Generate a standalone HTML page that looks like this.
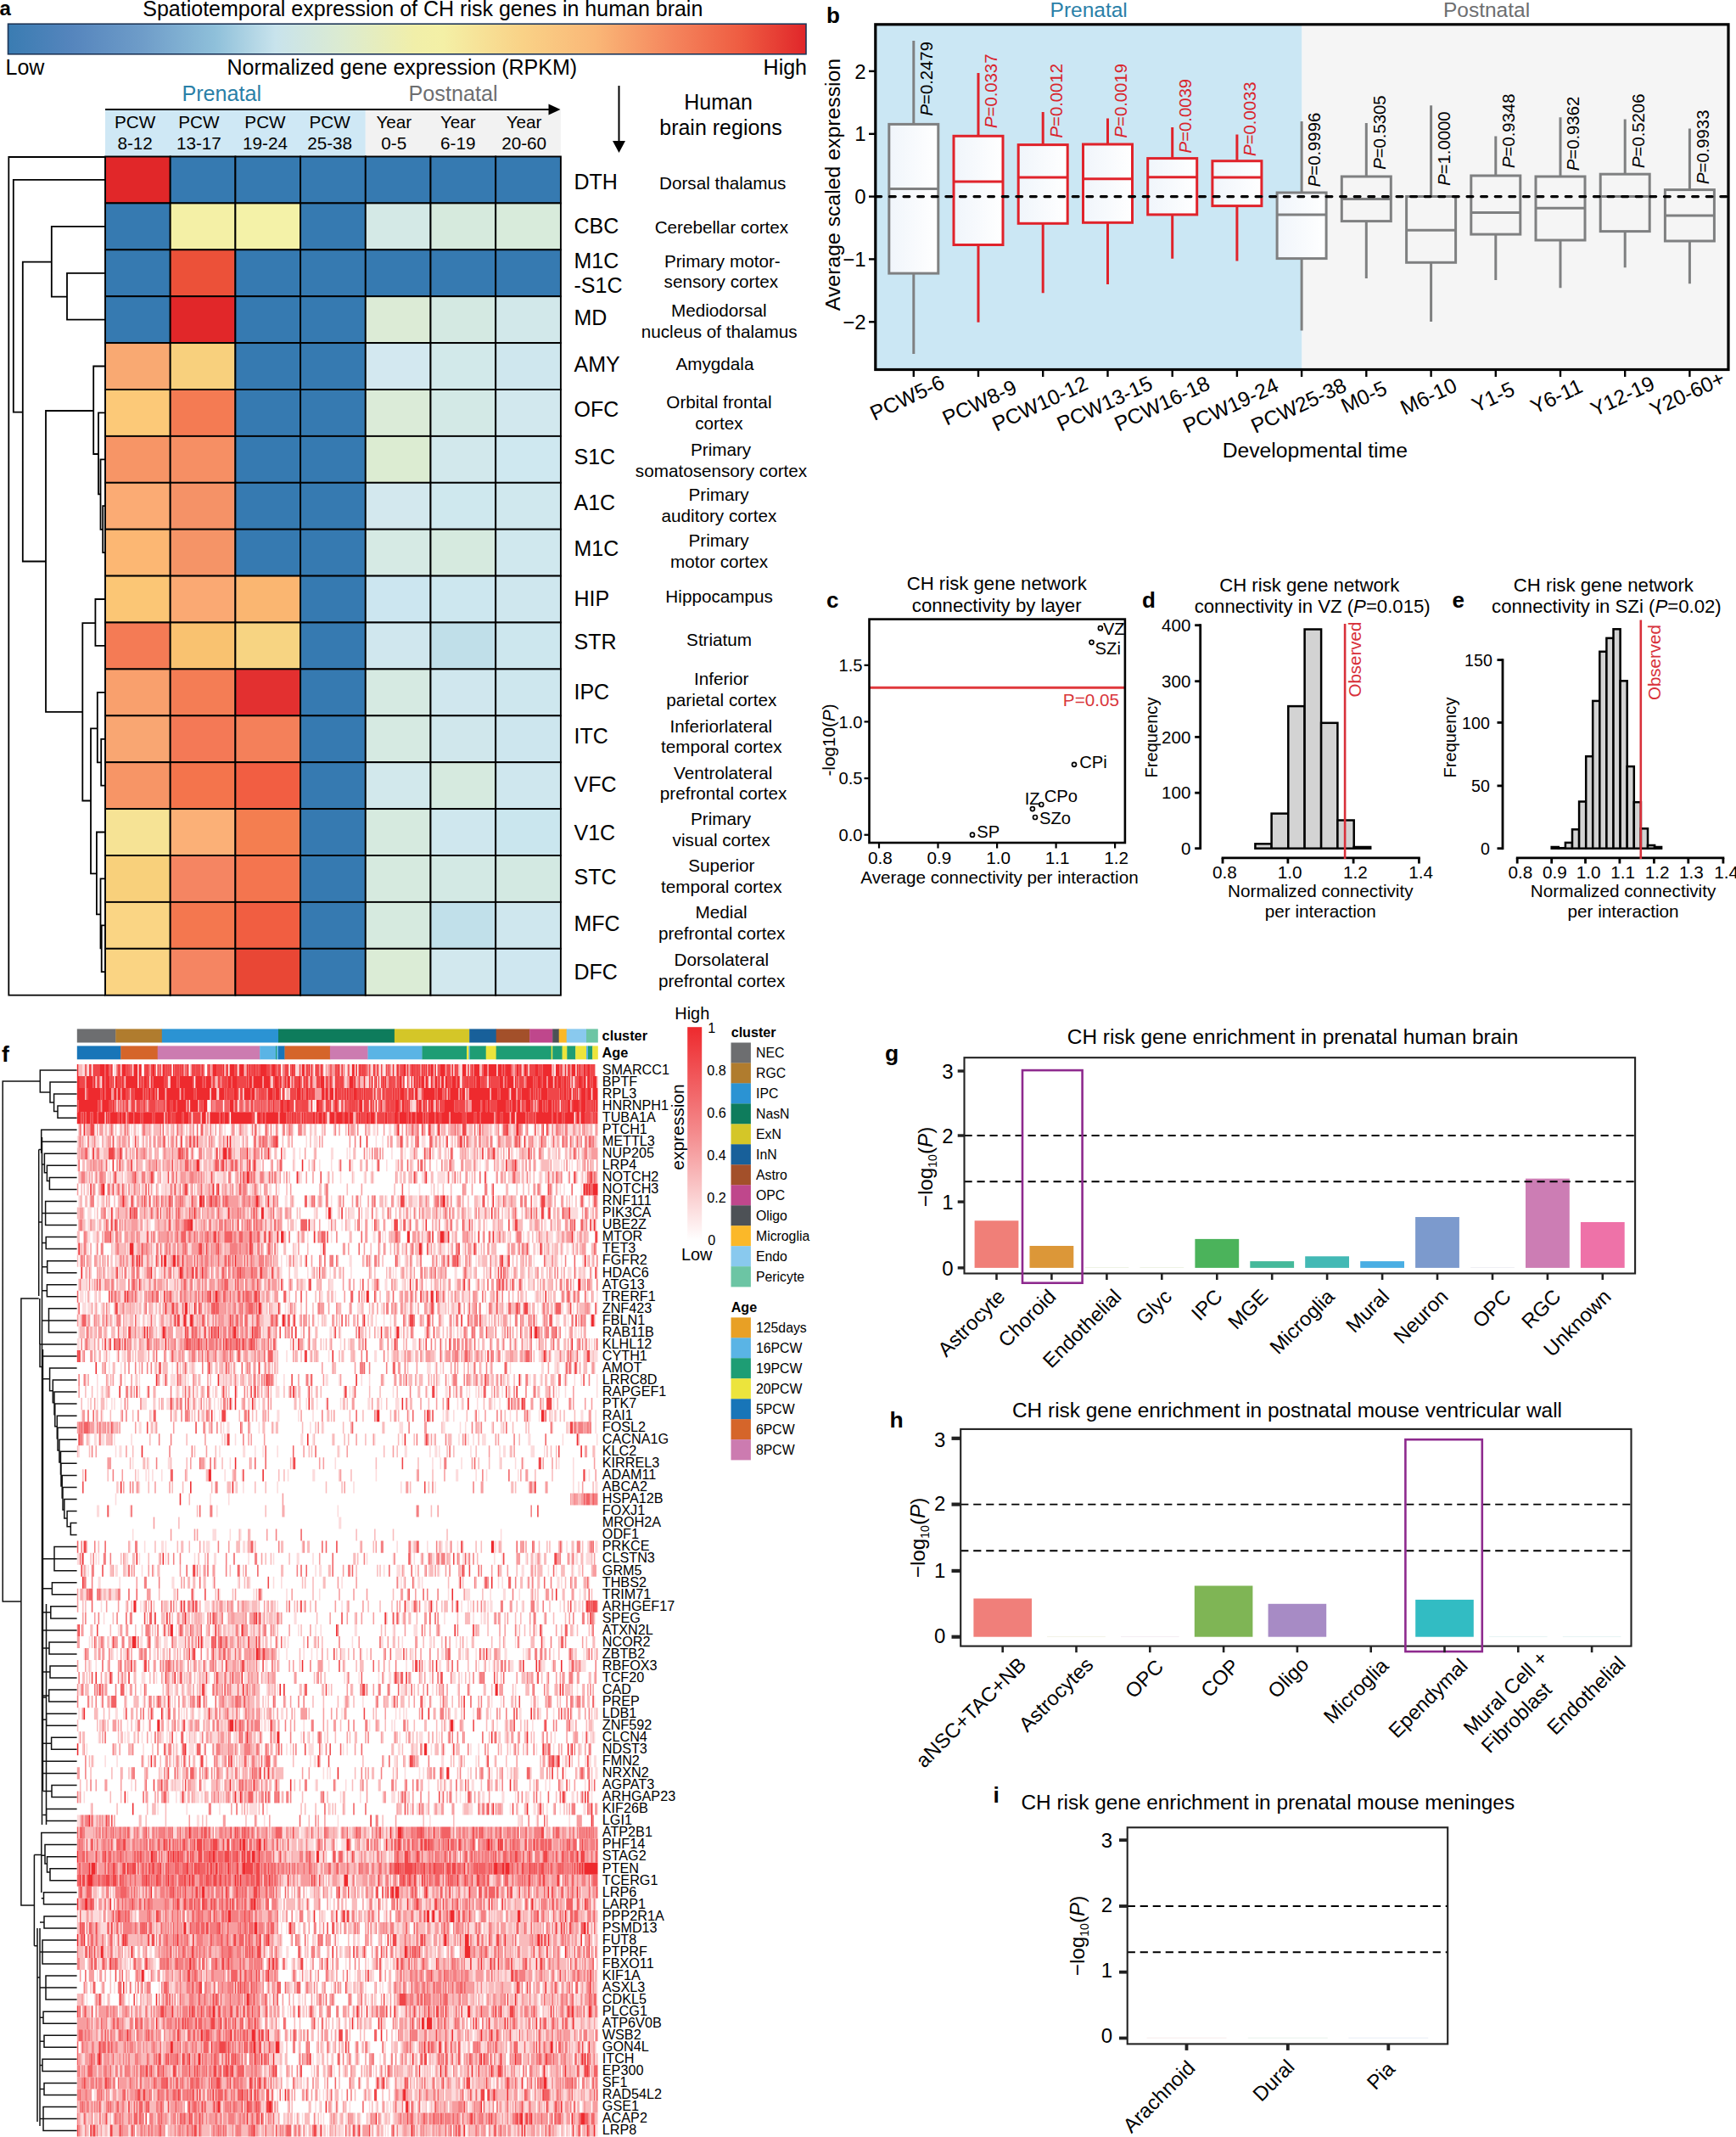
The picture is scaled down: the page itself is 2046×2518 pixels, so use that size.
<!DOCTYPE html>
<html><head><meta charset="utf-8"><title>CH risk genes figure</title>
<style>html,body{margin:0;padding:0;background:#fff}svg{display:block}text{font-family:"Liberation Sans",sans-serif}</style>
</head><body>
<svg width="2046" height="2518" viewBox="0 0 2046 2518">
<rect width="2046" height="2518" fill="#fff"/>
<text x="-0.5" y="18.3" font-size="24" font-weight="bold">a</text>
<text x="498.3" y="18.6" font-size="25" text-anchor="middle">Spatiotemporal expression of CH risk genes in human brain</text>
<defs><linearGradient id="ga" x1="0" x2="1" y1="0" y2="0"><stop offset="0" stop-color="#3a7cb2"/><stop offset="0.08" stop-color="#5585bd"/><stop offset="0.17" stop-color="#6f9dc9"/><stop offset="0.26" stop-color="#8fc0da"/><stop offset="0.335" stop-color="#c8e3ec"/><stop offset="0.42" stop-color="#dcebd0"/><stop offset="0.51" stop-color="#f1efa9"/><stop offset="0.545" stop-color="#f4f0a6"/><stop offset="0.644" stop-color="#f9d287"/><stop offset="0.736" stop-color="#fab777"/><stop offset="0.828" stop-color="#f5875e"/><stop offset="0.92" stop-color="#ee5b41"/><stop offset="1" stop-color="#e0262a"/></linearGradient></defs>
<rect x="9.5" y="28.2" width="940.5" height="35.6" fill="url(#ga)" stroke="#1d3557" stroke-width="1.6"/>
<text x="6.5" y="88.2" font-size="25">Low</text>
<text x="473.8" y="88.2" font-size="25" text-anchor="middle">Normalized gene expression (RPKM)</text>
<text x="951.0" y="88.2" font-size="25" text-anchor="end">High</text>
<text x="261.3" y="119.3" font-size="25.2" text-anchor="middle" fill="#2a80a8">Prenatal</text>
<text x="534.0" y="119.3" font-size="25.2" text-anchor="middle" fill="#6d6e70">Postnatal</text>
<rect x="124.0" y="130" width="306.8" height="54.5" fill="#cfe8f5"/>
<rect x="430.8" y="130" width="230.1" height="54.5" fill="#f2f2f2"/>
<path d="M124 129H650" stroke="#000" stroke-width="2" fill="none"/>
<path d="M660.5 129L646.5 122.5V135.5Z" fill="#000"/>
<path d="M729.5 101V168" stroke="#000" stroke-width="2" fill="none"/>
<path d="M729.5 180L722 166H737Z" fill="#000"/>
<text x="159.1" y="150.5" font-size="20.7" text-anchor="middle">PCW</text>
<text x="159.1" y="175.8" font-size="20.7" text-anchor="middle">8-12</text>
<text x="234.4" y="150.5" font-size="20.7" text-anchor="middle">PCW</text>
<text x="234.4" y="175.8" font-size="20.7" text-anchor="middle">13-17</text>
<text x="312.5" y="150.5" font-size="20.7" text-anchor="middle">PCW</text>
<text x="312.5" y="175.8" font-size="20.7" text-anchor="middle">19-24</text>
<text x="388.6" y="150.5" font-size="20.7" text-anchor="middle">PCW</text>
<text x="388.6" y="175.8" font-size="20.7" text-anchor="middle">25-38</text>
<text x="464.3" y="150.5" font-size="20.7" text-anchor="middle">Year</text>
<text x="464.3" y="175.8" font-size="20.7" text-anchor="middle">0-5</text>
<text x="539.8" y="150.5" font-size="20.7" text-anchor="middle">Year</text>
<text x="539.8" y="175.8" font-size="20.7" text-anchor="middle">6-19</text>
<text x="617.6" y="150.5" font-size="20.7" text-anchor="middle">Year</text>
<text x="617.6" y="175.8" font-size="20.7" text-anchor="middle">20-60</text>
<text x="846.5" y="128.7" font-size="25" text-anchor="middle">Human</text>
<text x="849.5" y="159.3" font-size="25" text-anchor="middle">brain regions</text>
<g stroke="#000" stroke-width="1.9">
<rect x="124.0" y="184.5" width="76.7" height="54.9" fill="#e12729"/>
<rect x="200.7" y="184.5" width="76.7" height="54.9" fill="#367ab1"/>
<rect x="277.4" y="184.5" width="76.7" height="54.9" fill="#367ab1"/>
<rect x="354.1" y="184.5" width="76.7" height="54.9" fill="#367ab1"/>
<rect x="430.8" y="184.5" width="76.7" height="54.9" fill="#367ab1"/>
<rect x="507.5" y="184.5" width="76.7" height="54.9" fill="#367ab1"/>
<rect x="584.2" y="184.5" width="76.7" height="54.9" fill="#367ab1"/>
<rect x="124.0" y="239.4" width="76.7" height="54.9" fill="#367ab1"/>
<rect x="200.7" y="239.4" width="76.7" height="54.9" fill="#f4f0a6"/>
<rect x="277.4" y="239.4" width="76.7" height="54.9" fill="#f4f2a8"/>
<rect x="354.1" y="239.4" width="76.7" height="54.9" fill="#367ab1"/>
<rect x="430.8" y="239.4" width="76.7" height="54.9" fill="#d4e9e6"/>
<rect x="507.5" y="239.4" width="76.7" height="54.9" fill="#d6eadd"/>
<rect x="584.2" y="239.4" width="76.7" height="54.9" fill="#d8ebdb"/>
<rect x="124.0" y="294.3" width="76.7" height="54.9" fill="#367ab1"/>
<rect x="200.7" y="294.3" width="76.7" height="54.9" fill="#ec5139"/>
<rect x="277.4" y="294.3" width="76.7" height="54.9" fill="#367ab1"/>
<rect x="354.1" y="294.3" width="76.7" height="54.9" fill="#367ab1"/>
<rect x="430.8" y="294.3" width="76.7" height="54.9" fill="#367ab1"/>
<rect x="507.5" y="294.3" width="76.7" height="54.9" fill="#367ab1"/>
<rect x="584.2" y="294.3" width="76.7" height="54.9" fill="#367ab1"/>
<rect x="124.0" y="349.2" width="76.7" height="54.9" fill="#367ab1"/>
<rect x="200.7" y="349.2" width="76.7" height="54.9" fill="#e12729"/>
<rect x="277.4" y="349.2" width="76.7" height="54.9" fill="#367ab1"/>
<rect x="354.1" y="349.2" width="76.7" height="54.9" fill="#367ab1"/>
<rect x="430.8" y="349.2" width="76.7" height="54.9" fill="#dcebd6"/>
<rect x="507.5" y="349.2" width="76.7" height="54.9" fill="#d4e9e2"/>
<rect x="584.2" y="349.2" width="76.7" height="54.9" fill="#d2e8ea"/>
<rect x="124.0" y="404.1" width="76.7" height="54.9" fill="#f9a972"/>
<rect x="200.7" y="404.1" width="76.7" height="54.9" fill="#f8d07d"/>
<rect x="277.4" y="404.1" width="76.7" height="54.9" fill="#367ab1"/>
<rect x="354.1" y="404.1" width="76.7" height="54.9" fill="#367ab1"/>
<rect x="430.8" y="404.1" width="76.7" height="54.9" fill="#d3e8f0"/>
<rect x="507.5" y="404.1" width="76.7" height="54.9" fill="#d2e9ea"/>
<rect x="584.2" y="404.1" width="76.7" height="54.9" fill="#cfe7ee"/>
<rect x="124.0" y="459.0" width="76.7" height="54.9" fill="#fcc978"/>
<rect x="200.7" y="459.0" width="76.7" height="54.9" fill="#f47b53"/>
<rect x="277.4" y="459.0" width="76.7" height="54.9" fill="#367ab1"/>
<rect x="354.1" y="459.0" width="76.7" height="54.9" fill="#367ab1"/>
<rect x="430.8" y="459.0" width="76.7" height="54.9" fill="#dbebd8"/>
<rect x="507.5" y="459.0" width="76.7" height="54.9" fill="#d3e9e6"/>
<rect x="584.2" y="459.0" width="76.7" height="54.9" fill="#d2e8ee"/>
<rect x="124.0" y="513.9" width="76.7" height="54.9" fill="#f79566"/>
<rect x="200.7" y="513.9" width="76.7" height="54.9" fill="#f68f64"/>
<rect x="277.4" y="513.9" width="76.7" height="54.9" fill="#367ab1"/>
<rect x="354.1" y="513.9" width="76.7" height="54.9" fill="#367ab1"/>
<rect x="430.8" y="513.9" width="76.7" height="54.9" fill="#dcecd2"/>
<rect x="507.5" y="513.9" width="76.7" height="54.9" fill="#d2e8ec"/>
<rect x="584.2" y="513.9" width="76.7" height="54.9" fill="#cfe8f0"/>
<rect x="124.0" y="568.8" width="76.7" height="54.9" fill="#fbab74"/>
<rect x="200.7" y="568.8" width="76.7" height="54.9" fill="#f59267"/>
<rect x="277.4" y="568.8" width="76.7" height="54.9" fill="#367ab1"/>
<rect x="354.1" y="568.8" width="76.7" height="54.9" fill="#367ab1"/>
<rect x="430.8" y="568.8" width="76.7" height="54.9" fill="#d3e8ee"/>
<rect x="507.5" y="568.8" width="76.7" height="54.9" fill="#cfe8ee"/>
<rect x="584.2" y="568.8" width="76.7" height="54.9" fill="#d0e8ee"/>
<rect x="124.0" y="623.7" width="76.7" height="54.9" fill="#fcb773"/>
<rect x="200.7" y="623.7" width="76.7" height="54.9" fill="#f59467"/>
<rect x="277.4" y="623.7" width="76.7" height="54.9" fill="#367ab1"/>
<rect x="354.1" y="623.7" width="76.7" height="54.9" fill="#367ab1"/>
<rect x="430.8" y="623.7" width="76.7" height="54.9" fill="#d6eae4"/>
<rect x="507.5" y="623.7" width="76.7" height="54.9" fill="#d6eadf"/>
<rect x="584.2" y="623.7" width="76.7" height="54.9" fill="#d0e8ee"/>
<rect x="124.0" y="678.6" width="76.7" height="54.9" fill="#fbc675"/>
<rect x="200.7" y="678.6" width="76.7" height="54.9" fill="#faa973"/>
<rect x="277.4" y="678.6" width="76.7" height="54.9" fill="#fab671"/>
<rect x="354.1" y="678.6" width="76.7" height="54.9" fill="#367ab1"/>
<rect x="430.8" y="678.6" width="76.7" height="54.9" fill="#cce6f0"/>
<rect x="507.5" y="678.6" width="76.7" height="54.9" fill="#cde7ef"/>
<rect x="584.2" y="678.6" width="76.7" height="54.9" fill="#cfe7ee"/>
<rect x="124.0" y="733.5" width="76.7" height="54.9" fill="#f47b55"/>
<rect x="200.7" y="733.5" width="76.7" height="54.9" fill="#f9c270"/>
<rect x="277.4" y="733.5" width="76.7" height="54.9" fill="#f7d482"/>
<rect x="354.1" y="733.5" width="76.7" height="54.9" fill="#367ab1"/>
<rect x="430.8" y="733.5" width="76.7" height="54.9" fill="#d0e7ee"/>
<rect x="507.5" y="733.5" width="76.7" height="54.9" fill="#c0dfe9"/>
<rect x="584.2" y="733.5" width="76.7" height="54.9" fill="#cde7ee"/>
<rect x="124.0" y="788.4" width="76.7" height="54.9" fill="#f9a06d"/>
<rect x="200.7" y="788.4" width="76.7" height="54.9" fill="#f47d55"/>
<rect x="277.4" y="788.4" width="76.7" height="54.9" fill="#e33030"/>
<rect x="354.1" y="788.4" width="76.7" height="54.9" fill="#367ab1"/>
<rect x="430.8" y="788.4" width="76.7" height="54.9" fill="#d6eae2"/>
<rect x="507.5" y="788.4" width="76.7" height="54.9" fill="#d0e7ee"/>
<rect x="584.2" y="788.4" width="76.7" height="54.9" fill="#cee7ee"/>
<rect x="124.0" y="843.3" width="76.7" height="54.9" fill="#f9a672"/>
<rect x="200.7" y="843.3" width="76.7" height="54.9" fill="#f47956"/>
<rect x="277.4" y="843.3" width="76.7" height="54.9" fill="#f4805a"/>
<rect x="354.1" y="843.3" width="76.7" height="54.9" fill="#367ab1"/>
<rect x="430.8" y="843.3" width="76.7" height="54.9" fill="#d6eae2"/>
<rect x="507.5" y="843.3" width="76.7" height="54.9" fill="#d0e7ec"/>
<rect x="584.2" y="843.3" width="76.7" height="54.9" fill="#cde6ee"/>
<rect x="124.0" y="898.2" width="76.7" height="54.9" fill="#f79566"/>
<rect x="200.7" y="898.2" width="76.7" height="54.9" fill="#f4744c"/>
<rect x="277.4" y="898.2" width="76.7" height="54.9" fill="#f25e42"/>
<rect x="354.1" y="898.2" width="76.7" height="54.9" fill="#367ab1"/>
<rect x="430.8" y="898.2" width="76.7" height="54.9" fill="#d2e8ec"/>
<rect x="507.5" y="898.2" width="76.7" height="54.9" fill="#d6eadf"/>
<rect x="584.2" y="898.2" width="76.7" height="54.9" fill="#cfe7ee"/>
<rect x="124.0" y="953.1" width="76.7" height="54.9" fill="#f6e395"/>
<rect x="200.7" y="953.1" width="76.7" height="54.9" fill="#fbb077"/>
<rect x="277.4" y="953.1" width="76.7" height="54.9" fill="#f47e50"/>
<rect x="354.1" y="953.1" width="76.7" height="54.9" fill="#367ab1"/>
<rect x="430.8" y="953.1" width="76.7" height="54.9" fill="#d6eadf"/>
<rect x="507.5" y="953.1" width="76.7" height="54.9" fill="#cfe7ee"/>
<rect x="584.2" y="953.1" width="76.7" height="54.9" fill="#cae6ee"/>
<rect x="124.0" y="1008.0" width="76.7" height="54.9" fill="#f8d07b"/>
<rect x="200.7" y="1008.0" width="76.7" height="54.9" fill="#f58562"/>
<rect x="277.4" y="1008.0" width="76.7" height="54.9" fill="#f4754f"/>
<rect x="354.1" y="1008.0" width="76.7" height="54.9" fill="#367ab1"/>
<rect x="430.8" y="1008.0" width="76.7" height="54.9" fill="#d6eadf"/>
<rect x="507.5" y="1008.0" width="76.7" height="54.9" fill="#d3e9e4"/>
<rect x="584.2" y="1008.0" width="76.7" height="54.9" fill="#d3e9e2"/>
<rect x="124.0" y="1062.9" width="76.7" height="54.9" fill="#fad584"/>
<rect x="200.7" y="1062.9" width="76.7" height="54.9" fill="#f4774f"/>
<rect x="277.4" y="1062.9" width="76.7" height="54.9" fill="#f15e41"/>
<rect x="354.1" y="1062.9" width="76.7" height="54.9" fill="#367ab1"/>
<rect x="430.8" y="1062.9" width="76.7" height="54.9" fill="#d6eadf"/>
<rect x="507.5" y="1062.9" width="76.7" height="54.9" fill="#c1e0ea"/>
<rect x="584.2" y="1062.9" width="76.7" height="54.9" fill="#cfe7ee"/>
<rect x="124.0" y="1117.8" width="76.7" height="54.9" fill="#fad483"/>
<rect x="200.7" y="1117.8" width="76.7" height="54.9" fill="#f58562"/>
<rect x="277.4" y="1117.8" width="76.7" height="54.9" fill="#e94735"/>
<rect x="354.1" y="1117.8" width="76.7" height="54.9" fill="#367ab1"/>
<rect x="430.8" y="1117.8" width="76.7" height="54.9" fill="#dbecd6"/>
<rect x="507.5" y="1117.8" width="76.7" height="54.9" fill="#d2e8ee"/>
<rect x="584.2" y="1117.8" width="76.7" height="54.9" fill="#cfe7f0"/>
</g>
<path d="M124 185H10.3V1172.7H124M124 211.9H15.8V485.6H26.8M60.8 308.7H26.8V661.5H54M124 266.9H60.8V349.6H79M124 321.8H79V376.6H124M110.2 484H54V838.8H97.3M124 431.5H110.2V535H116M124 486.4H116V582.4H118.5M124 541.3H118.5V623.8H121.2M124 596.2H121.2V651.1H124M112.4 734.2H97.3V943.5H107M124 706.0H112.4V760.9H124M114.8 858.3H107V1029.3H113.9M124 815.9H114.8V898.4H119.2M124 870.8H119.2V925.6H124M124 980.5H113.9V1077.3H118.5M124 1035.4H118.5V1117.4H119.7M124 1090.3H119.7V1145.2H124" fill="none" stroke="#000" stroke-width="1.8"/>
<text x="676.5" y="222.5" font-size="25">DTH</text>
<text x="676.5" y="275.4" font-size="25">CBC</text>
<text x="676.5" y="316.0" font-size="25">M1C</text>
<text x="676.5" y="345.4" font-size="25">-S1C</text>
<text x="676.5" y="383.3" font-size="25">MD</text>
<text x="676.5" y="437.7" font-size="25">AMY</text>
<text x="676.5" y="491.4" font-size="25">OFC</text>
<text x="676.5" y="547.4" font-size="25">S1C</text>
<text x="676.5" y="601.0" font-size="25">A1C</text>
<text x="676.5" y="655.3" font-size="25">M1C</text>
<text x="676.5" y="713.9" font-size="25">HIP</text>
<text x="676.5" y="764.7" font-size="25">STR</text>
<text x="676.5" y="823.6" font-size="25">IPC</text>
<text x="676.5" y="876.4" font-size="25">ITC</text>
<text x="676.5" y="933.4" font-size="25">VFC</text>
<text x="676.5" y="989.7" font-size="25">V1C</text>
<text x="676.5" y="1041.5" font-size="25">STC</text>
<text x="676.5" y="1097.0" font-size="25">MFC</text>
<text x="676.5" y="1153.6" font-size="25">DFC</text>
<text x="851.7" y="222.5" font-size="20.7" text-anchor="middle">Dorsal thalamus</text>
<text x="850.4" y="275.4" font-size="20.7" text-anchor="middle">Cerebellar cortex</text>
<text x="851.3" y="314.8" font-size="20.7" text-anchor="middle">Primary motor-</text>
<text x="849.8" y="339.4" font-size="20.7" text-anchor="middle">sensory cortex</text>
<text x="847.3" y="372.8" font-size="20.7" text-anchor="middle">Mediodorsal</text>
<text x="847.7" y="397.6" font-size="20.7" text-anchor="middle">nucleus of thalamus</text>
<text x="842.4" y="435.8" font-size="20.7" text-anchor="middle">Amygdala</text>
<text x="847.4" y="480.6" font-size="20.7" text-anchor="middle">Orbital frontal</text>
<text x="847.4" y="505.7" font-size="20.7" text-anchor="middle">cortex</text>
<text x="849.6" y="536.7" font-size="20.7" text-anchor="middle">Primary</text>
<text x="850.0" y="561.8" font-size="20.7" text-anchor="middle">somatosensory cortex</text>
<text x="847.1" y="590.0" font-size="20.7" text-anchor="middle">Primary</text>
<text x="847.4" y="614.7" font-size="20.7" text-anchor="middle">auditory cortex</text>
<text x="847.1" y="644.0" font-size="20.7" text-anchor="middle">Primary</text>
<text x="847.6" y="669.0" font-size="20.7" text-anchor="middle">motor cortex</text>
<text x="847.6" y="710.3" font-size="20.7" text-anchor="middle">Hippocampus</text>
<text x="847.6" y="761.1" font-size="20.7" text-anchor="middle">Striatum</text>
<text x="850.1" y="806.5" font-size="20.7" text-anchor="middle">Inferior</text>
<text x="850.3" y="831.5" font-size="20.7" text-anchor="middle">parietal cortex</text>
<text x="849.8" y="862.5" font-size="20.7" text-anchor="middle">Inferiorlateral</text>
<text x="850.2" y="887.1" font-size="20.7" text-anchor="middle">temporal cortex</text>
<text x="852.2" y="917.9" font-size="20.7" text-anchor="middle">Ventrolateral</text>
<text x="852.5" y="942.0" font-size="20.7" text-anchor="middle">prefrontal cortex</text>
<text x="849.6" y="971.8" font-size="20.7" text-anchor="middle">Primary</text>
<text x="850.1" y="996.9" font-size="20.7" text-anchor="middle">visual cortex</text>
<text x="850.4" y="1026.5" font-size="20.7" text-anchor="middle">Superior</text>
<text x="850.2" y="1051.5" font-size="20.7" text-anchor="middle">temporal cortex</text>
<text x="850.1" y="1082.0" font-size="20.7" text-anchor="middle">Medial</text>
<text x="850.7" y="1106.6" font-size="20.7" text-anchor="middle">prefrontal cortex</text>
<text x="850.3" y="1138.0" font-size="20.7" text-anchor="middle">Dorsolateral</text>
<text x="850.7" y="1163.0" font-size="20.7" text-anchor="middle">prefrontal cortex</text>
<text x="974.0" y="26.5" font-size="26" font-weight="bold">b</text>
<text x="1283.2" y="19.5" font-size="24.5" text-anchor="middle" fill="#2a80a8">Prenatal</text>
<text x="1752.0" y="19.5" font-size="24.5" text-anchor="middle" fill="#6d6e70">Postnatal</text>
<rect x="1031.8" y="28.8" width="502.7" height="406.7" fill="#cbe7f4"/>
<rect x="1534.5" y="28.8" width="502.5" height="406.7" fill="#f5f5f5"/>
<path d="M1024 83.9H1031" stroke="#000" stroke-width="2.4"/>
<text x="1020.5" y="92.5" font-size="24" text-anchor="end">2</text>
<path d="M1024 157.8H1031" stroke="#000" stroke-width="2.4"/>
<text x="1020.5" y="166.3" font-size="24" text-anchor="end">1</text>
<path d="M1024 231.6H1031" stroke="#000" stroke-width="2.4"/>
<text x="1020.5" y="240.2" font-size="24" text-anchor="end">0</text>
<path d="M1024 305.4H1031" stroke="#000" stroke-width="2.4"/>
<text x="1020.5" y="314.1" font-size="24" text-anchor="end">−1</text>
<path d="M1024 379.3H1031" stroke="#000" stroke-width="2.4"/>
<text x="1020.5" y="387.9" font-size="24" text-anchor="end">−2</text>
<text transform="translate(989.5,217.5) rotate(-90)" font-size="24.8" text-anchor="middle">Average scaled expression</text>
<defs><linearGradient id="gb" x1="0" x2="1" y1="0" y2="0"><stop offset="0" stop-color="#f0f5fb"/><stop offset="1" stop-color="#ffffff"/></linearGradient></defs>
<g stroke="#7f8081" stroke-width="3" fill="none"><path d="M1076.8 48.0V146.4M1076.8 322.1V417.1"/><rect x="1047.8" y="146.4" width="58.0" height="175.7" fill="url(#gb)"/><path d="M1047.8 222.5H1105.8"/></g>
<g stroke="#e0232b" stroke-width="3" fill="none"><path d="M1153.0 86.0V160.3M1153.0 288.5V379.8"/><rect x="1124.0" y="160.3" width="58.0" height="128.2" fill="url(#gb)"/><path d="M1124.0 213.9H1182.0"/></g>
<g stroke="#e0232b" stroke-width="3" fill="none"><path d="M1229.2 132.0V170.6M1229.2 263.3V345.2"/><rect x="1200.2" y="170.6" width="58.0" height="92.7" fill="url(#gb)"/><path d="M1200.2 209.0H1258.2"/></g>
<g stroke="#e0232b" stroke-width="3" fill="none"><path d="M1305.5 139.6V170.0M1305.5 262.3V334.9"/><rect x="1276.5" y="170.0" width="58.0" height="92.3" fill="url(#gb)"/><path d="M1276.5 210.8H1334.5"/></g>
<g stroke="#e0232b" stroke-width="3" fill="none"><path d="M1381.7 149.9V186.6M1381.7 252.9V304.8"/><rect x="1352.7" y="186.6" width="58.0" height="66.3" fill="url(#gb)"/><path d="M1352.7 208.7H1410.7"/></g>
<g stroke="#e0232b" stroke-width="3" fill="none"><path d="M1457.9 158.6V189.7M1457.9 242.6V307.6"/><rect x="1428.9" y="189.7" width="58.0" height="52.9" fill="url(#gb)"/><path d="M1428.9 209.0H1486.9"/></g>
<g stroke="#7f8081" stroke-width="3" fill="none"><path d="M1534.1 143.0V227.0M1534.1 304.6V389.5"/><rect x="1505.1" y="227.0" width="58.0" height="77.6" fill="url(#gb)"/><path d="M1505.1 252.9H1563.1"/></g>
<g stroke="#7f8081" stroke-width="3" fill="none"><path d="M1610.3 145.1V208.0M1610.3 260.6V327.9"/><rect x="1581.3" y="208.0" width="58.0" height="52.6" fill="none"/><path d="M1581.3 234.6H1639.3"/></g>
<g stroke="#7f8081" stroke-width="3" fill="none"><path d="M1686.6 124.3V231.5M1686.6 309.3V379.1"/><rect x="1657.6" y="231.5" width="58.0" height="77.8" fill="none"/><path d="M1657.6 271.3H1715.6"/></g>
<g stroke="#7f8081" stroke-width="3" fill="none"><path d="M1762.8 160.6V207.0M1762.8 276.1V330.0"/><rect x="1733.8" y="207.0" width="58.0" height="69.1" fill="none"/><path d="M1733.8 250.6H1791.8"/></g>
<g stroke="#7f8081" stroke-width="3" fill="none"><path d="M1839.0 138.2V208.0M1839.0 283.0V339.3"/><rect x="1810.0" y="208.0" width="58.0" height="75.0" fill="none"/><path d="M1810.0 245.3H1868.0"/></g>
<g stroke="#7f8081" stroke-width="3" fill="none"><path d="M1915.2 140.6V205.2M1915.2 272.6V315.2"/><rect x="1886.2" y="205.2" width="58.0" height="67.4" fill="none"/><path d="M1886.2 231.5H1944.2"/></g>
<g stroke="#7f8081" stroke-width="3" fill="none"><path d="M1991.4 151.6V223.6M1991.4 284.0V334.2"/><rect x="1962.4" y="223.6" width="58.0" height="60.4" fill="none"/><path d="M1962.4 254.0H2020.4"/></g>
<path d="M1031.8 231.6H2037.0" stroke="#000" stroke-width="3.1" stroke-linecap="round" stroke-dasharray="6.9 9.7"/>
<text transform="translate(1099.1,136.5) rotate(-90)" font-size="20.3"><tspan font-style="italic">P</tspan>=0.2479</text>
<text transform="translate(1175.3,151.0) rotate(-90)" font-size="20.3" fill="#d9242c"><tspan font-style="italic">P</tspan>=0.0337</text>
<text transform="translate(1251.5,162.5) rotate(-90)" font-size="20.3" fill="#d9242c"><tspan font-style="italic">P</tspan>=0.0012</text>
<text transform="translate(1327.8,162.5) rotate(-90)" font-size="20.3" fill="#d9242c"><tspan font-style="italic">P</tspan>=0.0019</text>
<text transform="translate(1404.0,180.4) rotate(-90)" font-size="20.3" fill="#d9242c"><tspan font-style="italic">P</tspan>=0.0039</text>
<text transform="translate(1480.2,183.9) rotate(-90)" font-size="20.3" fill="#d9242c"><tspan font-style="italic">P</tspan>=0.0033</text>
<text transform="translate(1556.4,220.2) rotate(-90)" font-size="20.3"><tspan font-style="italic">P</tspan>=0.9996</text>
<text transform="translate(1632.6,199.8) rotate(-90)" font-size="20.3"><tspan font-style="italic">P</tspan>=0.5305</text>
<text transform="translate(1708.9,218.8) rotate(-90)" font-size="20.3"><tspan font-style="italic">P</tspan>=1.0000</text>
<text transform="translate(1785.1,198.0) rotate(-90)" font-size="20.3"><tspan font-style="italic">P</tspan>=0.9348</text>
<text transform="translate(1861.3,201.2) rotate(-90)" font-size="20.3"><tspan font-style="italic">P</tspan>=0.9362</text>
<text transform="translate(1937.5,198.0) rotate(-90)" font-size="20.3"><tspan font-style="italic">P</tspan>=0.5206</text>
<text transform="translate(2013.7,217.0) rotate(-90)" font-size="20.3"><tspan font-style="italic">P</tspan>=0.9933</text>
<rect x="1031.8" y="28.8" width="1005.2" height="406.7" fill="none" stroke="#000" stroke-width="3.2"/>
<path d="M1076.8 437V444" stroke="#000" stroke-width="2.4"/>
<text transform="translate(1072.8,476.2) rotate(-25)" font-size="24.7" text-anchor="middle">PCW5-6</text>
<path d="M1153.0 437V444" stroke="#000" stroke-width="2.4"/>
<text transform="translate(1158.0,482.0) rotate(-25)" font-size="24.7" text-anchor="middle">PCW8-9</text>
<path d="M1229.2 437V444" stroke="#000" stroke-width="2.4"/>
<text transform="translate(1229.2,483.2) rotate(-25)" font-size="24.7" text-anchor="middle">PCW10-12</text>
<path d="M1305.5 437V444" stroke="#000" stroke-width="2.4"/>
<text transform="translate(1305.5,483.2) rotate(-25)" font-size="24.7" text-anchor="middle">PCW13-15</text>
<path d="M1381.7 437V444" stroke="#000" stroke-width="2.4"/>
<text transform="translate(1373.1,483.2) rotate(-25)" font-size="24.7" text-anchor="middle">PCW16-18</text>
<path d="M1457.9 437V444" stroke="#000" stroke-width="2.4"/>
<text transform="translate(1453.9,485.5) rotate(-25)" font-size="24.7" text-anchor="middle">PCW19-24</text>
<path d="M1534.1 437V444" stroke="#000" stroke-width="2.4"/>
<text transform="translate(1534.1,485.5) rotate(-25)" font-size="24.7" text-anchor="middle">PCW25-38</text>
<path d="M1610.3 437V444" stroke="#000" stroke-width="2.4"/>
<text transform="translate(1610.9,475.3) rotate(-25)" font-size="24.7" text-anchor="middle">M0-5</text>
<path d="M1686.6 437V444" stroke="#000" stroke-width="2.4"/>
<text transform="translate(1687.2,474.8) rotate(-25)" font-size="24.7" text-anchor="middle">M6-10</text>
<path d="M1762.8 437V444" stroke="#000" stroke-width="2.4"/>
<text transform="translate(1763.4,475.5) rotate(-25)" font-size="24.7" text-anchor="middle">Y1-5</text>
<path d="M1839.0 437V444" stroke="#000" stroke-width="2.4"/>
<text transform="translate(1838.0,474.6) rotate(-25)" font-size="24.7" text-anchor="middle">Y6-11</text>
<path d="M1915.2 437V444" stroke="#000" stroke-width="2.4"/>
<text transform="translate(1915.8,474.5) rotate(-25)" font-size="24.7" text-anchor="middle">Y12-19</text>
<path d="M1991.4 437V444" stroke="#000" stroke-width="2.4"/>
<text transform="translate(1992.0,471.6) rotate(-25)" font-size="24.7" text-anchor="middle">Y20-60+</text>
<text x="1549.8" y="539.3" font-size="24.7" text-anchor="middle">Developmental time</text>
<text x="974.0" y="716.0" font-size="26" font-weight="bold">c</text>
<text x="1174.7" y="694.6" font-size="22.2" text-anchor="middle">CH risk gene network</text>
<text x="1174.7" y="721.0" font-size="22.2" text-anchor="middle">connectivity by layer</text>
<path d="M1024.5 810.2H1325.9" stroke="#e0383c" stroke-width="3"/>
<text x="1319.0" y="831.7" font-size="20.7" text-anchor="end" fill="#d9363b">P=0.05</text>
<rect x="1024.5" y="729.6" width="301.4" height="263.4" fill="none" stroke="#000" stroke-width="2.6"/>
<path d="M1018.5 783.8H1024" stroke="#000" stroke-width="2.2"/>
<text x="1016.5" y="791.0" font-size="20.2" text-anchor="end">1.5</text>
<path d="M1018.5 850.4H1024" stroke="#000" stroke-width="2.2"/>
<text x="1016.5" y="857.6" font-size="20.2" text-anchor="end">1.0</text>
<path d="M1018.5 917.1H1024" stroke="#000" stroke-width="2.2"/>
<text x="1016.5" y="924.3" font-size="20.2" text-anchor="end">0.5</text>
<path d="M1018.5 983.7H1024" stroke="#000" stroke-width="2.2"/>
<text x="1016.5" y="990.9" font-size="20.2" text-anchor="end">0.0</text>
<path d="M1036.0 994V999.5" stroke="#000" stroke-width="2.2"/>
<text x="1037.5" y="1018.3" font-size="20.7" text-anchor="middle">0.8</text>
<path d="M1105.5 994V999.5" stroke="#000" stroke-width="2.2"/>
<text x="1107.0" y="1018.3" font-size="20.7" text-anchor="middle">0.9</text>
<path d="M1175.1 994V999.5" stroke="#000" stroke-width="2.2"/>
<text x="1176.6" y="1018.3" font-size="20.7" text-anchor="middle">1.0</text>
<path d="M1244.6 994V999.5" stroke="#000" stroke-width="2.2"/>
<text x="1246.1" y="1018.3" font-size="20.7" text-anchor="middle">1.1</text>
<path d="M1314.1 994V999.5" stroke="#000" stroke-width="2.2"/>
<text x="1315.6" y="1018.3" font-size="20.7" text-anchor="middle">1.2</text>
<text x="1178.0" y="1040.6" font-size="20.7" text-anchor="middle">Average connectivity per interaction</text>
<text transform="translate(983.5,872) rotate(-90)" font-size="20.7" text-anchor="middle">-log10(<tspan font-style="italic">P</tspan>)</text>
<circle cx="1296.9" cy="740.2" r="2.5" fill="#fff" stroke="#000" stroke-width="1.7"/>
<circle cx="1286.5" cy="756.8" r="2.5" fill="#fff" stroke="#000" stroke-width="1.7"/>
<circle cx="1266.0" cy="900.8" r="2.5" fill="#fff" stroke="#000" stroke-width="1.7"/>
<circle cx="1227.3" cy="948.0" r="2.5" fill="#fff" stroke="#000" stroke-width="1.7"/>
<circle cx="1216.9" cy="953.1" r="2.5" fill="#fff" stroke="#000" stroke-width="1.7"/>
<circle cx="1220.0" cy="963.0" r="2.5" fill="#fff" stroke="#000" stroke-width="1.7"/>
<circle cx="1146.0" cy="983.7" r="2.5" fill="#fff" stroke="#000" stroke-width="1.7"/>
<text x="1299.9" y="747.6" font-size="20.2">VZ</text>
<text x="1290.6" y="771.3" font-size="20.2">SZi</text>
<text x="1272.2" y="905.0" font-size="20.2">CPi</text>
<text x="1230.7" y="945.3" font-size="20.2">CPo</text>
<text x="1207.7" y="947.6" font-size="20.2">IZ</text>
<text x="1225.0" y="970.6" font-size="20.2">SZo</text>
<text x="1151.2" y="987.2" font-size="20.2">SP</text>
<g fill="#d3d3d3" stroke="#000" stroke-width="2.5">
<rect x="1479.4" y="994.3" width="19.2" height="5.4"/>
<rect x="1498.6" y="958.6" width="19.7" height="41.1"/>
<rect x="1518.3" y="832.1" width="19.3" height="167.6"/>
<rect x="1537.6" y="741.5" width="19.5" height="258.2"/>
<rect x="1557.1" y="851.8" width="19.3" height="147.9"/>
<rect x="1576.4" y="966.5" width="19.3" height="33.2"/>
<rect x="1595.7" y="998.0" width="19.5" height="1.7"/>
</g>
<path d="M1414.7 735.3V1001.1" stroke="#000" stroke-width="2.8"/>
<path d="M1408.2 736.7H1414.7" stroke="#000" stroke-width="2.8"/>
<text x="1403.3" y="743.9" font-size="20.5" text-anchor="end">400</text>
<path d="M1408.2 802.7H1414.7" stroke="#000" stroke-width="2.8"/>
<text x="1403.3" y="809.9" font-size="20.5" text-anchor="end">300</text>
<path d="M1408.2 868.4H1414.7" stroke="#000" stroke-width="2.8"/>
<text x="1403.3" y="875.6" font-size="20.5" text-anchor="end">200</text>
<path d="M1408.2 934.2H1414.7" stroke="#000" stroke-width="2.8"/>
<text x="1403.3" y="941.4" font-size="20.5" text-anchor="end">100</text>
<path d="M1408.2 999.7H1414.7" stroke="#000" stroke-width="2.8"/>
<text x="1403.3" y="1006.9" font-size="20.5" text-anchor="end">0</text>
<path d="M1439.6 1010.9H1673.8" stroke="#000" stroke-width="2.8"/>
<path d="M1441.0 1010.9V1017.5" stroke="#000" stroke-width="2.8"/>
<text x="1443.3" y="1035.4" font-size="20.7" text-anchor="middle">0.8</text>
<path d="M1517.9 1010.9V1017.5" stroke="#000" stroke-width="2.8"/>
<text x="1520.2" y="1035.4" font-size="20.7" text-anchor="middle">1.0</text>
<path d="M1595.1 1010.9V1017.5" stroke="#000" stroke-width="2.8"/>
<text x="1597.4" y="1035.4" font-size="20.7" text-anchor="middle">1.2</text>
<path d="M1672.4 1010.9V1017.5" stroke="#000" stroke-width="2.8"/>
<text x="1674.7" y="1035.4" font-size="20.7" text-anchor="middle">1.4</text>
<path d="M1585.1 735.0V1012" stroke="#d8303a" stroke-width="2.6"/>
<text transform="translate(1604.4,821.5) rotate(-90)" font-size="20.5" fill="#d8303a">Observed</text>
<text x="1346.0" y="716.4" font-size="26" font-weight="bold">d</text>
<text x="1543.2" y="696.9" font-size="22.2" text-anchor="middle">CH risk gene network</text>
<text x="1546.7" y="722.2" font-size="22.2" text-anchor="middle">connectivity in VZ (<tspan font-style="italic">P</tspan>=0.015)</text>
<text x="1556.3" y="1057.1" font-size="20.7" text-anchor="middle">Normalized connectivity</text>
<text x="1556.3" y="1081.0" font-size="20.7" text-anchor="middle">per interaction</text>
<text transform="translate(1363.5,869) rotate(-90)" font-size="20.1" text-anchor="middle">Frequency</text>
<g fill="#d3d3d3" stroke="#000" stroke-width="2.5">
<rect x="1828.7" y="998.0" width="8.1" height="1.7"/>
<rect x="1836.8" y="999.2" width="8.1" height="0.5"/>
<rect x="1844.9" y="992.9" width="8.1" height="6.8"/>
<rect x="1853.0" y="977.3" width="8.1" height="22.4"/>
<rect x="1861.1" y="944.5" width="8.1" height="55.2"/>
<rect x="1869.2" y="891.2" width="8.1" height="108.5"/>
<rect x="1877.2" y="825.9" width="8.1" height="173.8"/>
<rect x="1885.3" y="767.8" width="8.1" height="231.9"/>
<rect x="1893.4" y="751.9" width="8.1" height="247.8"/>
<rect x="1901.5" y="741.3" width="8.1" height="258.4"/>
<rect x="1909.6" y="802.3" width="8.1" height="197.4"/>
<rect x="1917.7" y="903.1" width="8.1" height="96.6"/>
<rect x="1925.8" y="945.2" width="8.1" height="54.5"/>
<rect x="1933.9" y="976.3" width="8.1" height="23.4"/>
<rect x="1942.0" y="996.0" width="8.1" height="3.7"/>
<rect x="1950.0" y="998.0" width="8.1" height="1.7"/>
</g>
<path d="M1771.0 776.2V1001.1" stroke="#000" stroke-width="2.8"/>
<path d="M1764.5 777.6H1771.0" stroke="#000" stroke-width="2.8"/>
<text x="1758.8" y="784.8" font-size="19.6" text-anchor="end">150</text>
<path d="M1764.5 851.4H1771.0" stroke="#000" stroke-width="2.8"/>
<text x="1755.8" y="858.6" font-size="19.6" text-anchor="end">100</text>
<path d="M1764.5 925.9H1771.0" stroke="#000" stroke-width="2.8"/>
<text x="1755.8" y="933.1" font-size="19.6" text-anchor="end">50</text>
<path d="M1764.5 999.7H1771.0" stroke="#000" stroke-width="2.8"/>
<text x="1755.8" y="1006.9" font-size="19.6" text-anchor="end">0</text>
<path d="M1786.8 1010.9H2032.3" stroke="#000" stroke-width="2.8"/>
<path d="M1788.2 1010.9V1017.5" stroke="#000" stroke-width="2.8"/>
<text x="1791.9" y="1035.4" font-size="20.7" text-anchor="middle">0.8</text>
<path d="M1828.7 1010.9V1017.5" stroke="#000" stroke-width="2.8"/>
<text x="1832.4" y="1035.4" font-size="20.7" text-anchor="middle">0.9</text>
<path d="M1868.5 1010.9V1017.5" stroke="#000" stroke-width="2.8"/>
<text x="1872.2" y="1035.4" font-size="20.7" text-anchor="middle">1.0</text>
<path d="M1908.9 1010.9V1017.5" stroke="#000" stroke-width="2.8"/>
<text x="1912.6" y="1035.4" font-size="20.7" text-anchor="middle">1.1</text>
<path d="M1949.4 1010.9V1017.5" stroke="#000" stroke-width="2.8"/>
<text x="1953.1" y="1035.4" font-size="20.7" text-anchor="middle">1.2</text>
<path d="M1989.8 1010.9V1017.5" stroke="#000" stroke-width="2.8"/>
<text x="1993.5" y="1035.4" font-size="20.7" text-anchor="middle">1.3</text>
<path d="M2030.9 1010.9V1017.5" stroke="#000" stroke-width="2.8"/>
<text x="2034.6" y="1035.4" font-size="20.7" text-anchor="middle">1.4</text>
<path d="M1933.8 730.5V1012" stroke="#d8303a" stroke-width="2.6"/>
<text transform="translate(1957.3,825.0) rotate(-90)" font-size="20.5" fill="#d8303a">Observed</text>
<text x="1711.5" y="716.4" font-size="26" font-weight="bold">e</text>
<text x="1889.9" y="696.9" font-size="22.2" text-anchor="middle">CH risk gene network</text>
<text x="1893.4" y="722.2" font-size="22.2" text-anchor="middle">connectivity in SZi (<tspan font-style="italic">P</tspan>=0.02)</text>
<text x="1913.1" y="1057.1" font-size="20.7" text-anchor="middle">Normalized connectivity</text>
<text x="1913.1" y="1081.0" font-size="20.7" text-anchor="middle">per interaction</text>
<text transform="translate(1715.5,869) rotate(-90)" font-size="20.1" text-anchor="middle">Frequency</text>
<text x="2.0" y="1251.0" font-size="26.5" font-weight="bold">f</text>
<rect x="90.8" y="1212.4" width="45.8" height="16.1" fill="#6d6e70"/>
<rect x="136.3" y="1212.4" width="54.8" height="16.1" fill="#b07c2e"/>
<rect x="190.8" y="1212.4" width="137.5" height="16.1" fill="#2b93d3"/>
<rect x="328.0" y="1212.4" width="137.2" height="16.1" fill="#0e7c5c"/>
<rect x="464.9" y="1212.4" width="88.6" height="16.1" fill="#d4c628"/>
<rect x="553.2" y="1212.4" width="31.8" height="16.1" fill="#18609a"/>
<rect x="584.7" y="1212.4" width="39.8" height="16.1" fill="#a3502a"/>
<rect x="624.2" y="1212.4" width="27.3" height="16.1" fill="#bf478c"/>
<rect x="651.2" y="1212.4" width="7.8" height="16.1" fill="#4d5156"/>
<rect x="658.7" y="1212.4" width="9.3" height="16.1" fill="#fbb829"/>
<rect x="667.7" y="1212.4" width="23.6" height="16.1" fill="#89c9ee"/>
<rect x="691.0" y="1212.4" width="13.8" height="16.1" fill="#6cc5a4"/>
<rect x="90.8" y="1232.4" width="51.8" height="15.9" fill="#1875b8"/>
<rect x="142.3" y="1232.4" width="43.7" height="15.9" fill="#d5652a"/>
<rect x="185.7" y="1232.4" width="120.8" height="15.9" fill="#cc7bb0"/>
<rect x="306.2" y="1232.4" width="19.1" height="15.9" fill="#5ab4e5"/>
<rect x="325.0" y="1232.4" width="1.6" height="15.9" fill="#1e9d74"/>
<rect x="326.3" y="1232.4" width="2.0" height="15.9" fill="#5ab4e5"/>
<rect x="328.0" y="1232.4" width="7.8" height="15.9" fill="#1875b8"/>
<rect x="335.5" y="1232.4" width="53.7" height="15.9" fill="#d5652a"/>
<rect x="388.9" y="1232.4" width="44.9" height="15.9" fill="#cc7bb0"/>
<rect x="433.5" y="1232.4" width="64.3" height="15.9" fill="#5ab4e5"/>
<rect x="497.5" y="1232.4" width="52.8" height="15.9" fill="#1e9d74"/>
<rect x="550.0" y="1232.4" width="2.8" height="15.9" fill="#ece43c"/>
<rect x="552.5" y="1232.4" width="1.6" height="15.9" fill="#5ab4e5"/>
<rect x="553.8" y="1232.4" width="19.2" height="15.9" fill="#1e9d74"/>
<rect x="572.7" y="1232.4" width="12.3" height="15.9" fill="#ece43c"/>
<rect x="584.7" y="1232.4" width="65.3" height="15.9" fill="#1e9d74"/>
<rect x="649.7" y="1232.4" width="1.8" height="15.9" fill="#ece43c"/>
<rect x="651.2" y="1232.4" width="11.7" height="15.9" fill="#1e9d74"/>
<rect x="662.6" y="1232.4" width="6.0" height="15.9" fill="#ece43c"/>
<rect x="668.3" y="1232.4" width="10.2" height="15.9" fill="#1e9d74"/>
<rect x="678.2" y="1232.4" width="13.1" height="15.9" fill="#ece43c"/>
<rect x="691.0" y="1232.4" width="2.3" height="15.9" fill="#5ab4e5"/>
<rect x="693.0" y="1232.4" width="5.5" height="15.9" fill="#1e9d74"/>
<rect x="698.2" y="1232.4" width="6.6" height="15.9" fill="#ece43c"/>
<g fill="none" stroke-width="14.04">
<path stroke="#fcdbdc" d="M97 1261.02h3.099m34.09 0h3.099m4.649 0h1.55m12.4 0h1.55m4.649 0h1.55m26.35 0h1.55m72.84 0h1.55m82.14 0h4.649m27.9 0h1.55m18.6 0h1.55m15.5 0h1.55m41.84 0h1.55m1.55 0h3.099m66.64 0h1.55m6.199 0h3.099m7.749 0h1.55m30.99 0h1.55m27.9 0h1.55m6.199 0h1.55m43.39 0h1.55m9.298 0h1.55M112.5 1275.06h1.55m4.649 0h1.55m13.95 0h1.55m26.35 0h1.55m12.4 0h1.55m20.15 0h3.099m119.3 0h1.55m20.15 0h1.55m12.4 0h1.55m6.199 0h1.55m41.84 0h1.55m23.25 0h3.099m9.298 0h1.55m40.29 0h1.55m35.64 0h1.55m17.05 0h3.099m60.44 0h1.55m68.19 0h1.55m13.95 0h1.55M185.3 1289.1h1.55m60.44 0h1.55m7.749 0h1.55m23.25 0h1.55m3.099 0h1.55m52.69 0h1.55m51.14 0h1.55m48.04 0h1.55m4.649 0h1.55m97.63 0h1.55m51.14 0h1.55m71.29 0h1.55m21.7 0h1.55M137.3 1303.14h1.55m83.69 0h1.55m23.25 0h1.55m120.9 0h1.55m10.85 0h1.55m15.5 0h3.099m24.8 0h1.55m6.199 0h1.55m4.649 0h1.55m43.39 0h4.649m12.4 0h1.55m155 0h1.55M225.6 1317.18h1.55m15.5 0h1.55m1.55 0h1.55m52.69 0h3.099m82.14 0h3.099m54.24 0h1.55m162.7 0h1.55M95.45 1331.22h1.55m43.39 0h1.55m1.55 0h3.099m7.749 0h1.55m6.199 0h1.55m13.95 0h1.55m15.5 0h1.55m10.85 0h1.55m7.749 0h1.55m7.749 0h1.55m21.7 0h3.099m9.298 0h1.55m1.55 0h1.55m12.4 0h1.55m7.749 0h1.55m1.55 0h1.55m3.099 0h1.55m9.298 0h1.55m13.95 0h1.55m21.7 0h1.55m9.298 0h1.55m9.298 0h1.55m1.55 0h1.55m9.298 0h1.55m29.45 0h1.55m18.6 0h1.55m6.199 0h3.099m15.5 0h3.099m18.6 0h1.55m32.54 0h1.55m9.298 0h1.55m17.05 0h1.55m4.649 0h3.099m13.95 0h1.55m7.749 0h1.55m1.55 0h1.55m1.55 0h1.55m18.6 0h3.099m23.25 0h1.55m4.649 0h1.55m10.85 0h1.55m3.099 0h3.099m9.298 0h1.55m3.099 0h6.199m4.649 0h1.55m12.4 0h1.55M90.8 1345.26h1.55m6.199 0h3.099m3.099 0h3.099m4.649 0h4.649m4.649 0h3.099m9.298 0h1.55m6.199 0h1.55m6.199 0h1.55m4.649 0h3.099m1.55 0h1.55m4.649 0h1.55m9.298 0h1.55m10.85 0h1.55m3.099 0h1.55m12.4 0h1.55m10.85 0h1.55m3.099 0h1.55m3.099 0h1.55m7.749 0h1.55m15.5 0h1.55m3.099 0h1.55m3.099 0h1.55m6.199 0h1.55m1.55 0h6.199m1.55 0h1.55m15.5 0h3.099m10.85 0h1.55m43.39 0h1.55m7.749 0h4.649m68.19 0h1.55m6.199 0h1.55m34.09 0h1.55m9.298 0h4.649m29.45 0h1.55m12.4 0h1.55m9.298 0h3.099m7.749 0h1.55m17.05 0h1.55m7.749 0h1.55m23.25 0h1.55m7.749 0h4.649m12.4 0h1.55m1.55 0h1.55m3.099 0h3.099m13.95 0h1.55m20.15 0h1.55m9.298 0h1.55M104.7 1359.3h1.55m4.649 0h1.55m4.649 0h4.649m13.95 0h1.55m9.298 0h1.55m1.55 0h3.099m1.55 0h1.55m17.05 0h3.099m24.8 0h1.55m21.7 0h1.55m12.4 0h1.55m12.4 0h1.55m6.199 0h1.55m12.4 0h1.55m1.55 0h6.199m9.298 0h1.55m1.55 0h3.099m20.15 0h1.55m15.5 0h1.55m7.749 0h3.099m4.649 0h1.55m35.64 0h3.099m15.5 0h1.55m1.55 0h1.55m48.04 0h1.55m13.95 0h1.55m4.649 0h4.649m10.85 0h1.55m10.85 0h1.55m3.099 0h1.55m6.199 0h1.55m24.8 0h1.55m3.099 0h3.099m3.099 0h1.55m4.649 0h1.55m3.099 0h1.55m23.25 0h1.55m6.199 0h1.55m3.099 0h1.55m10.85 0h1.55m7.749 0h1.55m18.6 0h4.649m4.649 0h1.55m23.25 0h1.55m6.199 0h1.55M90.8 1373.34h1.55m29.45 0h1.55m4.649 0h1.55m9.298 0h1.55m7.749 0h1.55m6.199 0h3.099m26.35 0h1.55m13.95 0h1.55m1.55 0h1.55m4.649 0h1.55m13.95 0h1.55m9.298 0h1.55m6.199 0h1.55m3.099 0h1.55m7.749 0h1.55m4.649 0h1.55m1.55 0h1.55m12.4 0h1.55m3.099 0h4.649m10.85 0h6.199m20.15 0h1.55m17.05 0h1.55m18.6 0h1.55m7.749 0h1.55m12.4 0h1.55m21.7 0h3.099m13.95 0h1.55m6.199 0h1.55m15.5 0h1.55m9.298 0h3.099m17.05 0h1.55m26.35 0h1.55m44.94 0h3.099m1.55 0h1.55m4.649 0h1.55m10.85 0h1.55m4.649 0h1.55m18.6 0h3.099m9.298 0h1.55m12.4 0h1.55m9.298 0h1.55m3.099 0h7.749m1.55 0h1.55m7.749 0h1.55m1.55 0h1.55m6.199 0h3.099M103.2 1387.38h1.55m1.55 0h1.55m3.099 0h1.55m3.099 0h1.55m9.298 0h3.099m7.749 0h6.199m3.099 0h3.099m13.95 0h3.099m4.649 0h1.55m18.6 0h6.199m3.099 0h1.55m6.199 0h3.099m29.45 0h1.55m1.55 0h3.099m7.749 0h7.749m3.099 0h1.55m4.649 0h1.55m7.749 0h1.55m1.55 0h1.55m15.5 0h4.649m6.199 0h3.099m3.099 0h1.55m1.55 0h1.55m3.099 0h3.099m23.25 0h3.099m29.45 0h1.55m13.95 0h1.55m13.95 0h1.55m10.85 0h1.55m6.199 0h1.55m1.55 0h1.55m29.45 0h1.55m24.8 0h3.099m3.099 0h1.55m10.85 0h9.298m1.55 0h1.55m6.199 0h1.55m17.05 0h1.55m18.6 0h1.55m9.298 0h1.55m7.749 0h1.55m6.199 0h3.099m15.5 0h1.55m13.95 0h1.55m1.55 0h1.55m4.649 0h1.55m23.25 0h1.55m4.649 0h1.55m3.099 0h1.55m3.099 0h1.55m3.099 0h3.099M101.6 1401.42h1.55m4.649 0h1.55m20.15 0h1.55m3.099 0h3.099m9.298 0h1.55m4.649 0h1.55m1.55 0h1.55m12.4 0h1.55m7.749 0h1.55m9.298 0h4.649m1.55 0h4.649m3.099 0h1.55m3.099 0h1.55m29.45 0h1.55m17.05 0h1.55m7.749 0h3.099m6.199 0h1.55m1.55 0h1.55m12.4 0h3.099m20.15 0h3.099m7.749 0h1.55m151.9 0h1.55m10.85 0h1.55m12.4 0h1.55m6.199 0h1.55m133.3 0h1.55m4.649 0h1.55m1.55 0h1.55m3.099 0h1.55m18.6 0h1.55M92.35 1415.46h1.55m10.85 0h1.55m7.749 0h3.099m1.55 0h1.55m6.199 0h1.55m23.25 0h1.55m4.649 0h1.55m13.95 0h1.55m4.649 0h1.55m7.749 0h1.55m29.45 0h3.099m1.55 0h1.55m6.199 0h1.55m49.59 0h1.55m24.8 0h1.55m7.749 0h3.099m13.95 0h3.099m24.8 0h3.099m12.4 0h1.55m9.298 0h1.55m6.199 0h1.55m55.79 0h1.55m10.85 0h1.55m1.55 0h1.55m4.649 0h3.099m6.199 0h6.199m6.199 0h3.099m15.5 0h1.55m18.6 0h1.55m24.8 0h3.099m12.4 0h1.55m3.099 0h3.099m3.099 0h3.099m4.649 0h1.55m29.45 0h4.649m9.298 0h1.55m6.199 0h1.55m21.7 0h1.55m7.749 0h1.55m3.099 0h1.55M98.55 1429.5h1.55m3.099 0h4.649m3.099 0h1.55m13.95 0h4.649m1.55 0h1.55m17.05 0h1.55m10.85 0h1.55m9.298 0h1.55m4.649 0h1.55m7.749 0h1.55m9.298 0h1.55m1.55 0h3.099m9.298 0h1.55m3.099 0h1.55m40.29 0h4.649m21.7 0h1.55m13.95 0h1.55m4.649 0h4.649m9.298 0h1.55m43.39 0h3.099m24.8 0h1.55m12.4 0h6.199m12.4 0h4.649m9.298 0h1.55m6.199 0h1.55m18.6 0h1.55m26.35 0h1.55m13.95 0h3.099m34.09 0h3.099m9.298 0h6.199m3.099 0h1.55m9.298 0h1.55m7.749 0h4.649m3.099 0h1.55m4.649 0h1.55m7.749 0h1.55m4.649 0h1.55m1.55 0h1.55m6.199 0h1.55m4.649 0h1.55m29.45 0h9.298m13.95 0h3.099M100.1 1443.54h1.55m1.55 0h3.099m7.749 0h3.099m1.55 0h1.55m12.4 0h1.55m10.85 0h1.55m17.05 0h1.55m4.649 0h3.099m1.55 0h3.099m18.6 0h1.55m4.649 0h1.55m23.25 0h3.099m1.55 0h1.55m15.5 0h1.55m6.199 0h1.55m4.649 0h1.55m7.749 0h1.55m1.55 0h1.55m34.09 0h1.55m1.55 0h4.649m1.55 0h3.099m24.8 0h1.55m15.5 0h4.649m17.05 0h1.55m3.099 0h3.099m7.749 0h1.55m4.649 0h4.649m12.4 0h1.55m10.85 0h1.55m13.95 0h1.55m6.199 0h1.55m7.749 0h1.55m7.749 0h1.55m10.85 0h1.55m3.099 0h1.55m24.8 0h1.55m3.099 0h3.099m1.55 0h1.55m13.95 0h4.649m1.55 0h1.55m3.099 0h1.55m12.4 0h1.55m9.298 0h3.099m40.29 0h3.099m10.85 0h3.099m6.199 0h3.099m15.5 0h3.099m24.8 0h1.55M103.2 1457.58h3.099m3.099 0h4.649m7.749 0h1.55m35.64 0h1.55m4.649 0h7.749m30.99 0h1.55m13.95 0h1.55m12.4 0h1.55m72.84 0h3.099m10.85 0h1.55m1.55 0h1.55m23.25 0h1.55m10.85 0h1.55m7.749 0h1.55m17.05 0h1.55m48.04 0h3.099m7.749 0h1.55m1.55 0h1.55m35.64 0h1.55m6.199 0h4.649m30.99 0h1.55m18.6 0h1.55m12.4 0h1.55m12.4 0h3.099m4.649 0h1.55m6.199 0h3.099m6.199 0h1.55m7.749 0h1.55m3.099 0h1.55m10.85 0h1.55m4.649 0h4.649m1.55 0h6.199m3.099 0h1.55m3.099 0h1.55m4.649 0h1.55m9.298 0h1.55m3.099 0h1.55m3.099 0h1.55M90.8 1471.62h1.55m4.649 0h1.55m3.099 0h3.099m7.749 0h1.55m18.6 0h3.099m12.4 0h1.55m1.55 0h1.55m4.649 0h3.099m18.6 0h3.099m18.6 0h1.55m18.6 0h4.649m15.5 0h1.55m20.15 0h1.55m34.09 0h1.55m1.55 0h1.55m3.099 0h1.55m17.05 0h1.55m20.15 0h3.099m27.9 0h1.55m68.19 0h1.55m26.35 0h3.099m27.9 0h1.55m4.649 0h1.55m1.55 0h1.55m3.099 0h4.649m20.15 0h3.099m15.5 0h1.55m41.84 0h1.55m21.7 0h1.55m1.55 0h1.55m7.749 0h1.55m3.099 0h1.55m3.099 0h1.55m6.199 0h1.55m1.55 0h1.55m3.099 0h3.099m3.099 0h1.55M115.6 1485.66h1.55m12.4 0h1.55m6.199 0h3.099m6.199 0h1.55m3.099 0h3.099m4.649 0h1.55m7.749 0h4.649m3.099 0h1.55m4.649 0h1.55m3.099 0h3.099m1.55 0h1.55m3.099 0h1.55m9.298 0h1.55m18.6 0h1.55m1.55 0h1.55m54.24 0h1.55m1.55 0h1.55m20.15 0h1.55m7.749 0h1.55m9.298 0h1.55m4.649 0h1.55m7.749 0h4.649m1.55 0h1.55m57.34 0h3.099m13.95 0h1.55m6.199 0h1.55m6.199 0h1.55m23.25 0h3.099m4.649 0h1.55m13.95 0h3.099m17.05 0h1.55m3.099 0h1.55m10.85 0h1.55m13.95 0h1.55m4.649 0h1.55m7.749 0h1.55m3.099 0h3.099m10.85 0h4.649m1.55 0h1.55m6.199 0h4.649m30.99 0h1.55m13.95 0h6.199m1.55 0h1.55m3.099 0h1.55m3.099 0h1.55m23.25 0h1.55m9.298 0h1.55m1.55 0h1.55M97 1499.7h1.55m21.7 0h1.55m1.55 0h1.55m3.099 0h3.099m3.099 0h1.55m3.099 0h1.55m1.55 0h1.55m23.25 0h3.099m9.298 0h3.099m4.649 0h3.099m1.55 0h1.55m3.099 0h1.55m7.749 0h4.649m23.25 0h1.55m23.25 0h3.099m10.85 0h1.55m30.99 0h1.55m9.298 0h1.55m1.55 0h1.55m3.099 0h3.099m3.099 0h3.099m13.95 0h4.649m10.85 0h1.55m3.099 0h1.55m15.5 0h1.55m3.099 0h1.55m23.25 0h1.55m48.04 0h1.55m1.55 0h1.55m12.4 0h1.55m54.24 0h3.099m6.199 0h1.55m4.649 0h3.099m3.099 0h1.55m15.5 0h3.099m4.649 0h1.55m7.749 0h1.55m6.199 0h1.55m1.55 0h1.55m13.95 0h1.55m4.649 0h4.649m10.85 0h1.55m9.298 0h1.55m17.05 0h4.649m4.649 0h1.55m1.55 0h1.55m1.55 0h3.099m1.55 0h1.55m6.199 0h1.55M95.45 1513.74h6.199m7.749 0h1.55m4.649 0h1.55m1.55 0h4.649m6.199 0h1.55m3.099 0h1.55m3.099 0h1.55m26.35 0h1.55m3.099 0h3.099m3.099 0h3.099m3.099 0h1.55m9.298 0h1.55m3.099 0h6.199m1.55 0h1.55m1.55 0h3.099m7.749 0h1.55m7.749 0h1.55m4.649 0h1.55m1.55 0h1.55m12.4 0h1.55m20.15 0h1.55m30.99 0h1.55m4.649 0h1.55m3.099 0h1.55m6.199 0h1.55m24.8 0h1.55m3.099 0h3.099m27.9 0h4.649m17.05 0h1.55m26.35 0h3.099m12.4 0h3.099m6.199 0h1.55m3.099 0h1.55m4.649 0h3.099m3.099 0h1.55m12.4 0h1.55m6.199 0h1.55m7.749 0h1.55m12.4 0h1.55m9.298 0h3.099m9.298 0h1.55m10.85 0h1.55m4.649 0h3.099m20.15 0h1.55m10.85 0h1.55m4.649 0h1.55m7.749 0h1.55m4.649 0h4.649m15.5 0h1.55m38.74 0h1.55M93.9 1527.78h4.649m1.55 0h1.55m3.099 0h1.55m4.649 0h1.55m3.099 0h1.55m12.4 0h1.55m10.85 0h4.649m15.5 0h3.099m1.55 0h1.55m21.7 0h3.099m12.4 0h1.55m24.8 0h1.55m15.5 0h1.55m55.79 0h1.55m4.649 0h1.55m6.199 0h3.099m13.95 0h1.55m38.74 0h3.099m13.95 0h1.55m30.99 0h1.55m61.99 0h1.55m7.749 0h1.55m4.649 0h1.55m3.099 0h1.55m7.749 0h1.55m21.7 0h1.55m1.55 0h6.199m34.09 0h3.099m26.35 0h1.55m12.4 0h1.55m3.099 0h1.55m10.85 0h1.55m23.25 0h1.55m4.649 0h1.55m10.85 0h3.099m9.298 0h1.55M90.8 1541.82h1.55m4.649 0h4.649m1.55 0h4.649m3.099 0h1.55m1.55 0h1.55m3.099 0h1.55m6.199 0h1.55m10.85 0h1.55m6.199 0h1.55m10.85 0h1.55m1.55 0h1.55m4.649 0h1.55m4.649 0h1.55m6.199 0h1.55m26.35 0h4.649m6.199 0h1.55m1.55 0h1.55m12.4 0h3.099m1.55 0h1.55m34.09 0h1.55m29.45 0h4.649m7.749 0h6.199m7.749 0h1.55m1.55 0h3.099m3.099 0h1.55m1.55 0h1.55m71.29 0h4.649m23.25 0h3.099m15.5 0h1.55m6.199 0h1.55m1.55 0h3.099m4.649 0h1.55m1.55 0h1.55m13.95 0h1.55m12.4 0h6.199m6.199 0h1.55m3.099 0h4.649m23.25 0h1.55m7.749 0h1.55m6.199 0h3.099m3.099 0h1.55m4.649 0h1.55m1.55 0h3.099m13.95 0h1.55m7.749 0h1.55m9.298 0h1.55m3.099 0h1.55m3.099 0h1.55m17.05 0h3.099m3.099 0h1.55m6.199 0h1.55m4.649 0h1.55m12.4 0h1.55m6.199 0h1.55M92.35 1555.86h3.099m6.199 0h1.55m6.199 0h1.55m6.199 0h1.55m4.649 0h1.55m3.099 0h1.55m4.649 0h3.099m4.649 0h1.55m3.099 0h1.55m1.55 0h3.099m7.749 0h4.649m4.649 0h1.55m1.55 0h4.649m1.55 0h3.099m4.649 0h1.55m4.649 0h3.099m1.55 0h1.55m3.099 0h1.55m7.749 0h3.099m13.95 0h1.55m17.05 0h3.099m1.55 0h1.55m38.74 0h4.649m3.099 0h1.55m9.298 0h7.749m51.14 0h1.55m3.099 0h1.55m4.649 0h1.55m1.55 0h1.55m51.14 0h1.55m4.649 0h1.55m7.749 0h1.55m6.199 0h1.55m17.05 0h1.55m13.95 0h1.55m24.8 0h3.099m34.09 0h1.55m10.85 0h1.55m1.55 0h1.55m17.05 0h1.55m4.649 0h1.55m20.15 0h1.55m6.199 0h1.55m1.55 0h1.55m23.25 0h4.649m9.298 0h1.55m12.4 0h1.55m10.85 0h1.55M92.35 1569.9h1.55m10.85 0h1.55m3.099 0h1.55m29.45 0h4.649m15.5 0h1.55m3.099 0h1.55m4.649 0h1.55m1.55 0h1.55m4.649 0h3.099m3.099 0h3.099m24.8 0h3.099m4.649 0h3.099m10.85 0h3.099m3.099 0h3.099m21.7 0h1.55m12.4 0h1.55m9.298 0h1.55m17.05 0h4.649m4.649 0h1.55m24.8 0h1.55m6.199 0h1.55m9.298 0h1.55m21.7 0h3.099m9.298 0h1.55m41.84 0h3.099m4.649 0h1.55m10.85 0h1.55m6.199 0h1.55m4.649 0h1.55m3.099 0h1.55m15.5 0h1.55m4.649 0h1.55m26.35 0h1.55m6.199 0h3.099m48.04 0h1.55m4.649 0h1.55m48.04 0h1.55m15.5 0h1.55m9.298 0h3.099m1.55 0h1.55M90.8 1583.94h3.099m4.649 0h1.55m6.199 0h4.649m3.099 0h1.55m9.298 0h3.099m13.95 0h1.55m1.55 0h1.55m13.95 0h1.55m7.749 0h3.099m6.199 0h1.55m7.749 0h1.55m3.099 0h1.55m1.55 0h1.55m9.298 0h3.099m51.14 0h1.55m43.39 0h1.55m9.298 0h1.55m29.45 0h1.55m7.749 0h1.55m3.099 0h1.55m1.55 0h1.55m13.95 0h1.55m18.6 0h1.55m7.749 0h3.099m12.4 0h1.55m58.89 0h4.649m29.45 0h1.55m29.45 0h1.55m3.099 0h1.55m44.94 0h1.55m4.649 0h1.55m6.199 0h4.649m10.85 0h1.55m63.54 0h1.55m3.099 0h1.55M112.5 1597.98h1.55m1.55 0h1.55m4.649 0h3.099m3.099 0h1.55m7.749 0h1.55m4.649 0h3.099m23.25 0h3.099m6.199 0h1.55m18.6 0h1.55m7.749 0h1.55m10.85 0h1.55m32.54 0h3.099m10.85 0h1.55m4.649 0h1.55m15.5 0h3.099m6.199 0h1.55m9.298 0h1.55m7.749 0h1.55m1.55 0h1.55m10.85 0h1.55m7.749 0h1.55m26.35 0h1.55m10.85 0h1.55m29.45 0h1.55m21.7 0h3.099m17.05 0h1.55m9.298 0h4.649m1.55 0h1.55m4.649 0h3.099m4.649 0h1.55m4.649 0h1.55m12.4 0h1.55m9.298 0h1.55m20.15 0h1.55m18.6 0h1.55m9.298 0h1.55m6.199 0h1.55m6.199 0h1.55m1.55 0h1.55m15.5 0h1.55m21.7 0h3.099m6.199 0h3.099m1.55 0h1.55m3.099 0h6.199m3.099 0h1.55m12.4 0h1.55m4.649 0h1.55m10.85 0h3.099m1.55 0h4.649M128 1612.02h1.55m12.4 0h1.55m58.89 0h1.55m3.099 0h1.55m13.95 0h3.099m3.099 0h1.55m32.54 0h3.099m4.649 0h1.55m4.649 0h1.55m27.9 0h1.55m17.05 0h1.55m176.7 0h4.649m4.649 0h1.55m4.649 0h1.55m34.09 0h1.55m10.85 0h1.55m32.54 0h1.55m35.64 0h3.099m12.4 0h3.099m1.55 0h1.55m9.298 0h1.55m9.298 0h1.55M114 1626.06h1.55m15.5 0h1.55m7.749 0h1.55m4.649 0h1.55m10.85 0h1.55m3.099 0h1.55m26.35 0h3.099m6.199 0h6.199m7.749 0h3.099m3.099 0h1.55m35.64 0h4.649m1.55 0h1.55m1.55 0h3.099m7.749 0h3.099m6.199 0h3.099m34.09 0h1.55m7.749 0h1.55m48.04 0h3.099m12.4 0h1.55m24.8 0h1.55m7.749 0h1.55m15.5 0h1.55m23.25 0h1.55m12.4 0h1.55m23.25 0h3.099m9.298 0h1.55m35.64 0h1.55m9.298 0h3.099m4.649 0h1.55m1.55 0h1.55m3.099 0h1.55m1.55 0h1.55m3.099 0h1.55m23.25 0h1.55m10.85 0h1.55m6.199 0h1.55m7.749 0h1.55m9.298 0h1.55m1.55 0h1.55m7.749 0h1.55m6.199 0h1.55m17.05 0h1.55M114 1640.1h1.55m3.099 0h1.55m3.099 0h1.55m82.14 0h1.55m1.55 0h1.55m4.649 0h1.55m6.199 0h1.55m4.649 0h1.55m18.6 0h1.55m3.099 0h1.55m7.749 0h1.55m27.9 0h1.55m15.5 0h1.55m12.4 0h4.649m32.54 0h1.55m7.749 0h1.55m38.74 0h1.55m1.55 0h1.55m46.49 0h1.55m38.74 0h1.55m20.15 0h3.099m10.85 0h1.55m9.298 0h1.55m1.55 0h1.55m6.199 0h1.55m4.649 0h1.55m23.25 0h1.55m7.749 0h1.55m52.69 0h1.55m1.55 0h1.55m6.199 0h1.55m35.64 0h1.55M103.2 1654.14h1.55m9.298 0h1.55m9.298 0h1.55m4.649 0h1.55m1.55 0h1.55m6.199 0h1.55m23.25 0h6.199m9.298 0h1.55m12.4 0h4.649m9.298 0h1.55m10.85 0h3.099m4.649 0h1.55m1.55 0h3.099m15.5 0h1.55m3.099 0h1.55m7.749 0h1.55m26.35 0h1.55m9.298 0h1.55m54.24 0h1.55m10.85 0h1.55m9.298 0h1.55m15.5 0h1.55m30.99 0h3.099m12.4 0h1.55m15.5 0h4.649m9.298 0h1.55m57.34 0h1.55m3.099 0h1.55m17.05 0h1.55m15.5 0h1.55m1.55 0h1.55m4.649 0h1.55m18.6 0h1.55m27.9 0h1.55m12.4 0h1.55M95.45 1668.18h1.55m23.25 0h1.55m55.79 0h1.55m24.8 0h1.55m30.99 0h1.55m13.95 0h1.55m4.649 0h1.55m6.199 0h1.55m23.25 0h1.55m34.09 0h3.099m21.7 0h1.55m15.5 0h1.55m111.6 0h1.55m38.74 0h1.55m1.55 0h1.55m1.55 0h1.55m4.649 0h1.55m23.25 0h1.55m3.099 0h1.55m35.64 0h1.55m20.15 0h3.099m9.298 0h1.55m12.4 0h3.099m3.099 0h1.55m27.9 0h3.099m13.95 0h1.55M110.9 1682.22h3.099m10.85 0h1.55m12.4 0h1.55m23.25 0h3.099m96.08 0h1.55m3.099 0h3.099m34.09 0h1.55m15.5 0h1.55m41.84 0h1.55m13.95 0h1.55m88.34 0h4.649m46.49 0h3.099m17.05 0h1.55m4.649 0h1.55m15.5 0h1.55m12.4 0h1.55m9.298 0h3.099m75.94 0h3.099m29.45 0h1.55M104.7 1696.26h1.55m4.649 0h3.099m1.55 0h1.55m1.55 0h4.649m10.85 0h1.55m18.6 0h1.55m105.4 0h1.55m13.95 0h1.55m75.94 0h3.099m10.85 0h1.55m71.29 0h1.55m30.99 0h1.55m35.64 0h1.55m27.9 0h1.55m4.649 0h1.55m3.099 0h1.55m4.649 0h1.55m9.298 0h4.649m49.59 0h3.099m37.19 0h1.55m38.74 0h1.55M92.35 1710.3h1.55m41.84 0h1.55m3.099 0h3.099m114.7 0h1.55m26.35 0h3.099m10.85 0h1.55m7.749 0h1.55m15.5 0h1.55m71.29 0h1.55m75.94 0h3.099m26.35 0h1.55m4.649 0h3.099m1.55 0h1.55m35.64 0h1.55m32.54 0h1.55m3.099 0h3.099m29.45 0h4.649m10.85 0h1.55M155.9 1724.34h1.55m17.05 0h1.55m21.7 0h3.099m40.29 0h1.55m27.9 0h1.55m122.4 0h1.55m113.1 0h1.55m7.749 0h1.55m23.25 0h1.55m43.39 0h1.55m17.05 0h1.55m7.749 0h1.55m40.29 0h1.55m15.5 0h1.55M162.1 1738.38h1.55m7.749 0h1.55m1.55 0h1.55m3.099 0h1.55m9.298 0h1.55m72.84 0h1.55m18.6 0h1.55m52.69 0h1.55m27.9 0h3.099m71.29 0h1.55m92.98 0h3.099m20.15 0h1.55m10.85 0h1.55m35.64 0h1.55m63.54 0h1.55m17.05 0h1.55M138.8 1752.42h1.55m23.25 0h1.55m111.6 0h1.55m7.749 0h1.55m38.74 0h1.55m88.34 0h1.55m54.24 0h1.55m38.74 0h1.55m108.5 0h1.55m51.14 0h1.55m4.649 0h1.55m18.6 0h3.099M135.7 1766.46h1.55m110 0h1.55m20.15 0h1.55M114 1780.5h3.099m10.85 0h1.55m23.25 0h1.55m100.7 0h1.55m141 0h1.55M399.2 1794.54h3.099M155.9 1808.58h1.55m92.98 0h4.649m15.5 0h1.55m10.85 0h1.55m305.3 0h1.55M152.8 1822.62h1.55m15.5 0h1.55m18.6 0h3.099m1.55 0h1.55m46.49 0h4.649m38.74 0h3.099m1.55 0h1.55m175.1 0h1.55m17.05 0h1.55m15.5 0h1.55m15.5 0h1.55m3.099 0h3.099m1.55 0h1.55m7.749 0h1.55m41.84 0h3.099m1.55 0h1.55m79.04 0h1.55m23.25 0h1.55m7.749 0h3.099M90.8 1836.66h3.099m18.6 0h1.55m1.55 0h1.55m30.99 0h3.099m12.4 0h1.55m29.45 0h1.55m32.54 0h1.55m21.7 0h3.099m37.19 0h1.55m27.9 0h1.55m26.35 0h3.099m15.5 0h1.55m61.99 0h1.55m29.45 0h1.55m23.25 0h1.55m6.199 0h1.55m1.55 0h1.55m9.298 0h3.099m6.199 0h1.55m24.8 0h3.099m34.09 0h1.55m7.749 0h1.55m26.35 0h1.55m9.298 0h3.099m3.099 0h1.55m40.29 0h3.099m9.298 0h6.199M97 1850.7h1.55m4.649 0h1.55m30.99 0h3.099m9.298 0h3.099m4.649 0h1.55m9.298 0h1.55m12.4 0h1.55m189.1 0h1.55m3.099 0h3.099m72.84 0h1.55m13.95 0h4.649m17.05 0h1.55m13.95 0h1.55m10.85 0h1.55m96.08 0h3.099m27.9 0h1.55m7.749 0h1.55m18.6 0h1.55m4.649 0h3.099M115.6 1864.74h3.099m21.7 0h1.55m60.44 0h3.099m44.94 0h1.55m27.9 0h1.55m12.4 0h1.55m26.35 0h1.55m7.749 0h1.55m69.74 0h1.55m65.09 0h1.55m1.55 0h1.55m1.55 0h1.55m10.85 0h1.55m3.099 0h3.099m1.55 0h1.55m41.84 0h1.55m27.9 0h1.55m15.5 0h1.55m3.099 0h1.55m27.9 0h1.55m3.099 0h1.55m29.45 0h3.099m1.55 0h1.55m30.99 0h1.55M98.55 1878.78h3.099m18.6 0h1.55m3.099 0h3.099m3.099 0h4.649m68.19 0h1.55m52.69 0h1.55m38.74 0h1.55m37.19 0h1.55m37.19 0h1.55m150.3 0h1.55m18.6 0h6.199m23.25 0h1.55m13.95 0h3.099m15.5 0h1.55m69.74 0h1.55m3.099 0h1.55M118.7 1892.82h1.55m44.94 0h1.55m1.55 0h1.55m21.7 0h1.55m4.649 0h1.55m18.6 0h1.55m9.298 0h1.55m10.85 0h6.199m1.55 0h1.55m3.099 0h1.55m1.55 0h1.55m4.649 0h1.55m17.05 0h3.099m9.298 0h3.099m6.199 0h1.55m17.05 0h1.55m3.099 0h1.55m24.8 0h1.55m3.099 0h1.55m43.39 0h1.55m74.39 0h4.649m1.55 0h3.099m12.4 0h3.099m6.199 0h1.55m32.54 0h1.55m6.199 0h1.55m1.55 0h1.55m18.6 0h1.55m1.55 0h3.099m34.09 0h1.55m15.5 0h1.55m26.35 0h1.55m17.05 0h1.55m1.55 0h3.099M121.8 1906.86h1.55m57.34 0h1.55m12.4 0h1.55m15.5 0h3.099m4.649 0h1.55m6.199 0h1.55m9.298 0h3.099m4.649 0h1.55m9.298 0h1.55m9.298 0h1.55m34.09 0h1.55m10.85 0h1.55m4.649 0h1.55m1.55 0h1.55m3.099 0h1.55m15.5 0h3.099m114.7 0h1.55m7.749 0h1.55m48.04 0h1.55m32.54 0h1.55m7.749 0h1.55m1.55 0h3.099M138.8 1920.9h3.099m1.55 0h1.55m46.49 0h1.55m13.95 0h1.55m13.95 0h1.55m4.649 0h1.55m20.15 0h3.099m1.55 0h1.55m9.298 0h3.099m1.55 0h3.099m1.55 0h1.55m4.649 0h1.55m10.85 0h1.55m1.55 0h1.55m1.55 0h4.649m46.49 0h1.55m18.6 0h1.55m4.649 0h1.55m38.74 0h3.099m41.84 0h1.55m23.25 0h4.649m66.64 0h1.55m48.04 0h1.55m20.15 0h3.099m41.84 0h1.55M104.7 1934.94h1.55m21.7 0h1.55m1.55 0h1.55m32.54 0h3.099m18.6 0h3.099m3.099 0h4.649m12.4 0h7.749m10.85 0h1.55m10.85 0h6.199m21.7 0h1.55m6.199 0h3.099m4.649 0h1.55m3.099 0h3.099m10.85 0h1.55m29.45 0h3.099m1.55 0h1.55m74.39 0h1.55m32.54 0h3.099m21.7 0h1.55m30.99 0h3.099m27.9 0h1.55m10.85 0h1.55m43.39 0h1.55m10.85 0h1.55m3.099 0h1.55m26.35 0h3.099m17.05 0h1.55M98.55 1948.98h1.55m29.45 0h1.55m1.55 0h1.55m3.099 0h1.55m6.199 0h3.099m32.54 0h3.099m4.649 0h1.55m13.95 0h1.55m12.4 0h1.55m23.25 0h1.55m10.85 0h1.55m9.298 0h1.55m4.649 0h4.649m1.55 0h1.55m20.15 0h1.55m26.35 0h1.55m7.749 0h1.55m18.6 0h1.55m7.749 0h1.55m4.649 0h1.55m27.9 0h4.649m18.6 0h1.55m4.649 0h1.55m32.54 0h7.749m10.85 0h3.099m32.54 0h3.099m21.7 0h1.55m1.55 0h1.55m10.85 0h1.55m4.649 0h3.099m4.649 0h3.099m17.05 0h3.099m18.6 0h1.55m1.55 0h3.099m29.45 0h1.55m21.7 0h3.099m9.298 0h1.55m10.85 0h3.099M103.2 1963.02h1.55m1.55 0h1.55m4.649 0h1.55m54.24 0h1.55m20.15 0h1.55m1.55 0h1.55m15.5 0h1.55m4.649 0h1.55m18.6 0h1.55m4.649 0h1.55m1.55 0h1.55m9.298 0h4.649m20.15 0h1.55m6.199 0h1.55m9.298 0h1.55m1.55 0h3.099m6.199 0h3.099m6.199 0h1.55m63.54 0h1.55m89.89 0h1.55m15.5 0h1.55m3.099 0h1.55m3.099 0h1.55m10.85 0h3.099m10.85 0h1.55m30.99 0h1.55m4.649 0h1.55m4.649 0h1.55m3.099 0h1.55m13.95 0h1.55m3.099 0h4.649m32.54 0h4.649m7.749 0h1.55m20.15 0h1.55m3.099 0h1.55m6.199 0h6.199M145 1977.06h1.55m1.55 0h1.55m17.05 0h4.649m12.4 0h1.55m6.199 0h1.55m17.05 0h1.55m6.199 0h1.55m1.55 0h1.55m9.298 0h3.099m1.55 0h1.55m3.099 0h1.55m1.55 0h3.099m15.5 0h1.55m3.099 0h3.099m12.4 0h1.55m3.099 0h4.649m17.05 0h3.099m1.55 0h1.55m89.89 0h1.55m15.5 0h1.55m21.7 0h1.55m4.649 0h1.55m4.649 0h3.099m9.298 0h1.55m24.8 0h1.55m7.749 0h1.55m24.8 0h4.649m6.199 0h1.55m18.6 0h1.55m54.24 0h1.55m10.85 0h1.55m41.84 0h1.55M92.35 1991.1h3.099m26.35 0h1.55m24.8 0h1.55m15.5 0h1.55m27.9 0h1.55m3.099 0h4.649m1.55 0h1.55m6.199 0h1.55m1.55 0h1.55m1.55 0h1.55m12.4 0h1.55m1.55 0h1.55m4.649 0h1.55m21.7 0h1.55m6.199 0h6.199m1.55 0h3.099m3.099 0h1.55m6.199 0h1.55m17.05 0h1.55m3.099 0h1.55m1.55 0h1.55m3.099 0h1.55m29.45 0h1.55m27.9 0h1.55m41.84 0h1.55m40.29 0h4.649m4.649 0h1.55m26.35 0h1.55m27.9 0h1.55m66.64 0h1.55m63.54 0h1.55m6.199 0h1.55M104.7 2005.14h1.55m12.4 0h1.55m9.298 0h1.55m37.19 0h1.55m20.15 0h3.099m1.55 0h1.55m6.199 0h1.55m17.05 0h3.099m32.54 0h1.55m9.298 0h1.55m15.5 0h1.55m26.35 0h1.55m91.44 0h1.55m20.15 0h1.55m32.54 0h1.55m3.099 0h1.55m32.54 0h1.55m6.199 0h1.55m69.74 0h1.55m9.298 0h1.55m34.09 0h1.55m6.199 0h1.55m65.09 0h1.55M92.35 2019.18h1.55m1.55 0h1.55m38.74 0h3.099m6.199 0h3.099m46.49 0h3.099m15.5 0h1.55m1.55 0h1.55m6.199 0h1.55m7.749 0h3.099m3.099 0h1.55m1.55 0h1.55m6.199 0h3.099m6.199 0h3.099m7.749 0h3.099m1.55 0h3.099m1.55 0h1.55m4.649 0h1.55m18.6 0h3.099m21.7 0h3.099m68.19 0h1.55m61.99 0h1.55m3.099 0h1.55m3.099 0h1.55m1.55 0h1.55m55.79 0h3.099m18.6 0h1.55m7.749 0h1.55m9.298 0h1.55m32.54 0h3.099m20.15 0h3.099m13.95 0h1.55m20.15 0h1.55m24.8 0h3.099M118.7 2033.22h1.55m29.45 0h1.55m7.749 0h3.099m6.199 0h1.55m4.649 0h1.55m20.15 0h1.55m15.5 0h1.55m3.099 0h1.55m1.55 0h1.55m4.649 0h1.55m12.4 0h1.55m15.5 0h1.55m3.099 0h1.55m1.55 0h1.55m7.749 0h1.55m17.05 0h1.55m12.4 0h1.55m1.55 0h3.099m1.55 0h1.55m9.298 0h1.55m29.45 0h1.55m75.94 0h1.55m24.8 0h1.55m1.55 0h1.55m58.89 0h1.55m52.69 0h1.55m4.649 0h1.55m7.749 0h1.55m30.99 0h1.55m43.39 0h4.649m21.7 0h1.55M92.35 2047.26h1.55m21.7 0h1.55m29.45 0h1.55m1.55 0h3.099m6.199 0h1.55m6.199 0h1.55m9.298 0h1.55m10.85 0h3.099m3.099 0h1.55m3.099 0h1.55m4.649 0h1.55m10.85 0h1.55m3.099 0h4.649m1.55 0h1.55m3.099 0h3.099m7.749 0h1.55m3.099 0h6.199m7.749 0h1.55m1.55 0h1.55m6.199 0h3.099m7.749 0h3.099m7.749 0h1.55m4.649 0h3.099m13.95 0h1.55m32.54 0h1.55m6.199 0h1.55m4.649 0h1.55m12.4 0h1.55m86.79 0h1.55m21.7 0h4.649m18.6 0h1.55m68.19 0h1.55m6.199 0h1.55m3.099 0h1.55m37.19 0h1.55m13.95 0h1.55m30.99 0h1.55m1.55 0h1.55m1.55 0h1.55m1.55 0h3.099m1.55 0h1.55M101.6 2061.3h1.55m65.09 0h1.55m38.74 0h1.55m3.099 0h1.55m7.749 0h6.199m1.55 0h1.55m7.749 0h1.55m10.85 0h3.099m20.15 0h1.55m3.099 0h1.55m18.6 0h1.55m6.199 0h1.55m27.9 0h1.55m3.099 0h1.55m20.15 0h6.199m7.749 0h3.099m23.25 0h1.55m3.099 0h1.55m58.89 0h3.099m15.5 0h3.099m12.4 0h1.55m3.099 0h1.55m13.95 0h1.55m7.749 0h1.55m20.15 0h1.55m7.749 0h1.55m35.64 0h1.55m17.05 0h1.55m10.85 0h1.55m18.6 0h1.55m30.99 0h1.55M109.4 2075.34h1.55m12.4 0h1.55m12.4 0h1.55m61.99 0h1.55m32.54 0h1.55m20.15 0h3.099m13.95 0h1.55m7.749 0h1.55m1.55 0h1.55m3.099 0h1.55m10.85 0h1.55m60.44 0h1.55m3.099 0h3.099m79.04 0h1.55m10.85 0h3.099m13.95 0h1.55m37.19 0h3.099m17.05 0h1.55m18.6 0h1.55m20.15 0h1.55m79.04 0h1.55m24.8 0h3.099m1.55 0h3.099m3.099 0h3.099M188.4 2089.38h3.099m3.099 0h1.55m10.85 0h1.55m1.55 0h3.099m26.35 0h1.55m27.9 0h3.099m7.749 0h1.55m3.099 0h1.55m26.35 0h3.099m7.749 0h1.55m55.79 0h1.55m3.099 0h1.55m1.55 0h1.55m75.94 0h1.55m9.298 0h1.55m15.5 0h1.55m3.099 0h1.55m12.4 0h1.55m37.19 0h1.55m21.7 0h1.55m3.099 0h1.55m17.05 0h1.55m1.55 0h1.55m7.749 0h1.55m13.95 0h1.55m38.74 0h1.55m12.4 0h1.55m20.15 0h3.099M154.3 2103.42h1.55m35.64 0h1.55m4.649 0h1.55m1.55 0h1.55m1.55 0h1.55m1.55 0h6.199m17.05 0h1.55m7.749 0h3.099m18.6 0h1.55m9.298 0h1.55m6.199 0h1.55m15.5 0h1.55m10.85 0h3.099m58.89 0h1.55m34.09 0h1.55m96.08 0h1.55m13.95 0h1.55m3.099 0h1.55m3.099 0h1.55m13.95 0h1.55m9.298 0h3.099m18.6 0h1.55m9.298 0h1.55m52.69 0h1.55m3.099 0h1.55m12.4 0h3.099m24.8 0h1.55M92.35 2117.46h1.55m4.649 0h1.55m49.59 0h1.55m44.94 0h1.55m9.298 0h1.55m3.099 0h1.55m4.649 0h1.55m10.85 0h4.649m1.55 0h3.099m18.6 0h1.55m1.55 0h1.55m1.55 0h1.55m12.4 0h3.099m4.649 0h1.55m10.85 0h3.099m12.4 0h1.55m15.5 0h1.55m68.19 0h1.55m21.7 0h1.55m24.8 0h1.55m9.298 0h4.649m12.4 0h3.099m38.74 0h1.55m20.15 0h1.55m4.649 0h1.55m15.5 0h1.55m1.55 0h3.099m20.15 0h3.099m12.4 0h1.55m12.4 0h3.099m49.59 0h3.099m17.05 0h1.55m1.55 0h1.55M106.3 2131.5h1.55m77.49 0h1.55m32.54 0h1.55m37.19 0h1.55m34.09 0h9.298m10.85 0h1.55m72.84 0h1.55m92.98 0h3.099m4.649 0h3.099m7.749 0h3.099m6.199 0h1.55m3.099 0h4.649m24.8 0h1.55m6.199 0h4.649m9.298 0h1.55m32.54 0h1.55m7.749 0h1.55m17.05 0h3.099m6.199 0h1.55m4.649 0h1.55m13.95 0h1.55m26.35 0h3.099M90.8 2145.54h3.099m17.05 0h1.55m9.298 0h1.55m108.5 0h3.099m75.94 0h1.55m85.24 0h1.55m106.9 0h1.55m102.3 0h4.649m17.05 0h1.55m37.19 0h1.55M118.7 2159.58h1.55m34.09 0h3.099m7.749 0h1.55m9.298 0h3.099m24.8 0h4.649m40.29 0h1.55m23.25 0h1.55m24.8 0h1.55m13.95 0h1.55m1.55 0h1.55m12.4 0h4.649m17.05 0h4.649m6.199 0h1.55m3.099 0h1.55m1.55 0h1.55m1.55 0h1.55m1.55 0h3.099m15.5 0h1.55m1.55 0h1.55m7.749 0h1.55m1.55 0h1.55m10.85 0h1.55m4.649 0h1.55m1.55 0h1.55m15.5 0h3.099m1.55 0h3.099m4.649 0h1.55m125.5 0h1.55m48.04 0h3.099m24.8 0h1.55m7.749 0h1.55M100.1 2173.62h1.55m1.55 0h3.099m27.9 0h3.099m37.19 0h1.55m116.2 0h1.55m29.45 0h1.55m3.099 0h1.55m1.55 0h1.55m4.649 0h1.55m1.55 0h3.099m13.95 0h3.099m3.099 0h6.199m1.55 0h1.55m10.85 0h6.199m6.199 0h1.55m4.649 0h6.199m4.649 0h1.55m9.298 0h3.099m3.099 0h1.55m13.95 0h1.55m15.5 0h1.55m9.298 0h1.55m63.54 0h1.55m52.69 0h1.55m26.35 0h1.55M185.3 2187.66h1.55m136.4 0h4.649m4.649 0h1.55m4.649 0h1.55m1.55 0h1.55m13.95 0h1.55m17.05 0h4.649m1.55 0h1.55m21.7 0h1.55m3.099 0h3.099m4.649 0h4.649m4.649 0h1.55m3.099 0h3.099m3.099 0h1.55m1.55 0h3.099m3.099 0h1.55m6.199 0h1.55m3.099 0h1.55m49.59 0h1.55m15.5 0h1.55m21.7 0h1.55m130.2 0h1.55M160.5 2201.7h1.55m212.3 0h3.099m3.099 0h1.55m38.74 0h1.55m12.4 0h1.55m20.15 0h1.55M309.3 2215.74h1.55m23.25 0h4.649m4.649 0h1.55m3.099 0h1.55m1.55 0h3.099m20.15 0h1.55m12.4 0h3.099m9.298 0h4.649m4.649 0h4.649m18.6 0h1.55m7.749 0h1.55m13.95 0h1.55m32.54 0h1.55m1.55 0h1.55m26.35 0h1.55m52.69 0h3.099m79.04 0h1.55m34.09 0h1.55M107.8 2229.78h1.55m4.649 0h3.099m1.55 0h1.55m3.099 0h1.55m3.099 0h1.55m4.649 0h1.55m29.45 0h1.55m3.099 0h1.55m9.298 0h1.55m69.74 0h1.55m17.05 0h3.099m49.59 0h1.55m35.64 0h1.55m3.099 0h4.649m18.6 0h1.55m12.4 0h1.55m35.64 0h1.55m40.29 0h1.55m13.95 0h1.55m6.199 0h4.649m7.749 0h1.55m3.099 0h3.099m6.199 0h1.55m1.55 0h3.099m6.199 0h3.099m3.099 0h1.55m17.05 0h1.55m13.95 0h1.55m3.099 0h1.55m4.649 0h1.55m7.749 0h4.649m4.649 0h1.55m6.199 0h1.55m24.8 0h1.55m7.749 0h1.55m6.199 0h1.55m18.6 0h1.55m10.85 0h1.55M110.9 2243.82h1.55m7.749 0h1.55m3.099 0h1.55m110 0h1.55m38.74 0h1.55m32.54 0h1.55m15.5 0h4.649m17.05 0h1.55m3.099 0h1.55m1.55 0h1.55m4.649 0h1.55m23.25 0h1.55m9.298 0h1.55m3.099 0h1.55m26.35 0h3.099m6.199 0h3.099m9.298 0h1.55m13.95 0h1.55m3.099 0h6.199m4.649 0h1.55m10.85 0h4.649m6.199 0h3.099m20.15 0h1.55m7.749 0h1.55m1.55 0h1.55m23.25 0h1.55m1.55 0h3.099m15.5 0h1.55m1.55 0h1.55m1.55 0h1.55m4.649 0h3.099m9.298 0h1.55m6.199 0h1.55m4.649 0h1.55m1.55 0h3.099m1.55 0h1.55m7.749 0h1.55m1.55 0h1.55m3.099 0h1.55m20.15 0h4.649m4.649 0h1.55m1.55 0h1.55m12.4 0h1.55M95.45 2257.86h6.199m3.099 0h1.55m3.099 0h7.749m1.55 0h1.55m35.64 0h3.099m23.25 0h1.55m6.199 0h1.55m21.7 0h1.55m34.09 0h1.55m48.04 0h1.55m29.45 0h1.55m3.099 0h3.099m10.85 0h3.099m13.95 0h1.55m1.55 0h1.55m7.749 0h1.55m1.55 0h3.099m9.298 0h3.099m4.649 0h1.55m10.85 0h1.55m3.099 0h1.55m12.4 0h1.55m3.099 0h1.55m3.099 0h3.099m7.749 0h3.099m3.099 0h1.55m13.95 0h1.55m12.4 0h3.099m1.55 0h1.55m3.099 0h1.55m13.95 0h4.649m3.099 0h1.55m13.95 0h1.55m6.199 0h1.55m18.6 0h1.55m7.749 0h1.55m3.099 0h1.55m1.55 0h1.55m1.55 0h1.55m13.95 0h1.55m13.95 0h1.55m6.199 0h3.099m9.298 0h3.099m10.85 0h3.099m4.649 0h1.55m6.199 0h1.55m3.099 0h3.099m17.05 0h3.099m4.649 0h1.55M103.2 2271.9h1.55m13.95 0h7.749m6.199 0h1.55m6.199 0h1.55m1.55 0h1.55m37.19 0h1.55m3.099 0h1.55m30.99 0h1.55m91.44 0h1.55m17.05 0h1.55m4.649 0h1.55m12.4 0h3.099m23.25 0h1.55m35.64 0h1.55m15.5 0h1.55m4.649 0h3.099m17.05 0h1.55m4.649 0h3.099m3.099 0h3.099m15.5 0h1.55m17.05 0h4.649m4.649 0h3.099m9.298 0h1.55m15.5 0h1.55m1.55 0h1.55m1.55 0h6.199m7.749 0h1.55m3.099 0h4.649m7.749 0h1.55m10.85 0h3.099m4.649 0h1.55m1.55 0h1.55m3.099 0h1.55m7.749 0h4.649m1.55 0h1.55m9.298 0h1.55m3.099 0h1.55m7.749 0h1.55m4.649 0h1.55m6.199 0h1.55m23.25 0h1.55m1.55 0h3.099m6.199 0h1.55M100.1 2285.94h1.55m30.99 0h1.55m6.199 0h3.099m32.54 0h1.55m12.4 0h1.55m32.54 0h1.55m3.099 0h1.55m57.34 0h1.55m34.09 0h3.099m15.5 0h1.55m26.35 0h3.099m20.15 0h1.55m3.099 0h1.55m18.6 0h1.55m1.55 0h3.099m13.95 0h1.55m13.95 0h1.55m12.4 0h3.099m13.95 0h1.55m3.099 0h1.55m3.099 0h1.55m12.4 0h1.55m10.85 0h1.55m7.749 0h1.55m1.55 0h1.55m3.099 0h1.55m1.55 0h1.55m10.85 0h1.55m4.649 0h3.099m3.099 0h1.55m3.099 0h1.55m9.298 0h3.099m7.749 0h1.55m12.4 0h1.55m1.55 0h1.55m29.45 0h1.55m3.099 0h1.55m4.649 0h1.55m4.649 0h3.099m12.4 0h1.55m6.199 0h4.649m15.5 0h1.55M98.55 2299.98h1.55m3.099 0h1.55m7.749 0h1.55m10.85 0h1.55m6.199 0h3.099m1.55 0h1.55m9.298 0h3.099m21.7 0h1.55m1.55 0h3.099m23.25 0h1.55m4.649 0h1.55m97.63 0h1.55m3.099 0h3.099m13.95 0h3.099m4.649 0h3.099m13.95 0h1.55m4.649 0h1.55m37.19 0h1.55m1.55 0h1.55m1.55 0h1.55m15.5 0h4.649m13.95 0h1.55m10.85 0h1.55m12.4 0h3.099m34.09 0h1.55m3.099 0h3.099m7.749 0h3.099m52.69 0h3.099m1.55 0h1.55m23.25 0h1.55m1.55 0h1.55m3.099 0h1.55m7.749 0h3.099m4.649 0h4.649m6.199 0h3.099m1.55 0h1.55m12.4 0h1.55m10.85 0h1.55m1.55 0h1.55m9.298 0h1.55m1.55 0h1.55M109.4 2314.02h1.55m3.099 0h1.55m1.55 0h3.099m23.25 0h3.099m1.55 0h3.099m4.649 0h1.55m9.298 0h1.55m12.4 0h3.099m3.099 0h1.55m43.39 0h1.55m7.749 0h1.55m3.099 0h1.55m71.29 0h1.55m7.749 0h1.55m6.199 0h3.099m4.649 0h1.55m4.649 0h1.55m9.298 0h1.55m3.099 0h3.099m20.15 0h1.55m4.649 0h1.55m10.85 0h1.55m24.8 0h1.55m3.099 0h1.55m13.95 0h4.649m1.55 0h1.55m4.649 0h1.55m3.099 0h1.55m10.85 0h1.55m1.55 0h1.55m4.649 0h3.099m9.298 0h1.55m1.55 0h6.199m15.5 0h1.55m10.85 0h1.55m4.649 0h6.199m1.55 0h6.199m3.099 0h1.55m4.649 0h3.099m1.55 0h1.55m6.199 0h3.099m6.199 0h1.55m6.199 0h1.55m4.649 0h4.649m1.55 0h1.55m7.749 0h1.55m1.55 0h6.199m1.55 0h3.099m7.749 0h1.55m21.7 0h1.55m6.199 0h1.55m4.649 0h1.55m1.55 0h1.55m4.649 0h1.55M114 2328.06h1.55m26.35 0h1.55m6.199 0h1.55m18.6 0h1.55m3.099 0h1.55m6.199 0h1.55m9.298 0h1.55m9.298 0h1.55m7.749 0h1.55m23.25 0h1.55m1.55 0h1.55m27.9 0h1.55m34.09 0h3.099m1.55 0h1.55m30.99 0h1.55m7.749 0h1.55m4.649 0h4.649m3.099 0h1.55m20.15 0h1.55m3.099 0h1.55m17.05 0h1.55m4.649 0h1.55m7.749 0h1.55m3.099 0h1.55m1.55 0h1.55m1.55 0h3.099m32.54 0h1.55m82.14 0h3.099m9.298 0h1.55m6.199 0h1.55m1.55 0h1.55m1.55 0h1.55m3.099 0h1.55m1.55 0h3.099m3.099 0h4.649m24.8 0h1.55m24.8 0h1.55m15.5 0h1.55m27.9 0h1.55m1.55 0h1.55M118.7 2342.1h1.55m13.95 0h1.55m18.6 0h1.55m30.99 0h1.55m10.85 0h1.55m1.55 0h3.099m43.39 0h1.55m3.099 0h1.55m20.15 0h1.55m1.55 0h1.55m13.95 0h1.55m18.6 0h1.55m9.298 0h1.55m15.5 0h3.099m13.95 0h1.55m29.45 0h1.55m18.6 0h4.649m4.649 0h1.55m1.55 0h1.55m6.199 0h1.55m15.5 0h1.55m1.55 0h1.55m4.649 0h1.55m4.649 0h1.55m9.298 0h1.55m7.749 0h1.55m41.84 0h1.55m30.99 0h3.099m1.55 0h3.099m1.55 0h4.649m1.55 0h1.55m6.199 0h1.55m18.6 0h1.55m9.298 0h1.55m7.749 0h1.55m6.199 0h1.55m12.4 0h4.649m3.099 0h1.55m4.649 0h1.55m4.649 0h3.099m4.649 0h1.55m9.298 0h1.55m3.099 0h3.099m6.199 0h1.55m4.649 0h1.55M98.55 2356.14h1.55m1.55 0h1.55m7.749 0h1.55m9.298 0h1.55m23.25 0h1.55m3.099 0h1.55m13.95 0h1.55m1.55 0h3.099m27.9 0h1.55m1.55 0h1.55m4.649 0h1.55m46.49 0h1.55m26.35 0h1.55m18.6 0h1.55m10.85 0h1.55m30.99 0h3.099m1.55 0h1.55m12.4 0h1.55m7.749 0h1.55m48.04 0h1.55m3.099 0h1.55m1.55 0h1.55m4.649 0h1.55m10.85 0h3.099m7.749 0h1.55m75.94 0h1.55m6.199 0h3.099m4.649 0h1.55m4.649 0h3.099m10.85 0h1.55m18.6 0h1.55m4.649 0h1.55m3.099 0h4.649m7.749 0h1.55m1.55 0h3.099m4.649 0h1.55m1.55 0h1.55m1.55 0h1.55m7.749 0h1.55m4.649 0h1.55m1.55 0h1.55m9.298 0h1.55m9.298 0h4.649m3.099 0h1.55m13.95 0h1.55M106.3 2370.18h1.55m6.199 0h1.55m26.35 0h1.55m12.4 0h3.099m3.099 0h1.55m3.099 0h4.649m3.099 0h3.099m1.55 0h1.55m103.8 0h1.55m3.099 0h1.55m15.5 0h3.099m10.85 0h1.55m3.099 0h1.55m7.749 0h1.55m3.099 0h1.55m15.5 0h1.55m12.4 0h3.099m10.85 0h1.55m23.25 0h1.55m4.649 0h1.55m12.4 0h1.55m4.649 0h3.099m7.749 0h1.55m21.7 0h1.55m1.55 0h4.649m3.099 0h1.55m3.099 0h1.55m4.649 0h3.099m1.55 0h1.55m15.5 0h1.55m9.298 0h1.55m4.649 0h1.55m1.55 0h1.55m4.649 0h1.55m4.649 0h6.199m6.199 0h3.099m15.5 0h3.099m6.199 0h1.55m4.649 0h1.55m1.55 0h3.099m12.4 0h3.099m3.099 0h1.55m6.199 0h1.55m7.749 0h3.099m4.649 0h4.649m1.55 0h1.55m1.55 0h1.55m4.649 0h1.55m7.749 0h1.55m9.298 0h1.55m7.749 0h1.55m1.55 0h3.099M109.4 2384.22h1.55m6.199 0h1.55m7.749 0h3.099m18.6 0h4.649m15.5 0h1.55m6.199 0h1.55m10.85 0h1.55m71.29 0h1.55m44.94 0h1.55m7.749 0h1.55m3.099 0h3.099m3.099 0h1.55m41.84 0h1.55m7.749 0h1.55m13.95 0h3.099m6.199 0h1.55m9.298 0h1.55m4.649 0h1.55m7.749 0h3.099m12.4 0h1.55m1.55 0h1.55m1.55 0h1.55m24.8 0h3.099m18.6 0h1.55m6.199 0h1.55m3.099 0h1.55m6.199 0h1.55m6.199 0h4.649m7.749 0h3.099m13.95 0h1.55m9.298 0h3.099m4.649 0h4.649m4.649 0h1.55m7.749 0h1.55m1.55 0h1.55m9.298 0h3.099m3.099 0h3.099m1.55 0h1.55m12.4 0h1.55m1.55 0h1.55m4.649 0h1.55m1.55 0h1.55m9.298 0h4.649m7.749 0h3.099m3.099 0h7.749m4.649 0h3.099m4.649 0h3.099m1.55 0h3.099M115.6 2398.26h3.099m3.099 0h1.55m4.649 0h1.55m6.199 0h3.099m68.19 0h1.55m9.298 0h3.099m89.89 0h1.55m4.649 0h6.199m6.199 0h1.55m7.749 0h1.55m10.85 0h1.55m6.199 0h3.099m15.5 0h1.55m17.05 0h1.55m68.19 0h1.55m7.749 0h1.55m4.649 0h1.55m9.298 0h1.55m9.298 0h1.55m24.8 0h1.55m3.099 0h4.649m13.95 0h1.55m1.55 0h1.55m1.55 0h3.099m12.4 0h1.55m18.6 0h1.55m7.749 0h4.649m4.649 0h1.55m3.099 0h3.099m6.199 0h1.55m4.649 0h1.55m3.099 0h1.55m1.55 0h1.55m9.298 0h1.55m18.6 0h4.649m15.5 0h1.55M160.5 2412.3h1.55m4.649 0h1.55m21.7 0h1.55m21.7 0h1.55m32.54 0h1.55m58.89 0h3.099m18.6 0h4.649m17.05 0h1.55m27.9 0h1.55m6.199 0h1.55m1.55 0h1.55m15.5 0h1.55m7.749 0h1.55m6.199 0h1.55m6.199 0h3.099m15.5 0h3.099m7.749 0h1.55m7.749 0h1.55m13.95 0h1.55m1.55 0h3.099m21.7 0h1.55m12.4 0h1.55m7.749 0h1.55m4.649 0h4.649m17.05 0h4.649m1.55 0h1.55m20.15 0h1.55m7.749 0h1.55m4.649 0h7.749m1.55 0h4.649m6.199 0h1.55m6.199 0h1.55m12.4 0h3.099m9.298 0h1.55m3.099 0h1.55m1.55 0h1.55m1.55 0h3.099m6.199 0h1.55m1.55 0h3.099m10.85 0h1.55M97 2426.34h3.099m12.4 0h1.55m6.199 0h1.55m68.19 0h1.55m21.7 0h1.55m44.94 0h1.55m9.298 0h1.55m13.95 0h1.55m29.45 0h1.55m1.55 0h1.55m1.55 0h6.199m21.7 0h1.55m15.5 0h1.55m3.099 0h4.649m12.4 0h1.55m21.7 0h1.55m3.099 0h1.55m3.099 0h1.55m23.25 0h1.55m10.85 0h1.55m9.298 0h1.55m3.099 0h1.55m4.649 0h1.55m1.55 0h1.55m1.55 0h1.55m4.649 0h1.55m3.099 0h1.55m4.649 0h1.55m1.55 0h1.55m1.55 0h3.099m9.298 0h1.55m3.099 0h3.099m3.099 0h3.099m30.99 0h1.55m15.5 0h1.55m71.29 0h1.55m20.15 0h1.55m1.55 0h1.55m6.199 0h1.55m4.649 0h1.55m3.099 0h1.55M114 2440.38h1.55m18.6 0h1.55m3.099 0h1.55m4.649 0h1.55m37.19 0h1.55m15.5 0h1.55m6.199 0h1.55m51.14 0h1.55m24.8 0h1.55m24.8 0h3.099m12.4 0h3.099m34.09 0h1.55m24.8 0h1.55m9.298 0h1.55m24.8 0h1.55m1.55 0h1.55m4.649 0h1.55m9.298 0h1.55m23.25 0h4.649m6.199 0h1.55m9.298 0h3.099m1.55 0h1.55m1.55 0h1.55m3.099 0h1.55m17.05 0h4.649m6.199 0h1.55m4.649 0h1.55m6.199 0h3.099m1.55 0h3.099m1.55 0h1.55m10.85 0h1.55m17.05 0h1.55m1.55 0h1.55m1.55 0h3.099m4.649 0h4.649m6.199 0h1.55m18.6 0h1.55m3.099 0h1.55m3.099 0h1.55m29.45 0h1.55m3.099 0h4.649m7.749 0h1.55M162.1 2454.42h1.55m127.1 0h3.099m7.749 0h1.55m10.85 0h1.55m1.55 0h1.55m1.55 0h1.55m1.55 0h1.55m3.099 0h3.099m6.199 0h3.099m7.749 0h1.55m1.55 0h3.099m3.099 0h1.55m1.55 0h1.55m85.24 0h1.55m9.298 0h1.55m4.649 0h1.55m1.55 0h4.649m1.55 0h3.099m7.749 0h3.099m4.649 0h1.55m4.649 0h1.55m1.55 0h1.55m1.55 0h4.649m9.298 0h1.55m3.099 0h3.099m6.199 0h4.649m4.649 0h1.55m4.649 0h1.55m9.298 0h1.55m20.15 0h3.099m9.298 0h1.55m15.5 0h4.649m1.55 0h1.55m9.298 0h3.099m15.5 0h4.649m1.55 0h1.55m35.64 0h1.55M110.9 2468.46h3.099m9.298 0h1.55m6.199 0h1.55m4.649 0h1.55m9.298 0h1.55m63.54 0h1.55m18.6 0h1.55m1.55 0h1.55m3.099 0h3.099m52.69 0h1.55m18.6 0h3.099m1.55 0h1.55m3.099 0h1.55m4.649 0h1.55m3.099 0h1.55m37.19 0h1.55m3.099 0h1.55m1.55 0h1.55m17.05 0h1.55m32.54 0h1.55m49.59 0h1.55m3.099 0h1.55m3.099 0h1.55m15.5 0h1.55m17.05 0h4.649m3.099 0h1.55m6.199 0h3.099m6.199 0h3.099m3.099 0h3.099m37.19 0h1.55m6.199 0h3.099m1.55 0h1.55m9.298 0h3.099m1.55 0h1.55m4.649 0h1.55m9.298 0h1.55m3.099 0h1.55m9.298 0h3.099m7.749 0h1.55m1.55 0h3.099m1.55 0h1.55m4.649 0h4.649m7.749 0h1.55M120.2 2482.5h1.55m27.9 0h1.55m4.649 0h1.55m35.64 0h4.649m63.54 0h1.55m23.25 0h1.55m20.15 0h1.55m1.55 0h1.55m12.4 0h1.55m44.94 0h1.55m3.099 0h1.55m17.05 0h1.55m1.55 0h1.55m12.4 0h1.55m21.7 0h1.55m6.199 0h1.55m10.85 0h3.099m1.55 0h1.55m6.199 0h6.199m3.099 0h1.55m9.298 0h3.099m6.199 0h4.649m4.649 0h1.55m1.55 0h3.099m40.29 0h3.099m15.5 0h4.649m1.55 0h3.099m6.199 0h1.55m3.099 0h3.099m4.649 0h1.55m1.55 0h1.55m1.55 0h1.55m10.85 0h4.649m17.05 0h1.55m1.55 0h1.55m3.099 0h4.649m10.85 0h3.099m20.15 0h1.55M95.45 2496.54h3.099m3.099 0h1.55m12.4 0h1.55m1.55 0h1.55m6.199 0h3.099m3.099 0h1.55m21.7 0h1.55m26.35 0h1.55m13.95 0h1.55m6.199 0h1.55m18.6 0h1.55m32.54 0h1.55m43.39 0h1.55m6.199 0h1.55m7.749 0h4.649m7.749 0h3.099m1.55 0h1.55m4.649 0h1.55m7.749 0h1.55m13.95 0h1.55m4.649 0h1.55m1.55 0h1.55m17.05 0h1.55m3.099 0h1.55m1.55 0h3.099m7.749 0h1.55m4.649 0h1.55m7.749 0h3.099m12.4 0h1.55m1.55 0h1.55m3.099 0h1.55m4.649 0h1.55m26.35 0h1.55m51.14 0h1.55m44.94 0h1.55m1.55 0h1.55m4.649 0h1.55m15.5 0h1.55m46.49 0h3.099M97 2510.58h3.099m15.5 0h1.55m3.099 0h3.099m3.099 0h1.55m23.25 0h3.099m92.98 0h1.55m18.6 0h1.55m6.199 0h1.55m29.45 0h1.55m3.099 0h1.55m32.54 0h1.55m3.099 0h1.55m3.099 0h1.55m3.099 0h3.099m4.649 0h1.55m6.199 0h3.099m1.55 0h3.099m3.099 0h1.55m6.199 0h1.55m1.55 0h3.099m1.55 0h4.649m3.099 0h1.55m9.298 0h1.55m18.6 0h1.55m1.55 0h1.55m3.099 0h1.55m4.649 0h1.55m1.55 0h1.55m10.85 0h4.649m9.298 0h1.55m4.649 0h1.55m1.55 0h3.099m12.4 0h1.55m17.05 0h1.55m15.5 0h1.55m3.099 0h1.55m15.5 0h1.55m12.4 0h1.55m4.649 0h1.55m9.298 0h1.55m4.649 0h3.099m3.099 0h1.55m3.099 0h1.55m1.55 0h1.55m1.55 0h1.55m9.298 0h1.55m9.298 0h1.55m13.95 0h3.099m4.649 0h1.55m3.099 0h3.099m29.45 0h3.099"/>
<path stroke="#f9bbbc" d="M92.35 1261.02h4.649m127.1 0h1.55m61.99 0h1.55m65.09 0h1.55m3.099 0h1.55m24.8 0h1.55m21.7 0h1.55m1.55 0h1.55m23.25 0h1.55m4.649 0h1.55m6.199 0h1.55m1.55 0h1.55m26.35 0h1.55m27.9 0h1.55m18.6 0h1.55m7.749 0h1.55m23.25 0h3.099m82.14 0h1.55m10.85 0h3.099M146.6 1275.06h1.55m105.4 0h3.099m61.99 0h1.55m49.59 0h3.099m9.298 0h1.55m21.7 0h1.55m12.4 0h1.55m4.649 0h3.099m1.55 0h1.55m68.19 0h1.55m3.099 0h1.55m4.649 0h1.55m6.199 0h1.55m131.7 0h1.55m18.6 0h1.55M100.1 1289.1h1.55m51.14 0h1.55m40.29 0h1.55m15.5 0h1.55m41.84 0h1.55m80.59 0h1.55m141 0h1.55m6.199 0h1.55m4.649 0h3.099m29.45 0h1.55m23.25 0h1.55m24.8 0h1.55m29.45 0h1.55m71.29 0h1.55M151.2 1303.14h3.099m4.649 0h1.55m12.4 0h1.55m58.89 0h1.55m52.69 0h1.55m4.649 0h1.55m68.19 0h3.099m23.25 0h3.099m79.04 0h1.55m9.298 0h3.099m10.85 0h1.55m12.4 0h3.099m114.7 0h1.55m1.55 0h1.55M123.3 1317.18h1.55m68.19 0h1.55m41.84 0h1.55m178.2 0h3.099m181.3 0h1.55m80.59 0h1.55M92.35 1331.22h1.55m6.199 0h1.55m9.298 0h1.55m10.85 0h3.099m1.55 0h1.55m3.099 0h1.55m1.55 0h1.55m10.85 0h1.55m1.55 0h1.55m4.649 0h3.099m6.199 0h1.55m3.099 0h4.649m4.649 0h7.749m7.749 0h3.099m1.55 0h3.099m6.199 0h3.099m1.55 0h1.55m3.099 0h1.55m1.55 0h1.55m17.05 0h4.649m13.95 0h1.55m10.85 0h1.55m10.85 0h3.099m1.55 0h1.55m13.95 0h1.55m9.298 0h1.55m20.15 0h3.099m17.05 0h1.55m6.199 0h1.55m4.649 0h1.55m6.199 0h1.55m12.4 0h1.55m12.4 0h1.55m9.298 0h1.55m13.95 0h3.099m7.749 0h1.55m18.6 0h3.099m15.5 0h1.55m3.099 0h1.55m18.6 0h4.649m9.298 0h1.55m4.649 0h3.099m6.199 0h1.55m3.099 0h1.55m9.298 0h4.649m4.649 0h3.099m4.649 0h6.199m1.55 0h1.55m4.649 0h3.099m4.649 0h1.55m6.199 0h3.099m4.649 0h1.55m24.8 0h1.55m26.35 0h1.55m15.5 0h1.55m1.55 0h1.55m6.199 0h4.649m1.55 0h3.099M95.45 1345.26h1.55m10.85 0h3.099m13.95 0h1.55m10.85 0h3.099m7.749 0h1.55m21.7 0h3.099m37.19 0h1.55m4.649 0h1.55m13.95 0h6.199m1.55 0h3.099m3.099 0h1.55m1.55 0h3.099m6.199 0h1.55m3.099 0h1.55m6.199 0h1.55m1.55 0h1.55m12.4 0h1.55m17.05 0h1.55m7.749 0h1.55m13.95 0h1.55m4.649 0h3.099m23.25 0h1.55m100.7 0h4.649m6.199 0h1.55m4.649 0h1.55m32.54 0h1.55m1.55 0h1.55m1.55 0h1.55m6.199 0h1.55m1.55 0h1.55m15.5 0h3.099m7.749 0h1.55m3.099 0h4.649m17.05 0h4.649m7.749 0h1.55m9.298 0h1.55m20.15 0h3.099m12.4 0h1.55m6.199 0h1.55m13.95 0h3.099m1.55 0h1.55m1.55 0h3.099m15.5 0h3.099M90.8 1359.3h1.55m1.55 0h1.55m7.749 0h1.55m3.099 0h1.55m3.099 0h1.55m7.749 0h6.199m15.5 0h1.55m12.4 0h1.55m3.099 0h3.099m12.4 0h1.55m4.649 0h1.55m6.199 0h1.55m3.099 0h3.099m4.649 0h4.649m9.298 0h1.55m7.749 0h1.55m4.649 0h1.55m7.749 0h4.649m1.55 0h1.55m17.05 0h1.55m44.94 0h1.55m7.749 0h3.099m7.749 0h1.55m34.09 0h1.55m44.94 0h3.099m12.4 0h1.55m1.55 0h1.55m37.19 0h1.55m13.95 0h3.099m9.298 0h1.55m1.55 0h1.55m3.099 0h1.55m6.199 0h3.099m4.649 0h1.55m1.55 0h1.55m12.4 0h3.099m1.55 0h1.55m3.099 0h1.55m4.649 0h1.55m6.199 0h1.55m10.85 0h1.55m6.199 0h3.099m1.55 0h1.55m10.85 0h1.55m7.749 0h3.099m3.099 0h3.099m17.05 0h3.099m4.649 0h3.099m6.199 0h1.55m9.298 0h3.099m1.55 0h1.55m13.95 0h1.55m6.199 0h3.099M97 1373.34h3.099m1.55 0h4.649m1.55 0h1.55m4.649 0h1.55m7.749 0h1.55m17.05 0h1.55m1.55 0h1.55m6.199 0h1.55m7.749 0h6.199m3.099 0h3.099m3.099 0h1.55m9.298 0h1.55m3.099 0h3.099m9.298 0h3.099m6.199 0h3.099m4.649 0h1.55m10.85 0h1.55m3.099 0h4.649m1.55 0h3.099m1.55 0h1.55m17.05 0h1.55m4.649 0h1.55m3.099 0h1.55m15.5 0h1.55m20.15 0h1.55m24.8 0h1.55m17.05 0h1.55m3.099 0h1.55m29.45 0h1.55m23.25 0h3.099m55.79 0h3.099m37.19 0h4.649m4.649 0h3.099m12.4 0h7.749m1.55 0h1.55m13.95 0h3.099m9.298 0h3.099m3.099 0h3.099m3.099 0h4.649m12.4 0h3.099m20.15 0h9.298m17.05 0h1.55m13.95 0h1.55m4.649 0h1.55m9.298 0h3.099M92.35 1387.38h3.099m4.649 0h3.099m10.85 0h1.55m13.95 0h1.55m1.55 0h1.55m9.298 0h1.55m4.649 0h4.649m6.199 0h3.099m9.298 0h3.099m9.298 0h3.099m23.25 0h1.55m6.199 0h3.099m9.298 0h1.55m1.55 0h1.55m1.55 0h1.55m3.099 0h1.55m3.099 0h1.55m1.55 0h3.099m9.298 0h3.099m10.85 0h1.55m32.54 0h1.55m3.099 0h1.55m17.05 0h1.55m4.649 0h1.55m49.59 0h1.55m21.7 0h1.55m13.95 0h1.55m35.64 0h1.55m3.099 0h1.55m1.55 0h3.099m3.099 0h4.649m4.649 0h1.55m15.5 0h3.099m21.7 0h1.55m4.649 0h1.55m7.749 0h1.55m6.199 0h1.55m41.84 0h1.55m7.749 0h4.649m1.55 0h3.099m6.199 0h1.55m3.099 0h1.55m6.199 0h1.55m4.649 0h1.55m3.099 0h1.55m9.298 0h3.099m24.8 0h1.55m15.5 0h1.55M95.45 1401.42h1.55m1.55 0h1.55m3.099 0h1.55m10.85 0h1.55m13.95 0h1.55m15.5 0h1.55m4.649 0h1.55m4.649 0h3.099m3.099 0h3.099m15.5 0h1.55m7.749 0h1.55m6.199 0h1.55m3.099 0h1.55m1.55 0h1.55m9.298 0h1.55m1.55 0h1.55m3.099 0h1.55m1.55 0h1.55m1.55 0h1.55m1.55 0h1.55m1.55 0h4.649m1.55 0h3.099m1.55 0h1.55m9.298 0h1.55m7.749 0h1.55m10.85 0h1.55m4.649 0h1.55m4.649 0h3.099m3.099 0h1.55m1.55 0h1.55m29.45 0h1.55m37.19 0h3.099m3.099 0h1.55m24.8 0h1.55m54.24 0h1.55m44.94 0h1.55m9.298 0h1.55m7.749 0h1.55m46.49 0h1.55m15.5 0h3.099m9.298 0h1.55m6.199 0h1.55m4.649 0h1.55m6.199 0h1.55m4.649 0h1.55M93.9 1415.46h3.099m3.099 0h3.099m17.05 0h3.099m10.85 0h1.55m3.099 0h1.55m9.298 0h1.55m9.298 0h1.55m1.55 0h3.099m1.55 0h1.55m4.649 0h1.55m6.199 0h1.55m3.099 0h1.55m4.649 0h1.55m1.55 0h1.55m7.749 0h1.55m10.85 0h1.55m3.099 0h1.55m57.34 0h1.55m12.4 0h1.55m9.298 0h3.099m4.649 0h1.55m1.55 0h1.55m6.199 0h1.55m15.5 0h1.55m1.55 0h1.55m27.9 0h1.55m48.04 0h1.55m21.7 0h4.649m1.55 0h1.55m13.95 0h1.55m10.85 0h4.649m10.85 0h1.55m4.649 0h3.099m4.649 0h1.55m15.5 0h1.55m21.7 0h1.55m6.199 0h4.649m10.85 0h1.55m12.4 0h1.55m6.199 0h1.55m1.55 0h3.099m1.55 0h4.649m35.64 0h1.55m21.7 0h1.55m1.55 0h1.55m6.199 0h1.55m13.95 0h1.55m3.099 0h1.55M90.8 1429.5h3.099m20.15 0h1.55m20.15 0h3.099m1.55 0h7.749m1.55 0h1.55m15.5 0h3.099m1.55 0h3.099m1.55 0h1.55m4.649 0h1.55m7.749 0h4.649m1.55 0h1.55m13.95 0h3.099m1.55 0h1.55m12.4 0h1.55m6.199 0h4.649m1.55 0h3.099m3.099 0h1.55m6.199 0h3.099m7.749 0h1.55m12.4 0h1.55m4.649 0h3.099m3.099 0h1.55m4.649 0h1.55m10.85 0h3.099m1.55 0h1.55m4.649 0h3.099m9.298 0h3.099m7.749 0h1.55m1.55 0h1.55m18.6 0h1.55m9.298 0h1.55m4.649 0h1.55m7.749 0h1.55m6.199 0h1.55m1.55 0h1.55m13.95 0h1.55m15.5 0h1.55m6.199 0h1.55m6.199 0h1.55m6.199 0h1.55m7.749 0h1.55m6.199 0h1.55m4.649 0h1.55m10.85 0h6.199m1.55 0h4.649m4.649 0h1.55m1.55 0h1.55m3.099 0h1.55m10.85 0h3.099m1.55 0h1.55m1.55 0h3.099m1.55 0h1.55m6.199 0h1.55m12.4 0h1.55m1.55 0h1.55m13.95 0h1.55m21.7 0h1.55m4.649 0h3.099m6.199 0h1.55m20.15 0h3.099m3.099 0h1.55M97 1443.54h3.099m7.749 0h4.649m9.298 0h3.099m4.649 0h1.55m10.85 0h1.55m4.649 0h3.099m1.55 0h1.55m7.749 0h1.55m18.6 0h3.099m3.099 0h4.649m7.749 0h1.55m1.55 0h3.099m4.649 0h1.55m20.15 0h3.099m1.55 0h1.55m3.099 0h1.55m6.199 0h3.099m23.25 0h3.099m6.199 0h1.55m21.7 0h1.55m13.95 0h1.55m12.4 0h1.55m1.55 0h4.649m71.29 0h1.55m24.8 0h3.099m24.8 0h1.55m7.749 0h1.55m6.199 0h1.55m7.749 0h1.55m12.4 0h3.099m9.298 0h1.55m10.85 0h3.099m23.25 0h3.099m13.95 0h3.099m4.649 0h4.649m10.85 0h3.099m3.099 0h6.199m7.749 0h3.099m7.749 0h1.55m17.05 0h1.55m3.099 0h3.099m26.35 0h3.099m7.749 0h1.55m1.55 0h1.55M90.8 1457.58h3.099m21.7 0h1.55m13.95 0h3.099m4.649 0h1.55m10.85 0h3.099m24.8 0h1.55m1.55 0h1.55m1.55 0h1.55m12.4 0h1.55m9.298 0h3.099m12.4 0h1.55m12.4 0h1.55m7.749 0h1.55m4.649 0h1.55m3.099 0h1.55m1.55 0h1.55m15.5 0h1.55m24.8 0h1.55m15.5 0h1.55m3.099 0h1.55m6.199 0h1.55m17.05 0h1.55m55.79 0h3.099m43.39 0h3.099m1.55 0h1.55m29.45 0h1.55m21.7 0h1.55m6.199 0h1.55m6.199 0h1.55m1.55 0h1.55m15.5 0h1.55m4.649 0h1.55m17.05 0h1.55m6.199 0h3.099m3.099 0h1.55m1.55 0h1.55m4.649 0h1.55m20.15 0h1.55m3.099 0h1.55m3.099 0h1.55m3.099 0h3.099m17.05 0h3.099m1.55 0h1.55m1.55 0h1.55m9.298 0h1.55m3.099 0h1.55m6.199 0h1.55m1.55 0h3.099M93.9 1471.62h3.099m34.09 0h1.55m7.749 0h6.199m3.099 0h1.55m9.298 0h1.55m3.099 0h1.55m9.298 0h1.55m12.4 0h1.55m1.55 0h1.55m3.099 0h1.55m3.099 0h1.55m7.749 0h3.099m30.99 0h3.099m12.4 0h1.55m3.099 0h4.649m21.7 0h1.55m6.199 0h1.55m7.749 0h1.55m3.099 0h1.55m3.099 0h1.55m6.199 0h1.55m6.199 0h3.099m7.749 0h1.55m15.5 0h1.55m72.84 0h1.55m15.5 0h1.55m4.649 0h1.55m12.4 0h1.55m7.749 0h1.55m4.649 0h4.649m10.85 0h1.55m4.649 0h1.55m4.649 0h1.55m9.298 0h1.55m1.55 0h1.55m34.09 0h1.55m7.749 0h1.55m1.55 0h6.199m12.4 0h1.55m18.6 0h1.55m3.099 0h1.55m4.649 0h1.55m10.85 0h1.55m1.55 0h1.55m4.649 0h1.55m1.55 0h4.649m20.15 0h1.55m3.099 0h3.099m10.85 0h3.099M90.8 1485.66h1.55m1.55 0h1.55m9.298 0h3.099m6.199 0h1.55m6.199 0h3.099m6.199 0h1.55m3.099 0h1.55m6.199 0h1.55m20.15 0h1.55m10.85 0h3.099m17.05 0h3.099m10.85 0h3.099m1.55 0h3.099m13.95 0h1.55m4.649 0h1.55m4.649 0h1.55m4.649 0h1.55m1.55 0h1.55m3.099 0h4.649m3.099 0h1.55m3.099 0h1.55m1.55 0h1.55m15.5 0h3.099m4.649 0h4.649m12.4 0h1.55m4.649 0h4.649m26.35 0h1.55m3.099 0h1.55m37.19 0h1.55m34.09 0h1.55m15.5 0h1.55m26.35 0h3.099m9.298 0h1.55m18.6 0h1.55m27.9 0h3.099m10.85 0h1.55m7.749 0h1.55m3.099 0h6.199m29.45 0h1.55m3.099 0h1.55m3.099 0h3.099m6.199 0h1.55m1.55 0h1.55m15.5 0h1.55m9.298 0h3.099m30.99 0h1.55m3.099 0h1.55M100.1 1499.7h1.55m4.649 0h1.55m7.749 0h1.55m1.55 0h1.55m6.199 0h1.55m3.099 0h3.099m6.199 0h1.55m9.298 0h1.55m10.85 0h1.55m4.649 0h3.099m17.05 0h1.55m3.099 0h1.55m20.15 0h3.099m26.35 0h1.55m3.099 0h1.55m1.55 0h1.55m48.04 0h1.55m12.4 0h1.55m21.7 0h1.55m26.35 0h1.55m23.25 0h3.099m3.099 0h3.099m34.09 0h1.55m3.099 0h1.55m12.4 0h1.55m1.55 0h3.099m10.85 0h1.55m4.649 0h1.55m4.649 0h1.55m15.5 0h3.099m4.649 0h1.55m4.649 0h3.099m3.099 0h3.099m24.8 0h1.55m3.099 0h1.55m3.099 0h1.55m9.298 0h1.55m1.55 0h1.55m9.298 0h1.55m10.85 0h1.55m10.85 0h1.55m3.099 0h4.649m12.4 0h3.099m4.649 0h1.55m4.649 0h1.55m3.099 0h1.55m10.85 0h1.55m20.15 0h1.55m3.099 0h1.55m13.95 0h1.55M92.35 1513.74h1.55m7.749 0h1.55m4.649 0h1.55m3.099 0h1.55m26.35 0h7.749m20.15 0h3.099m3.099 0h1.55m15.5 0h3.099m20.15 0h1.55m6.199 0h1.55m4.649 0h1.55m15.5 0h1.55m7.749 0h1.55m12.4 0h6.199m6.199 0h1.55m9.298 0h3.099m4.649 0h3.099m7.749 0h1.55m30.99 0h1.55m6.199 0h1.55m3.099 0h1.55m15.5 0h4.649m9.298 0h1.55m35.64 0h1.55m20.15 0h1.55m18.6 0h1.55m9.298 0h1.55m7.749 0h1.55m1.55 0h1.55m4.649 0h1.55m10.85 0h1.55m4.649 0h3.099m4.649 0h3.099m3.099 0h1.55m32.54 0h1.55m34.09 0h1.55m6.199 0h1.55m7.749 0h1.55m6.199 0h1.55m9.298 0h1.55m10.85 0h4.649m13.95 0h1.55m9.298 0h1.55m9.298 0h3.099m7.749 0h1.55M112.5 1527.78h1.55m3.099 0h1.55m13.95 0h1.55m3.099 0h1.55m18.6 0h1.55m6.199 0h1.55m6.199 0h1.55m13.95 0h1.55m4.649 0h1.55m6.199 0h3.099m1.55 0h3.099m4.649 0h1.55m4.649 0h3.099m1.55 0h3.099m6.199 0h3.099m1.55 0h1.55m20.15 0h1.55m6.199 0h1.55m1.55 0h1.55m3.099 0h3.099m4.649 0h1.55m10.85 0h1.55m9.298 0h1.55m1.55 0h1.55m4.649 0h1.55m21.7 0h1.55m29.45 0h1.55m12.4 0h3.099m1.55 0h3.099m35.64 0h1.55m12.4 0h1.55m3.099 0h1.55m6.199 0h1.55m1.55 0h1.55m10.85 0h1.55m13.95 0h1.55m9.298 0h1.55m18.6 0h3.099m7.749 0h1.55m1.55 0h3.099m3.099 0h4.649m20.15 0h1.55m13.95 0h3.099m1.55 0h1.55m20.15 0h1.55m7.749 0h3.099m3.099 0h1.55m10.85 0h3.099m1.55 0h1.55m1.55 0h1.55m4.649 0h1.55m1.55 0h1.55m1.55 0h3.099m6.199 0h1.55m1.55 0h1.55m32.54 0h1.55M120.2 1541.82h1.55m6.199 0h1.55m4.649 0h1.55m4.649 0h3.099m4.649 0h4.649m1.55 0h4.649m1.55 0h1.55m1.55 0h3.099m10.85 0h3.099m3.099 0h1.55m1.55 0h3.099m3.099 0h1.55m3.099 0h4.649m3.099 0h1.55m9.298 0h1.55m7.749 0h1.55m20.15 0h1.55m17.05 0h3.099m3.099 0h1.55m6.199 0h1.55m4.649 0h3.099m13.95 0h1.55m9.298 0h1.55m3.099 0h3.099m7.749 0h1.55m23.25 0h1.55m12.4 0h1.55m27.9 0h4.649m23.25 0h3.099m6.199 0h1.55m1.55 0h3.099m21.7 0h1.55m38.74 0h1.55m6.199 0h1.55m12.4 0h1.55m1.55 0h1.55m3.099 0h3.099m15.5 0h1.55m3.099 0h1.55m26.35 0h1.55m3.099 0h3.099m10.85 0h4.649m17.05 0h1.55m1.55 0h1.55m20.15 0h3.099m17.05 0h3.099m10.85 0h6.199M114 1555.86h1.55m10.85 0h1.55m3.099 0h1.55m15.5 0h1.55m3.099 0h4.649m10.85 0h1.55m12.4 0h1.55m4.649 0h1.55m6.199 0h1.55m1.55 0h1.55m3.099 0h1.55m1.55 0h1.55m6.199 0h1.55m3.099 0h1.55m1.55 0h1.55m6.199 0h1.55m1.55 0h1.55m1.55 0h1.55m3.099 0h1.55m3.099 0h1.55m7.749 0h1.55m7.749 0h4.649m6.199 0h1.55m4.649 0h1.55m15.5 0h1.55m6.199 0h4.649m41.84 0h1.55m24.8 0h1.55m1.55 0h1.55m9.298 0h1.55m4.649 0h1.55m17.05 0h1.55m13.95 0h1.55m3.099 0h1.55m26.35 0h1.55m29.45 0h3.099m34.09 0h1.55m17.05 0h1.55m12.4 0h3.099m1.55 0h1.55m3.099 0h1.55m1.55 0h1.55m3.099 0h1.55m4.649 0h1.55m9.298 0h1.55m29.45 0h1.55m6.199 0h1.55m9.298 0h1.55m12.4 0h3.099m7.749 0h1.55M93.9 1569.9h6.199m7.749 0h1.55m1.55 0h1.55m9.298 0h1.55m1.55 0h1.55m4.649 0h4.649m10.85 0h3.099m4.649 0h4.649m3.099 0h3.099m1.55 0h1.55m15.5 0h1.55m4.649 0h1.55m4.649 0h1.55m9.298 0h6.199m20.15 0h1.55m12.4 0h1.55m9.298 0h1.55m1.55 0h1.55m24.8 0h1.55m4.649 0h3.099m12.4 0h1.55m7.749 0h1.55m1.55 0h3.099m12.4 0h1.55m32.54 0h3.099m18.6 0h1.55m29.45 0h4.649m1.55 0h1.55m3.099 0h1.55m29.45 0h1.55m12.4 0h1.55m20.15 0h1.55m10.85 0h4.649m3.099 0h1.55m3.099 0h1.55m1.55 0h1.55m7.749 0h1.55m34.09 0h7.749m9.298 0h1.55m15.5 0h1.55m4.649 0h1.55m1.55 0h4.649m6.199 0h1.55m6.199 0h1.55m3.099 0h1.55m15.5 0h1.55m10.85 0h1.55m12.4 0h1.55m1.55 0h1.55M103.2 1583.94h3.099m41.84 0h1.55m4.649 0h1.55m1.55 0h3.099m6.199 0h3.099m20.15 0h3.099m6.199 0h1.55m9.298 0h1.55m3.099 0h1.55m27.9 0h1.55m10.85 0h1.55m32.54 0h1.55m10.85 0h3.099m6.199 0h3.099m9.298 0h1.55m15.5 0h1.55m24.8 0h3.099m6.199 0h1.55m4.649 0h1.55m3.099 0h1.55m15.5 0h1.55m7.749 0h3.099m6.199 0h1.55m24.8 0h1.55m9.298 0h1.55m12.4 0h1.55m18.6 0h1.55m1.55 0h1.55m30.99 0h1.55m10.85 0h1.55m18.6 0h1.55m3.099 0h3.099m7.749 0h1.55m10.85 0h1.55m12.4 0h1.55m13.95 0h1.55m13.95 0h4.649m9.298 0h1.55m12.4 0h3.099m4.649 0h1.55m20.15 0h1.55m4.649 0h1.55M146.6 1597.98h1.55m7.749 0h1.55m1.55 0h1.55m1.55 0h7.749m30.99 0h1.55m3.099 0h3.099m4.649 0h1.55m1.55 0h1.55m6.199 0h1.55m4.649 0h1.55m3.099 0h3.099m4.649 0h1.55m3.099 0h3.099m7.749 0h3.099m17.05 0h1.55m3.099 0h1.55m1.55 0h1.55m7.749 0h4.649m6.199 0h4.649m12.4 0h1.55m1.55 0h1.55m21.7 0h1.55m3.099 0h1.55m9.298 0h1.55m3.099 0h3.099m26.35 0h1.55m1.55 0h3.099m7.749 0h3.099m40.29 0h1.55m4.649 0h1.55m1.55 0h1.55m1.55 0h1.55m18.6 0h1.55m6.199 0h1.55m9.298 0h4.649m7.749 0h1.55m18.6 0h1.55m12.4 0h3.099m1.55 0h1.55m7.749 0h1.55m1.55 0h1.55m4.649 0h1.55m6.199 0h1.55m9.298 0h4.649m4.649 0h4.649m6.199 0h1.55m10.85 0h1.55m7.749 0h1.55m21.7 0h1.55m1.55 0h1.55m1.55 0h1.55m1.55 0h1.55m1.55 0h3.099m1.55 0h1.55m7.749 0h3.099m7.749 0h1.55M121.8 1612.02h1.55m9.298 0h3.099m27.9 0h1.55m17.05 0h3.099m6.199 0h6.199m13.95 0h1.55m1.55 0h3.099m1.55 0h1.55m4.649 0h3.099m18.6 0h3.099m3.099 0h3.099m1.55 0h3.099m6.199 0h1.55m3.099 0h1.55m15.5 0h1.55m20.15 0h1.55m7.749 0h1.55m4.649 0h1.55m65.09 0h3.099m83.69 0h1.55m40.29 0h1.55m23.25 0h1.55m9.298 0h1.55m18.6 0h1.55m77.49 0h1.55m7.749 0h1.55m20.15 0h4.649m4.649 0h1.55m1.55 0h1.55M126.4 1626.06h1.55m1.55 0h1.55m29.45 0h1.55m34.09 0h1.55m15.5 0h1.55m3.099 0h1.55m9.298 0h3.099m1.55 0h3.099m10.85 0h1.55m13.95 0h1.55m1.55 0h1.55m3.099 0h3.099m1.55 0h1.55m6.199 0h3.099m6.199 0h4.649m6.199 0h1.55m4.649 0h1.55m10.85 0h1.55m41.84 0h1.55m114.7 0h4.649m7.749 0h4.649m9.298 0h1.55m23.25 0h1.55m20.15 0h1.55m1.55 0h3.099m7.749 0h1.55m9.298 0h3.099m10.85 0h1.55m3.099 0h1.55m6.199 0h1.55m6.199 0h1.55m13.95 0h3.099m6.199 0h1.55m9.298 0h4.649M100.1 1640.1h1.55m6.199 0h1.55m10.85 0h1.55m3.099 0h1.55m26.35 0h1.55m9.298 0h1.55m7.749 0h1.55m7.749 0h1.55m24.8 0h1.55m4.649 0h1.55m4.649 0h1.55m9.298 0h1.55m3.099 0h1.55m1.55 0h1.55m12.4 0h1.55m13.95 0h1.55m7.749 0h1.55m24.8 0h1.55m6.199 0h3.099m3.099 0h1.55m13.95 0h1.55m12.4 0h1.55m1.55 0h3.099m12.4 0h1.55m9.298 0h1.55m37.19 0h1.55m17.05 0h1.55m10.85 0h1.55m18.6 0h1.55m23.25 0h3.099m18.6 0h1.55m18.6 0h1.55m27.9 0h1.55m13.95 0h1.55m6.199 0h1.55m44.94 0h3.099m6.199 0h4.649M95.45 1654.14h1.55m9.298 0h1.55m10.85 0h4.649m57.34 0h1.55m4.649 0h1.55m3.099 0h1.55m10.85 0h1.55m34.09 0h1.55m1.55 0h1.55m3.099 0h1.55m10.85 0h1.55m23.25 0h1.55m6.199 0h1.55m4.649 0h3.099m7.749 0h3.099m34.09 0h3.099m3.099 0h1.55m12.4 0h3.099m34.09 0h3.099m1.55 0h1.55m34.09 0h3.099m7.749 0h1.55m26.35 0h3.099m18.6 0h1.55m38.74 0h1.55m23.25 0h1.55m4.649 0h3.099m18.6 0h1.55m4.649 0h1.55m6.199 0h1.55m26.35 0h1.55m15.5 0h1.55M112.5 1668.18h1.55m15.5 0h1.55m10.85 0h1.55m12.4 0h1.55m18.6 0h1.55m27.9 0h3.099m17.05 0h1.55m1.55 0h1.55m7.749 0h3.099m40.29 0h1.55m13.95 0h1.55m3.099 0h1.55m7.749 0h1.55m72.84 0h3.099m1.55 0h1.55m20.15 0h1.55m13.95 0h1.55m13.95 0h1.55m15.5 0h1.55m7.749 0h1.55m55.79 0h1.55m21.7 0h1.55m43.39 0h1.55m12.4 0h1.55m9.298 0h1.55m26.35 0h1.55m4.649 0h1.55m4.649 0h1.55m3.099 0h1.55m10.85 0h1.55M115.6 1682.22h1.55m1.55 0h1.55m7.749 0h3.099m3.099 0h3.099m40.29 0h3.099m1.55 0h1.55m57.34 0h1.55m3.099 0h3.099m10.85 0h1.55m32.54 0h1.55m13.95 0h3.099m12.4 0h3.099m27.9 0h1.55m13.95 0h1.55m6.199 0h1.55m23.25 0h1.55m44.94 0h3.099m66.64 0h1.55m40.29 0h3.099m27.9 0h1.55m9.298 0h1.55m13.95 0h1.55m1.55 0h1.55m26.35 0h1.55m15.5 0h1.55m6.199 0h1.55m3.099 0h1.55M101.6 1696.26h3.099m20.15 0h6.199m44.94 0h1.55m41.84 0h1.55m43.39 0h1.55m103.8 0h1.55m20.15 0h3.099m10.85 0h1.55m3.099 0h1.55m18.6 0h1.55m37.19 0h1.55m17.05 0h1.55m10.85 0h1.55m3.099 0h1.55m21.7 0h4.649m30.99 0h1.55m46.49 0h1.55M90.8 1710.3h1.55m12.4 0h1.55m49.59 0h1.55m71.29 0h1.55m23.25 0h1.55m108.5 0h1.55m1.55 0h1.55m29.45 0h1.55m52.69 0h1.55m13.95 0h1.55m57.34 0h1.55m6.199 0h1.55m24.8 0h1.55m38.74 0h3.099m40.29 0h1.55m3.099 0h1.55m4.649 0h1.55m41.84 0h3.099M152.8 1724.34h1.55m13.95 0h3.099m1.55 0h1.55m26.35 0h1.55m17.05 0h1.55m32.54 0h1.55m6.199 0h1.55m32.54 0h1.55m44.94 0h1.55m99.18 0h1.55m48.04 0h1.55m69.74 0h1.55m10.85 0h1.55m12.4 0h1.55m63.54 0h1.55M97 1738.38h1.55m27.9 0h1.55m30.99 0h1.55m58.89 0h1.55m21.7 0h3.099m27.9 0h1.55m52.69 0h1.55m4.649 0h1.55m63.54 0h1.55m12.4 0h1.55m75.94 0h1.55m17.05 0h1.55m119.3 0h1.55m18.6 0h1.55m37.19 0h1.55M137.3 1752.42h1.55m35.64 0h1.55m26.35 0h1.55m10.85 0h1.55m32.54 0h1.55m17.05 0h4.649m6.199 0h1.55m20.15 0h1.55m10.85 0h1.55m69.74 0h1.55m17.05 0h1.55m79.04 0h1.55m20.15 0h1.55m96.08 0h3.099m1.55 0h1.55m18.6 0h3.099m68.19 0h1.55M222.5 1766.46h1.55m449.4 0h1.55m6.199 0h3.099M231.8 1780.5h1.55m79.04 0h1.55m20.15 0h1.55m172 0h1.55M210.1 1794.54h1.55M281.4 1808.58h1.55m10.85 0h1.55m124 0h1.55m20.15 0h1.55m20.15 0h1.55m61.99 0h1.55M101.6 1822.62h1.55m12.4 0h1.55m65.09 0h1.55m24.8 0h1.55m3.099 0h3.099m6.199 0h1.55m15.5 0h1.55m37.19 0h4.649m10.85 0h1.55m4.649 0h1.55m29.45 0h3.099m21.7 0h1.55m4.649 0h3.099m58.89 0h1.55m13.95 0h1.55m46.49 0h3.099m26.35 0h3.099m24.8 0h1.55m13.95 0h1.55m4.649 0h1.55m21.7 0h1.55m43.39 0h1.55m7.749 0h1.55m1.55 0h1.55m9.298 0h1.55m13.95 0h3.099m9.298 0h1.55m6.199 0h1.55M95.45 1836.66h1.55m9.298 0h1.55m34.09 0h1.55m3.099 0h1.55m7.749 0h3.099m15.5 0h1.55m10.85 0h1.55m44.94 0h1.55m6.199 0h1.55m69.74 0h1.55m4.649 0h1.55m20.15 0h1.55m74.39 0h3.099m1.55 0h1.55m105.4 0h3.099m20.15 0h1.55m9.298 0h1.55m57.34 0h1.55m3.099 0h3.099m12.4 0h3.099m26.35 0h1.55m12.4 0h3.099m9.298 0h1.55M100.1 1850.7h1.55m27.9 0h3.099m12.4 0h3.099m37.19 0h3.099m46.49 0h1.55m34.09 0h1.55m13.95 0h1.55m43.39 0h3.099m52.69 0h3.099m29.45 0h1.55m23.25 0h1.55m1.55 0h1.55m26.35 0h1.55m23.25 0h1.55m4.649 0h4.649m4.649 0h1.55m24.8 0h3.099m43.39 0h3.099m17.05 0h1.55m23.25 0h6.199m21.7 0h4.649m7.749 0h1.55m21.7 0h1.55M221 1864.74h3.099m3.099 0h3.099m9.298 0h3.099m38.74 0h1.55m4.649 0h1.55m1.55 0h3.099m61.99 0h1.55m1.55 0h1.55m7.749 0h1.55m10.85 0h3.099m144.1 0h1.55m15.5 0h1.55m13.95 0h1.55m51.14 0h3.099m17.05 0h3.099m29.45 0h1.55m6.199 0h1.55m12.4 0h1.55m1.55 0h1.55M93.9 1878.78h1.55m1.55 0h1.55m20.15 0h1.55m1.55 0h3.099m10.85 0h3.099m48.04 0h1.55m17.05 0h1.55m46.49 0h1.55m18.6 0h1.55m26.35 0h1.55m4.649 0h1.55m58.89 0h1.55m92.98 0h1.55m103.8 0h1.55m55.79 0h1.55m3.099 0h1.55m1.55 0h1.55m7.749 0h1.55m18.6 0h3.099m23.25 0h1.55m6.199 0h1.55M97 1892.82h1.55m1.55 0h1.55m46.49 0h1.55m4.649 0h1.55m13.95 0h1.55m3.099 0h1.55m4.649 0h1.55m10.85 0h4.649m9.298 0h1.55m3.099 0h1.55m10.85 0h1.55m26.35 0h1.55m10.85 0h1.55m3.099 0h3.099m15.5 0h1.55m1.55 0h3.099m3.099 0h6.199m1.55 0h1.55m7.749 0h1.55m3.099 0h1.55m3.099 0h1.55m21.7 0h1.55m17.05 0h1.55m41.84 0h1.55m23.25 0h1.55m12.4 0h1.55m12.4 0h1.55m41.84 0h1.55m13.95 0h1.55m1.55 0h4.649m41.84 0h3.099m35.64 0h1.55m6.199 0h1.55m15.5 0h1.55m12.4 0h1.55m15.5 0h1.55m10.85 0h1.55m7.749 0h1.55M132.6 1906.86h1.55m38.74 0h1.55m15.5 0h4.649m7.749 0h1.55m17.05 0h3.099m1.55 0h1.55m1.55 0h1.55m1.55 0h1.55m1.55 0h3.099m20.15 0h3.099m9.298 0h1.55m4.649 0h9.298m1.55 0h1.55m20.15 0h1.55m3.099 0h1.55m1.55 0h4.649m1.55 0h1.55m48.04 0h1.55m43.39 0h1.55m35.64 0h1.55m24.8 0h3.099m6.199 0h1.55m46.49 0h1.55m7.749 0h6.199m20.15 0h1.55m18.6 0h1.55m10.85 0h1.55m4.649 0h1.55m26.35 0h1.55m9.298 0h1.55m12.4 0h1.55m32.54 0h1.55M106.3 1920.9h3.099m20.15 0h1.55m27.9 0h1.55m6.199 0h1.55m10.85 0h1.55m1.55 0h1.55m10.85 0h1.55m3.099 0h1.55m9.298 0h1.55m6.199 0h4.649m7.749 0h1.55m1.55 0h3.099m6.199 0h3.099m13.95 0h1.55m1.55 0h3.099m3.099 0h1.55m3.099 0h1.55m1.55 0h1.55m17.05 0h1.55m9.298 0h1.55m12.4 0h1.55m1.55 0h1.55m1.55 0h1.55m26.35 0h1.55m92.98 0h1.55m3.099 0h1.55m9.298 0h1.55m48.04 0h1.55m46.49 0h3.099m9.298 0h1.55m35.64 0h1.55m4.649 0h1.55m4.649 0h1.55m35.64 0h1.55m9.298 0h3.099m4.649 0h1.55m12.4 0h1.55m1.55 0h1.55M107.8 1934.94h1.55m6.199 0h3.099m3.099 0h1.55m3.099 0h1.55m26.35 0h1.55m17.05 0h1.55m7.749 0h1.55m20.15 0h4.649m18.6 0h1.55m46.49 0h1.55m4.649 0h1.55m4.649 0h1.55m4.649 0h7.749m4.649 0h1.55m1.55 0h1.55m1.55 0h3.099m3.099 0h1.55m6.199 0h1.55m29.45 0h1.55m10.85 0h1.55m7.749 0h1.55m82.14 0h3.099m3.099 0h1.55m27.9 0h1.55m10.85 0h1.55m7.749 0h1.55m20.15 0h1.55m12.4 0h3.099m20.15 0h1.55m7.749 0h1.55m35.64 0h4.649m27.9 0h1.55m30.99 0h1.55m6.199 0h3.099M110.9 1948.98h3.099m17.05 0h1.55m15.5 0h1.55m18.6 0h1.55m21.7 0h3.099m1.55 0h1.55m7.749 0h1.55m4.649 0h1.55m7.749 0h1.55m29.45 0h3.099m1.55 0h1.55m3.099 0h1.55m17.05 0h1.55m15.5 0h1.55m9.298 0h1.55m7.749 0h3.099m4.649 0h1.55m26.35 0h1.55m30.99 0h1.55m9.298 0h1.55m12.4 0h1.55m71.29 0h1.55m55.79 0h3.099m6.199 0h3.099m24.8 0h1.55m7.749 0h3.099m51.14 0h1.55m15.5 0h1.55m18.6 0h1.55m10.85 0h3.099M104.7 1963.02h1.55m20.15 0h1.55m20.15 0h1.55m3.099 0h1.55m48.04 0h1.55m10.85 0h1.55m7.749 0h1.55m1.55 0h1.55m4.649 0h3.099m15.5 0h1.55m15.5 0h4.649m4.649 0h1.55m12.4 0h1.55m1.55 0h3.099m29.45 0h1.55m23.25 0h1.55m51.14 0h1.55m12.4 0h1.55m3.099 0h4.649m29.45 0h1.55m66.64 0h1.55m23.25 0h1.55m32.54 0h3.099m82.14 0h1.55m7.749 0h1.55M97 1977.06h3.099m1.55 0h1.55m1.55 0h1.55m17.05 0h3.099m1.55 0h1.55m12.4 0h1.55m13.95 0h3.099m15.5 0h1.55m21.7 0h1.55m3.099 0h1.55m3.099 0h1.55m6.199 0h1.55m1.55 0h1.55m7.749 0h1.55m7.749 0h3.099m12.4 0h1.55m3.099 0h4.649m9.298 0h1.55m1.55 0h1.55m17.05 0h1.55m3.099 0h4.649m9.298 0h1.55m3.099 0h3.099m49.59 0h1.55m10.85 0h1.55m24.8 0h1.55m85.24 0h1.55m43.39 0h1.55m6.199 0h1.55m3.099 0h1.55m35.64 0h1.55m23.25 0h4.649m3.099 0h3.099m12.4 0h1.55m4.649 0h1.55m48.04 0h3.099m3.099 0h1.55M100.1 1991.1h4.649m7.749 0h1.55m1.55 0h1.55m1.55 0h1.55m71.29 0h1.55m13.95 0h3.099m10.85 0h4.649m6.199 0h1.55m7.749 0h1.55m10.85 0h1.55m1.55 0h1.55m1.55 0h1.55m10.85 0h1.55m10.85 0h1.55m6.199 0h1.55m7.749 0h4.649m9.298 0h3.099m1.55 0h1.55m30.99 0h3.099m23.25 0h3.099m7.749 0h1.55m23.25 0h1.55m60.44 0h1.55m9.298 0h1.55m3.099 0h1.55m20.15 0h1.55m3.099 0h3.099m30.99 0h1.55m15.5 0h3.099m6.199 0h1.55m23.25 0h1.55m13.95 0h4.649m21.7 0h1.55m6.199 0h1.55m1.55 0h1.55m7.749 0h6.199m1.55 0h1.55m10.85 0h1.55M148.1 2005.14h1.55m7.749 0h6.199m10.85 0h1.55m7.749 0h1.55m20.15 0h1.55m10.85 0h1.55m21.7 0h1.55m21.7 0h3.099m1.55 0h3.099m3.099 0h1.55m12.4 0h3.099m1.55 0h6.199m1.55 0h4.649m3.099 0h1.55m4.649 0h1.55m18.6 0h1.55m30.99 0h1.55m10.85 0h1.55m15.5 0h1.55m10.85 0h1.55m4.649 0h1.55m35.64 0h4.649m4.649 0h1.55m7.749 0h4.649m4.649 0h1.55m35.64 0h1.55m3.099 0h4.649m4.649 0h1.55m40.29 0h3.099m24.8 0h3.099m38.74 0h1.55m10.85 0h1.55m1.55 0h1.55m13.95 0h1.55m1.55 0h1.55m12.4 0h3.099M110.9 2019.18h4.649m6.199 0h1.55m4.649 0h1.55m26.35 0h1.55m34.09 0h1.55m26.35 0h1.55m4.649 0h3.099m12.4 0h1.55m1.55 0h1.55m1.55 0h3.099m12.4 0h1.55m4.649 0h1.55m10.85 0h1.55m4.649 0h1.55m1.55 0h1.55m1.55 0h3.099m13.95 0h1.55m1.55 0h3.099m4.649 0h1.55m13.95 0h1.55m7.749 0h1.55m15.5 0h1.55m74.39 0h1.55m1.55 0h1.55m68.19 0h1.55m15.5 0h1.55m12.4 0h1.55m27.9 0h3.099m54.24 0h1.55m49.59 0h3.099m12.4 0h1.55m4.649 0h1.55M90.8 2033.22h1.55m21.7 0h1.55m1.55 0h1.55m4.649 0h1.55m1.55 0h1.55m26.35 0h1.55m41.84 0h1.55m4.649 0h1.55m3.099 0h3.099m10.85 0h1.55m4.649 0h1.55m12.4 0h3.099m13.95 0h3.099m1.55 0h1.55m1.55 0h1.55m10.85 0h1.55m6.199 0h1.55m9.298 0h1.55m21.7 0h1.55m61.99 0h1.55m13.95 0h1.55m43.39 0h1.55m6.199 0h1.55m32.54 0h1.55m10.85 0h3.099m10.85 0h1.55m4.649 0h1.55m12.4 0h1.55m9.298 0h1.55m26.35 0h1.55m23.25 0h1.55m4.649 0h1.55m7.749 0h1.55m3.099 0h1.55m71.29 0h1.55m1.55 0h4.649M97 2047.26h3.099m17.05 0h1.55m20.15 0h1.55m1.55 0h3.099m12.4 0h1.55m27.9 0h3.099m9.298 0h1.55m21.7 0h1.55m4.649 0h1.55m18.6 0h1.55m7.749 0h1.55m6.199 0h1.55m10.85 0h1.55m18.6 0h3.099m6.199 0h1.55m12.4 0h1.55m40.29 0h1.55m20.15 0h1.55m7.749 0h1.55m15.5 0h1.55m4.649 0h3.099m29.45 0h1.55m15.5 0h1.55m9.298 0h1.55m3.099 0h1.55m1.55 0h1.55m3.099 0h1.55m21.7 0h1.55m60.44 0h1.55m10.85 0h1.55m6.199 0h1.55m20.15 0h3.099m4.649 0h1.55m1.55 0h1.55m18.6 0h1.55m24.8 0h1.55m21.7 0h1.55M97 2061.3h1.55m35.64 0h3.099m15.5 0h3.099m23.25 0h1.55m23.25 0h1.55m1.55 0h1.55m51.14 0h1.55m1.55 0h6.199m13.95 0h4.649m9.298 0h3.099m20.15 0h1.55m4.649 0h1.55m133.3 0h3.099m9.298 0h1.55m9.298 0h3.099m3.099 0h1.55m4.649 0h1.55m13.95 0h4.649m3.099 0h1.55m15.5 0h4.649m48.04 0h1.55m6.199 0h1.55m17.05 0h1.55m26.35 0h1.55m35.64 0h3.099M104.7 2075.34h1.55m61.99 0h1.55m4.649 0h1.55m4.649 0h1.55m6.199 0h1.55m13.95 0h1.55m4.649 0h1.55m1.55 0h1.55m12.4 0h3.099m12.4 0h1.55m17.05 0h3.099m10.85 0h1.55m1.55 0h1.55m1.55 0h1.55m1.55 0h1.55m6.199 0h1.55m1.55 0h1.55m3.099 0h3.099m7.749 0h1.55m9.298 0h1.55m21.7 0h1.55m80.59 0h1.55m38.74 0h1.55m7.749 0h1.55m10.85 0h1.55m1.55 0h1.55m37.19 0h1.55m1.55 0h1.55m6.199 0h1.55m3.099 0h1.55m15.5 0h1.55m7.749 0h1.55m21.7 0h1.55m38.74 0h1.55m15.5 0h1.55m10.85 0h3.099m4.649 0h1.55m6.199 0h1.55M106.3 2089.38h1.55m23.25 0h1.55m10.85 0h1.55m6.199 0h1.55m17.05 0h1.55m15.5 0h1.55m26.35 0h4.649m1.55 0h1.55m6.199 0h3.099m27.9 0h3.099m3.099 0h1.55m4.649 0h3.099m6.199 0h1.55m4.649 0h1.55m1.55 0h1.55m3.099 0h1.55m6.199 0h1.55m20.15 0h9.298m83.69 0h1.55m18.6 0h3.099m21.7 0h1.55m38.74 0h3.099m15.5 0h1.55m15.5 0h1.55m13.95 0h1.55m29.45 0h1.55m1.55 0h3.099m10.85 0h1.55m3.099 0h3.099m26.35 0h4.649m55.79 0h1.55M93.9 2103.42h1.55m6.199 0h1.55m55.79 0h1.55m9.298 0h1.55m30.99 0h1.55m1.55 0h1.55m18.6 0h4.649m6.199 0h1.55m10.85 0h6.199m1.55 0h3.099m7.749 0h3.099m3.099 0h3.099m1.55 0h1.55m7.749 0h1.55m1.55 0h1.55m12.4 0h1.55m10.85 0h3.099m3.099 0h1.55m1.55 0h3.099m17.05 0h1.55m4.649 0h1.55m18.6 0h1.55m20.15 0h1.55m18.6 0h1.55m7.749 0h3.099m18.6 0h3.099m46.49 0h1.55m18.6 0h1.55m1.55 0h1.55m21.7 0h3.099m21.7 0h1.55m10.85 0h1.55m26.35 0h1.55m15.5 0h1.55m3.099 0h1.55m29.45 0h1.55m9.298 0h1.55m24.8 0h1.55M129.5 2117.46h1.55m10.85 0h1.55m54.24 0h1.55m13.95 0h1.55m1.55 0h1.55m4.649 0h1.55m3.099 0h3.099m12.4 0h3.099m4.649 0h1.55m1.55 0h3.099m3.099 0h1.55m1.55 0h1.55m6.199 0h1.55m1.55 0h1.55m6.199 0h1.55m7.749 0h1.55m13.95 0h1.55m48.04 0h1.55m27.9 0h1.55m17.05 0h3.099m61.99 0h1.55m4.649 0h1.55m4.649 0h1.55m54.24 0h1.55m80.59 0h1.55m15.5 0h1.55m17.05 0h1.55m9.298 0h1.55m12.4 0h1.55M137.3 2131.5h1.55m34.09 0h1.55m4.649 0h4.649m10.85 0h1.55m88.34 0h1.55m4.649 0h1.55m12.4 0h1.55m48.04 0h1.55m3.099 0h1.55m10.85 0h1.55m13.95 0h1.55m3.099 0h1.55m1.55 0h1.55m9.298 0h1.55m61.99 0h4.649m21.7 0h1.55m49.59 0h6.199m12.4 0h1.55m9.298 0h1.55m7.749 0h1.55m4.649 0h1.55m24.8 0h3.099m12.4 0h1.55m4.649 0h1.55m10.85 0h1.55m10.85 0h1.55m1.55 0h1.55m34.09 0h1.55M93.9 2145.54h1.55m3.099 0h1.55m6.199 0h1.55m1.55 0h1.55m1.55 0h1.55m1.55 0h1.55m1.55 0h1.55m43.39 0h3.099m4.649 0h1.55m21.7 0h1.55m41.84 0h1.55m3.099 0h1.55m44.94 0h1.55m10.85 0h1.55m60.44 0h1.55m85.24 0h1.55m46.49 0h1.55m34.09 0h1.55m79.04 0h1.55M92.35 2159.58h1.55m6.199 0h9.298m1.55 0h1.55m40.29 0h1.55m9.298 0h1.55m1.55 0h1.55m4.649 0h1.55m38.74 0h1.55m1.55 0h1.55m37.19 0h3.099m24.8 0h1.55m9.298 0h1.55m6.199 0h1.55m3.099 0h1.55m32.54 0h1.55m1.55 0h1.55m1.55 0h6.199m6.199 0h1.55m3.099 0h1.55m6.199 0h1.55m4.649 0h1.55m9.298 0h4.649m1.55 0h3.099m9.298 0h1.55m3.099 0h1.55m1.55 0h1.55m10.85 0h1.55m4.649 0h1.55m4.649 0h3.099m6.199 0h1.55m12.4 0h1.55m12.4 0h1.55m24.8 0h1.55m4.649 0h1.55m6.199 0h1.55m12.4 0h3.099m9.298 0h1.55m7.749 0h1.55m18.6 0h1.55m6.199 0h3.099m37.19 0h3.099m3.099 0h1.55m17.05 0h1.55m3.099 0h1.55m7.749 0h3.099m4.649 0h1.55m4.649 0h1.55m1.55 0h1.55M109.4 2173.62h1.55m1.55 0h1.55m1.55 0h3.099m13.95 0h1.55m18.6 0h3.099m27.9 0h1.55m12.4 0h1.55m1.55 0h1.55m20.15 0h1.55m6.199 0h1.55m27.9 0h1.55m3.099 0h3.099m29.45 0h1.55m9.298 0h3.099m4.649 0h4.649m13.95 0h3.099m6.199 0h6.199m1.55 0h3.099m1.55 0h1.55m4.649 0h1.55m26.35 0h1.55m26.35 0h3.099m6.199 0h3.099m9.298 0h1.55m6.199 0h1.55m3.099 0h3.099m1.55 0h4.649m17.05 0h1.55m3.099 0h1.55m9.298 0h1.55m23.25 0h1.55m9.298 0h1.55m13.95 0h1.55m3.099 0h1.55m32.54 0h3.099m10.85 0h1.55m13.95 0h4.649m9.298 0h1.55m21.7 0h1.55m6.199 0h1.55M100.1 2187.66h1.55m9.298 0h1.55m6.199 0h1.55m55.79 0h1.55m10.85 0h1.55m1.55 0h1.55m1.55 0h1.55m21.7 0h1.55m3.099 0h1.55m7.749 0h1.55m49.59 0h1.55m35.64 0h1.55m15.5 0h1.55m1.55 0h1.55m3.099 0h7.749m6.199 0h1.55m6.199 0h1.55m1.55 0h1.55m12.4 0h1.55m12.4 0h1.55m4.649 0h1.55m7.749 0h1.55m7.749 0h3.099m9.298 0h3.099m12.4 0h4.649m3.099 0h1.55m1.55 0h1.55m12.4 0h1.55m7.749 0h1.55m9.298 0h1.55m1.55 0h4.649m29.45 0h1.55m4.649 0h1.55m44.94 0h1.55m3.099 0h1.55m23.25 0h1.55m1.55 0h3.099m6.199 0h1.55m7.749 0h3.099m13.95 0h1.55m3.099 0h3.099m32.54 0h1.55m4.649 0h1.55M114 2201.7h1.55m9.298 0h1.55m12.4 0h1.55m7.749 0h1.55m13.95 0h1.55m27.9 0h1.55m144.1 0h1.55m1.55 0h1.55m4.649 0h1.55m40.29 0h3.099m6.199 0h1.55m6.199 0h1.55m3.099 0h4.649m3.099 0h1.55m15.5 0h1.55m3.099 0h3.099m6.199 0h1.55m97.63 0h1.55M138.8 2215.74h1.55m68.19 0h1.55m117.8 0h1.55m1.55 0h3.099m6.199 0h1.55m23.25 0h1.55m6.199 0h1.55m3.099 0h3.099m3.099 0h1.55m12.4 0h3.099m18.6 0h7.749m17.05 0h1.55m4.649 0h1.55m15.5 0h1.55m21.7 0h1.55m26.35 0h3.099m20.15 0h1.55m13.95 0h3.099m20.15 0h3.099m6.199 0h1.55m7.749 0h3.099m3.099 0h1.55m24.8 0h1.55m4.649 0h1.55m7.749 0h3.099m20.15 0h3.099m3.099 0h3.099m3.099 0h1.55m6.199 0h3.099M97 2229.78h3.099m9.298 0h4.649m7.749 0h1.55m6.199 0h1.55m1.55 0h1.55m18.6 0h1.55m1.55 0h1.55m4.649 0h1.55m3.099 0h1.55m4.649 0h1.55m10.85 0h3.099m74.39 0h3.099m24.8 0h3.099m21.7 0h1.55m9.298 0h4.649m12.4 0h1.55m4.649 0h1.55m20.15 0h3.099m1.55 0h1.55m4.649 0h3.099m4.649 0h1.55m21.7 0h4.649m4.649 0h1.55m1.55 0h3.099m1.55 0h1.55m1.55 0h4.649m26.35 0h1.55m4.649 0h1.55m3.099 0h3.099m15.5 0h1.55m3.099 0h1.55m12.4 0h1.55m12.4 0h3.099m9.298 0h1.55m1.55 0h1.55m4.649 0h1.55m1.55 0h1.55m21.7 0h1.55m32.54 0h3.099m3.099 0h3.099m7.749 0h1.55m3.099 0h1.55m3.099 0h6.199m1.55 0h1.55m4.649 0h1.55m4.649 0h1.55m3.099 0h1.55m4.649 0h3.099m1.55 0h1.55m4.649 0h3.099m1.55 0h1.55m3.099 0h7.749M92.35 2243.82h1.55m18.6 0h1.55m1.55 0h1.55m4.649 0h1.55m3.099 0h1.55m13.95 0h1.55m18.6 0h1.55m3.099 0h3.099m30.99 0h1.55m9.298 0h3.099m30.99 0h1.55m9.298 0h1.55m32.54 0h3.099m13.95 0h1.55m27.9 0h10.85m7.749 0h1.55m3.099 0h1.55m7.749 0h4.649m18.6 0h1.55m12.4 0h1.55m6.199 0h6.199m17.05 0h1.55m10.85 0h1.55m3.099 0h1.55m24.8 0h3.099m18.6 0h3.099m4.649 0h1.55m10.85 0h1.55m3.099 0h3.099m20.15 0h1.55m1.55 0h1.55m18.6 0h1.55m4.649 0h1.55m1.55 0h1.55m12.4 0h1.55m1.55 0h1.55m3.099 0h1.55m1.55 0h6.199m3.099 0h1.55m38.74 0h1.55m3.099 0h3.099m17.05 0h1.55m13.95 0h1.55M90.8 2257.86h1.55m13.95 0h1.55m9.298 0h1.55m7.749 0h4.649m3.099 0h1.55m17.05 0h1.55m4.649 0h1.55m18.6 0h1.55m12.4 0h1.55m4.649 0h3.099m17.05 0h1.55m1.55 0h3.099m34.09 0h1.55m41.84 0h1.55m4.649 0h6.199m6.199 0h1.55m9.298 0h1.55m27.9 0h3.099m10.85 0h1.55m1.55 0h1.55m38.74 0h1.55m3.099 0h3.099m1.55 0h3.099m40.29 0h1.55m6.199 0h4.649m6.199 0h1.55m9.298 0h1.55m4.649 0h1.55m18.6 0h1.55m12.4 0h1.55m7.749 0h1.55m3.099 0h3.099m6.199 0h1.55m12.4 0h1.55m1.55 0h1.55m1.55 0h4.649m1.55 0h1.55m7.749 0h1.55m1.55 0h6.199m7.749 0h4.649m4.649 0h1.55m13.95 0h3.099m9.298 0h1.55m1.55 0h1.55m23.25 0h1.55m1.55 0h3.099m12.4 0h3.099M90.8 2271.9h3.099m17.05 0h1.55m3.099 0h3.099m10.85 0h1.55m4.649 0h1.55m24.8 0h3.099m7.749 0h1.55m4.649 0h3.099m3.099 0h1.55m12.4 0h1.55m1.55 0h1.55m10.85 0h1.55m4.649 0h1.55m23.25 0h1.55m12.4 0h1.55m4.649 0h1.55m55.79 0h3.099m32.54 0h1.55m15.5 0h1.55m20.15 0h1.55m10.85 0h4.649m4.649 0h1.55m20.15 0h1.55m3.099 0h1.55m9.298 0h1.55m9.298 0h3.099m3.099 0h1.55m1.55 0h1.55m1.55 0h3.099m10.85 0h7.749m23.25 0h1.55m9.298 0h1.55m21.7 0h1.55m1.55 0h1.55m6.199 0h1.55m9.298 0h3.099m15.5 0h4.649m1.55 0h1.55m6.199 0h4.649m12.4 0h3.099m1.55 0h1.55m20.15 0h1.55m1.55 0h1.55m1.55 0h1.55m12.4 0h1.55m3.099 0h1.55m18.6 0h1.55M92.35 2285.94h1.55m10.85 0h1.55m4.649 0h1.55m3.099 0h4.649m1.55 0h3.099m1.55 0h1.55m6.199 0h1.55m1.55 0h1.55m12.4 0h10.85m1.55 0h1.55m3.099 0h4.649m4.649 0h1.55m43.39 0h1.55m1.55 0h1.55m18.6 0h1.55m24.8 0h1.55m24.8 0h3.099m7.749 0h1.55m7.749 0h1.55m1.55 0h1.55m3.099 0h3.099m1.55 0h1.55m20.15 0h1.55m7.749 0h1.55m4.649 0h1.55m40.29 0h1.55m4.649 0h1.55m27.9 0h3.099m21.7 0h6.199m3.099 0h1.55m4.649 0h3.099m12.4 0h6.199m10.85 0h1.55m10.85 0h1.55m1.55 0h1.55m7.749 0h4.649m7.749 0h3.099m12.4 0h3.099m9.298 0h1.55m10.85 0h7.749m7.749 0h12.4m4.649 0h1.55m18.6 0h1.55m9.298 0h1.55m6.199 0h1.55m6.199 0h3.099m17.05 0h3.099m3.099 0h3.099M92.35 2299.98h6.199m10.85 0h1.55m6.199 0h1.55m3.099 0h3.099m3.099 0h1.55m6.199 0h1.55m4.649 0h1.55m3.099 0h1.55m9.298 0h1.55m3.099 0h3.099m4.649 0h1.55m10.85 0h4.649m1.55 0h1.55m15.5 0h1.55m12.4 0h1.55m23.25 0h1.55m3.099 0h4.649m1.55 0h3.099m26.35 0h1.55m1.55 0h1.55m20.15 0h1.55m6.199 0h1.55m7.749 0h3.099m29.45 0h1.55m1.55 0h1.55m9.298 0h1.55m10.85 0h3.099m12.4 0h1.55m4.649 0h4.649m38.74 0h1.55m10.85 0h1.55m6.199 0h1.55m1.55 0h3.099m18.6 0h3.099m1.55 0h1.55m4.649 0h3.099m3.099 0h1.55m1.55 0h1.55m1.55 0h1.55m6.199 0h1.55m6.199 0h1.55m7.749 0h3.099m13.95 0h4.649m13.95 0h1.55m4.649 0h1.55m9.298 0h4.649m1.55 0h3.099m1.55 0h1.55m6.199 0h7.749m4.649 0h1.55m9.298 0h3.099m6.199 0h3.099m4.649 0h1.55m12.4 0h1.55m3.099 0h1.55m9.298 0h1.55m12.4 0h1.55m3.099 0h1.55M93.9 2314.02h6.199m3.099 0h1.55m10.85 0h1.55m21.7 0h3.099m4.649 0h1.55m4.649 0h1.55m6.199 0h1.55m12.4 0h1.55m1.55 0h3.099m21.7 0h3.099m38.74 0h1.55m13.95 0h1.55m23.25 0h1.55m3.099 0h4.649m15.5 0h1.55m3.099 0h1.55m29.45 0h3.099m3.099 0h3.099m21.7 0h3.099m3.099 0h1.55m46.49 0h1.55m7.749 0h3.099m6.199 0h1.55m12.4 0h3.099m10.85 0h4.649m13.95 0h1.55m21.7 0h3.099m3.099 0h3.099m17.05 0h1.55m15.5 0h1.55m4.649 0h1.55m4.649 0h1.55m12.4 0h1.55m13.95 0h3.099m4.649 0h1.55m1.55 0h1.55m4.649 0h1.55m26.35 0h1.55m3.099 0h3.099m3.099 0h7.749m6.199 0h1.55m4.649 0h1.55m6.199 0h1.55m3.099 0h1.55m9.298 0h1.55M129.5 2328.06h1.55m20.15 0h1.55m6.199 0h1.55m4.649 0h1.55m13.95 0h1.55m9.298 0h1.55m6.199 0h3.099m3.099 0h4.649m23.25 0h1.55m4.649 0h1.55m3.099 0h4.649m30.99 0h1.55m3.099 0h3.099m34.09 0h1.55m24.8 0h1.55m21.7 0h1.55m13.95 0h1.55m1.55 0h3.099m27.9 0h4.649m10.85 0h1.55m10.85 0h1.55m7.749 0h3.099m4.649 0h1.55m1.55 0h1.55m6.199 0h1.55m1.55 0h3.099m9.298 0h1.55m17.05 0h4.649m6.199 0h1.55m18.6 0h1.55m9.298 0h4.649m27.9 0h1.55m3.099 0h1.55m3.099 0h3.099m21.7 0h3.099m7.749 0h1.55m1.55 0h1.55m4.649 0h1.55m1.55 0h4.649m1.55 0h1.55m6.199 0h3.099m1.55 0h3.099m7.749 0h1.55m4.649 0h1.55m6.199 0h1.55m3.099 0h1.55m1.55 0h1.55M100.1 2342.1h3.099m3.099 0h1.55m21.7 0h1.55m34.09 0h1.55m3.099 0h3.099m18.6 0h1.55m7.749 0h1.55m3.099 0h1.55m3.099 0h1.55m3.099 0h4.649m9.298 0h1.55m20.15 0h1.55m55.79 0h1.55m7.749 0h1.55m18.6 0h1.55m1.55 0h1.55m6.199 0h1.55m13.95 0h4.649m10.85 0h3.099m10.85 0h1.55m4.649 0h1.55m7.749 0h1.55m6.199 0h3.099m1.55 0h1.55m4.649 0h1.55m12.4 0h1.55m15.5 0h3.099m7.749 0h1.55m1.55 0h1.55m4.649 0h1.55m1.55 0h1.55m3.099 0h1.55m7.749 0h1.55m4.649 0h1.55m4.649 0h1.55m10.85 0h1.55m13.95 0h1.55m35.64 0h1.55m1.55 0h6.199m1.55 0h6.199m3.099 0h9.298m3.099 0h3.099m10.85 0h1.55m18.6 0h3.099m13.95 0h1.55m3.099 0h1.55m21.7 0h1.55m13.95 0h3.099M90.8 2356.14h4.649m23.25 0h1.55m6.199 0h3.099m30.99 0h1.55m6.199 0h1.55m4.649 0h4.649m10.85 0h1.55m1.55 0h1.55m3.099 0h1.55m9.298 0h1.55m7.749 0h4.649m9.298 0h1.55m12.4 0h1.55m1.55 0h1.55m10.85 0h3.099m52.69 0h1.55m4.649 0h3.099m18.6 0h1.55m12.4 0h1.55m13.95 0h1.55m17.05 0h1.55m26.35 0h4.649m15.5 0h1.55m44.94 0h3.099m3.099 0h1.55m3.099 0h1.55m7.749 0h1.55m7.749 0h1.55m9.298 0h4.649m3.099 0h4.649m13.95 0h3.099m3.099 0h1.55m6.199 0h1.55m3.099 0h1.55m1.55 0h3.099m6.199 0h4.649m10.85 0h4.649m12.4 0h4.649m6.199 0h1.55m1.55 0h1.55m9.298 0h4.649m4.649 0h3.099m4.649 0h1.55m9.298 0h1.55m6.199 0h1.55m6.199 0h1.55M101.6 2370.18h4.649m9.298 0h1.55m10.85 0h1.55m10.85 0h1.55m40.29 0h1.55m21.7 0h3.099m1.55 0h1.55m1.55 0h1.55m6.199 0h1.55m7.749 0h1.55m9.298 0h1.55m10.85 0h3.099m3.099 0h1.55m13.95 0h3.099m3.099 0h1.55m26.35 0h3.099m4.649 0h1.55m3.099 0h1.55m9.298 0h1.55m7.749 0h1.55m13.95 0h1.55m1.55 0h1.55m1.55 0h1.55m13.95 0h1.55m58.89 0h3.099m10.85 0h1.55m12.4 0h1.55m7.749 0h1.55m18.6 0h3.099m3.099 0h1.55m4.649 0h1.55m6.199 0h1.55m12.4 0h1.55m1.55 0h3.099m17.05 0h3.099m6.199 0h1.55m27.9 0h1.55m3.099 0h3.099m6.199 0h1.55m30.99 0h1.55m4.649 0h1.55m10.85 0h1.55m4.649 0h1.55m26.35 0h1.55m4.649 0h3.099M106.3 2384.22h1.55m3.099 0h1.55m17.05 0h1.55m4.649 0h1.55m9.298 0h1.55m38.74 0h1.55m1.55 0h1.55m3.099 0h1.55m12.4 0h1.55m21.7 0h1.55m34.09 0h1.55m3.099 0h1.55m4.649 0h3.099m9.298 0h1.55m13.95 0h1.55m10.85 0h1.55m26.35 0h1.55m4.649 0h1.55m20.15 0h1.55m10.85 0h1.55m3.099 0h1.55m13.95 0h1.55m17.05 0h1.55m1.55 0h3.099m3.099 0h3.099m13.95 0h1.55m10.85 0h1.55m1.55 0h1.55m6.199 0h1.55m10.85 0h1.55m10.85 0h1.55m10.85 0h1.55m12.4 0h1.55m6.199 0h1.55m10.85 0h1.55m13.95 0h1.55m10.85 0h1.55m13.95 0h4.649m7.749 0h1.55m9.298 0h3.099m12.4 0h3.099m13.95 0h1.55m1.55 0h1.55m4.649 0h1.55m7.749 0h1.55m3.099 0h1.55m15.5 0h3.099m3.099 0h1.55m1.55 0h1.55M109.4 2398.26h3.099m12.4 0h1.55m29.45 0h1.55m10.85 0h1.55m10.85 0h3.099m10.85 0h4.649m1.55 0h1.55m10.85 0h3.099m9.298 0h1.55m3.099 0h1.55m3.099 0h1.55m15.5 0h3.099m6.199 0h1.55m38.74 0h1.55m49.59 0h1.55m12.4 0h3.099m4.649 0h1.55m13.95 0h1.55m20.15 0h1.55m10.85 0h1.55m3.099 0h1.55m30.99 0h1.55m13.95 0h4.649m12.4 0h6.199m4.649 0h1.55m1.55 0h4.649m3.099 0h1.55m3.099 0h4.649m3.099 0h1.55m1.55 0h1.55m10.85 0h3.099m3.099 0h1.55m3.099 0h1.55m6.199 0h3.099m4.649 0h1.55m9.298 0h4.649m4.649 0h1.55m6.199 0h3.099m1.55 0h1.55m4.649 0h1.55m6.199 0h1.55m4.649 0h4.649m12.4 0h1.55m1.55 0h1.55m3.099 0h3.099m3.099 0h3.099m6.199 0h1.55m13.95 0h3.099m12.4 0h4.649M104.7 2412.3h3.099m3.099 0h4.649m9.298 0h1.55m12.4 0h6.199m3.099 0h1.55m20.15 0h1.55m3.099 0h3.099m7.749 0h3.099m3.099 0h4.649m26.35 0h1.55m7.749 0h4.649m1.55 0h1.55m6.199 0h1.55m30.99 0h1.55m6.199 0h1.55m4.649 0h1.55m18.6 0h3.099m7.749 0h1.55m12.4 0h1.55m34.09 0h1.55m3.099 0h3.099m12.4 0h1.55m7.749 0h3.099m55.79 0h1.55m1.55 0h4.649m4.649 0h1.55m6.199 0h1.55m1.55 0h3.099m13.95 0h3.099m9.298 0h1.55m4.649 0h1.55m1.55 0h1.55m3.099 0h1.55m3.099 0h3.099m1.55 0h1.55m12.4 0h3.099m17.05 0h1.55m6.199 0h1.55m1.55 0h1.55m3.099 0h3.099m1.55 0h3.099m29.45 0h4.649m15.5 0h3.099m26.35 0h1.55m3.099 0h3.099m10.85 0h1.55m1.55 0h3.099M95.45 2426.34h1.55m32.54 0h1.55m3.099 0h3.099m1.55 0h1.55m1.55 0h3.099m1.55 0h1.55m1.55 0h1.55m1.55 0h6.199m7.749 0h6.199m3.099 0h4.649m10.85 0h1.55m30.99 0h1.55m6.199 0h1.55m3.099 0h1.55m20.15 0h1.55m3.099 0h1.55m18.6 0h1.55m21.7 0h1.55m1.55 0h1.55m7.749 0h1.55m9.298 0h3.099m3.099 0h3.099m20.15 0h1.55m18.6 0h3.099m3.099 0h1.55m4.649 0h1.55m15.5 0h3.099m41.84 0h1.55m27.9 0h1.55m4.649 0h3.099m17.05 0h1.55m3.099 0h1.55m23.25 0h1.55m7.749 0h1.55m1.55 0h1.55m4.649 0h3.099m1.55 0h3.099m18.6 0h1.55m1.55 0h1.55m3.099 0h3.099m21.7 0h6.199m7.749 0h1.55m7.749 0h1.55m18.6 0h1.55m6.199 0h3.099m1.55 0h3.099m27.9 0h1.55M93.9 2440.38h1.55m4.649 0h3.099m17.05 0h1.55m9.298 0h3.099m6.199 0h1.55m1.55 0h1.55m9.298 0h1.55m3.099 0h1.55m1.55 0h3.099m9.298 0h1.55m6.199 0h1.55m13.95 0h1.55m3.099 0h1.55m7.749 0h3.099m29.45 0h1.55m29.45 0h3.099m29.45 0h1.55m1.55 0h3.099m4.649 0h1.55m20.15 0h1.55m27.9 0h1.55m9.298 0h3.099m1.55 0h1.55m18.6 0h1.55m1.55 0h1.55m4.649 0h4.649m9.298 0h1.55m12.4 0h1.55m3.099 0h1.55m17.05 0h1.55m1.55 0h6.199m4.649 0h1.55m1.55 0h1.55m15.5 0h1.55m1.55 0h1.55m1.55 0h1.55m4.649 0h1.55m1.55 0h1.55m4.649 0h3.099m10.85 0h1.55m4.649 0h3.099m1.55 0h4.649m13.95 0h3.099m1.55 0h1.55m10.85 0h3.099m12.4 0h1.55m4.649 0h1.55m6.199 0h1.55m15.5 0h3.099m1.55 0h3.099m7.749 0h1.55m4.649 0h4.649m3.099 0h1.55m7.749 0h3.099m3.099 0h4.649m20.15 0h1.55M104.7 2454.42h1.55m4.649 0h1.55m9.298 0h1.55m7.749 0h1.55m17.05 0h1.55m7.749 0h1.55m3.099 0h1.55m1.55 0h3.099m6.199 0h1.55m20.15 0h1.55m3.099 0h1.55m1.55 0h1.55m3.099 0h1.55m6.199 0h1.55m3.099 0h1.55m18.6 0h3.099m1.55 0h1.55m12.4 0h4.649m6.199 0h3.099m23.25 0h1.55m7.749 0h3.099m15.5 0h1.55m21.7 0h1.55m3.099 0h1.55m15.5 0h4.649m6.199 0h1.55m15.5 0h1.55m12.4 0h4.649m6.199 0h1.55m6.199 0h3.099m7.749 0h1.55m12.4 0h1.55m13.95 0h1.55m13.95 0h1.55m4.649 0h3.099m6.199 0h1.55m9.298 0h4.649m12.4 0h1.55m6.199 0h1.55m4.649 0h1.55m9.298 0h3.099m1.55 0h3.099m1.55 0h4.649m1.55 0h1.55m3.099 0h3.099m7.749 0h1.55m1.55 0h3.099m7.749 0h1.55m3.099 0h1.55m15.5 0h1.55m29.45 0h1.55m6.199 0h1.55m1.55 0h1.55m26.35 0h3.099m1.55 0h1.55m1.55 0h1.55M138.8 2468.46h1.55m1.55 0h1.55m7.749 0h1.55m13.95 0h1.55m13.95 0h3.099m9.298 0h1.55m32.54 0h1.55m7.749 0h1.55m9.298 0h1.55m1.55 0h1.55m9.298 0h1.55m4.649 0h3.099m4.649 0h3.099m12.4 0h1.55m12.4 0h1.55m3.099 0h1.55m75.94 0h1.55m4.649 0h4.649m18.6 0h1.55m9.298 0h1.55m3.099 0h3.099m13.95 0h1.55m6.199 0h1.55m4.649 0h1.55m4.649 0h3.099m7.749 0h4.649m3.099 0h3.099m6.199 0h3.099m3.099 0h6.199m6.199 0h4.649m3.099 0h7.749m4.649 0h3.099m12.4 0h1.55m1.55 0h1.55m4.649 0h1.55m13.95 0h1.55m7.749 0h10.85m1.55 0h4.649m10.85 0h1.55m7.749 0h1.55m7.749 0h3.099m13.95 0h3.099m7.749 0h3.099m3.099 0h1.55m3.099 0h1.55m3.099 0h1.55m3.099 0h1.55m3.099 0h1.55m6.199 0h1.55m1.55 0h3.099M92.35 2482.5h1.55m10.85 0h1.55m3.099 0h1.55m7.749 0h1.55m1.55 0h3.099m9.298 0h1.55m4.649 0h1.55m4.649 0h3.099m3.099 0h1.55m4.649 0h1.55m1.55 0h1.55m4.649 0h1.55m6.199 0h7.749m15.5 0h1.55m13.95 0h1.55m18.6 0h1.55m6.199 0h7.749m9.298 0h1.55m48.04 0h1.55m1.55 0h1.55m24.8 0h1.55m3.099 0h1.55m18.6 0h3.099m10.85 0h1.55m10.85 0h1.55m13.95 0h3.099m29.45 0h1.55m4.649 0h1.55m17.05 0h3.099m35.64 0h1.55m4.649 0h1.55m7.749 0h1.55m1.55 0h3.099m1.55 0h3.099m1.55 0h3.099m15.5 0h1.55m6.199 0h1.55m37.19 0h1.55m4.649 0h1.55m6.199 0h3.099m13.95 0h6.199m1.55 0h1.55m1.55 0h3.099m1.55 0h1.55m9.298 0h1.55m6.199 0h1.55m9.298 0h1.55m3.099 0h1.55m3.099 0h1.55m9.298 0h6.199M93.9 2496.54h1.55m7.749 0h4.649m3.099 0h4.649m6.199 0h1.55m6.199 0h1.55m15.5 0h4.649m10.85 0h1.55m17.05 0h1.55m15.5 0h1.55m10.85 0h1.55m27.9 0h3.099m1.55 0h1.55m10.85 0h1.55m9.298 0h1.55m9.298 0h1.55m9.298 0h1.55m1.55 0h3.099m4.649 0h1.55m18.6 0h1.55m12.4 0h1.55m6.199 0h3.099m6.199 0h1.55m6.199 0h6.199m9.298 0h1.55m12.4 0h1.55m1.55 0h1.55m1.55 0h3.099m3.099 0h1.55m13.95 0h1.55m3.099 0h3.099m7.749 0h1.55m20.15 0h3.099m1.55 0h1.55m4.649 0h4.649m4.649 0h1.55m12.4 0h3.099m3.099 0h1.55m9.298 0h1.55m35.64 0h1.55m3.099 0h3.099m10.85 0h1.55m7.749 0h1.55m13.95 0h4.649m4.649 0h3.099m3.099 0h3.099m24.8 0h1.55m1.55 0h1.55m44.94 0h3.099m13.95 0h1.55m4.649 0h3.099M95.45 2510.58h1.55m4.649 0h3.099m7.749 0h1.55m3.099 0h1.55m4.649 0h3.099m6.199 0h7.749m20.15 0h1.55m1.55 0h1.55m7.749 0h1.55m6.199 0h1.55m15.5 0h3.099m1.55 0h3.099m1.55 0h1.55m9.298 0h1.55m12.4 0h1.55m4.649 0h9.298m21.7 0h4.649m10.85 0h7.749m12.4 0h1.55m1.55 0h1.55m4.649 0h6.199m6.199 0h3.099m4.649 0h1.55m27.9 0h3.099m6.199 0h1.55m7.749 0h1.55m6.199 0h3.099m6.199 0h1.55m9.298 0h1.55m3.099 0h1.55m7.749 0h1.55m23.25 0h3.099m12.4 0h1.55m7.749 0h1.55m4.649 0h3.099m17.05 0h1.55m1.55 0h4.649m4.649 0h1.55m1.55 0h1.55m3.099 0h4.649m13.95 0h1.55m4.649 0h1.55m4.649 0h1.55m1.55 0h6.199m17.05 0h1.55m1.55 0h1.55m9.298 0h1.55m4.649 0h1.55m6.199 0h3.099m3.099 0h1.55m7.749 0h4.649m6.199 0h1.55m1.55 0h1.55m3.099 0h1.55m3.099 0h1.55m3.099 0h1.55m3.099 0h3.099m4.649 0h3.099m3.099 0h1.55m9.298 0h3.099m4.649 0h1.55m1.55 0h1.55m4.649 0h3.099"/>
<path stroke="#f79d9f" d="M101.6 1261.02h1.55m72.84 0h1.55m38.74 0h1.55m29.45 0h3.099m38.74 0h1.55m41.84 0h1.55m30.99 0h1.55m1.55 0h1.55m6.199 0h1.55m6.199 0h1.55m1.55 0h1.55m3.099 0h3.099m9.298 0h3.099m26.35 0h1.55m10.85 0h1.55m12.4 0h1.55m17.05 0h1.55m15.5 0h1.55m6.199 0h1.55m20.15 0h1.55m48.04 0h1.55m27.9 0h3.099m9.298 0h1.55m34.09 0h1.55m18.6 0h1.55M100.1 1275.06h1.55m15.5 0h1.55m130.2 0h1.55m9.298 0h1.55m35.64 0h1.55m10.85 0h1.55m21.7 0h1.55m10.85 0h1.55m21.7 0h1.55m17.05 0h1.55m3.099 0h1.55m15.5 0h3.099m9.298 0h1.55m1.55 0h1.55m10.85 0h1.55m17.05 0h3.099m7.749 0h1.55m6.199 0h1.55m6.199 0h1.55m110 0h1.55m23.25 0h1.55m24.8 0h1.55m30.99 0h1.55m24.8 0h1.55M131.1 1289.1h3.099m3.099 0h1.55m3.099 0h1.55m156.5 0h1.55m12.4 0h1.55m23.25 0h1.55m30.99 0h7.749m7.749 0h1.55m51.14 0h1.55m51.14 0h1.55m46.49 0h1.55M118.7 1303.14h1.55m74.39 0h1.55m23.25 0h1.55m77.49 0h1.55m80.59 0h1.55m21.7 0h3.099m43.39 0h3.099m63.54 0h1.55m29.45 0h1.55m1.55 0h4.649m57.34 0h1.55m57.34 0h1.55M148.1 1317.18h1.55m178.2 0h1.55m199.9 0h1.55m51.14 0h1.55M101.6 1331.22h4.649m7.749 0h1.55m1.55 0h4.649m7.749 0h1.55m10.85 0h1.55m32.54 0h1.55m26.35 0h1.55m18.6 0h1.55m27.9 0h1.55m3.099 0h1.55m15.5 0h1.55m4.649 0h1.55m18.6 0h1.55m23.25 0h1.55m4.649 0h1.55m7.749 0h3.099m13.95 0h1.55m21.7 0h1.55m15.5 0h1.55m12.4 0h4.649m34.09 0h1.55m20.15 0h1.55m6.199 0h1.55m6.199 0h1.55m7.749 0h3.099m18.6 0h1.55m1.55 0h1.55m6.199 0h4.649m4.649 0h1.55m63.54 0h1.55m7.749 0h1.55m3.099 0h1.55m24.8 0h1.55m10.85 0h3.099m1.55 0h1.55m10.85 0h3.099m4.649 0h1.55m1.55 0h1.55m13.95 0h3.099M92.35 1345.26h1.55m3.099 0h1.55m21.7 0h1.55m4.649 0h4.649m12.4 0h4.649m13.95 0h1.55m4.649 0h1.55m12.4 0h1.55m1.55 0h4.649m7.749 0h1.55m1.55 0h1.55m1.55 0h1.55m52.69 0h1.55m26.35 0h1.55m3.099 0h1.55m6.199 0h1.55m18.6 0h1.55m23.25 0h1.55m30.99 0h1.55m1.55 0h1.55m30.99 0h1.55m43.39 0h1.55m1.55 0h3.099m17.05 0h1.55m27.9 0h1.55m1.55 0h3.099m1.55 0h1.55m20.15 0h3.099m17.05 0h3.099m10.85 0h3.099m20.15 0h6.199m3.099 0h1.55m3.099 0h1.55m10.85 0h4.649m12.4 0h4.649m12.4 0h1.55m6.199 0h3.099m29.45 0h1.55M92.35 1359.3h1.55m3.099 0h3.099m37.19 0h3.099m12.4 0h1.55m1.55 0h1.55m7.749 0h3.099m3.099 0h1.55m3.099 0h1.55m4.649 0h1.55m1.55 0h1.55m7.749 0h1.55m3.099 0h1.55m7.749 0h1.55m10.85 0h1.55m17.05 0h1.55m6.199 0h1.55m4.649 0h1.55m6.199 0h1.55m12.4 0h1.55m7.749 0h6.199m3.099 0h1.55m6.199 0h4.649m4.649 0h1.55m4.649 0h1.55m40.29 0h1.55m10.85 0h1.55m69.74 0h1.55m6.199 0h1.55m20.15 0h1.55m29.45 0h1.55m40.29 0h1.55m1.55 0h1.55m9.298 0h1.55m1.55 0h1.55m15.5 0h1.55m12.4 0h1.55m20.15 0h3.099m6.199 0h1.55m32.54 0h1.55m12.4 0h1.55m1.55 0h1.55m1.55 0h1.55m1.55 0h1.55m4.649 0h1.55m7.749 0h7.749M110.9 1373.34h3.099m1.55 0h3.099m1.55 0h1.55m21.7 0h1.55m4.649 0h3.099m21.7 0h1.55m3.099 0h4.649m3.099 0h1.55m3.099 0h1.55m3.099 0h4.649m7.749 0h1.55m1.55 0h3.099m12.4 0h3.099m21.7 0h1.55m17.05 0h1.55m12.4 0h1.55m6.199 0h1.55m15.5 0h1.55m15.5 0h1.55m141 0h1.55m1.55 0h3.099m30.99 0h1.55m37.19 0h1.55m35.64 0h1.55m18.6 0h1.55m4.649 0h1.55m18.6 0h3.099m17.05 0h1.55m37.19 0h3.099m4.649 0h1.55m6.199 0h1.55M104.7 1387.38h1.55m1.55 0h1.55m12.4 0h3.099m29.45 0h1.55m20.15 0h1.55m3.099 0h1.55m6.199 0h1.55m24.8 0h4.649m3.099 0h1.55m4.649 0h1.55m9.298 0h1.55m37.19 0h3.099m7.749 0h1.55m3.099 0h1.55m1.55 0h1.55m1.55 0h1.55m23.25 0h1.55m3.099 0h1.55m20.15 0h1.55m7.749 0h1.55m6.199 0h1.55m17.05 0h1.55m49.59 0h1.55m26.35 0h1.55m32.54 0h1.55m40.29 0h1.55m15.5 0h1.55m29.45 0h3.099m1.55 0h1.55m10.85 0h1.55m41.84 0h3.099m24.8 0h1.55m18.6 0h1.55M90.8 1401.42h1.55m18.6 0h1.55m4.649 0h1.55m18.6 0h1.55m1.55 0h1.55m17.05 0h1.55m3.099 0h1.55m12.4 0h1.55m4.649 0h1.55m29.45 0h1.55m17.05 0h1.55m26.35 0h1.55m1.55 0h3.099m3.099 0h1.55m6.199 0h1.55m21.7 0h1.55m7.749 0h4.649m9.298 0h1.55m15.5 0h1.55m82.14 0h1.55m119.3 0h3.099m6.199 0h1.55m97.63 0h1.55M124.9 1415.46h1.55m1.55 0h1.55m10.85 0h3.099m3.099 0h3.099m41.84 0h1.55m4.649 0h1.55m9.298 0h1.55m6.199 0h1.55m10.85 0h3.099m10.85 0h3.099m10.85 0h1.55m3.099 0h1.55m6.199 0h12.4m3.099 0h1.55m3.099 0h3.099m4.649 0h3.099m12.4 0h1.55m9.298 0h1.55m18.6 0h1.55m30.99 0h3.099m20.15 0h3.099m12.4 0h1.55m17.05 0h1.55m4.649 0h1.55m21.7 0h1.55m29.45 0h3.099m41.84 0h1.55m1.55 0h1.55m1.55 0h1.55m40.29 0h1.55m6.199 0h1.55m40.29 0h1.55m7.749 0h4.649m3.099 0h1.55m6.199 0h3.099m38.74 0h1.55M93.9 1429.5h4.649m20.15 0h3.099m43.39 0h1.55m17.05 0h1.55m17.05 0h1.55m4.649 0h1.55m1.55 0h1.55m6.199 0h1.55m3.099 0h1.55m1.55 0h1.55m4.649 0h3.099m1.55 0h1.55m9.298 0h3.099m3.099 0h1.55m1.55 0h1.55m7.749 0h1.55m3.099 0h1.55m1.55 0h4.649m1.55 0h1.55m4.649 0h1.55m10.85 0h1.55m27.9 0h3.099m3.099 0h1.55m4.649 0h1.55m116.2 0h1.55m9.298 0h1.55m6.199 0h3.099m15.5 0h3.099m23.25 0h1.55m7.749 0h3.099m46.49 0h3.099m13.95 0h1.55m3.099 0h3.099m21.7 0h1.55m26.35 0h1.55m7.749 0h4.649m15.5 0h1.55m4.649 0h1.55m4.649 0h1.55m1.55 0h3.099M92.35 1443.54h1.55m23.25 0h1.55m15.5 0h1.55m7.749 0h1.55m6.199 0h1.55m1.55 0h7.749m3.099 0h3.099m4.649 0h1.55m10.85 0h3.099m4.649 0h3.099m1.55 0h1.55m13.95 0h3.099m13.95 0h1.55m4.649 0h1.55m3.099 0h1.55m10.85 0h3.099m10.85 0h3.099m17.05 0h3.099m4.649 0h1.55m3.099 0h1.55m3.099 0h1.55m20.15 0h1.55m1.55 0h3.099m37.19 0h1.55m4.649 0h1.55m17.05 0h1.55m10.85 0h1.55m21.7 0h3.099m75.94 0h1.55m35.64 0h1.55m21.7 0h1.55m15.5 0h1.55m41.84 0h4.649m3.099 0h1.55m17.05 0h1.55m7.749 0h1.55m7.749 0h1.55M101.6 1457.58h1.55m10.85 0h1.55m4.649 0h1.55m18.6 0h3.099m3.099 0h4.649m4.649 0h3.099m3.099 0h3.099m9.298 0h1.55m12.4 0h7.749m4.649 0h3.099m1.55 0h1.55m13.95 0h1.55m4.649 0h1.55m1.55 0h1.55m3.099 0h3.099m7.749 0h1.55m13.95 0h1.55m10.85 0h1.55m3.099 0h1.55m6.199 0h3.099m1.55 0h3.099m3.099 0h1.55m1.55 0h3.099m12.4 0h1.55m1.55 0h3.099m12.4 0h1.55m20.15 0h3.099m17.05 0h3.099m51.14 0h3.099m27.9 0h1.55m1.55 0h1.55m3.099 0h3.099m13.95 0h4.649m6.199 0h1.55m4.649 0h1.55m10.85 0h1.55m9.298 0h1.55m9.298 0h1.55m6.199 0h4.649m1.55 0h1.55m3.099 0h1.55m35.64 0h1.55m72.84 0h6.199m9.298 0h3.099m3.099 0h1.55M106.3 1471.62h1.55m27.9 0h1.55m9.298 0h1.55m13.95 0h3.099m4.649 0h1.55m3.099 0h1.55m1.55 0h1.55m24.8 0h1.55m4.649 0h1.55m13.95 0h7.749m4.649 0h3.099m9.298 0h3.099m4.649 0h3.099m3.099 0h1.55m13.95 0h1.55m3.099 0h4.649m30.99 0h1.55m29.45 0h1.55m51.14 0h3.099m3.099 0h1.55m17.05 0h1.55m34.09 0h1.55m1.55 0h3.099m26.35 0h1.55m9.298 0h1.55m9.298 0h1.55m12.4 0h1.55m13.95 0h1.55m1.55 0h4.649m1.55 0h1.55m1.55 0h1.55m7.749 0h1.55m30.99 0h4.649m3.099 0h1.55m7.749 0h1.55m24.8 0h1.55m13.95 0h1.55m12.4 0h1.55m3.099 0h1.55m4.649 0h4.649M97 1485.66h1.55m3.099 0h3.099m6.199 0h3.099m3.099 0h1.55m1.55 0h1.55m18.6 0h1.55m6.199 0h3.099m3.099 0h1.55m1.55 0h1.55m15.5 0h1.55m24.8 0h1.55m18.6 0h6.199m7.749 0h1.55m10.85 0h1.55m1.55 0h1.55m1.55 0h1.55m3.099 0h1.55m18.6 0h7.749m10.85 0h3.099m13.95 0h3.099m4.649 0h1.55m17.05 0h3.099m23.25 0h1.55m9.298 0h1.55m48.04 0h1.55m55.79 0h1.55m34.09 0h1.55m4.649 0h1.55m20.15 0h3.099m32.54 0h1.55m3.099 0h1.55m26.35 0h1.55m1.55 0h1.55m3.099 0h1.55m68.19 0h1.55m3.099 0h1.55M101.6 1499.7h1.55m10.85 0h1.55m1.55 0h1.55m17.05 0h1.55m6.199 0h1.55m3.099 0h1.55m4.649 0h1.55m26.35 0h1.55m13.95 0h1.55m4.649 0h1.55m4.649 0h1.55m10.85 0h3.099m9.298 0h3.099m1.55 0h1.55m3.099 0h1.55m9.298 0h3.099m6.199 0h3.099m3.099 0h1.55m4.649 0h1.55m10.85 0h6.199m13.95 0h6.199m6.199 0h1.55m3.099 0h3.099m40.29 0h1.55m1.55 0h1.55m4.649 0h4.649m20.15 0h1.55m29.45 0h1.55m37.19 0h3.099m6.199 0h1.55m3.099 0h1.55m17.05 0h1.55m3.099 0h1.55m6.199 0h3.099m38.74 0h1.55m35.64 0h1.55m6.199 0h3.099m13.95 0h1.55m23.25 0h1.55m15.5 0h1.55M110.9 1513.74h1.55m12.4 0h4.649m7.749 0h1.55m15.5 0h1.55m3.099 0h1.55m20.15 0h1.55m3.099 0h6.199m13.95 0h1.55m1.55 0h1.55m9.298 0h1.55m10.85 0h1.55m1.55 0h1.55m6.199 0h1.55m4.649 0h4.649m4.649 0h3.099m1.55 0h1.55m13.95 0h1.55m3.099 0h4.649m3.099 0h1.55m3.099 0h1.55m7.749 0h3.099m4.649 0h1.55m6.199 0h6.199m1.55 0h1.55m3.099 0h1.55m6.199 0h1.55m7.749 0h1.55m3.099 0h1.55m21.7 0h1.55m24.8 0h1.55m10.85 0h1.55m15.5 0h1.55m6.199 0h3.099m20.15 0h1.55m46.49 0h1.55m4.649 0h1.55m18.6 0h4.649m1.55 0h1.55m4.649 0h1.55m17.05 0h1.55m7.749 0h3.099m18.6 0h1.55m26.35 0h1.55m6.199 0h1.55m1.55 0h3.099m7.749 0h1.55m3.099 0h1.55m32.54 0h1.55m4.649 0h1.55M103.2 1527.78h1.55m34.09 0h3.099m6.199 0h1.55m3.099 0h1.55m6.199 0h1.55m7.749 0h1.55m4.649 0h3.099m1.55 0h3.099m13.95 0h1.55m20.15 0h1.55m7.749 0h1.55m12.4 0h1.55m7.749 0h1.55m6.199 0h1.55m4.649 0h3.099m4.649 0h1.55m7.749 0h1.55m3.099 0h1.55m20.15 0h1.55m4.649 0h1.55m6.199 0h4.649m20.15 0h1.55m10.85 0h1.55m13.95 0h1.55m27.9 0h1.55m18.6 0h1.55m29.45 0h1.55m13.95 0h3.099m1.55 0h4.649m1.55 0h1.55m13.95 0h1.55m1.55 0h1.55m20.15 0h1.55m20.15 0h1.55m6.199 0h1.55m4.649 0h3.099m9.298 0h1.55m7.749 0h1.55m17.05 0h1.55m9.298 0h1.55m55.79 0h1.55m6.199 0h1.55m3.099 0h1.55m15.5 0h1.55M107.8 1541.82h1.55m3.099 0h1.55m7.749 0h1.55m20.15 0h1.55m7.749 0h1.55m15.5 0h1.55m4.649 0h1.55m13.95 0h1.55m3.099 0h1.55m24.8 0h1.55m17.05 0h1.55m1.55 0h3.099m10.85 0h6.199m4.649 0h3.099m1.55 0h1.55m24.8 0h1.55m6.199 0h1.55m7.749 0h1.55m24.8 0h1.55m1.55 0h1.55m12.4 0h1.55m15.5 0h4.649m4.649 0h1.55m23.25 0h3.099m29.45 0h1.55m6.199 0h1.55m10.85 0h1.55m7.749 0h1.55m1.55 0h1.55m4.649 0h3.099m6.199 0h1.55m6.199 0h3.099m3.099 0h1.55m7.749 0h3.099m23.25 0h1.55m3.099 0h1.55m9.298 0h3.099m18.6 0h1.55m10.85 0h1.55m13.95 0h1.55m7.749 0h1.55m10.85 0h1.55m13.95 0h3.099m6.199 0h1.55m24.8 0h1.55m7.749 0h3.099m1.55 0h1.55M90.8 1555.86h1.55m3.099 0h1.55m6.199 0h3.099m6.199 0h1.55m1.55 0h1.55m3.099 0h3.099m6.199 0h1.55m13.95 0h1.55m43.39 0h3.099m38.74 0h1.55m1.55 0h1.55m20.15 0h1.55m1.55 0h1.55m1.55 0h1.55m4.649 0h1.55m6.199 0h1.55m9.298 0h1.55m32.54 0h3.099m10.85 0h1.55m21.7 0h3.099m1.55 0h1.55m30.99 0h1.55m12.4 0h1.55m4.649 0h1.55m46.49 0h1.55m10.85 0h1.55m3.099 0h1.55m23.25 0h1.55m10.85 0h1.55m9.298 0h1.55m23.25 0h3.099m24.8 0h1.55m3.099 0h1.55m4.649 0h4.649m17.05 0h3.099m6.199 0h3.099m15.5 0h3.099m35.64 0h1.55m3.099 0h3.099m10.85 0h1.55M106.3 1569.9h1.55m4.649 0h1.55m1.55 0h4.649m3.099 0h1.55m20.15 0h1.55m21.7 0h1.55m7.749 0h3.099m17.05 0h6.199m9.298 0h1.55m17.05 0h1.55m6.199 0h1.55m24.8 0h1.55m4.649 0h1.55m4.649 0h1.55m3.099 0h1.55m1.55 0h1.55m51.14 0h3.099m57.34 0h1.55m40.29 0h1.55m10.85 0h4.649m1.55 0h1.55m13.95 0h1.55m9.298 0h1.55m43.39 0h1.55m17.05 0h1.55m13.95 0h4.649m34.09 0h1.55m32.54 0h1.55m32.54 0h3.099m13.95 0h1.55M110.9 1583.94h1.55m3.099 0h1.55m3.099 0h1.55m29.45 0h1.55m10.85 0h3.099m9.298 0h3.099m1.55 0h3.099m1.55 0h3.099m12.4 0h4.649m6.199 0h1.55m24.8 0h4.649m9.298 0h1.55m10.85 0h1.55m17.05 0h1.55m15.5 0h1.55m6.199 0h3.099m41.84 0h4.649m13.95 0h1.55m17.05 0h1.55m21.7 0h1.55m7.749 0h1.55m23.25 0h3.099m27.9 0h1.55m32.54 0h1.55m10.85 0h1.55m26.35 0h3.099m29.45 0h3.099m35.64 0h1.55m17.05 0h1.55m4.649 0h1.55m6.199 0h3.099m9.298 0h1.55m9.298 0h1.55m7.749 0h1.55M97 1597.98h1.55m9.298 0h1.55m1.55 0h1.55m4.649 0h1.55m6.199 0h1.55m23.25 0h4.649m20.15 0h1.55m18.6 0h1.55m7.749 0h1.55m4.649 0h3.099m9.298 0h1.55m17.05 0h1.55m3.099 0h1.55m3.099 0h3.099m7.749 0h1.55m3.099 0h3.099m3.099 0h3.099m12.4 0h4.649m10.85 0h1.55m40.29 0h1.55m1.55 0h1.55m17.05 0h1.55m4.649 0h1.55m41.84 0h1.55m46.49 0h1.55m1.55 0h1.55m10.85 0h4.649m6.199 0h1.55m9.298 0h6.199m17.05 0h4.649m3.099 0h3.099m7.749 0h1.55m1.55 0h1.55m3.099 0h1.55m7.749 0h1.55m1.55 0h1.55m1.55 0h1.55m32.54 0h4.649m7.749 0h3.099m1.55 0h1.55m4.649 0h1.55m13.95 0h1.55m49.59 0h1.55M120.2 1612.02h1.55m24.8 0h1.55m96.08 0h1.55m15.5 0h1.55m29.45 0h1.55m4.649 0h3.099m13.95 0h3.099m4.649 0h1.55m54.24 0h1.55m10.85 0h1.55m24.8 0h1.55m49.59 0h3.099m18.6 0h1.55m21.7 0h1.55m15.5 0h1.55m6.199 0h1.55m10.85 0h1.55m12.4 0h1.55m12.4 0h1.55m65.09 0h1.55m35.64 0h1.55M100.1 1626.06h1.55m1.55 0h1.55m20.15 0h1.55m6.199 0h1.55m20.15 0h1.55m29.45 0h3.099m21.7 0h1.55m32.54 0h1.55m40.29 0h1.55m17.05 0h1.55m6.199 0h1.55m37.19 0h1.55m27.9 0h1.55m18.6 0h1.55m46.49 0h3.099m12.4 0h3.099m3.099 0h3.099m1.55 0h1.55m12.4 0h1.55m13.95 0h1.55m4.649 0h1.55m1.55 0h1.55m35.64 0h3.099m7.749 0h1.55m3.099 0h1.55m4.649 0h1.55m68.19 0h1.55M92.35 1640.1h1.55m32.54 0h3.099m27.9 0h1.55m21.7 0h1.55m55.79 0h1.55m6.199 0h1.55m13.95 0h1.55m3.099 0h1.55m23.25 0h1.55m6.199 0h1.55m7.749 0h1.55m30.99 0h1.55m4.649 0h1.55m24.8 0h1.55m127.1 0h1.55m38.74 0h3.099m40.29 0h1.55m12.4 0h1.55m74.39 0h1.55M110.9 1654.14h1.55m37.19 0h1.55m38.74 0h1.55m10.85 0h1.55m3.099 0h1.55m18.6 0h3.099m15.5 0h1.55m24.8 0h1.55m12.4 0h3.099m29.45 0h1.55m94.53 0h3.099m20.15 0h1.55m55.79 0h1.55m17.05 0h1.55m6.199 0h1.55m82.14 0h3.099m17.05 0h3.099m43.39 0h1.55m1.55 0h1.55m12.4 0h1.55m6.199 0h1.55M97 1668.18h3.099m13.95 0h1.55m3.099 0h1.55m102.3 0h1.55m21.7 0h1.55m61.99 0h1.55m1.55 0h1.55m1.55 0h1.55m37.19 0h1.55m37.19 0h1.55m69.74 0h3.099m38.74 0h1.55m63.54 0h1.55m68.19 0h1.55m51.14 0h3.099M90.8 1682.22h1.55m4.649 0h1.55m7.749 0h4.649m9.298 0h3.099m9.298 0h1.55m3.099 0h1.55m1.55 0h1.55m17.05 0h1.55m23.25 0h1.55m18.6 0h1.55m79.04 0h1.55m34.09 0h1.55m52.69 0h1.55m37.19 0h1.55m85.24 0h3.099m57.34 0h1.55m18.6 0h1.55m105.4 0h4.649m1.55 0h1.55M97 1696.26h1.55m32.54 0h1.55m108.5 0h1.55m49.59 0h1.55m1.55 0h1.55m13.95 0h1.55m106.9 0h1.55m18.6 0h1.55m66.64 0h1.55m3.099 0h1.55m30.99 0h1.55m37.19 0h1.55m1.55 0h1.55m92.98 0h1.55M112.5 1710.3h1.55m34.09 0h1.55m92.98 0h1.55m113.1 0h1.55m49.59 0h1.55m52.69 0h1.55m111.6 0h1.55m27.9 0h1.55m82.14 0h3.099M126.4 1724.34h4.649m92.98 0h1.55m10.85 0h4.649m52.69 0h1.55m80.59 0h1.55m3.099 0h1.55m173.6 0h1.55m82.14 0h1.55m9.298 0h1.55m48.04 0h1.55M143.5 1738.38h1.55m72.84 0h1.55m55.79 0h3.099m122.4 0h1.55m120.9 0h1.55m88.34 0h1.55m4.649 0h3.099m79.04 0h1.55M145 1752.42h1.55m13.95 0h3.099m18.6 0h1.55m15.5 0h1.55m204.6 0h1.55m71.29 0h3.099m85.24 0h3.099m72.84 0h3.099m40.29 0h1.55M332.6 1766.46h1.55m337.8 0h1.55m1.55 0h1.55m1.55 0h3.099m3.099 0h3.099m7.749 0h3.099M332.6 1780.5h1.55m181.3 0h1.55M180.7 1794.54h1.55M200.8 1808.58h1.55m26.35 0h1.55m1.55 0h1.55m58.89 0h1.55m20.15 0h1.55M151.2 1822.62h1.55m82.14 0h1.55m32.54 0h1.55m21.7 0h1.55m131.7 0h1.55m15.5 0h1.55m144.1 0h1.55m23.25 0h3.099m3.099 0h1.55m40.29 0h1.55m20.15 0h1.55M145 1836.66h1.55m41.84 0h1.55m7.749 0h1.55m108.5 0h1.55m66.64 0h1.55m130.2 0h1.55m4.649 0h1.55m1.55 0h1.55m7.749 0h1.55m12.4 0h1.55m66.64 0h4.649m20.15 0h3.099m20.15 0h3.099m13.95 0h1.55m24.8 0h1.55M98.55 1850.7h1.55m32.54 0h1.55m20.15 0h1.55m1.55 0h1.55m15.5 0h1.55m35.64 0h1.55m26.35 0h3.099m7.749 0h3.099m150.3 0h1.55m68.19 0h1.55m17.05 0h1.55m18.6 0h1.55m10.85 0h1.55m13.95 0h1.55m4.649 0h1.55m30.99 0h1.55m17.05 0h1.55m26.35 0h3.099m1.55 0h1.55m54.24 0h1.55m10.85 0h4.649M160.5 1864.74h1.55m51.14 0h1.55m1.55 0h1.55m179.8 0h1.55m20.15 0h1.55m55.79 0h1.55m198.4 0h3.099m9.298 0h1.55M90.8 1878.78h1.55m3.099 0h1.55m30.99 0h3.099m41.84 0h4.649m49.59 0h1.55m48.04 0h1.55m65.09 0h1.55m54.24 0h1.55m15.5 0h1.55m13.95 0h1.55m38.74 0h3.099m4.649 0h1.55m7.749 0h1.55m55.79 0h1.55m79.04 0h1.55m17.05 0h1.55m26.35 0h3.099M90.8 1892.82h1.55m32.54 0h1.55m12.4 0h1.55m9.298 0h1.55m74.39 0h1.55m4.649 0h1.55m1.55 0h1.55m13.95 0h1.55m3.099 0h1.55m1.55 0h1.55m1.55 0h1.55m10.85 0h1.55m9.298 0h1.55m3.099 0h1.55m20.15 0h1.55m3.099 0h1.55m3.099 0h1.55m15.5 0h1.55m10.85 0h1.55m20.15 0h1.55m21.7 0h1.55m13.95 0h1.55m15.5 0h1.55m38.74 0h1.55m1.55 0h1.55m18.6 0h1.55m13.95 0h1.55m6.199 0h1.55m41.84 0h1.55m3.099 0h1.55m37.19 0h3.099m65.09 0h1.55M97 1906.86h1.55m12.4 0h1.55m96.08 0h3.099m4.649 0h1.55m12.4 0h1.55m1.55 0h1.55m20.15 0h1.55m12.4 0h1.55m1.55 0h4.649m9.298 0h1.55m6.199 0h4.649m12.4 0h1.55m15.5 0h1.55m1.55 0h1.55m55.79 0h1.55m18.6 0h1.55m9.298 0h1.55m4.649 0h1.55m12.4 0h1.55m27.9 0h1.55m4.649 0h3.099m21.7 0h3.099m79.04 0h1.55m3.099 0h3.099m7.749 0h1.55m24.8 0h1.55m44.94 0h1.55m20.15 0h1.55M95.45 1920.9h3.099m49.59 0h3.099m24.8 0h1.55m37.19 0h1.55m9.298 0h3.099m3.099 0h1.55m24.8 0h1.55m20.15 0h1.55m6.199 0h4.649m6.199 0h1.55m9.298 0h1.55m10.85 0h1.55m17.05 0h1.55m23.25 0h1.55m110 0h1.55m21.7 0h1.55m4.649 0h1.55m9.298 0h1.55m41.84 0h1.55m26.35 0h1.55m4.649 0h1.55m41.84 0h1.55m15.5 0h1.55M90.8 1934.94h3.099m18.6 0h1.55m21.7 0h3.099m12.4 0h3.099m29.45 0h3.099m34.09 0h3.099m37.19 0h4.649m1.55 0h1.55m1.55 0h4.649m7.749 0h1.55m1.55 0h1.55m83.69 0h1.55m1.55 0h1.55m46.49 0h1.55m32.54 0h1.55m30.99 0h3.099m37.19 0h1.55m13.95 0h1.55m46.49 0h1.55m91.44 0h1.55M101.6 1948.98h3.099m10.85 0h3.099m1.55 0h3.099m18.6 0h1.55m7.749 0h1.55m1.55 0h1.55m7.749 0h1.55m10.85 0h1.55m7.749 0h1.55m21.7 0h1.55m6.199 0h1.55m1.55 0h1.55m4.649 0h1.55m17.05 0h1.55m3.099 0h1.55m9.298 0h1.55m6.199 0h1.55m1.55 0h1.55m10.85 0h1.55m3.099 0h6.199m1.55 0h1.55m15.5 0h4.649m4.649 0h3.099m54.24 0h1.55m20.15 0h1.55m13.95 0h1.55m18.6 0h1.55m13.95 0h1.55m24.8 0h1.55m9.298 0h1.55m4.649 0h1.55m18.6 0h1.55m9.298 0h1.55m54.24 0h1.55m1.55 0h1.55m35.64 0h3.099m21.7 0h1.55m24.8 0h1.55m27.9 0h1.55M90.8 1963.02h1.55m7.749 0h1.55m37.19 0h3.099m7.749 0h3.099m6.199 0h1.55m20.15 0h3.099m17.05 0h1.55m4.649 0h3.099m1.55 0h3.099m15.5 0h1.55m9.298 0h1.55m6.199 0h1.55m17.05 0h1.55m4.649 0h4.649m1.55 0h1.55m1.55 0h1.55m3.099 0h1.55m1.55 0h1.55m1.55 0h1.55m3.099 0h1.55m23.25 0h1.55m1.55 0h1.55m12.4 0h1.55m3.099 0h1.55m27.9 0h6.199m23.25 0h1.55m40.29 0h1.55m4.649 0h1.55m32.54 0h1.55m18.6 0h1.55m20.15 0h1.55m30.99 0h1.55m9.298 0h1.55m9.298 0h1.55m27.9 0h1.55m23.25 0h1.55m15.5 0h1.55m26.35 0h1.55M118.7 1977.06h1.55m26.35 0h1.55m32.54 0h1.55m7.749 0h1.55m4.649 0h3.099m3.099 0h1.55m18.6 0h3.099m9.298 0h1.55m15.5 0h1.55m3.099 0h1.55m7.749 0h1.55m9.298 0h6.199m12.4 0h3.099m9.298 0h1.55m10.85 0h4.649m21.7 0h3.099m23.25 0h1.55m3.099 0h1.55m88.34 0h3.099m12.4 0h1.55m9.298 0h1.55m4.649 0h1.55m83.69 0h1.55m21.7 0h1.55m15.5 0h3.099m26.35 0h1.55m3.099 0h1.55m3.099 0h1.55m13.95 0h3.099M90.8 1991.1h1.55m30.99 0h3.099m26.35 0h3.099m3.099 0h1.55m10.85 0h1.55m23.25 0h1.55m17.05 0h1.55m10.85 0h1.55m6.199 0h1.55m15.5 0h1.55m4.649 0h1.55m9.298 0h1.55m18.6 0h1.55m3.099 0h1.55m1.55 0h1.55m1.55 0h1.55m21.7 0h1.55m83.69 0h1.55m3.099 0h1.55m9.298 0h3.099m12.4 0h1.55m37.19 0h1.55m18.6 0h1.55m17.05 0h1.55m7.749 0h1.55m12.4 0h1.55m46.49 0h4.649m34.09 0h1.55m15.5 0h1.55m9.298 0h1.55m30.99 0h1.55m3.099 0h1.55m4.649 0h1.55M107.8 2005.14h1.55m17.05 0h3.099m17.05 0h1.55m21.7 0h1.55m6.199 0h1.55m1.55 0h1.55m10.85 0h1.55m20.15 0h3.099m7.749 0h1.55m1.55 0h1.55m12.4 0h1.55m13.95 0h3.099m10.85 0h1.55m12.4 0h1.55m54.24 0h1.55m63.54 0h3.099m32.54 0h1.55m7.749 0h1.55m34.09 0h1.55m51.14 0h1.55m1.55 0h1.55m18.6 0h1.55m27.9 0h1.55m12.4 0h1.55m20.15 0h3.099m10.85 0h1.55m4.649 0h1.55m35.64 0h3.099M97 2019.18h1.55m55.79 0h1.55m4.649 0h1.55m12.4 0h1.55m27.9 0h3.099m3.099 0h1.55m43.39 0h1.55m7.749 0h3.099m6.199 0h1.55m21.7 0h3.099m1.55 0h3.099m12.4 0h3.099m6.199 0h1.55m15.5 0h1.55m9.298 0h7.749m18.6 0h1.55m7.749 0h1.55m4.649 0h1.55m7.749 0h3.099m44.94 0h1.55m38.74 0h1.55m15.5 0h1.55m12.4 0h1.55m1.55 0h1.55m58.89 0h1.55m54.24 0h1.55m18.6 0h3.099m21.7 0h1.55M120.2 2033.22h3.099m9.298 0h4.649m1.55 0h1.55m1.55 0h1.55m46.49 0h3.099m9.298 0h1.55m10.85 0h1.55m7.749 0h3.099m4.649 0h1.55m6.199 0h1.55m4.649 0h1.55m4.649 0h1.55m24.8 0h1.55m43.39 0h1.55m3.099 0h1.55m12.4 0h1.55m3.099 0h1.55m32.54 0h1.55m10.85 0h3.099m46.49 0h3.099m34.09 0h1.55m41.84 0h1.55m4.649 0h1.55m10.85 0h3.099m35.64 0h1.55m13.95 0h1.55m3.099 0h3.099m17.05 0h1.55m44.94 0h3.099m7.749 0h1.55M93.9 2047.26h1.55m24.8 0h1.55m40.29 0h1.55m9.298 0h1.55m68.19 0h3.099m1.55 0h1.55m7.749 0h1.55m1.55 0h1.55m1.55 0h1.55m6.199 0h1.55m20.15 0h4.649m26.35 0h1.55m83.69 0h1.55m20.15 0h1.55m17.05 0h1.55m13.95 0h3.099m37.19 0h1.55m3.099 0h1.55m9.298 0h1.55m6.199 0h1.55m17.05 0h1.55m34.09 0h1.55m13.95 0h1.55m3.099 0h3.099m4.649 0h3.099m54.24 0h1.55m7.749 0h4.649M98.55 2061.3h1.55m40.29 0h1.55m9.298 0h1.55m41.84 0h1.55m1.55 0h1.55m1.55 0h1.55m58.89 0h1.55m7.749 0h4.649m3.099 0h1.55m15.5 0h1.55m7.749 0h1.55m9.298 0h1.55m1.55 0h1.55m4.649 0h1.55m18.6 0h1.55m71.29 0h1.55m155 0h1.55m10.85 0h1.55m17.05 0h1.55m3.099 0h1.55m29.45 0h3.099m13.95 0h1.55m1.55 0h1.55m9.298 0h1.55m15.5 0h1.55M107.8 2075.34h1.55m85.24 0h1.55m3.099 0h1.55m6.199 0h1.55m9.298 0h1.55m34.09 0h1.55m10.85 0h1.55m3.099 0h1.55m32.54 0h1.55m18.6 0h1.55m148.8 0h1.55m13.95 0h1.55m91.44 0h1.55m23.25 0h1.55m29.45 0h3.099m3.099 0h1.55m7.749 0h1.55M90.8 2089.38h3.099m48.04 0h1.55m10.85 0h1.55m15.5 0h3.099m21.7 0h1.55m40.29 0h1.55m4.649 0h1.55m6.199 0h1.55m4.649 0h1.55m26.35 0h1.55m1.55 0h1.55m3.099 0h1.55m21.7 0h1.55m3.099 0h1.55m32.54 0h1.55m6.199 0h1.55m65.09 0h1.55m1.55 0h1.55m32.54 0h1.55m37.19 0h3.099m51.14 0h1.55m3.099 0h1.55m38.74 0h1.55m17.05 0h1.55m21.7 0h1.55m7.749 0h1.55m20.15 0h1.55m3.099 0h1.55m3.099 0h1.55M112.5 2103.42h1.55m9.298 0h3.099m15.5 0h1.55m41.84 0h4.649m3.099 0h3.099m18.6 0h1.55m4.649 0h4.649m38.74 0h3.099m24.8 0h3.099m4.649 0h4.649m7.749 0h3.099m116.2 0h1.55m32.54 0h1.55m9.298 0h1.55m13.95 0h1.55m3.099 0h1.55m24.8 0h1.55m6.199 0h1.55m51.14 0h3.099m21.7 0h1.55m23.25 0h1.55m41.84 0h1.55M93.9 2117.46h1.55m75.94 0h3.099m7.749 0h1.55m1.55 0h1.55m3.099 0h3.099m27.9 0h1.55m3.099 0h1.55m13.95 0h1.55m6.199 0h1.55m15.5 0h3.099m6.199 0h1.55m10.85 0h3.099m10.85 0h1.55m1.55 0h1.55m26.35 0h1.55m43.39 0h1.55m52.69 0h1.55m18.6 0h3.099m17.05 0h1.55m12.4 0h1.55m17.05 0h1.55m20.15 0h1.55m30.99 0h1.55m3.099 0h1.55m10.85 0h1.55m106.9 0h1.55M107.8 2131.5h1.55m162.7 0h1.55m13.95 0h1.55m114.7 0h1.55m61.99 0h1.55m29.45 0h1.55m4.649 0h1.55m6.199 0h3.099m4.649 0h3.099m9.298 0h3.099m37.19 0h1.55m4.649 0h1.55m3.099 0h1.55m1.55 0h4.649m17.05 0h1.55m24.8 0h1.55m34.09 0h1.55m21.7 0h3.099M114 2145.54h1.55m7.749 0h1.55m9.298 0h1.55m86.79 0h1.55m38.74 0h3.099m51.14 0h1.55m55.79 0h1.55m6.199 0h1.55m82.14 0h1.55m165.8 0h1.55m9.298 0h1.55m34.09 0h6.199M109.4 2159.58h1.55m3.099 0h3.099m4.649 0h1.55m3.099 0h3.099m4.649 0h1.55m1.55 0h3.099m3.099 0h1.55m3.099 0h1.55m9.298 0h1.55m21.7 0h1.55m1.55 0h1.55m7.749 0h3.099m12.4 0h1.55m3.099 0h1.55m4.649 0h1.55m3.099 0h1.55m6.199 0h3.099m7.749 0h1.55m1.55 0h1.55m4.649 0h1.55m7.749 0h1.55m3.099 0h3.099m34.09 0h1.55m1.55 0h4.649m4.649 0h1.55m3.099 0h1.55m15.5 0h1.55m1.55 0h1.55m17.05 0h3.099m4.649 0h1.55m17.05 0h1.55m4.649 0h1.55m10.85 0h1.55m9.298 0h3.099m9.298 0h3.099m12.4 0h3.099m3.099 0h1.55m3.099 0h1.55m4.649 0h1.55m3.099 0h3.099m10.85 0h4.649m15.5 0h3.099m3.099 0h3.099m3.099 0h3.099m21.7 0h3.099m7.749 0h1.55m1.55 0h1.55m1.55 0h1.55m3.099 0h1.55m3.099 0h1.55m4.649 0h3.099m3.099 0h1.55m9.298 0h1.55m4.649 0h4.649m4.649 0h1.55m4.649 0h1.55m4.649 0h4.649m6.199 0h1.55m1.55 0h1.55m13.95 0h1.55m1.55 0h1.55m4.649 0h1.55m9.298 0h3.099m4.649 0h1.55m7.749 0h1.55m17.05 0h1.55m1.55 0h1.55M98.55 2173.62h1.55m10.85 0h1.55m6.199 0h1.55m4.649 0h1.55m3.099 0h1.55m17.05 0h3.099m7.749 0h1.55m1.55 0h3.099m1.55 0h1.55m9.298 0h1.55m3.099 0h1.55m4.649 0h3.099m18.6 0h1.55m1.55 0h1.55m6.199 0h1.55m15.5 0h1.55m6.199 0h1.55m10.85 0h1.55m40.29 0h1.55m23.25 0h1.55m3.099 0h1.55m23.25 0h1.55m17.05 0h1.55m3.099 0h3.099m40.29 0h1.55m15.5 0h1.55m3.099 0h1.55m40.29 0h1.55m6.199 0h1.55m4.649 0h1.55m12.4 0h4.649m34.09 0h3.099m10.85 0h3.099m12.4 0h1.55m17.05 0h1.55m34.09 0h1.55m15.5 0h6.199m3.099 0h1.55m3.099 0h1.55m4.649 0h3.099m12.4 0h1.55m4.649 0h1.55m6.199 0h1.55M104.7 2187.66h6.199m4.649 0h3.099m6.199 0h1.55m4.649 0h1.55m3.099 0h1.55m9.298 0h1.55m1.55 0h6.199m13.95 0h1.55m21.7 0h1.55m34.09 0h1.55m7.749 0h1.55m49.59 0h1.55m4.649 0h1.55m13.95 0h3.099m13.95 0h1.55m1.55 0h1.55m1.55 0h1.55m7.749 0h1.55m23.25 0h1.55m21.7 0h1.55m35.64 0h3.099m7.749 0h1.55m29.45 0h4.649m10.85 0h3.099m13.95 0h1.55m3.099 0h1.55m9.298 0h1.55m1.55 0h1.55m7.749 0h1.55m4.649 0h1.55m6.199 0h1.55m6.199 0h1.55m3.099 0h1.55m3.099 0h1.55m1.55 0h3.099m1.55 0h1.55m4.649 0h1.55m13.95 0h1.55m6.199 0h1.55m46.49 0h3.099m20.15 0h1.55m4.649 0h1.55m10.85 0h3.099m3.099 0h1.55m1.55 0h1.55M95.45 2201.7h1.55m18.6 0h7.749m17.05 0h3.099m26.35 0h1.55m1.55 0h1.55m15.5 0h1.55m35.64 0h1.55m17.05 0h1.55m9.298 0h1.55m23.25 0h3.099m29.45 0h1.55m9.298 0h1.55m3.099 0h1.55m4.649 0h1.55m15.5 0h4.649m1.55 0h4.649m4.649 0h1.55m1.55 0h3.099m3.099 0h3.099m3.099 0h3.099m6.199 0h3.099m4.649 0h6.199m9.298 0h3.099m9.298 0h1.55m13.95 0h1.55m6.199 0h1.55m1.55 0h1.55m66.64 0h1.55m6.199 0h1.55m15.5 0h1.55m3.099 0h1.55m52.69 0h1.55m3.099 0h3.099m32.54 0h1.55m3.099 0h3.099M95.45 2215.74h1.55m3.099 0h1.55m48.04 0h3.099m3.099 0h1.55m3.099 0h6.199m23.25 0h1.55m38.74 0h4.649m37.19 0h3.099m46.49 0h1.55m18.6 0h1.55m3.099 0h1.55m1.55 0h1.55m3.099 0h9.298m17.05 0h1.55m4.649 0h1.55m3.099 0h6.199m17.05 0h1.55m10.85 0h6.199m1.55 0h1.55m1.55 0h4.649m4.649 0h3.099m3.099 0h1.55m4.649 0h1.55m1.55 0h1.55m13.95 0h1.55m6.199 0h1.55m6.199 0h1.55m6.199 0h1.55m1.55 0h1.55m4.649 0h1.55m30.99 0h3.099m6.199 0h1.55m6.199 0h1.55m10.85 0h1.55m1.55 0h1.55m6.199 0h1.55m7.749 0h1.55m7.749 0h1.55m3.099 0h3.099m10.85 0h1.55m3.099 0h1.55m1.55 0h3.099m10.85 0h4.649m4.649 0h4.649m7.749 0h1.55m15.5 0h1.55m1.55 0h1.55M100.1 2229.78h1.55m18.6 0h1.55m37.19 0h1.55m3.099 0h1.55m9.298 0h1.55m7.749 0h1.55m9.298 0h1.55m1.55 0h1.55m7.749 0h1.55m4.649 0h1.55m4.649 0h6.199m3.099 0h1.55m3.099 0h1.55m1.55 0h1.55m3.099 0h3.099m3.099 0h1.55m4.649 0h1.55m4.649 0h1.55m12.4 0h1.55m20.15 0h3.099m7.749 0h6.199m34.09 0h1.55m9.298 0h1.55m10.85 0h1.55m3.099 0h1.55m9.298 0h1.55m17.05 0h4.649m12.4 0h1.55m32.54 0h1.55m15.5 0h3.099m3.099 0h3.099m1.55 0h1.55m3.099 0h1.55m20.15 0h3.099m1.55 0h3.099m15.5 0h1.55m3.099 0h1.55m7.749 0h1.55m7.749 0h6.199m1.55 0h1.55m4.649 0h1.55m18.6 0h1.55m1.55 0h1.55m4.649 0h1.55m18.6 0h1.55m3.099 0h1.55m3.099 0h1.55m13.95 0h1.55m6.199 0h3.099m3.099 0h1.55m12.4 0h1.55m21.7 0h1.55m3.099 0h3.099M93.9 2243.82h1.55m23.25 0h1.55m7.749 0h1.55m10.85 0h1.55m3.099 0h1.55m3.099 0h1.55m7.749 0h3.099m9.298 0h1.55m7.749 0h12.4m6.199 0h1.55m1.55 0h1.55m10.85 0h1.55m4.649 0h1.55m4.649 0h1.55m26.35 0h1.55m6.199 0h3.099m3.099 0h1.55m1.55 0h1.55m9.298 0h1.55m1.55 0h1.55m13.95 0h1.55m6.199 0h1.55m15.5 0h1.55m6.199 0h1.55m15.5 0h3.099m20.15 0h1.55m9.298 0h1.55m15.5 0h1.55m23.25 0h1.55m6.199 0h1.55m10.85 0h1.55m21.7 0h3.099m12.4 0h1.55m6.199 0h1.55m6.199 0h1.55m12.4 0h3.099m15.5 0h3.099m4.649 0h1.55m3.099 0h1.55m7.749 0h1.55m3.099 0h4.649m17.05 0h1.55m1.55 0h1.55m12.4 0h1.55m6.199 0h1.55m21.7 0h1.55m3.099 0h1.55m7.749 0h1.55m13.95 0h3.099m23.25 0h1.55m6.199 0h1.55M101.6 2257.86h3.099m3.099 0h1.55m13.95 0h1.55m6.199 0h1.55m21.7 0h1.55m7.749 0h9.298m4.649 0h1.55m1.55 0h1.55m9.298 0h1.55m3.099 0h3.099m4.649 0h4.649m1.55 0h1.55m17.05 0h1.55m9.298 0h4.649m6.199 0h1.55m4.649 0h3.099m21.7 0h1.55m21.7 0h4.649m10.85 0h1.55m1.55 0h3.099m63.54 0h3.099m29.45 0h1.55m30.99 0h1.55m9.298 0h3.099m6.199 0h4.649m18.6 0h1.55m21.7 0h4.649m10.85 0h3.099m7.749 0h3.099m7.749 0h1.55m15.5 0h1.55m12.4 0h1.55m4.649 0h3.099m3.099 0h1.55m9.298 0h1.55m1.55 0h1.55m23.25 0h1.55m3.099 0h1.55m6.199 0h1.55m6.199 0h1.55m4.649 0h1.55m6.199 0h1.55m4.649 0h1.55m1.55 0h1.55M109.4 2271.9h1.55m17.05 0h1.55m4.649 0h1.55m3.099 0h1.55m15.5 0h3.099m15.5 0h1.55m7.749 0h1.55m3.099 0h1.55m1.55 0h3.099m1.55 0h1.55m7.749 0h3.099m1.55 0h3.099m9.298 0h1.55m10.85 0h1.55m4.649 0h1.55m20.15 0h3.099m4.649 0h9.298m4.649 0h1.55m6.199 0h1.55m9.298 0h1.55m6.199 0h1.55m4.649 0h1.55m24.8 0h3.099m10.85 0h1.55m4.649 0h1.55m30.99 0h1.55m3.099 0h1.55m4.649 0h1.55m7.749 0h1.55m4.649 0h1.55m6.199 0h1.55m15.5 0h4.649m1.55 0h1.55m20.15 0h1.55m15.5 0h1.55m9.298 0h1.55m1.55 0h1.55m4.649 0h4.649m4.649 0h1.55m18.6 0h3.099m3.099 0h1.55m29.45 0h1.55m4.649 0h3.099m1.55 0h6.199m32.54 0h1.55m3.099 0h1.55m1.55 0h1.55m1.55 0h1.55m4.649 0h3.099m4.649 0h1.55m18.6 0h3.099m1.55 0h3.099m15.5 0h1.55M93.9 2285.94h1.55m13.95 0h1.55m17.05 0h1.55m32.54 0h1.55m1.55 0h3.099m4.649 0h1.55m17.05 0h1.55m4.649 0h6.199m7.749 0h1.55m1.55 0h1.55m13.95 0h1.55m7.749 0h6.199m6.199 0h3.099m7.749 0h3.099m3.099 0h3.099m1.55 0h1.55m3.099 0h3.099m9.298 0h1.55m37.19 0h1.55m18.6 0h1.55m34.09 0h4.649m41.84 0h3.099m1.55 0h1.55m10.85 0h1.55m27.9 0h1.55m1.55 0h3.099m7.749 0h1.55m4.649 0h1.55m10.85 0h4.649m1.55 0h1.55m3.099 0h1.55m3.099 0h1.55m10.85 0h1.55m26.35 0h1.55m10.85 0h1.55m7.749 0h3.099m1.55 0h1.55m29.45 0h3.099m3.099 0h3.099m3.099 0h1.55m9.298 0h1.55m3.099 0h4.649m7.749 0h1.55m4.649 0h1.55m1.55 0h1.55m13.95 0h4.649M114 2299.98h3.099m9.298 0h1.55m10.85 0h3.099m1.55 0h1.55m6.199 0h1.55m15.5 0h1.55m20.15 0h3.099m1.55 0h1.55m1.55 0h1.55m4.649 0h1.55m6.199 0h3.099m7.749 0h3.099m3.099 0h1.55m3.099 0h1.55m1.55 0h3.099m1.55 0h3.099m9.298 0h1.55m3.099 0h3.099m13.95 0h3.099m21.7 0h3.099m15.5 0h1.55m3.099 0h1.55m49.59 0h3.099m49.59 0h1.55m1.55 0h1.55m6.199 0h1.55m12.4 0h1.55m6.199 0h1.55m4.649 0h1.55m4.649 0h1.55m7.749 0h1.55m1.55 0h1.55m15.5 0h3.099m12.4 0h1.55m9.298 0h1.55m3.099 0h1.55m7.749 0h1.55m3.099 0h1.55m6.199 0h3.099m10.85 0h3.099m3.099 0h1.55m12.4 0h4.649m7.749 0h1.55m23.25 0h1.55m26.35 0h1.55m15.5 0h1.55m7.749 0h1.55M104.7 2314.02h1.55m17.05 0h3.099m1.55 0h1.55m12.4 0h1.55m18.6 0h4.649m3.099 0h1.55m4.649 0h1.55m21.7 0h1.55m15.5 0h1.55m3.099 0h1.55m3.099 0h1.55m6.199 0h1.55m21.7 0h3.099m4.649 0h1.55m4.649 0h1.55m3.099 0h6.199m17.05 0h1.55m23.25 0h1.55m7.749 0h1.55m49.59 0h1.55m10.85 0h3.099m12.4 0h1.55m9.298 0h1.55m65.09 0h3.099m7.749 0h4.649m12.4 0h1.55m3.099 0h1.55m4.649 0h1.55m1.55 0h1.55m4.649 0h1.55m1.55 0h1.55m27.9 0h1.55m9.298 0h1.55m7.749 0h3.099m1.55 0h1.55m43.39 0h1.55m4.649 0h1.55m3.099 0h3.099m15.5 0h1.55m6.199 0h1.55m4.649 0h1.55m1.55 0h1.55m6.199 0h4.649M93.9 2328.06h1.55m9.298 0h6.199m6.199 0h3.099m3.099 0h1.55m23.25 0h1.55m12.4 0h3.099m13.95 0h1.55m4.649 0h1.55m7.749 0h4.649m10.85 0h1.55m3.099 0h1.55m1.55 0h3.099m3.099 0h1.55m9.298 0h1.55m15.5 0h10.85m1.55 0h1.55m1.55 0h1.55m12.4 0h1.55m7.749 0h1.55m4.649 0h4.649m1.55 0h1.55m12.4 0h3.099m4.649 0h3.099m68.19 0h1.55m6.199 0h1.55m48.04 0h1.55m12.4 0h1.55m1.55 0h1.55m6.199 0h1.55m6.199 0h3.099m4.649 0h1.55m3.099 0h1.55m1.55 0h1.55m12.4 0h1.55m3.099 0h1.55m7.749 0h1.55m1.55 0h1.55m4.649 0h1.55m4.649 0h3.099m12.4 0h9.298m3.099 0h4.649m4.649 0h1.55m3.099 0h1.55m17.05 0h1.55m3.099 0h1.55m10.85 0h4.649m4.649 0h1.55m1.55 0h1.55m4.649 0h1.55m21.7 0h1.55m3.099 0h1.55m3.099 0h1.55m7.749 0h3.099m3.099 0h1.55m6.199 0h1.55m3.099 0h1.55M120.2 2342.1h3.099m24.8 0h1.55m9.298 0h1.55m46.49 0h3.099m3.099 0h1.55m9.298 0h1.55m18.6 0h4.649m9.298 0h3.099m1.55 0h4.649m35.64 0h4.649m12.4 0h4.649m13.95 0h1.55m6.199 0h1.55m24.8 0h1.55m26.35 0h1.55m21.7 0h3.099m15.5 0h1.55m23.25 0h1.55m18.6 0h1.55m4.649 0h1.55m9.298 0h3.099m1.55 0h1.55m1.55 0h1.55m9.298 0h1.55m4.649 0h3.099m1.55 0h1.55m9.298 0h1.55m3.099 0h7.749m4.649 0h1.55m26.35 0h1.55m37.19 0h1.55m1.55 0h4.649m12.4 0h1.55m17.05 0h3.099m15.5 0h1.55m3.099 0h1.55M95.45 2356.14h3.099m15.5 0h3.099m26.35 0h3.099m18.6 0h1.55m6.199 0h1.55m38.74 0h4.649m10.85 0h3.099m4.649 0h3.099m3.099 0h3.099m18.6 0h6.199m1.55 0h3.099m1.55 0h3.099m3.099 0h1.55m4.649 0h1.55m6.199 0h1.55m1.55 0h3.099m1.55 0h1.55m1.55 0h4.649m1.55 0h1.55m17.05 0h1.55m6.199 0h1.55m24.8 0h1.55m4.649 0h1.55m6.199 0h1.55m6.199 0h3.099m18.6 0h1.55m1.55 0h1.55m15.5 0h1.55m6.199 0h1.55m9.298 0h1.55m9.298 0h1.55m3.099 0h1.55m1.55 0h3.099m9.298 0h3.099m26.35 0h1.55m1.55 0h3.099m4.649 0h1.55m10.85 0h3.099m10.85 0h3.099m7.749 0h1.55m4.649 0h1.55m15.5 0h1.55m1.55 0h1.55m6.199 0h3.099m13.95 0h1.55m4.649 0h3.099m12.4 0h1.55m6.199 0h1.55m7.749 0h1.55m7.749 0h1.55m6.199 0h3.099m4.649 0h1.55m15.5 0h4.649m4.649 0h1.55M97 2370.18h1.55m20.15 0h6.199m6.199 0h1.55m3.099 0h3.099m4.649 0h4.649m1.55 0h3.099m6.199 0h1.55m3.099 0h3.099m6.199 0h1.55m9.298 0h1.55m1.55 0h1.55m7.749 0h6.199m1.55 0h1.55m29.45 0h1.55m12.4 0h1.55m10.85 0h1.55m3.099 0h4.649m3.099 0h1.55m18.6 0h3.099m1.55 0h1.55m1.55 0h1.55m23.25 0h3.099m15.5 0h3.099m20.15 0h1.55m6.199 0h3.099m24.8 0h4.649m1.55 0h1.55m10.85 0h1.55m41.84 0h1.55m13.95 0h1.55m3.099 0h1.55m13.95 0h1.55m3.099 0h3.099m17.05 0h3.099m30.99 0h3.099m1.55 0h1.55m1.55 0h7.749m3.099 0h1.55m1.55 0h1.55m24.8 0h1.55m3.099 0h3.099m6.199 0h1.55m3.099 0h1.55m1.55 0h3.099m21.7 0h1.55m3.099 0h1.55m6.199 0h1.55m3.099 0h1.55m4.649 0h1.55m1.55 0h4.649m17.05 0h1.55M90.8 2384.22h10.85m3.099 0h1.55m6.199 0h1.55m1.55 0h1.55m4.649 0h3.099m6.199 0h1.55m7.749 0h3.099m1.55 0h1.55m9.298 0h1.55m6.199 0h1.55m4.649 0h3.099m1.55 0h1.55m1.55 0h4.649m3.099 0h1.55m15.5 0h3.099m6.199 0h3.099m12.4 0h3.099m7.749 0h3.099m1.55 0h4.649m6.199 0h3.099m6.199 0h1.55m17.05 0h1.55m3.099 0h1.55m1.55 0h1.55m7.749 0h1.55m1.55 0h1.55m1.55 0h1.55m7.749 0h1.55m4.649 0h1.55m44.94 0h3.099m13.95 0h1.55m13.95 0h1.55m10.85 0h1.55m10.85 0h1.55m40.29 0h1.55m3.099 0h4.649m1.55 0h3.099m4.649 0h1.55m4.649 0h3.099m17.05 0h1.55m4.649 0h3.099m7.749 0h1.55m20.15 0h1.55m3.099 0h1.55m7.749 0h1.55m17.05 0h4.649m1.55 0h1.55m17.05 0h3.099m9.298 0h1.55m6.199 0h1.55m24.8 0h1.55m18.6 0h1.55m9.298 0h1.55m7.749 0h1.55m4.649 0h1.55M90.8 2398.26h1.55m6.199 0h1.55m1.55 0h1.55m3.099 0h3.099m3.099 0h3.099m17.05 0h1.55m4.649 0h1.55m4.649 0h3.099m6.199 0h1.55m1.55 0h1.55m4.649 0h4.649m1.55 0h1.55m4.649 0h1.55m7.749 0h1.55m1.55 0h1.55m12.4 0h1.55m12.4 0h1.55m32.54 0h1.55m7.749 0h1.55m3.099 0h1.55m12.4 0h1.55m1.55 0h1.55m1.55 0h1.55m6.199 0h3.099m7.749 0h1.55m1.55 0h1.55m15.5 0h3.099m9.298 0h3.099m3.099 0h1.55m10.85 0h1.55m26.35 0h4.649m7.749 0h1.55m58.89 0h1.55m13.95 0h4.649m30.99 0h1.55m4.649 0h1.55m3.099 0h3.099m6.199 0h1.55m10.85 0h1.55m1.55 0h1.55m4.649 0h1.55m15.5 0h1.55m1.55 0h1.55m1.55 0h3.099m13.95 0h1.55m3.099 0h1.55m1.55 0h1.55m17.05 0h1.55m12.4 0h1.55m1.55 0h1.55m12.4 0h1.55m10.85 0h1.55m1.55 0h1.55m3.099 0h6.199m12.4 0h1.55m12.4 0h1.55M95.45 2412.3h1.55m1.55 0h3.099m1.55 0h1.55m24.8 0h1.55m1.55 0h3.099m9.298 0h1.55m4.649 0h1.55m4.649 0h3.099m3.099 0h3.099m4.649 0h3.099m3.099 0h1.55m3.099 0h3.099m12.4 0h3.099m3.099 0h4.649m1.55 0h1.55m3.099 0h3.099m3.099 0h1.55m1.55 0h1.55m3.099 0h1.55m20.15 0h1.55m20.15 0h1.55m1.55 0h1.55m3.099 0h1.55m1.55 0h1.55m17.05 0h3.099m10.85 0h1.55m1.55 0h4.649m29.45 0h1.55m20.15 0h1.55m10.85 0h1.55m6.199 0h1.55m3.099 0h1.55m26.35 0h1.55m46.49 0h3.099m17.05 0h1.55m1.55 0h1.55m6.199 0h1.55m4.649 0h1.55m12.4 0h1.55m13.95 0h1.55m32.54 0h1.55m12.4 0h1.55m4.649 0h1.55m3.099 0h3.099m32.54 0h1.55m1.55 0h1.55m1.55 0h1.55m3.099 0h1.55m12.4 0h1.55m7.749 0h1.55m10.85 0h1.55m13.95 0h3.099M92.35 2426.34h3.099m4.649 0h4.649m17.05 0h1.55m1.55 0h1.55m1.55 0h1.55m1.55 0h1.55m4.649 0h1.55m24.8 0h3.099m18.6 0h1.55m6.199 0h1.55m4.649 0h1.55m9.298 0h3.099m4.649 0h1.55m6.199 0h3.099m1.55 0h1.55m7.749 0h1.55m3.099 0h4.649m1.55 0h1.55m12.4 0h1.55m1.55 0h1.55m18.6 0h1.55m9.298 0h1.55m57.34 0h1.55m60.44 0h3.099m7.749 0h1.55m3.099 0h3.099m13.95 0h1.55m18.6 0h1.55m3.099 0h3.099m26.35 0h1.55m10.85 0h1.55m10.85 0h1.55m4.649 0h1.55m3.099 0h1.55m3.099 0h1.55m30.99 0h1.55m13.95 0h1.55m6.199 0h4.649m18.6 0h4.649m7.749 0h1.55m1.55 0h1.55m7.749 0h1.55m1.55 0h4.649m4.649 0h1.55m6.199 0h1.55m4.649 0h1.55m3.099 0h1.55m15.5 0h1.55M95.45 2440.38h3.099m10.85 0h4.649m1.55 0h4.649m6.199 0h3.099m23.25 0h1.55m1.55 0h1.55m12.4 0h1.55m7.749 0h3.099m10.85 0h4.649m1.55 0h1.55m20.15 0h1.55m1.55 0h4.649m7.749 0h1.55m10.85 0h1.55m4.649 0h1.55m32.54 0h6.199m3.099 0h1.55m3.099 0h4.649m29.45 0h3.099m3.099 0h1.55m7.749 0h1.55m18.6 0h3.099m10.85 0h1.55m10.85 0h1.55m6.199 0h1.55m17.05 0h1.55m4.649 0h1.55m1.55 0h1.55m17.05 0h1.55m4.649 0h3.099m1.55 0h1.55m1.55 0h1.55m12.4 0h1.55m1.55 0h1.55m3.099 0h1.55m23.25 0h1.55m4.649 0h1.55m4.649 0h1.55m9.298 0h1.55m21.7 0h1.55m6.199 0h1.55m1.55 0h3.099m3.099 0h1.55m6.199 0h1.55m40.29 0h1.55m3.099 0h1.55m15.5 0h1.55m4.649 0h3.099m1.55 0h1.55m1.55 0h3.099m4.649 0h3.099m13.95 0h1.55m7.749 0h1.55M90.8 2454.42h4.649m6.199 0h1.55m10.85 0h1.55m4.649 0h1.55m18.6 0h9.298m1.55 0h1.55m3.099 0h3.099m10.85 0h4.649m3.099 0h3.099m4.649 0h4.649m9.298 0h1.55m15.5 0h1.55m1.55 0h1.55m13.95 0h1.55m3.099 0h3.099m23.25 0h1.55m1.55 0h1.55m10.85 0h1.55m3.099 0h4.649m24.8 0h1.55m4.649 0h1.55m1.55 0h1.55m4.649 0h1.55m13.95 0h1.55m13.95 0h1.55m85.24 0h1.55m4.649 0h1.55m26.35 0h1.55m6.199 0h1.55m34.09 0h1.55m1.55 0h1.55m6.199 0h1.55m24.8 0h1.55m4.649 0h1.55m3.099 0h1.55m18.6 0h1.55m6.199 0h3.099m3.099 0h1.55m13.95 0h1.55m9.298 0h1.55m7.749 0h1.55m9.298 0h4.649m15.5 0h1.55m4.649 0h1.55m7.749 0h1.55M95.45 2468.46h4.649m3.099 0h3.099m13.95 0h3.099m3.099 0h3.099m3.099 0h4.649m3.099 0h1.55m10.85 0h1.55m1.55 0h3.099m12.4 0h4.649m4.649 0h1.55m10.85 0h1.55m4.649 0h3.099m27.9 0h1.55m13.95 0h1.55m20.15 0h1.55m4.649 0h1.55m23.25 0h1.55m1.55 0h1.55m1.55 0h1.55m1.55 0h3.099m29.45 0h1.55m1.55 0h1.55m1.55 0h1.55m7.749 0h3.099m3.099 0h1.55m3.099 0h1.55m3.099 0h3.099m10.85 0h1.55m82.14 0h1.55m7.749 0h3.099m13.95 0h1.55m15.5 0h1.55m7.749 0h1.55m18.6 0h3.099m6.199 0h1.55m26.35 0h1.55m3.099 0h3.099m18.6 0h4.649m12.4 0h1.55m12.4 0h1.55m17.05 0h1.55m1.55 0h1.55m9.298 0h1.55m13.95 0h1.55m1.55 0h1.55M90.8 2482.5h1.55m7.749 0h1.55m4.649 0h1.55m4.649 0h1.55m1.55 0h1.55m13.95 0h3.099m1.55 0h1.55m4.649 0h1.55m10.85 0h1.55m13.95 0h1.55m15.5 0h1.55m12.4 0h4.649m3.099 0h1.55m1.55 0h1.55m3.099 0h1.55m6.199 0h1.55m6.199 0h1.55m6.199 0h1.55m12.4 0h1.55m7.749 0h1.55m7.749 0h3.099m4.649 0h4.649m4.649 0h1.55m6.199 0h3.099m26.35 0h1.55m12.4 0h1.55m44.94 0h3.099m13.95 0h1.55m44.94 0h3.099m27.9 0h1.55m9.298 0h1.55m20.15 0h3.099m1.55 0h1.55m12.4 0h7.749m4.649 0h1.55m3.099 0h1.55m6.199 0h1.55m1.55 0h4.649m10.85 0h1.55m10.85 0h3.099m4.649 0h1.55m6.199 0h1.55m6.199 0h3.099m1.55 0h1.55m4.649 0h1.55m21.7 0h1.55m9.298 0h1.55m7.749 0h4.649m10.85 0h1.55m4.649 0h3.099m7.749 0h6.199M92.35 2496.54h1.55m26.35 0h1.55m17.05 0h1.55m1.55 0h1.55m1.55 0h1.55m6.199 0h1.55m27.9 0h1.55m7.749 0h3.099m1.55 0h1.55m3.099 0h3.099m15.5 0h3.099m9.298 0h1.55m3.099 0h1.55m7.749 0h1.55m1.55 0h4.649m4.649 0h1.55m3.099 0h4.649m9.298 0h1.55m1.55 0h1.55m3.099 0h1.55m12.4 0h1.55m12.4 0h1.55m3.099 0h3.099m7.749 0h1.55m9.298 0h1.55m9.298 0h1.55m38.74 0h1.55m10.85 0h1.55m7.749 0h4.649m21.7 0h4.649m4.649 0h1.55m20.15 0h1.55m6.199 0h3.099m1.55 0h1.55m12.4 0h3.099m4.649 0h1.55m3.099 0h1.55m7.749 0h1.55m4.649 0h1.55m6.199 0h1.55m3.099 0h1.55m12.4 0h3.099m4.649 0h1.55m3.099 0h1.55m7.749 0h1.55m1.55 0h1.55m4.649 0h3.099m7.749 0h1.55m24.8 0h1.55m3.099 0h1.55m3.099 0h1.55m6.199 0h3.099m1.55 0h4.649m3.099 0h1.55m12.4 0h3.099m3.099 0h4.649m3.099 0h3.099m15.5 0h1.55M93.9 2510.58h1.55m12.4 0h1.55m9.298 0h1.55m24.8 0h6.199m10.85 0h1.55m4.649 0h1.55m1.55 0h1.55m3.099 0h1.55m6.199 0h3.099m3.099 0h3.099m7.749 0h1.55m6.199 0h1.55m3.099 0h1.55m1.55 0h1.55m4.649 0h3.099m7.749 0h1.55m1.55 0h1.55m10.85 0h1.55m3.099 0h1.55m6.199 0h1.55m13.95 0h1.55m23.25 0h3.099m4.649 0h1.55m9.298 0h3.099m7.749 0h1.55m3.099 0h1.55m51.14 0h1.55m4.649 0h1.55m21.7 0h1.55m1.55 0h1.55m4.649 0h7.749m3.099 0h1.55m4.649 0h3.099m27.9 0h4.649m10.85 0h1.55m4.649 0h1.55m3.099 0h1.55m6.199 0h3.099m1.55 0h1.55m3.099 0h1.55m7.749 0h3.099m4.649 0h1.55m15.5 0h1.55m7.749 0h3.099m1.55 0h3.099m1.55 0h1.55m13.95 0h1.55m4.649 0h1.55m6.199 0h1.55m23.25 0h3.099m4.649 0h1.55m3.099 0h1.55m6.199 0h1.55m3.099 0h3.099m20.15 0h1.55m12.4 0h1.55m1.55 0h1.55m6.199 0h1.55"/>
<path stroke="#f47f82" d="M470.5 1261.02h1.55M140.4 1303.14h1.55m1.55 0h1.55m1.55 0h1.55m102.3 0h3.099m21.7 0h1.55m4.649 0h1.55m3.099 0h1.55m26.35 0h1.55M149.7 1331.22h1.55m18.6 0h1.55m17.05 0h1.55m23.25 0h1.55m12.4 0h1.55m18.6 0h1.55m24.8 0h1.55m7.749 0h1.55m12.4 0h1.55m15.5 0h1.55m3.099 0h1.55m4.649 0h1.55m24.8 0h4.649m38.74 0h1.55m24.8 0h1.55m7.749 0h1.55m46.49 0h1.55m4.649 0h1.55m4.649 0h3.099m44.94 0h1.55m27.9 0h1.55m17.05 0h1.55m23.25 0h3.099m6.199 0h1.55m15.5 0h1.55m10.85 0h1.55m3.099 0h3.099m7.749 0h3.099m18.6 0h1.55M93.9 1345.26h1.55m15.5 0h1.55m27.9 0h1.55m9.298 0h1.55m23.25 0h1.55m3.099 0h1.55m9.298 0h1.55m9.298 0h1.55m15.5 0h1.55m24.8 0h1.55m1.55 0h1.55m12.4 0h1.55m40.29 0h1.55m4.649 0h4.649m4.649 0h1.55m96.08 0h1.55m54.24 0h1.55m13.95 0h3.099m58.89 0h1.55m24.8 0h3.099m6.199 0h3.099m37.19 0h1.55m55.79 0h1.55m3.099 0h3.099M95.45 1359.3h1.55m17.05 0h3.099m30.99 0h1.55m18.6 0h3.099m21.7 0h1.55m7.749 0h1.55m12.4 0h1.55m18.6 0h1.55m20.15 0h1.55m12.4 0h1.55m9.298 0h1.55m13.95 0h1.55m12.4 0h1.55m114.7 0h1.55m7.749 0h1.55m1.55 0h1.55m1.55 0h1.55m1.55 0h1.55m38.74 0h1.55m43.39 0h1.55m40.29 0h3.099m48.04 0h1.55m1.55 0h1.55m4.649 0h3.099m51.14 0h3.099M106.3 1373.34h1.55m1.55 0h1.55m7.749 0h1.55m17.05 0h1.55m21.7 0h1.55m13.95 0h1.55m46.49 0h1.55m4.649 0h1.55m27.9 0h1.55m21.7 0h1.55m35.64 0h1.55m48.04 0h1.55m60.44 0h1.55m10.85 0h1.55m54.24 0h1.55m18.6 0h1.55m9.298 0h1.55m10.85 0h1.55m13.95 0h1.55m44.94 0h1.55m12.4 0h1.55m3.099 0h1.55m41.84 0h1.55m23.25 0h1.55M95.45 1387.38h4.649m12.4 0h1.55m3.099 0h4.649m34.09 0h3.099m7.749 0h4.649m30.99 0h3.099m7.749 0h1.55m9.298 0h4.649m1.55 0h1.55m1.55 0h1.55m1.55 0h1.55m30.99 0h3.099m15.5 0h1.55m17.05 0h4.649m26.35 0h1.55m150.3 0h1.55m58.89 0h1.55m34.09 0h1.55m17.05 0h1.55m15.5 0h1.55m34.09 0h1.55m3.099 0h1.55m7.749 0h1.55m21.7 0h1.55m6.199 0h1.55M109.4 1401.42h1.55m15.5 0h1.55m17.05 0h1.55m4.649 0h1.55m4.649 0h1.55m52.69 0h1.55m3.099 0h1.55m7.749 0h1.55m18.6 0h1.55m26.35 0h1.55m10.85 0h4.649m92.98 0h3.099m158.1 0h1.55m26.35 0h1.55m54.24 0h1.55m3.099 0h3.099m10.85 0h3.099M106.3 1415.46h4.649m51.14 0h1.55m7.749 0h1.55m7.749 0h1.55m3.099 0h1.55m7.749 0h1.55m4.649 0h3.099m3.099 0h1.55m1.55 0h1.55m1.55 0h3.099m10.85 0h1.55m17.05 0h1.55m3.099 0h3.099m10.85 0h1.55m20.15 0h3.099m3.099 0h3.099m4.649 0h1.55m3.099 0h1.55m20.15 0h1.55m38.74 0h3.099m13.95 0h3.099m17.05 0h1.55m13.95 0h3.099m15.5 0h1.55m21.7 0h1.55m38.74 0h1.55m9.298 0h3.099m3.099 0h1.55m6.199 0h1.55m3.099 0h1.55m7.749 0h1.55m26.35 0h1.55m32.54 0h1.55m9.298 0h3.099m1.55 0h3.099M121.8 1429.5h3.099m13.95 0h1.55m7.749 0h1.55m4.649 0h3.099m12.4 0h1.55m7.749 0h1.55m44.94 0h1.55m3.099 0h1.55m12.4 0h1.55m27.9 0h1.55m7.749 0h1.55m1.55 0h1.55m7.749 0h1.55m21.7 0h1.55m17.05 0h1.55m148.8 0h1.55m4.649 0h1.55m18.6 0h1.55m29.45 0h1.55m13.95 0h1.55m1.55 0h1.55m6.199 0h1.55m13.95 0h1.55m30.99 0h1.55m43.39 0h1.55m23.25 0h3.099M93.9 1443.54h3.099m9.298 0h1.55m18.6 0h1.55m9.298 0h1.55m1.55 0h1.55m4.649 0h1.55m60.44 0h3.099m27.9 0h1.55m4.649 0h1.55m12.4 0h3.099m3.099 0h1.55m3.099 0h1.55m12.4 0h1.55m6.199 0h1.55m9.298 0h1.55m1.55 0h3.099m3.099 0h1.55m4.649 0h1.55m7.749 0h1.55m60.44 0h1.55m29.45 0h1.55m20.15 0h1.55m7.749 0h1.55m37.19 0h1.55m24.8 0h1.55m7.749 0h1.55m27.9 0h1.55m91.44 0h1.55m17.05 0h1.55m4.649 0h1.55m15.5 0h1.55M98.55 1457.58h3.099m23.25 0h4.649m6.199 0h1.55m17.05 0h1.55m4.649 0h1.55m15.5 0h1.55m7.749 0h1.55m7.749 0h3.099m7.749 0h1.55m15.5 0h1.55m6.199 0h1.55m4.649 0h1.55m1.55 0h3.099m3.099 0h1.55m1.55 0h1.55m6.199 0h1.55m15.5 0h3.099m10.85 0h1.55m7.749 0h1.55m51.14 0h1.55m21.7 0h1.55m20.15 0h1.55m48.04 0h3.099m43.39 0h1.55m29.45 0h1.55m24.8 0h1.55m57.34 0h6.199m20.15 0h1.55m7.749 0h1.55m17.05 0h1.55M98.55 1471.62h3.099m12.4 0h1.55m3.099 0h3.099m15.5 0h3.099m27.9 0h1.55m1.55 0h3.099m9.298 0h3.099m1.55 0h1.55m4.649 0h3.099m7.749 0h1.55m1.55 0h1.55m4.649 0h3.099m1.55 0h1.55m23.25 0h1.55m3.099 0h1.55m3.099 0h1.55m15.5 0h9.298m1.55 0h3.099m4.649 0h3.099m10.85 0h3.099m1.55 0h1.55m136.4 0h1.55m4.649 0h1.55m24.8 0h1.55m4.649 0h3.099m51.14 0h1.55m34.09 0h1.55m23.25 0h1.55m10.85 0h1.55m1.55 0h3.099m20.15 0h1.55m61.99 0h1.55M98.55 1485.66h1.55m26.35 0h1.55m13.95 0h1.55m1.55 0h1.55m15.5 0h1.55m9.298 0h1.55m10.85 0h1.55m15.5 0h1.55m15.5 0h1.55m15.5 0h3.099m1.55 0h4.649m3.099 0h1.55m20.15 0h1.55m32.54 0h4.649m3.099 0h1.55m4.649 0h1.55m24.8 0h1.55m29.45 0h1.55m10.85 0h4.649m41.84 0h1.55m4.649 0h3.099m1.55 0h1.55m20.15 0h1.55m13.95 0h1.55m24.8 0h1.55m3.099 0h1.55m6.199 0h3.099m7.749 0h1.55m18.6 0h1.55m23.25 0h1.55m18.6 0h1.55m51.14 0h1.55m13.95 0h1.55m35.64 0h1.55M104.7 1499.7h1.55m15.5 0h1.55m32.54 0h3.099m1.55 0h1.55m10.85 0h4.649m23.25 0h1.55m17.05 0h3.099m18.6 0h3.099m4.649 0h1.55m23.25 0h3.099m1.55 0h1.55m4.649 0h4.649m9.298 0h4.649m192.2 0h3.099m1.55 0h1.55m6.199 0h1.55m15.5 0h1.55m20.15 0h1.55m46.49 0h1.55m37.19 0h1.55m18.6 0h1.55m1.55 0h1.55m37.19 0h1.55M93.9 1513.74h1.55m9.298 0h1.55m17.05 0h1.55m6.199 0h3.099m26.35 0h1.55m3.099 0h1.55m9.298 0h1.55m18.6 0h1.55m15.5 0h1.55m9.298 0h3.099m6.199 0h1.55m3.099 0h1.55m1.55 0h1.55m4.649 0h1.55m7.749 0h1.55m38.74 0h3.099m15.5 0h3.099m23.25 0h1.55m68.19 0h1.55m48.04 0h1.55m34.09 0h1.55m30.99 0h1.55m32.54 0h1.55m21.7 0h1.55m71.29 0h3.099m6.199 0h1.55m1.55 0h1.55m20.15 0h1.55m7.749 0h1.55M134.2 1527.78h1.55m15.5 0h1.55m1.55 0h3.099m13.95 0h1.55m1.55 0h1.55m35.64 0h3.099m1.55 0h3.099m4.649 0h1.55m15.5 0h1.55m7.749 0h1.55m4.649 0h3.099m15.5 0h1.55m17.05 0h3.099m1.55 0h1.55m3.099 0h1.55m9.298 0h1.55m173.6 0h1.55m44.94 0h1.55m20.15 0h1.55m32.54 0h1.55m77.49 0h1.55M124.9 1541.82h1.55m18.6 0h1.55m60.44 0h3.099m23.25 0h1.55m1.55 0h1.55m26.35 0h1.55m9.298 0h3.099m3.099 0h3.099m4.649 0h3.099m6.199 0h1.55m41.84 0h1.55m30.99 0h3.099m18.6 0h1.55m57.34 0h3.099m3.099 0h1.55m3.099 0h1.55m4.649 0h1.55m102.3 0h3.099m30.99 0h3.099m26.35 0h3.099m49.59 0h1.55M110.9 1555.86h1.55m24.8 0h3.099m60.44 0h1.55m24.8 0h1.55m15.5 0h1.55m4.649 0h1.55m1.55 0h1.55m3.099 0h1.55m1.55 0h1.55m9.298 0h1.55m6.199 0h1.55m1.55 0h1.55m6.199 0h1.55m4.649 0h1.55m3.099 0h1.55m1.55 0h1.55m12.4 0h1.55m6.199 0h1.55m17.05 0h1.55m7.749 0h1.55m1.55 0h1.55m9.298 0h1.55m21.7 0h1.55m27.9 0h1.55m4.649 0h1.55m58.89 0h1.55m6.199 0h1.55m12.4 0h1.55m6.199 0h1.55m12.4 0h1.55m4.649 0h3.099m18.6 0h4.649m43.39 0h3.099m3.099 0h1.55m7.749 0h1.55m17.05 0h1.55m46.49 0h1.55M101.6 1569.9h3.099m54.24 0h1.55m34.09 0h1.55m32.54 0h1.55m4.649 0h1.55m13.95 0h1.55m3.099 0h1.55m3.099 0h1.55m1.55 0h1.55m4.649 0h3.099m7.749 0h1.55m3.099 0h1.55m3.099 0h3.099m6.199 0h1.55m4.649 0h3.099m17.05 0h1.55m9.298 0h1.55m20.15 0h1.55m60.44 0h1.55m83.69 0h1.55m40.29 0h3.099m7.749 0h3.099m23.25 0h1.55m9.298 0h1.55m4.649 0h1.55m21.7 0h1.55m7.749 0h3.099m6.199 0h4.649m4.649 0h3.099m4.649 0h1.55M95.45 1583.94h1.55m3.099 0h1.55m26.35 0h1.55m6.199 0h4.649m3.099 0h1.55m4.649 0h1.55m1.55 0h1.55m29.45 0h1.55m12.4 0h1.55m13.95 0h1.55m1.55 0h3.099m6.199 0h3.099m1.55 0h3.099m1.55 0h1.55m9.298 0h1.55m1.55 0h3.099m1.55 0h1.55m3.099 0h3.099m7.749 0h1.55m3.099 0h4.649m1.55 0h1.55m3.099 0h1.55m1.55 0h3.099m1.55 0h1.55m7.749 0h1.55m7.749 0h1.55m6.199 0h1.55m106.9 0h1.55m27.9 0h1.55m9.298 0h1.55m38.74 0h1.55m24.8 0h1.55m4.649 0h1.55m3.099 0h1.55m1.55 0h3.099m26.35 0h1.55m13.95 0h1.55m6.199 0h1.55m4.649 0h1.55m6.199 0h1.55m9.298 0h1.55m7.749 0h1.55m44.94 0h3.099m1.55 0h1.55m3.099 0h1.55M93.9 1597.98h1.55m3.099 0h1.55m6.199 0h1.55m30.99 0h1.55m40.29 0h1.55m10.85 0h1.55m20.15 0h1.55m9.298 0h1.55m1.55 0h1.55m3.099 0h1.55m27.9 0h3.099m34.09 0h1.55m3.099 0h1.55m119.3 0h1.55m24.8 0h1.55m23.25 0h1.55m17.05 0h1.55m32.54 0h1.55m4.649 0h4.649m12.4 0h1.55m7.749 0h1.55m17.05 0h1.55m4.649 0h3.099m35.64 0h1.55m20.15 0h1.55m10.85 0h1.55M123.3 1612.02h1.55m26.35 0h1.55m6.199 0h1.55m6.199 0h1.55m4.649 0h1.55m3.099 0h1.55m58.89 0h1.55m29.45 0h1.55m4.649 0h1.55m13.95 0h1.55m1.55 0h1.55m17.05 0h1.55m110 0h4.649m6.199 0h1.55m18.6 0h1.55m20.15 0h1.55m57.34 0h1.55m35.64 0h1.55m97.63 0h1.55m3.099 0h1.55m20.15 0h1.55M92.35 1626.06h1.55m4.649 0h1.55m111.6 0h1.55m13.95 0h1.55m48.04 0h1.55m20.15 0h3.099m6.199 0h1.55m1.55 0h1.55m6.199 0h1.55m40.29 0h3.099m161.2 0h1.55m7.749 0h4.649m7.749 0h1.55m1.55 0h1.55m9.298 0h1.55m12.4 0h1.55m9.298 0h1.55m32.54 0h3.099m43.39 0h1.55m26.35 0h1.55M148.1 1640.1h3.099m3.099 0h1.55m44.94 0h1.55m20.15 0h1.55m3.099 0h1.55m58.89 0h1.55m13.95 0h1.55m100.7 0h1.55m75.94 0h1.55m52.69 0h1.55m43.39 0h1.55m21.7 0h1.55m12.4 0h1.55m7.749 0h3.099m15.5 0h1.55m3.099 0h1.55M146.6 1654.14h1.55m17.05 0h1.55m41.84 0h1.55m1.55 0h3.099m21.7 0h1.55m24.8 0h3.099m1.55 0h1.55m46.49 0h1.55m209.2 0h1.55m108.5 0h1.55m32.54 0h1.55M143.5 1668.18h1.55m3.099 0h1.55m12.4 0h1.55m37.19 0h1.55m10.85 0h1.55m3.099 0h4.649m10.85 0h1.55m7.749 0h3.099m41.84 0h1.55m89.89 0h1.55m60.44 0h1.55m37.19 0h1.55m18.6 0h1.55m83.69 0h1.55m3.099 0h1.55m26.35 0h1.55M92.35 1682.22h3.099m9.298 0h1.55m7.749 0h1.55m7.749 0h1.55m1.55 0h1.55m120.9 0h1.55m4.649 0h1.55m35.64 0h1.55m187.5 0h1.55m72.84 0h1.55m9.298 0h1.55m110 0h1.55m1.55 0h6.199M93.9 1696.26h3.099m89.89 0h1.55m12.4 0h1.55m83.69 0h1.55m203 0h1.55m32.54 0h1.55m79.04 0h1.55M107.8 1710.3h1.55m89.89 0h1.55m24.8 0h1.55M183.8 1724.34h1.55m66.64 0h1.55m269.7 0h3.099m88.34 0h1.55M132.6 1738.38h1.55m358 0h1.55m74.39 0h1.55M152.8 1752.42h1.55m1.55 0h1.55m96.08 0h3.099m252.6 0h1.55m46.49 0h1.55m65.09 0h3.099M676.6 1766.46h1.55m10.85 0h1.55m9.298 0h4.649M247.3 1780.5h3.099m240.2 0h3.099m131.7 0h1.55M324.8 1808.58h1.55M95.45 1822.62h1.55m13.95 0h1.55m46.49 0h3.099m94.53 0h1.55m69.74 0h1.55m27.9 0h1.55m89.89 0h3.099m29.45 0h3.099m29.45 0h1.55m15.5 0h1.55m83.69 0h1.55m10.85 0h1.55m49.59 0h1.55m13.95 0h3.099M93.9 1836.66h1.55m13.95 0h1.55m10.85 0h3.099m4.649 0h1.55m72.84 0h1.55m6.199 0h1.55m30.99 0h1.55m20.15 0h1.55m32.54 0h3.099m125.5 0h1.55m34.09 0h1.55m17.05 0h1.55m12.4 0h1.55m6.199 0h3.099m12.4 0h4.649m13.95 0h1.55m12.4 0h1.55m3.099 0h1.55m100.7 0h1.55m7.749 0h1.55m4.649 0h1.55M107.8 1850.7h3.099m68.19 0h1.55m51.14 0h1.55m32.54 0h1.55m13.95 0h1.55m6.199 0h1.55m58.89 0h1.55m58.89 0h3.099m88.34 0h1.55m26.35 0h1.55m35.64 0h1.55M98.55 1864.74h3.099m6.199 0h1.55m60.44 0h3.099m13.95 0h1.55m63.54 0h1.55m213.9 0h1.55m89.89 0h1.55m13.95 0h1.55m30.99 0h1.55m13.95 0h1.55m3.099 0h1.55m20.15 0h1.55m21.7 0h1.55M101.6 1878.78h3.099m9.298 0h3.099m21.7 0h3.099m66.64 0h1.55m292.9 0h1.55m10.85 0h1.55m86.79 0h1.55m38.74 0h1.55m4.649 0h1.55M171.4 1892.82h1.55m17.05 0h1.55m12.4 0h1.55m15.5 0h3.099m35.64 0h1.55m6.199 0h1.55m3.099 0h1.55m6.199 0h1.55m4.649 0h1.55m71.29 0h1.55m133.3 0h1.55m37.19 0h1.55m3.099 0h1.55m27.9 0h1.55m21.7 0h3.099m32.54 0h4.649m9.298 0h1.55m61.99 0h1.55M100.1 1906.86h1.55m13.95 0h1.55m20.15 0h1.55m13.95 0h3.099m58.89 0h1.55m27.9 0h1.55m7.749 0h1.55m34.09 0h1.55m224.7 0h1.55m66.64 0h1.55m43.39 0h3.099m10.85 0h1.55m30.99 0h1.55m9.298 0h3.099m7.749 0h3.099M90.8 1920.9h1.55m49.59 0h1.55m27.9 0h4.649m21.7 0h1.55m46.49 0h1.55m9.298 0h1.55m46.49 0h1.55m4.649 0h3.099m4.649 0h1.55m77.49 0h1.55m116.2 0h1.55m21.7 0h1.55m66.64 0h1.55m20.15 0h1.55M118.7 1934.94h3.099m12.4 0h1.55m7.749 0h3.099m71.29 0h1.55m6.199 0h1.55m3.099 0h1.55m6.199 0h1.55m17.05 0h1.55m141 0h1.55m248 0h1.55m15.5 0h1.55M128 1948.98h1.55m35.64 0h3.099m1.55 0h3.099m26.35 0h1.55m35.64 0h1.55m30.99 0h1.55m10.85 0h1.55m10.85 0h1.55m3.099 0h1.55m6.199 0h1.55m116.2 0h1.55m27.9 0h1.55m51.14 0h1.55m17.05 0h1.55m57.34 0h1.55m44.94 0h3.099m3.099 0h3.099m3.099 0h1.55m26.35 0h1.55m24.8 0h1.55M128 1963.02h1.55m17.05 0h1.55m9.298 0h1.55m15.5 0h1.55m12.4 0h1.55m1.55 0h1.55m1.55 0h3.099m6.199 0h1.55m15.5 0h1.55m6.199 0h1.55m17.05 0h1.55m4.649 0h1.55m6.199 0h1.55m38.74 0h1.55m61.99 0h1.55m99.18 0h1.55m29.45 0h1.55m91.44 0h3.099m6.199 0h1.55m12.4 0h1.55m37.19 0h1.55m24.8 0h1.55m3.099 0h1.55m17.05 0h1.55M92.35 1977.06h1.55m37.19 0h1.55m6.199 0h1.55m3.099 0h1.55m125.5 0h1.55m20.15 0h1.55m9.298 0h1.55m10.85 0h1.55m57.34 0h1.55m34.09 0h1.55m38.74 0h1.55m12.4 0h1.55m15.5 0h1.55m26.35 0h1.55m7.749 0h1.55m10.85 0h1.55m24.8 0h1.55m6.199 0h4.649m51.14 0h1.55m23.25 0h1.55m15.5 0h1.55m6.199 0h4.649m26.35 0h1.55M95.45 1991.1h3.099m12.4 0h1.55m1.55 0h1.55m20.15 0h1.55m60.44 0h1.55m61.99 0h1.55m4.649 0h1.55m1.55 0h1.55m26.35 0h1.55m131.7 0h1.55m12.4 0h3.099m7.749 0h3.099m61.99 0h1.55m117.8 0h1.55m52.69 0h1.55M90.8 2005.14h1.55m20.15 0h1.55m74.39 0h1.55m9.298 0h1.55m9.298 0h1.55m12.4 0h1.55m6.199 0h3.099m26.35 0h3.099m9.298 0h1.55m1.55 0h1.55m1.55 0h4.649m7.749 0h1.55m29.45 0h1.55m9.298 0h1.55m15.5 0h1.55m4.649 0h1.55m108.5 0h1.55m37.19 0h1.55m58.89 0h1.55m77.49 0h3.099m18.6 0h1.55m3.099 0h3.099m4.649 0h4.649M165.2 2019.18h1.55m12.4 0h1.55m77.49 0h1.55m32.54 0h1.55m10.85 0h1.55m212.3 0h4.649m38.74 0h3.099m20.15 0h1.55m9.298 0h1.55m30.99 0h1.55m3.099 0h1.55m23.25 0h1.55m34.09 0h1.55M162.1 2033.22h3.099m10.85 0h1.55m52.69 0h1.55m1.55 0h1.55m15.5 0h1.55m3.099 0h3.099m26.35 0h3.099m4.649 0h1.55m1.55 0h3.099m1.55 0h4.649m15.5 0h1.55m13.95 0h1.55m29.45 0h3.099m40.29 0h1.55m4.649 0h1.55m12.4 0h3.099m41.84 0h3.099m162.7 0h1.55m9.298 0h1.55m1.55 0h1.55M185.3 2047.26h1.55m51.14 0h1.55m21.7 0h1.55m6.199 0h1.55m12.4 0h1.55m4.649 0h1.55m51.14 0h1.55m13.95 0h1.55m15.5 0h1.55m1.55 0h1.55m54.24 0h1.55m46.49 0h1.55m49.59 0h1.55m4.649 0h1.55m4.649 0h1.55m92.98 0h1.55m3.099 0h1.55M132.6 2061.3h1.55m21.7 0h1.55m27.9 0h1.55m63.54 0h1.55m4.649 0h3.099m9.298 0h1.55m6.199 0h1.55m9.298 0h7.749m6.199 0h1.55m9.298 0h3.099m15.5 0h1.55m15.5 0h1.55m34.09 0h1.55m165.8 0h1.55m18.6 0h1.55m34.09 0h1.55m12.4 0h1.55m6.199 0h1.55m46.49 0h1.55m15.5 0h3.099M100.1 2075.34h1.55m65.09 0h1.55m27.9 0h1.55m10.85 0h1.55m12.4 0h1.55m27.9 0h1.55m1.55 0h1.55m7.749 0h1.55m30.99 0h3.099m12.4 0h1.55m9.298 0h1.55m51.14 0h1.55m72.84 0h1.55m35.64 0h1.55m15.5 0h1.55m37.19 0h1.55m103.8 0h1.55M100.1 2089.38h1.55m54.24 0h3.099m34.09 0h1.55m13.95 0h1.55m24.8 0h1.55m4.649 0h1.55m6.199 0h1.55m4.649 0h3.099m9.298 0h1.55m7.749 0h3.099m18.6 0h4.649m1.55 0h1.55m13.95 0h1.55m103.8 0h1.55m21.7 0h1.55m69.74 0h1.55m20.15 0h1.55m23.25 0h3.099m21.7 0h1.55m51.14 0h1.55m46.49 0h3.099M106.3 2103.42h1.55m147.2 0h1.55m26.35 0h1.55m1.55 0h1.55m7.749 0h1.55m10.85 0h1.55m49.59 0h3.099m65.09 0h1.55m32.54 0h3.099m21.7 0h1.55m63.54 0h1.55m21.7 0h3.099m13.95 0h1.55m12.4 0h1.55m24.8 0h1.55M90.8 2117.46h1.55m159.6 0h1.55m3.099 0h1.55m10.85 0h1.55m13.95 0h1.55m21.7 0h3.099m6.199 0h1.55m6.199 0h3.099m9.298 0h3.099m1.55 0h1.55m35.64 0h1.55m114.7 0h1.55m32.54 0h3.099m21.7 0h1.55m54.24 0h1.55m3.099 0h1.55m12.4 0h1.55M245.8 2131.5h3.099m230.9 0h1.55m4.649 0h1.55m9.298 0h1.55m69.74 0h3.099m82.14 0h1.55m18.6 0h4.649m23.25 0h1.55M95.45 2145.54h3.099m1.55 0h3.099m13.95 0h1.55m1.55 0h1.55m4.649 0h3.099m170.5 0h1.55m69.74 0h1.55m69.74 0h3.099m176.7 0h1.55m74.39 0h1.55M97 2159.58h3.099m12.4 0h1.55m9.298 0h1.55m4.649 0h3.099m3.099 0h1.55m4.649 0h1.55m1.55 0h1.55m10.85 0h1.55m1.55 0h3.099m4.649 0h3.099m3.099 0h1.55m3.099 0h3.099m1.55 0h1.55m1.55 0h6.199m4.649 0h4.649m6.199 0h1.55m7.749 0h3.099m6.199 0h4.649m7.749 0h1.55m9.298 0h1.55m6.199 0h4.649m1.55 0h3.099m7.749 0h1.55m4.649 0h1.55m7.749 0h1.55m3.099 0h1.55m1.55 0h1.55m12.4 0h3.099m4.649 0h1.55m1.55 0h1.55m12.4 0h1.55m35.64 0h1.55m7.749 0h3.099m15.5 0h3.099m15.5 0h3.099m13.95 0h1.55m35.64 0h1.55m1.55 0h1.55m6.199 0h4.649m24.8 0h1.55m1.55 0h1.55m13.95 0h1.55m4.649 0h3.099m1.55 0h3.099m1.55 0h1.55m4.649 0h1.55m4.649 0h1.55m10.85 0h1.55m1.55 0h3.099m4.649 0h1.55m12.4 0h3.099m1.55 0h1.55m1.55 0h1.55m4.649 0h1.55m9.298 0h1.55m6.199 0h1.55m1.55 0h3.099m24.8 0h1.55m6.199 0h1.55m7.749 0h1.55m3.099 0h6.199m1.55 0h1.55m1.55 0h3.099m3.099 0h1.55M90.8 2173.62h1.55m1.55 0h4.649m7.749 0h1.55m12.4 0h4.649m1.55 0h3.099m12.4 0h3.099m6.199 0h1.55m3.099 0h3.099m1.55 0h1.55m6.199 0h3.099m1.55 0h1.55m6.199 0h1.55m9.298 0h1.55m9.298 0h1.55m1.55 0h3.099m9.298 0h3.099m4.649 0h1.55m13.95 0h3.099m12.4 0h1.55m3.099 0h1.55m9.298 0h1.55m3.099 0h1.55m1.55 0h1.55m3.099 0h1.55m3.099 0h3.099m6.199 0h1.55m12.4 0h3.099m4.649 0h3.099m9.298 0h1.55m26.35 0h1.55m29.45 0h3.099m27.9 0h1.55m12.4 0h1.55m29.45 0h1.55m3.099 0h1.55m3.099 0h1.55m9.298 0h3.099m12.4 0h1.55m6.199 0h1.55m7.749 0h1.55m1.55 0h4.649m7.749 0h3.099m4.649 0h1.55m1.55 0h3.099m6.199 0h1.55m1.55 0h1.55m7.749 0h4.649m4.649 0h1.55m3.099 0h1.55m10.85 0h1.55m6.199 0h1.55m3.099 0h3.099m1.55 0h1.55m4.649 0h1.55m3.099 0h4.649m3.099 0h1.55m9.298 0h1.55m1.55 0h1.55m13.95 0h1.55m1.55 0h3.099m18.6 0h1.55m4.649 0h3.099m1.55 0h6.199M92.35 2187.66h4.649m6.199 0h1.55m9.298 0h1.55m10.85 0h1.55m4.649 0h3.099m3.099 0h3.099m1.55 0h3.099m9.298 0h1.55m3.099 0h1.55m1.55 0h1.55m1.55 0h1.55m3.099 0h4.649m20.15 0h1.55m1.55 0h1.55m15.5 0h1.55m1.55 0h1.55m9.298 0h1.55m7.749 0h1.55m13.95 0h1.55m6.199 0h1.55m7.749 0h1.55m7.749 0h1.55m18.6 0h1.55m3.099 0h4.649m4.649 0h4.649m15.5 0h1.55m15.5 0h4.649m4.649 0h1.55m30.99 0h1.55m12.4 0h1.55m15.5 0h1.55m18.6 0h1.55m1.55 0h1.55m13.95 0h3.099m15.5 0h1.55m4.649 0h1.55m3.099 0h1.55m9.298 0h3.099m6.199 0h4.649m1.55 0h1.55m4.649 0h1.55m6.199 0h1.55m6.199 0h1.55m3.099 0h1.55m12.4 0h1.55m10.85 0h1.55m3.099 0h3.099m1.55 0h1.55m3.099 0h3.099m7.749 0h1.55m4.649 0h3.099m3.099 0h4.649m6.199 0h1.55m3.099 0h1.55m3.099 0h6.199m9.298 0h1.55m3.099 0h3.099m3.099 0h1.55m3.099 0h1.55m1.55 0h3.099m1.55 0h1.55m10.85 0h1.55m9.298 0h1.55M90.8 2201.7h1.55m4.649 0h6.199m3.099 0h1.55m21.7 0h3.099m3.099 0h3.099m26.35 0h1.55m10.85 0h1.55m3.099 0h3.099m6.199 0h1.55m7.749 0h4.649m6.199 0h3.099m7.749 0h3.099m17.05 0h1.55m7.749 0h1.55m9.298 0h1.55m1.55 0h1.55m4.649 0h1.55m1.55 0h3.099m20.15 0h1.55m6.199 0h1.55m1.55 0h1.55m6.199 0h3.099m1.55 0h1.55m3.099 0h1.55m3.099 0h1.55m1.55 0h1.55m7.749 0h3.099m3.099 0h3.099m13.95 0h1.55m1.55 0h1.55m10.85 0h1.55m26.35 0h1.55m12.4 0h4.649m1.55 0h4.649m3.099 0h3.099m4.649 0h1.55m1.55 0h1.55m3.099 0h1.55m3.099 0h1.55m3.099 0h1.55m26.35 0h1.55m1.55 0h1.55m6.199 0h4.649m1.55 0h1.55m15.5 0h1.55m10.85 0h1.55m4.649 0h3.099m7.749 0h3.099m15.5 0h3.099m4.649 0h1.55m18.6 0h1.55m3.099 0h1.55m10.85 0h6.199m9.298 0h1.55m6.199 0h4.649m9.298 0h1.55m7.749 0h4.649m1.55 0h3.099m1.55 0h1.55m1.55 0h1.55M110.9 2215.74h4.649m3.099 0h1.55m9.298 0h1.55m15.5 0h1.55m6.199 0h1.55m1.55 0h1.55m17.05 0h1.55m1.55 0h4.649m7.749 0h3.099m4.649 0h1.55m4.649 0h3.099m10.85 0h3.099m1.55 0h1.55m3.099 0h1.55m9.298 0h1.55m7.749 0h1.55m6.199 0h1.55m3.099 0h3.099m3.099 0h1.55m12.4 0h1.55m1.55 0h4.649m4.649 0h1.55m4.649 0h1.55m4.649 0h1.55m7.749 0h1.55m1.55 0h1.55m4.649 0h3.099m1.55 0h1.55m13.95 0h1.55m17.05 0h1.55m3.099 0h1.55m1.55 0h1.55m63.54 0h1.55m17.05 0h3.099m6.199 0h3.099m17.05 0h1.55m12.4 0h1.55m7.749 0h3.099m13.95 0h3.099m6.199 0h4.649m1.55 0h1.55m9.298 0h1.55m1.55 0h1.55m9.298 0h3.099m3.099 0h1.55m12.4 0h4.649m20.15 0h4.649m1.55 0h1.55m1.55 0h1.55m6.199 0h1.55m4.649 0h1.55m15.5 0h1.55m10.85 0h1.55m3.099 0h3.099m9.298 0h1.55m4.649 0h4.649m6.199 0h1.55M92.35 2229.78h1.55m30.99 0h1.55m9.298 0h6.199m7.749 0h3.099m7.749 0h1.55m6.199 0h1.55m6.199 0h1.55m4.649 0h1.55m4.649 0h6.199m10.85 0h1.55m3.099 0h1.55m3.099 0h3.099m9.298 0h1.55m15.5 0h3.099m1.55 0h3.099m4.649 0h3.099m9.298 0h1.55m4.649 0h3.099m1.55 0h4.649m1.55 0h3.099m4.649 0h1.55m7.749 0h1.55m12.4 0h4.649m17.05 0h1.55m10.85 0h3.099m26.35 0h1.55m13.95 0h3.099m18.6 0h1.55m18.6 0h1.55m13.95 0h1.55m35.64 0h1.55m61.99 0h1.55m30.99 0h1.55m3.099 0h1.55m24.8 0h1.55m12.4 0h3.099m40.29 0h1.55m6.199 0h1.55m13.95 0h1.55M95.45 2243.82h4.649m3.099 0h3.099m10.85 0h1.55m15.5 0h1.55m1.55 0h1.55m7.749 0h3.099m1.55 0h3.099m3.099 0h1.55m13.95 0h1.55m1.55 0h4.649m12.4 0h1.55m1.55 0h3.099m6.199 0h3.099m10.85 0h1.55m9.298 0h3.099m1.55 0h1.55m7.749 0h1.55m4.649 0h1.55m7.749 0h1.55m13.95 0h1.55m4.649 0h1.55m10.85 0h1.55m9.298 0h3.099m4.649 0h1.55m6.199 0h6.199m49.59 0h1.55m20.15 0h1.55m61.99 0h3.099m23.25 0h3.099m4.649 0h1.55m9.298 0h1.55m10.85 0h1.55m4.649 0h3.099m17.05 0h1.55m1.55 0h1.55m7.749 0h1.55m6.199 0h3.099m26.35 0h1.55m24.8 0h1.55m17.05 0h4.649m3.099 0h1.55m6.199 0h3.099m37.19 0h1.55m3.099 0h1.55M121.8 2257.86h1.55m12.4 0h3.099m3.099 0h4.649m3.099 0h1.55m21.7 0h3.099m12.4 0h1.55m21.7 0h1.55m1.55 0h3.099m3.099 0h1.55m3.099 0h1.55m3.099 0h3.099m1.55 0h3.099m6.199 0h3.099m6.199 0h3.099m7.749 0h1.55m1.55 0h1.55m3.099 0h3.099m1.55 0h4.649m1.55 0h4.649m3.099 0h1.55m3.099 0h3.099m1.55 0h3.099m12.4 0h4.649m17.05 0h1.55m4.649 0h1.55m7.749 0h4.649m44.94 0h1.55m10.85 0h3.099m15.5 0h3.099m3.099 0h1.55m18.6 0h1.55m7.749 0h3.099m13.95 0h1.55m6.199 0h3.099m57.34 0h1.55m10.85 0h6.199m52.69 0h1.55m1.55 0h4.649m4.649 0h1.55m23.25 0h1.55m27.9 0h4.649m1.55 0h1.55M101.6 2271.9h1.55m4.649 0h1.55m4.649 0h1.55m26.35 0h1.55m1.55 0h10.85m4.649 0h1.55m32.54 0h1.55m1.55 0h1.55m1.55 0h1.55m10.85 0h1.55m10.85 0h4.649m18.6 0h6.199m13.95 0h1.55m9.298 0h3.099m3.099 0h1.55m3.099 0h1.55m6.199 0h1.55m4.649 0h6.199m3.099 0h1.55m10.85 0h1.55m18.6 0h1.55m21.7 0h3.099m7.749 0h1.55m10.85 0h1.55m10.85 0h1.55m13.95 0h1.55m10.85 0h1.55m1.55 0h1.55m4.649 0h1.55m7.749 0h1.55m1.55 0h1.55m3.099 0h4.649m40.29 0h1.55m13.95 0h1.55m4.649 0h3.099m4.649 0h1.55m1.55 0h4.649m3.099 0h1.55m17.05 0h3.099m9.298 0h3.099m40.29 0h1.55m29.45 0h1.55m15.5 0h1.55M97 2285.94h1.55m7.749 0h1.55m6.199 0h1.55m34.09 0h1.55m32.54 0h1.55m1.55 0h3.099m3.099 0h3.099m9.298 0h3.099m1.55 0h1.55m4.649 0h3.099m1.55 0h1.55m9.298 0h7.749m10.85 0h1.55m3.099 0h4.649m6.199 0h1.55m27.9 0h3.099m4.649 0h1.55m6.199 0h3.099m3.099 0h1.55m1.55 0h1.55m21.7 0h1.55m6.199 0h1.55m23.25 0h3.099m4.649 0h1.55m9.298 0h1.55m34.09 0h1.55m27.9 0h1.55m66.64 0h1.55m6.199 0h1.55m40.29 0h1.55m24.8 0h1.55m21.7 0h1.55m32.54 0h1.55m3.099 0h1.55m1.55 0h1.55m7.749 0h1.55M90.8 2299.98h1.55m13.95 0h3.099m20.15 0h1.55m24.8 0h1.55m13.95 0h1.55m13.95 0h1.55m4.649 0h1.55m4.649 0h1.55m6.199 0h1.55m9.298 0h1.55m1.55 0h1.55m7.749 0h3.099m12.4 0h1.55m15.5 0h6.199m4.649 0h1.55m3.099 0h6.199m1.55 0h1.55m4.649 0h1.55m1.55 0h1.55m1.55 0h1.55m10.85 0h1.55m7.749 0h1.55m44.94 0h4.649m24.8 0h1.55m13.95 0h1.55m6.199 0h3.099m20.15 0h3.099m34.09 0h1.55m9.298 0h3.099m37.19 0h1.55m24.8 0h3.099m4.649 0h1.55m15.5 0h3.099m9.298 0h1.55m15.5 0h1.55m23.25 0h1.55m13.95 0h1.55m3.099 0h3.099m7.749 0h1.55m13.95 0h1.55m6.199 0h3.099m3.099 0h1.55M90.8 2314.02h3.099m12.4 0h1.55m23.25 0h4.649m54.24 0h3.099m1.55 0h1.55m4.649 0h1.55m3.099 0h1.55m3.099 0h6.199m1.55 0h1.55m10.85 0h1.55m10.85 0h1.55m4.649 0h4.649m12.4 0h1.55m6.199 0h1.55m6.199 0h1.55m4.649 0h1.55m6.199 0h3.099m3.099 0h6.199m7.749 0h1.55m51.14 0h1.55m21.7 0h1.55m24.8 0h1.55m23.25 0h3.099m23.25 0h1.55m4.649 0h1.55m7.749 0h1.55m1.55 0h1.55m7.749 0h1.55m24.8 0h1.55m9.298 0h3.099m1.55 0h1.55m3.099 0h1.55m1.55 0h1.55m30.99 0h1.55m15.5 0h3.099m18.6 0h1.55m4.649 0h1.55m15.5 0h1.55m13.95 0h3.099m29.45 0h1.55M140.4 2328.06h1.55m35.64 0h1.55m7.749 0h1.55m13.95 0h1.55m12.4 0h1.55m7.749 0h3.099m3.099 0h1.55m3.099 0h1.55m4.649 0h1.55m4.649 0h3.099m10.85 0h1.55m4.649 0h1.55m21.7 0h3.099m13.95 0h1.55m1.55 0h1.55m6.199 0h1.55m23.25 0h3.099m7.749 0h1.55m7.749 0h1.55m7.749 0h1.55m7.749 0h3.099m43.39 0h1.55m43.39 0h1.55m6.199 0h3.099m3.099 0h3.099m4.649 0h1.55m4.649 0h4.649m1.55 0h1.55m6.199 0h3.099m4.649 0h4.649m1.55 0h1.55m1.55 0h4.649m1.55 0h1.55m6.199 0h4.649m58.89 0h7.749m17.05 0h3.099m10.85 0h3.099m12.4 0h1.55m7.749 0h3.099m1.55 0h1.55m6.199 0h1.55m9.298 0h1.55M98.55 2342.1h1.55m38.74 0h1.55m1.55 0h1.55m29.45 0h4.649m12.4 0h1.55m6.199 0h1.55m12.4 0h1.55m6.199 0h4.649m6.199 0h3.099m9.298 0h1.55m12.4 0h1.55m9.298 0h6.199m7.749 0h1.55m1.55 0h3.099m1.55 0h4.649m3.099 0h4.649m7.749 0h1.55m4.649 0h1.55m43.39 0h3.099m6.199 0h1.55m10.85 0h1.55m10.85 0h1.55m1.55 0h1.55m65.09 0h3.099m3.099 0h1.55m4.649 0h1.55m10.85 0h4.649m3.099 0h1.55m1.55 0h1.55m12.4 0h6.199m1.55 0h1.55m4.649 0h1.55m7.749 0h4.649m6.199 0h1.55m7.749 0h1.55m7.749 0h1.55m23.25 0h1.55m18.6 0h1.55m1.55 0h1.55m34.09 0h1.55m10.85 0h1.55m9.298 0h1.55m17.05 0h3.099m3.099 0h1.55M112.5 2356.14h1.55m72.84 0h1.55m3.099 0h1.55m1.55 0h1.55m6.199 0h1.55m1.55 0h1.55m15.5 0h6.199m10.85 0h1.55m6.199 0h1.55m3.099 0h1.55m3.099 0h1.55m17.05 0h1.55m3.099 0h3.099m1.55 0h1.55m1.55 0h1.55m4.649 0h3.099m6.199 0h1.55m71.29 0h3.099m103.8 0h4.649m3.099 0h1.55m9.298 0h4.649m4.649 0h1.55m3.099 0h1.55m4.649 0h1.55m17.05 0h3.099m1.55 0h1.55m3.099 0h1.55m23.25 0h1.55m6.199 0h1.55m6.199 0h1.55m32.54 0h1.55m35.64 0h3.099m10.85 0h1.55m7.749 0h1.55m10.85 0h1.55M92.35 2370.18h3.099m3.099 0h1.55m12.4 0h1.55m3.099 0h1.55m6.199 0h3.099m1.55 0h1.55m1.55 0h3.099m18.6 0h1.55m4.649 0h1.55m15.5 0h1.55m1.55 0h1.55m3.099 0h1.55m6.199 0h1.55m13.95 0h1.55m1.55 0h1.55m1.55 0h4.649m4.649 0h1.55m6.199 0h3.099m3.099 0h3.099m1.55 0h3.099m17.05 0h1.55m18.6 0h1.55m15.5 0h1.55m1.55 0h1.55m13.95 0h1.55m3.099 0h1.55m27.9 0h1.55m30.99 0h4.649m6.199 0h3.099m17.05 0h1.55m1.55 0h1.55m4.649 0h1.55m10.85 0h1.55m3.099 0h1.55m3.099 0h6.199m29.45 0h1.55m4.649 0h1.55m3.099 0h1.55m23.25 0h3.099m18.6 0h1.55m44.94 0h3.099m27.9 0h4.649m3.099 0h1.55m34.09 0h3.099m15.5 0h1.55m15.5 0h1.55M101.6 2384.22h3.099m3.099 0h1.55m4.649 0h1.55m4.649 0h1.55m3.099 0h1.55m17.05 0h1.55m7.749 0h1.55m7.749 0h1.55m9.298 0h1.55m17.05 0h3.099m1.55 0h4.649m4.649 0h1.55m9.298 0h1.55m1.55 0h1.55m1.55 0h4.649m29.45 0h1.55m12.4 0h1.55m3.099 0h1.55m18.6 0h3.099m13.95 0h1.55m10.85 0h1.55m9.298 0h1.55m83.69 0h1.55m40.29 0h1.55m18.6 0h1.55m35.64 0h1.55m3.099 0h1.55m10.85 0h4.649m3.099 0h1.55m26.35 0h1.55m26.35 0h1.55m1.55 0h1.55m17.05 0h3.099m13.95 0h1.55m15.5 0h1.55M97 2398.26h1.55m4.649 0h3.099m12.4 0h3.099m7.749 0h3.099m1.55 0h1.55m6.199 0h3.099m3.099 0h1.55m1.55 0h1.55m7.749 0h1.55m10.85 0h1.55m3.099 0h1.55m4.649 0h1.55m1.55 0h1.55m4.649 0h1.55m4.649 0h1.55m3.099 0h3.099m4.649 0h1.55m10.85 0h1.55m6.199 0h3.099m4.649 0h1.55m6.199 0h3.099m4.649 0h3.099m4.649 0h1.55m3.099 0h3.099m18.6 0h1.55m4.649 0h1.55m15.5 0h3.099m10.85 0h3.099m15.5 0h1.55m1.55 0h1.55m7.749 0h1.55m20.15 0h1.55m26.35 0h3.099m58.89 0h1.55m13.95 0h7.749m7.749 0h3.099m37.19 0h1.55m9.298 0h1.55m23.25 0h3.099m7.749 0h1.55m32.54 0h1.55m13.95 0h1.55m6.199 0h1.55m10.85 0h1.55m1.55 0h1.55m3.099 0h1.55m10.85 0h1.55m4.649 0h1.55m3.099 0h4.649m9.298 0h3.099M101.6 2412.3h1.55m4.649 0h3.099m4.649 0h1.55m1.55 0h1.55m15.5 0h3.099m10.85 0h1.55m1.55 0h4.649m4.649 0h1.55m4.649 0h1.55m9.298 0h1.55m15.5 0h1.55m10.85 0h1.55m7.749 0h3.099m4.649 0h3.099m7.749 0h1.55m13.95 0h1.55m1.55 0h3.099m9.298 0h1.55m1.55 0h1.55m4.649 0h1.55m6.199 0h1.55m10.85 0h1.55m12.4 0h1.55m32.54 0h3.099m12.4 0h3.099m55.79 0h3.099m7.749 0h3.099m44.94 0h3.099m12.4 0h1.55m1.55 0h1.55m12.4 0h1.55m23.25 0h1.55m20.15 0h4.649m1.55 0h3.099m10.85 0h1.55m1.55 0h1.55m3.099 0h1.55m68.19 0h1.55m6.199 0h1.55m1.55 0h3.099M104.7 2426.34h1.55m3.099 0h3.099m1.55 0h1.55m3.099 0h1.55m3.099 0h1.55m1.55 0h1.55m12.4 0h1.55m3.099 0h1.55m1.55 0h1.55m9.298 0h4.649m10.85 0h1.55m4.649 0h3.099m18.6 0h4.649m12.4 0h1.55m20.15 0h3.099m10.85 0h3.099m20.15 0h4.649m6.199 0h1.55m4.649 0h3.099m3.099 0h3.099m9.298 0h1.55m40.29 0h1.55m3.099 0h1.55m1.55 0h1.55m38.74 0h1.55m32.54 0h3.099m24.8 0h1.55m6.199 0h1.55m40.29 0h1.55m3.099 0h1.55m27.9 0h1.55m4.649 0h1.55m3.099 0h1.55m9.298 0h3.099m7.749 0h1.55m4.649 0h1.55m10.85 0h1.55m6.199 0h4.649m9.298 0h1.55m7.749 0h3.099m10.85 0h4.649m10.85 0h1.55m1.55 0h3.099m20.15 0h1.55m4.649 0h3.099m3.099 0h1.55M90.8 2440.38h1.55m6.199 0h1.55m21.7 0h1.55m1.55 0h1.55m9.298 0h3.099m7.749 0h1.55m1.55 0h1.55m6.199 0h1.55m7.749 0h1.55m20.15 0h3.099m15.5 0h1.55m1.55 0h1.55m4.649 0h4.649m9.298 0h1.55m1.55 0h3.099m1.55 0h4.649m3.099 0h1.55m3.099 0h1.55m4.649 0h1.55m10.85 0h1.55m7.749 0h1.55m15.5 0h3.099m1.55 0h3.099m13.95 0h1.55m30.99 0h1.55m37.19 0h1.55m23.25 0h1.55m21.7 0h1.55m10.85 0h1.55m40.29 0h1.55m41.84 0h1.55m40.29 0h1.55m3.099 0h1.55m9.298 0h1.55m1.55 0h1.55m6.199 0h1.55m1.55 0h1.55m12.4 0h1.55m3.099 0h3.099m12.4 0h1.55M95.45 2454.42h3.099m4.649 0h1.55m1.55 0h4.649m4.649 0h4.649m7.749 0h3.099m1.55 0h1.55m20.15 0h1.55m18.6 0h1.55m7.749 0h1.55m18.6 0h1.55m6.199 0h3.099m6.199 0h1.55m6.199 0h1.55m6.199 0h3.099m10.85 0h4.649m4.649 0h1.55m15.5 0h3.099m3.099 0h3.099m10.85 0h1.55m69.74 0h1.55m15.5 0h1.55m58.89 0h1.55m18.6 0h1.55m29.45 0h1.55m10.85 0h1.55m9.298 0h1.55m6.199 0h1.55m10.85 0h1.55m4.649 0h1.55m37.19 0h1.55m9.298 0h1.55m23.25 0h1.55m7.749 0h1.55m6.199 0h3.099m9.298 0h1.55m7.749 0h1.55m1.55 0h1.55m1.55 0h1.55m1.55 0h4.649m3.099 0h3.099m6.199 0h3.099m12.4 0h3.099M90.8 2468.46h3.099m6.199 0h3.099m3.099 0h1.55m6.199 0h4.649m6.199 0h1.55m17.05 0h1.55m4.649 0h1.55m3.099 0h1.55m3.099 0h3.099m3.099 0h1.55m10.85 0h1.55m9.298 0h4.649m4.649 0h1.55m3.099 0h1.55m3.099 0h3.099m4.649 0h4.649m1.55 0h3.099m1.55 0h1.55m27.9 0h1.55m29.45 0h4.649m3.099 0h1.55m117.8 0h1.55m15.5 0h1.55m34.09 0h3.099m4.649 0h1.55m26.35 0h3.099m116.2 0h1.55m7.749 0h1.55m15.5 0h1.55m10.85 0h1.55m9.298 0h1.55m23.25 0h1.55M93.9 2482.5h3.099m1.55 0h1.55m1.55 0h1.55m4.649 0h1.55m1.55 0h1.55m1.55 0h1.55m9.298 0h1.55m1.55 0h1.55m13.95 0h3.099m37.19 0h3.099m4.649 0h1.55m12.4 0h1.55m3.099 0h1.55m1.55 0h1.55m10.85 0h1.55m9.298 0h1.55m12.4 0h1.55m12.4 0h6.199m6.199 0h3.099m7.749 0h1.55m17.05 0h1.55m15.5 0h1.55m148.8 0h1.55m10.85 0h1.55m35.64 0h1.55m17.05 0h3.099m13.95 0h1.55m4.649 0h1.55m13.95 0h1.55m24.8 0h1.55m26.35 0h1.55m21.7 0h1.55m12.4 0h1.55M90.8 2496.54h1.55m7.749 0h1.55m6.199 0h1.55m13.95 0h1.55m9.298 0h1.55m1.55 0h1.55m4.649 0h1.55m9.298 0h1.55m10.85 0h3.099m6.199 0h4.649m4.649 0h1.55m1.55 0h1.55m4.649 0h1.55m7.749 0h1.55m3.099 0h1.55m4.649 0h1.55m1.55 0h1.55m9.298 0h1.55m3.099 0h1.55m7.749 0h1.55m3.099 0h1.55m6.199 0h1.55m12.4 0h7.749m4.649 0h3.099m1.55 0h3.099m6.199 0h1.55m12.4 0h1.55m4.649 0h1.55m52.69 0h1.55m21.7 0h1.55m15.5 0h1.55m24.8 0h1.55m7.749 0h1.55m23.25 0h3.099m1.55 0h1.55m6.199 0h1.55m1.55 0h1.55m4.649 0h1.55m7.749 0h1.55m6.199 0h1.55m1.55 0h3.099m6.199 0h1.55m3.099 0h4.649m1.55 0h1.55m3.099 0h1.55m1.55 0h1.55m10.85 0h1.55m9.298 0h4.649m4.649 0h1.55m3.099 0h1.55m18.6 0h1.55m4.649 0h3.099m3.099 0h1.55m18.6 0h1.55m1.55 0h1.55m9.298 0h1.55m3.099 0h3.099m3.099 0h3.099m23.25 0h1.55m17.05 0h1.55M92.35 2510.58h1.55m6.199 0h1.55m12.4 0h1.55m27.9 0h1.55m12.4 0h1.55m6.199 0h3.099m1.55 0h1.55m6.199 0h3.099m1.55 0h1.55m9.298 0h1.55m10.85 0h1.55m3.099 0h3.099m1.55 0h1.55m3.099 0h1.55m6.199 0h1.55m21.7 0h3.099m1.55 0h1.55m1.55 0h3.099m3.099 0h3.099m6.199 0h1.55m4.649 0h4.649m7.749 0h3.099m4.649 0h1.55m27.9 0h1.55m1.55 0h1.55m12.4 0h3.099m1.55 0h3.099m3.099 0h1.55m52.69 0h1.55m48.04 0h1.55m4.649 0h1.55m17.05 0h3.099m6.199 0h1.55m1.55 0h1.55m17.05 0h1.55m15.5 0h1.55m6.199 0h1.55m26.35 0h1.55m4.649 0h1.55m10.85 0h1.55m4.649 0h1.55m3.099 0h1.55m9.298 0h1.55m17.05 0h1.55m63.54 0h1.55"/>
<path stroke="#f26265" d="M128 1261.02h3.099m6.199 0h1.55m13.95 0h3.099m30.99 0h1.55m29.45 0h1.55m17.05 0h1.55m1.55 0h1.55m77.49 0h1.55m6.199 0h1.55m6.199 0h1.55m52.69 0h3.099m40.29 0h1.55m23.25 0h1.55m24.8 0h1.55m30.99 0h1.55m40.29 0h1.55m48.04 0h1.55m51.14 0h1.55m23.25 0h3.099M331 1275.06h1.55m4.649 0h1.55m176.7 0h1.55m55.79 0h1.55m35.64 0h1.55M301.6 1289.1h3.099m54.24 0h1.55m21.7 0h1.55m60.44 0h3.099m6.199 0h1.55m66.64 0h3.099m24.8 0h1.55M135.7 1303.14h1.55m1.55 0h1.55m1.55 0h1.55m21.7 0h3.099m3.099 0h1.55m1.55 0h1.55m7.749 0h1.55m1.55 0h6.199m60.44 0h9.298m1.55 0h6.199m12.4 0h3.099m3.099 0h4.649m7.749 0h6.199m1.55 0h4.649m4.649 0h3.099m3.099 0h4.649m79.04 0h1.55m10.85 0h1.55m15.5 0h1.55m6.199 0h1.55m6.199 0h1.55m111.6 0h1.55m40.29 0h1.55m7.749 0h1.55M354.3 1317.18h1.55m38.74 0h1.55m300.7 0h1.55M93.9 1331.22h1.55m35.64 0h1.55m13.95 0h1.55m20.15 0h1.55m21.7 0h1.55m15.5 0h1.55m21.7 0h1.55m3.099 0h3.099m72.84 0h1.55m20.15 0h1.55m4.649 0h1.55m68.19 0h1.55m55.79 0h1.55m17.05 0h1.55m48.04 0h1.55m21.7 0h1.55m32.54 0h3.099M103.2 1345.26h1.55m102.3 0h1.55m13.95 0h1.55m3.099 0h3.099m75.94 0h1.55m13.95 0h3.099m181.3 0h3.099m37.19 0h1.55m1.55 0h1.55m13.95 0h1.55m40.29 0h3.099m41.84 0h1.55m13.95 0h1.55m3.099 0h1.55m6.199 0h1.55m12.4 0h3.099m1.55 0h1.55M100.1 1359.3h3.099m30.99 0h1.55m4.649 0h1.55m71.29 0h3.099m9.298 0h1.55m7.749 0h1.55m63.54 0h1.55m6.199 0h1.55M92.35 1373.34h1.55m30.99 0h1.55m57.34 0h1.55m32.54 0h4.649m32.54 0h3.099m7.749 0h1.55m4.649 0h3.099m1.55 0h3.099m10.85 0h1.55m37.19 0h3.099m68.19 0h1.55m77.49 0h1.55m10.85 0h1.55m1.55 0h3.099m30.99 0h1.55m72.84 0h1.55M134.2 1387.38h1.55m71.29 0h1.55m74.39 0h1.55m10.85 0h1.55m1.55 0h1.55m17.05 0h1.55m1.55 0h1.55m1.55 0h1.55m203 0h1.55m6.199 0h1.55m27.9 0h1.55m79.04 0h1.55m7.749 0h1.55m35.64 0h1.55m6.199 0h1.55M118.7 1401.42h1.55m7.749 0h1.55m9.298 0h1.55m3.099 0h1.55m29.45 0h1.55m24.8 0h1.55m34.09 0h1.55m43.39 0h3.099m15.5 0h1.55m172 0h1.55m96.08 0h1.55m100.7 0h1.55m21.7 0h1.55M143.5 1415.46h1.55m10.85 0h1.55m9.298 0h1.55m15.5 0h1.55m4.649 0h1.55m20.15 0h1.55m24.8 0h1.55m15.5 0h1.55m1.55 0h1.55m3.099 0h1.55m3.099 0h1.55m52.69 0h1.55m35.64 0h3.099m7.749 0h1.55m69.74 0h1.55m77.49 0h1.55m71.29 0h1.55m30.99 0h1.55m57.34 0h3.099m12.4 0h3.099M159 1429.5h1.55m17.05 0h1.55m9.298 0h1.55m6.199 0h1.55m9.298 0h1.55m13.95 0h1.55m32.54 0h1.55m21.7 0h1.55m20.15 0h1.55m18.6 0h1.55m99.18 0h1.55m13.95 0h1.55m17.05 0h1.55m66.64 0h1.55m3.099 0h1.55m75.94 0h1.55m23.25 0h1.55m12.4 0h1.55M124.9 1443.54h1.55m80.59 0h1.55m7.749 0h4.649m26.35 0h1.55m9.298 0h1.55m4.649 0h1.55m7.749 0h1.55m15.5 0h1.55m1.55 0h1.55m3.099 0h1.55m1.55 0h1.55m51.14 0h7.749m60.44 0h1.55m51.14 0h3.099m4.649 0h1.55m187.5 0h1.55m10.85 0h3.099M123.3 1457.58h1.55m12.4 0h1.55m41.84 0h1.55m26.35 0h1.55m3.099 0h6.199m3.099 0h1.55m4.649 0h1.55m26.35 0h1.55m6.199 0h7.749m9.298 0h4.649m17.05 0h3.099m4.649 0h3.099m26.35 0h1.55m38.74 0h3.099m41.84 0h1.55m38.74 0h3.099m35.64 0h3.099m61.99 0h1.55m17.05 0h1.55m113.1 0h1.55M199.3 1471.62h1.55m17.05 0h1.55m13.95 0h1.55m20.15 0h1.55m40.29 0h1.55m17.05 0h3.099m4.649 0h1.55m57.34 0h1.55m38.74 0h1.55m113.1 0h1.55m161.2 0h1.55M95.45 1485.66h1.55m113.1 0h1.55m17.05 0h1.55m1.55 0h1.55m23.25 0h1.55m6.199 0h3.099m6.199 0h1.55m12.4 0h1.55m1.55 0h1.55m3.099 0h1.55m12.4 0h1.55m71.29 0h1.55m12.4 0h1.55m34.09 0h1.55m61.99 0h1.55m37.19 0h4.649m102.3 0h1.55m34.09 0h1.55M146.6 1499.7h1.55m13.95 0h1.55m29.45 0h1.55m4.649 0h1.55m13.95 0h1.55m15.5 0h1.55m27.9 0h3.099m4.649 0h1.55m10.85 0h1.55m12.4 0h3.099m213.9 0h1.55m34.09 0h1.55m27.9 0h1.55m13.95 0h1.55m82.14 0h1.55M114 1513.74h1.55m35.64 0h1.55m3.099 0h3.099m23.25 0h1.55m32.54 0h3.099m41.84 0h1.55m3.099 0h3.099m7.749 0h1.55m10.85 0h1.55m72.84 0h1.55m187.5 0h1.55m20.15 0h1.55m9.298 0h1.55m6.199 0h1.55m1.55 0h1.55m13.95 0h3.099m52.69 0h1.55m23.25 0h1.55M90.8 1527.78h1.55m43.39 0h1.55m21.7 0h1.55m23.25 0h1.55m10.85 0h1.55m1.55 0h3.099m27.9 0h1.55m1.55 0h1.55m3.099 0h1.55m6.199 0h1.55m15.5 0h3.099m4.649 0h1.55m7.749 0h3.099m6.199 0h4.649m40.29 0h3.099m75.94 0h3.099m6.199 0h1.55m38.74 0h1.55m20.15 0h1.55m17.05 0h1.55m10.85 0h1.55m4.649 0h1.55m44.94 0h1.55m92.98 0h1.55m12.4 0h1.55m3.099 0h1.55m6.199 0h1.55M92.35 1541.82h1.55m77.49 0h1.55m41.84 0h1.55m13.95 0h1.55m17.05 0h3.099m1.55 0h4.649m26.35 0h1.55m6.199 0h6.199m3.099 0h1.55m204.6 0h1.55m43.39 0h1.55m6.199 0h1.55m3.099 0h1.55m32.54 0h3.099m52.69 0h6.199M97 1555.86h4.649m23.25 0h1.55m13.95 0h1.55m17.05 0h1.55m17.05 0h1.55m58.89 0h3.099m32.54 0h1.55m9.298 0h1.55m52.69 0h3.099m65.09 0h1.55m66.64 0h1.55m26.35 0h1.55m142.6 0h1.55m24.8 0h1.55m9.298 0h1.55M138.8 1569.9h1.55m35.64 0h1.55m41.84 0h3.099m3.099 0h3.099m17.05 0h1.55m4.649 0h3.099m9.298 0h1.55m7.749 0h1.55m24.8 0h4.649m10.85 0h3.099m44.94 0h1.55m119.3 0h1.55m69.74 0h1.55m40.29 0h1.55m13.95 0h1.55m35.64 0h1.55M101.6 1583.94h1.55m69.74 0h3.099m29.45 0h1.55m13.95 0h4.649m3.099 0h1.55m6.199 0h1.55m9.298 0h1.55m6.199 0h1.55m10.85 0h1.55m1.55 0h3.099m20.15 0h1.55m1.55 0h1.55m17.05 0h1.55m4.649 0h3.099m38.74 0h1.55m99.18 0h3.099m26.35 0h1.55m23.25 0h1.55m15.5 0h1.55m1.55 0h1.55m18.6 0h1.55m91.44 0h1.55m49.59 0h1.55M183.8 1597.98h1.55m41.84 0h1.55m9.298 0h1.55m13.95 0h1.55m15.5 0h1.55m7.749 0h3.099m27.9 0h1.55m3.099 0h6.199m196.8 0h1.55m27.9 0h3.099m27.9 0h1.55m38.74 0h4.649m18.6 0h1.55m24.8 0h1.55m1.55 0h1.55m6.199 0h1.55M186.9 1612.02h3.099m18.6 0h1.55m7.749 0h1.55m65.09 0h1.55m142.6 0h1.55m32.54 0h3.099m92.98 0h1.55m34.09 0h3.099m72.84 0h1.55M141.9 1626.06h1.55m65.09 0h1.55m105.4 0h3.099m1.55 0h1.55m156.5 0h1.55m110 0h1.55m66.64 0h3.099M217.9 1640.1h1.55m96.08 0h1.55m24.8 0h1.55m74.39 0h1.55m110 0h1.55m38.74 0h3.099M217.9 1654.14h1.55m258.8 0h1.55m122.4 0h1.55m6.199 0h1.55m4.649 0h3.099M103.2 1668.18h1.55m4.649 0h1.55m69.74 0h3.099m105.4 0h1.55m128.6 0h1.55m65.09 0h1.55m72.84 0h1.55m58.89 0h1.55m20.15 0h1.55M95.45 1682.22h1.55m1.55 0h6.199m12.4 0h1.55m120.9 0h1.55m41.84 0h1.55m130.2 0h1.55m179.8 0h1.55m51.14 0h1.55m26.35 0h1.55m13.95 0h1.55m1.55 0h1.55M117.1 1696.26h1.55m384.3 0h1.55m43.39 0h1.55m92.98 0h1.55M312.4 1710.3h1.55m30.99 0h1.55m24.8 0h1.55m156.5 0h1.55M234.9 1724.34h1.55m10.85 0h1.55m51.14 0h1.55m10.85 0h1.55m30.99 0h1.55m212.3 0h1.55M200.8 1738.38h3.099m395.2 0h1.55M687.5 1766.46h1.55m1.55 0h4.649M154.3 1780.5h1.55m79.04 0h1.55M354.3 1808.58h1.55M90.8 1822.62h1.55m30.99 0h1.55m170.5 0h3.099m80.59 0h1.55m3.099 0h1.55m105.4 0h3.099m114.7 0h1.55m17.05 0h1.55m30.99 0h1.55m20.15 0h1.55m15.5 0h1.55M275.2 1836.66h1.55m114.7 0h1.55m122.4 0h1.55m30.99 0h1.55M219.4 1850.7h1.55m23.25 0h1.55m57.34 0h1.55m49.59 0h1.55m4.649 0h1.55m29.45 0h1.55m21.7 0h1.55m41.84 0h1.55m24.8 0h1.55m77.49 0h1.55m21.7 0h1.55m63.54 0h1.55M234.9 1864.74h1.55m249.5 0h1.55m83.69 0h3.099m24.8 0h3.099m38.74 0h1.55m49.59 0h1.55M104.7 1878.78h4.649m7.749 0h1.55m32.54 0h1.55m7.749 0h1.55m94.53 0h1.55m46.49 0h3.099m190.6 0h1.55m193.7 0h1.55M107.8 1892.82h1.55m68.19 0h1.55m161.2 0h1.55m145.7 0h3.099m204.6 0h3.099M148.1 1906.86h1.55m26.35 0h3.099m20.15 0h1.55m46.49 0h1.55m3.099 0h1.55m7.749 0h1.55m35.64 0h3.099m3.099 0h3.099m18.6 0h1.55m184.4 0h1.55M185.3 1920.9h1.55m24.8 0h3.099m9.298 0h1.55m10.85 0h1.55m40.29 0h1.55m6.199 0h1.55m209.2 0h1.55m167.4 0h3.099m29.45 0h1.55M110.9 1934.94h1.55m49.59 0h1.55m10.85 0h3.099m24.8 0h1.55m44.94 0h4.649m4.649 0h1.55m20.15 0h1.55m43.39 0h1.55m4.649 0h1.55m29.45 0h1.55m83.69 0h1.55m75.94 0h1.55m83.69 0h1.55m49.59 0h3.099M100.1 1948.98h1.55m156.5 0h1.55m3.099 0h3.099m10.85 0h1.55m41.84 0h1.55m137.9 0h1.55m66.64 0h3.099m38.74 0h1.55m100.7 0h1.55m20.15 0h1.55M120.2 1963.02h1.55m20.15 0h1.55m54.24 0h3.099m38.74 0h1.55m9.298 0h1.55m32.54 0h1.55m34.09 0h1.55m117.8 0h1.55m68.19 0h1.55m21.7 0h1.55m4.649 0h1.55m54.24 0h1.55m77.49 0h3.099M211.7 1977.06h3.099m49.59 0h1.55m159.6 0h1.55m44.94 0h3.099m40.29 0h1.55m52.69 0h1.55m21.7 0h1.55M120.2 1991.1h1.55m20.15 0h4.649m23.25 0h1.55m79.04 0h1.55m3.099 0h1.55m23.25 0h1.55m9.298 0h1.55m66.64 0h3.099m106.9 0h1.55m13.95 0h1.55m17.05 0h1.55m46.49 0h1.55m75.94 0h1.55M103.2 2005.14h1.55m15.5 0h1.55m9.298 0h6.199m38.74 0h1.55m7.749 0h3.099m38.74 0h1.55m10.85 0h1.55m12.4 0h1.55m66.64 0h1.55m120.9 0h1.55m49.59 0h3.099m23.25 0h1.55m30.99 0h1.55M168.3 2019.18h1.55m27.9 0h3.099m52.69 0h1.55m12.4 0h1.55m9.298 0h1.55m9.298 0h1.55m255.7 0h1.55m17.05 0h1.55m105.4 0h1.55M205.5 2033.22h1.55m61.99 0h1.55m10.85 0h3.099m6.199 0h1.55m12.4 0h1.55m364.2 0h1.55M123.3 2047.26h1.55m57.34 0h1.55m29.45 0h3.099m65.09 0h1.55m1.55 0h1.55m20.15 0h1.55m10.85 0h1.55m55.79 0h1.55m151.9 0h1.55m37.19 0h1.55M199.3 2061.3h1.55m13.95 0h3.099m13.95 0h4.649m4.649 0h1.55m12.4 0h1.55m46.49 0h1.55m71.29 0h1.55m23.25 0h1.55m23.25 0h1.55m68.19 0h1.55m24.8 0h1.55m122.4 0h3.099M182.2 2075.34h1.55m103.8 0h3.099m17.05 0h1.55m4.649 0h4.649m139.5 0h1.55m26.35 0h1.55M205.5 2089.38h1.55m12.4 0h1.55m3.099 0h4.649m13.95 0h1.55m52.69 0h1.55m212.3 0h1.55m63.54 0h1.55m43.39 0h1.55m61.99 0h3.099M171.4 2103.42h1.55m23.25 0h1.55m83.69 0h1.55m1.55 0h1.55m3.099 0h1.55m102.3 0h1.55m83.69 0h1.55m10.85 0h1.55m44.94 0h1.55m9.298 0h1.55m108.5 0h1.55m40.29 0h1.55M168.3 2117.46h1.55m24.8 0h1.55m96.08 0h6.199m17.05 0h1.55m6.199 0h1.55m3.099 0h1.55m51.14 0h1.55m91.44 0h1.55m46.49 0h1.55m27.9 0h3.099m77.49 0h1.55m12.4 0h1.55m12.4 0h1.55m24.8 0h1.55M278.3 2131.5h1.55m29.45 0h1.55m71.29 0h1.55m32.54 0h1.55m12.4 0h1.55m61.99 0h1.55m68.19 0h1.55m127.1 0h1.55M103.2 2145.54h1.55m248 0h1.55m286.7 0h1.55M90.8 2159.58h1.55m1.55 0h3.099m20.15 0h1.55m1.55 0h1.55m3.099 0h1.55m6.199 0h1.55m6.199 0h1.55m4.649 0h1.55m1.55 0h3.099m40.29 0h1.55m7.749 0h1.55m7.749 0h1.55m18.6 0h1.55m3.099 0h3.099m3.099 0h1.55m26.35 0h3.099m4.649 0h3.099m3.099 0h3.099m1.55 0h1.55m6.199 0h1.55m4.649 0h1.55m20.15 0h7.749m34.09 0h1.55m40.29 0h1.55m13.95 0h1.55m17.05 0h1.55m29.45 0h1.55m9.298 0h1.55m4.649 0h4.649m1.55 0h3.099m4.649 0h1.55m13.95 0h10.85m29.45 0h1.55m4.649 0h1.55m15.5 0h1.55m3.099 0h3.099m6.199 0h1.55m6.199 0h1.55m23.25 0h1.55m1.55 0h1.55m17.05 0h1.55m1.55 0h4.649m15.5 0h1.55m6.199 0h1.55m6.199 0h1.55m1.55 0h1.55m3.099 0h1.55M92.35 2173.62h1.55m7.749 0h1.55m10.85 0h1.55m23.25 0h3.099m23.25 0h1.55m4.649 0h1.55m6.199 0h1.55m4.649 0h1.55m7.749 0h3.099m6.199 0h1.55m3.099 0h1.55m1.55 0h1.55m1.55 0h1.55m7.749 0h1.55m1.55 0h1.55m15.5 0h1.55m1.55 0h3.099m23.25 0h1.55m3.099 0h1.55m1.55 0h1.55m12.4 0h1.55m4.649 0h1.55m71.29 0h3.099m4.649 0h1.55m27.9 0h1.55m18.6 0h1.55m7.749 0h1.55m1.55 0h1.55m18.6 0h3.099m7.749 0h1.55m3.099 0h3.099m7.749 0h1.55m13.95 0h4.649m6.199 0h1.55m3.099 0h1.55m7.749 0h4.649m18.6 0h1.55m7.749 0h1.55m7.749 0h1.55m21.7 0h1.55m3.099 0h1.55m1.55 0h3.099m3.099 0h1.55m20.15 0h3.099m1.55 0h4.649m4.649 0h4.649m17.05 0h3.099m4.649 0h4.649m3.099 0h1.55m4.649 0h1.55M97 2187.66h3.099m20.15 0h3.099m4.649 0h3.099m6.199 0h1.55m9.298 0h1.55m7.749 0h3.099m7.749 0h1.55m10.85 0h1.55m1.55 0h1.55m1.55 0h1.55m1.55 0h1.55m10.85 0h1.55m1.55 0h3.099m3.099 0h4.649m9.298 0h1.55m15.5 0h3.099m3.099 0h1.55m3.099 0h1.55m1.55 0h4.649m9.298 0h1.55m1.55 0h4.649m1.55 0h1.55m18.6 0h1.55m1.55 0h1.55m9.298 0h1.55m6.199 0h1.55m37.19 0h1.55m1.55 0h3.099m13.95 0h1.55m17.05 0h4.649m12.4 0h1.55m26.35 0h1.55m23.25 0h1.55m10.85 0h1.55m13.95 0h1.55m10.85 0h1.55m1.55 0h1.55m9.298 0h3.099m9.298 0h1.55m10.85 0h3.099m3.099 0h3.099m1.55 0h1.55m3.099 0h1.55m3.099 0h1.55m1.55 0h1.55m1.55 0h1.55m4.649 0h1.55m10.85 0h4.649m3.099 0h3.099m18.6 0h1.55m15.5 0h1.55m26.35 0h1.55m3.099 0h4.649m1.55 0h1.55m17.05 0h1.55m3.099 0h3.099M92.35 2201.7h3.099m7.749 0h1.55m7.749 0h1.55m12.4 0h3.099m13.95 0h1.55m7.749 0h3.099m10.85 0h1.55m6.199 0h1.55m10.85 0h1.55m6.199 0h3.099m1.55 0h1.55m4.649 0h6.199m3.099 0h4.649m12.4 0h1.55m1.55 0h7.749m7.749 0h1.55m7.749 0h3.099m1.55 0h1.55m1.55 0h1.55m1.55 0h1.55m1.55 0h1.55m9.298 0h1.55m13.95 0h1.55m6.199 0h1.55m1.55 0h3.099m13.95 0h1.55m3.099 0h1.55m3.099 0h1.55m7.749 0h1.55m9.298 0h1.55m4.649 0h3.099m20.15 0h3.099m6.199 0h3.099m9.298 0h1.55m12.4 0h1.55m37.19 0h1.55m9.298 0h4.649m9.298 0h3.099m7.749 0h1.55m10.85 0h1.55m3.099 0h7.749m17.05 0h4.649m13.95 0h4.649m1.55 0h9.298m4.649 0h3.099m6.199 0h4.649m3.099 0h1.55m6.199 0h3.099m3.099 0h3.099m13.95 0h3.099m1.55 0h3.099m1.55 0h3.099m7.749 0h1.55m3.099 0h1.55m4.649 0h6.199m6.199 0h1.55m3.099 0h1.55m6.199 0h1.55m1.55 0h1.55m1.55 0h1.55M90.8 2215.74h3.099m7.749 0h1.55m6.199 0h1.55m6.199 0h1.55m3.099 0h3.099m6.199 0h1.55m4.649 0h1.55m1.55 0h1.55m1.55 0h3.099m1.55 0h1.55m3.099 0h1.55m4.649 0h1.55m6.199 0h4.649m1.55 0h1.55m3.099 0h1.55m7.749 0h3.099m4.649 0h3.099m3.099 0h1.55m1.55 0h1.55m4.649 0h6.199m18.6 0h4.649m1.55 0h1.55m3.099 0h1.55m3.099 0h1.55m3.099 0h1.55m9.298 0h1.55m1.55 0h3.099m3.099 0h1.55m1.55 0h1.55m9.298 0h4.649m3.099 0h3.099m7.749 0h1.55m1.55 0h4.649m100.7 0h1.55m52.69 0h4.649m1.55 0h1.55m1.55 0h1.55m21.7 0h1.55m7.749 0h6.199m3.099 0h1.55m6.199 0h4.649m12.4 0h1.55m1.55 0h1.55m17.05 0h1.55m24.8 0h4.649m4.649 0h1.55m9.298 0h1.55m1.55 0h1.55m15.5 0h3.099m27.9 0h1.55m6.199 0h3.099m17.05 0h1.55m3.099 0h6.199M93.9 2229.78h3.099m4.649 0h4.649m20.15 0h1.55m13.95 0h7.749m4.649 0h1.55m1.55 0h1.55m12.4 0h1.55m23.25 0h1.55m1.55 0h4.649m4.649 0h1.55m1.55 0h1.55m12.4 0h1.55m7.749 0h1.55m18.6 0h1.55m10.85 0h1.55m15.5 0h1.55m26.35 0h3.099m6.199 0h1.55m1.55 0h1.55m9.298 0h1.55m94.53 0h1.55m9.298 0h1.55m15.5 0h1.55m23.25 0h3.099m12.4 0h1.55m1.55 0h1.55m13.95 0h3.099m3.099 0h1.55m13.95 0h1.55m24.8 0h1.55m3.099 0h3.099m1.55 0h7.749m17.05 0h1.55m38.74 0h1.55m18.6 0h3.099m4.649 0h1.55m3.099 0h1.55m18.6 0h1.55M107.8 2243.82h3.099m12.4 0h1.55m13.95 0h1.55m3.099 0h1.55m9.298 0h1.55m7.749 0h3.099m27.9 0h1.55m7.749 0h1.55m17.05 0h4.649m13.95 0h3.099m3.099 0h1.55m4.649 0h1.55m3.099 0h1.55m6.199 0h3.099m9.298 0h3.099m3.099 0h1.55m1.55 0h3.099m12.4 0h1.55m9.298 0h3.099m44.94 0h1.55m72.84 0h1.55m26.35 0h1.55m66.64 0h1.55m3.099 0h1.55m10.85 0h1.55m1.55 0h1.55m15.5 0h1.55m54.24 0h1.55m10.85 0h1.55m12.4 0h1.55m13.95 0h7.749m4.649 0h3.099m7.749 0h3.099M93.9 2257.86h1.55m51.14 0h3.099m26.35 0h1.55m9.298 0h1.55m6.199 0h1.55m6.199 0h1.55m4.649 0h1.55m27.9 0h1.55m23.25 0h1.55m1.55 0h1.55m7.749 0h1.55m12.4 0h1.55m1.55 0h3.099m30.99 0h1.55m110 0h1.55m6.199 0h1.55m37.19 0h1.55m30.99 0h3.099m9.298 0h1.55m13.95 0h3.099m91.44 0h1.55m10.85 0h1.55m6.199 0h1.55m10.85 0h3.099m1.55 0h4.649m18.6 0h1.55M95.45 2271.9h4.649m4.649 0h3.099m51.14 0h1.55m6.199 0h4.649m4.649 0h3.099m10.85 0h1.55m12.4 0h1.55m3.099 0h1.55m20.15 0h3.099m3.099 0h4.649m6.199 0h1.55m6.199 0h3.099m3.099 0h1.55m4.649 0h1.55m13.95 0h1.55m3.099 0h3.099m4.649 0h3.099m17.05 0h1.55m1.55 0h4.649m94.53 0h1.55m68.19 0h1.55m1.55 0h1.55m58.89 0h1.55m7.749 0h1.55m46.49 0h3.099m6.199 0h1.55m6.199 0h1.55m17.05 0h1.55m24.8 0h1.55m12.4 0h3.099m12.4 0h1.55M103.2 2285.94h1.55m7.749 0h1.55m6.199 0h1.55m7.749 0h3.099m6.199 0h1.55m3.099 0h1.55m58.89 0h1.55m7.749 0h1.55m4.649 0h1.55m26.35 0h3.099m9.298 0h3.099m18.6 0h6.199m4.649 0h3.099m6.199 0h1.55m1.55 0h1.55m41.84 0h1.55m9.298 0h1.55m13.95 0h1.55m3.099 0h1.55m96.08 0h1.55m12.4 0h1.55m49.59 0h1.55m10.85 0h1.55m6.199 0h3.099m3.099 0h1.55m37.19 0h1.55m32.54 0h3.099m18.6 0h1.55M100.1 2299.98h3.099m27.9 0h1.55m63.54 0h1.55m12.4 0h1.55m3.099 0h3.099m17.05 0h1.55m3.099 0h1.55m6.199 0h1.55m20.15 0h4.649m17.05 0h1.55m32.54 0h1.55m24.8 0h3.099m100.7 0h1.55m4.649 0h1.55m20.15 0h1.55m3.099 0h1.55m77.49 0h1.55m3.099 0h3.099m12.4 0h1.55m21.7 0h1.55m23.25 0h1.55m40.29 0h1.55m3.099 0h1.55m4.649 0h1.55m12.4 0h1.55M110.9 2314.02h3.099m6.199 0h1.55m15.5 0h1.55m18.6 0h3.099m12.4 0h1.55m13.95 0h1.55m3.099 0h1.55m1.55 0h3.099m7.749 0h3.099m9.298 0h1.55m7.749 0h1.55m4.649 0h1.55m1.55 0h1.55m15.5 0h1.55m10.85 0h1.55m3.099 0h1.55m9.298 0h1.55m1.55 0h1.55m6.199 0h1.55m4.649 0h1.55m6.199 0h1.55m17.05 0h1.55m51.14 0h1.55m91.44 0h3.099m40.29 0h1.55m15.5 0h1.55m29.45 0h1.55m34.09 0h1.55m15.5 0h1.55m29.45 0h1.55m23.25 0h1.55M100.1 2328.06h1.55m41.84 0h1.55m15.5 0h1.55m49.59 0h1.55m15.5 0h3.099m40.29 0h7.749m7.749 0h1.55m24.8 0h1.55m7.749 0h1.55m83.69 0h1.55m61.99 0h1.55m21.7 0h1.55m46.49 0h1.55m34.09 0h1.55m26.35 0h3.099m82.14 0h1.55M109.4 2342.1h3.099m40.29 0h1.55m7.749 0h1.55m3.099 0h1.55m24.8 0h4.649m27.9 0h3.099m4.649 0h1.55m6.199 0h1.55m9.298 0h1.55m7.749 0h1.55m10.85 0h1.55m26.35 0h1.55m24.8 0h3.099m4.649 0h1.55m12.4 0h4.649m120.9 0h1.55m7.749 0h1.55m12.4 0h1.55m3.099 0h1.55m20.15 0h1.55m6.199 0h1.55m7.749 0h1.55m3.099 0h1.55m60.44 0h1.55m13.95 0h1.55m27.9 0h3.099m13.95 0h1.55m6.199 0h3.099M141.9 2356.14h1.55m68.19 0h1.55m20.15 0h3.099m4.649 0h1.55m10.85 0h1.55m4.649 0h1.55m9.298 0h1.55m49.59 0h1.55m60.44 0h1.55m6.199 0h1.55m18.6 0h1.55m12.4 0h1.55m51.14 0h1.55m15.5 0h3.099m7.749 0h1.55m10.85 0h1.55m3.099 0h4.649m66.64 0h1.55m44.94 0h1.55m7.749 0h1.55m15.5 0h1.55m4.649 0h1.55m18.6 0h3.099m3.099 0h3.099M148.1 2370.18h1.55m21.7 0h1.55m15.5 0h1.55m4.649 0h1.55m23.25 0h1.55m7.749 0h1.55m15.5 0h3.099m7.749 0h1.55m6.199 0h1.55m4.649 0h1.55m7.749 0h1.55m4.649 0h3.099m1.55 0h1.55m20.15 0h3.099m49.59 0h3.099m75.94 0h1.55m13.95 0h1.55m17.05 0h1.55m20.15 0h1.55m9.298 0h1.55m9.298 0h1.55m13.95 0h1.55m41.84 0h1.55m23.25 0h1.55m44.94 0h1.55m17.05 0h1.55m15.5 0h1.55m12.4 0h1.55M118.7 2384.22h1.55m12.4 0h3.099m1.55 0h3.099m13.95 0h1.55m3.099 0h3.099m3.099 0h3.099m32.54 0h1.55m4.649 0h1.55m24.8 0h4.649m3.099 0h1.55m4.649 0h1.55m9.298 0h1.55m4.649 0h1.55m3.099 0h1.55m3.099 0h1.55m7.749 0h1.55m9.298 0h1.55m7.749 0h1.55m189.1 0h1.55m20.15 0h1.55m18.6 0h1.55m30.99 0h1.55m71.29 0h3.099m6.199 0h3.099m12.4 0h3.099M92.35 2398.26h4.649m3.099 0h1.55m24.8 0h1.55m24.8 0h1.55m7.749 0h1.55m7.749 0h1.55m6.199 0h1.55m40.29 0h3.099m3.099 0h3.099m10.85 0h1.55m3.099 0h1.55m18.6 0h1.55m7.749 0h3.099m1.55 0h1.55m1.55 0h1.55m1.55 0h3.099m72.84 0h1.55m77.49 0h3.099m38.74 0h1.55m40.29 0h1.55m85.24 0h1.55m37.19 0h1.55M90.8 2412.3h1.55m4.649 0h1.55m21.7 0h4.649m1.55 0h3.099m17.05 0h1.55m32.54 0h1.55m6.199 0h1.55m21.7 0h1.55m17.05 0h1.55m7.749 0h6.199m7.749 0h1.55m10.85 0h1.55m6.199 0h1.55m6.199 0h1.55m6.199 0h3.099m1.55 0h1.55m9.298 0h1.55m57.34 0h1.55m20.15 0h1.55m23.25 0h1.55m38.74 0h1.55m30.99 0h1.55m23.25 0h3.099m51.14 0h1.55m10.85 0h1.55m29.45 0h3.099m9.298 0h1.55m9.298 0h1.55m10.85 0h1.55m15.5 0h3.099M90.8 2426.34h1.55m13.95 0h3.099m23.25 0h1.55m17.05 0h1.55m20.15 0h1.55m9.298 0h1.55m9.298 0h3.099m3.099 0h1.55m4.649 0h1.55m12.4 0h1.55m6.199 0h1.55m7.749 0h1.55m9.298 0h1.55m1.55 0h3.099m6.199 0h1.55m9.298 0h4.649m7.749 0h1.55m7.749 0h1.55m9.298 0h1.55m4.649 0h3.099m1.55 0h1.55m35.64 0h1.55m7.749 0h1.55m34.09 0h3.099m10.85 0h1.55m48.04 0h1.55m32.54 0h3.099m18.6 0h1.55m3.099 0h1.55m1.55 0h3.099m4.649 0h1.55m18.6 0h3.099m18.6 0h1.55m1.55 0h1.55m34.09 0h1.55m20.15 0h3.099m13.95 0h1.55m30.99 0h1.55M92.35 2440.38h1.55m9.298 0h6.199m13.95 0h1.55m4.649 0h1.55m10.85 0h1.55m4.649 0h1.55m1.55 0h1.55m7.749 0h1.55m6.199 0h1.55m6.199 0h1.55m9.298 0h1.55m26.35 0h1.55m26.35 0h1.55m3.099 0h1.55m9.298 0h3.099m1.55 0h3.099m4.649 0h1.55m7.749 0h6.199m34.09 0h1.55m1.55 0h1.55m65.09 0h1.55m65.09 0h3.099m91.44 0h1.55m63.54 0h1.55m61.99 0h3.099m10.85 0h1.55m4.649 0h4.649M100.1 2454.42h1.55m10.85 0h1.55m12.4 0h1.55m6.199 0h1.55m3.099 0h1.55m12.4 0h1.55m6.199 0h1.55m18.6 0h3.099m6.199 0h6.199m4.649 0h1.55m4.649 0h3.099m4.649 0h1.55m7.749 0h4.649m1.55 0h4.649m10.85 0h1.55m20.15 0h1.55m10.85 0h1.55m21.7 0h1.55m7.749 0h1.55m4.649 0h1.55m24.8 0h1.55m48.04 0h1.55m15.5 0h1.55m9.298 0h1.55m54.24 0h3.099m18.6 0h1.55m9.298 0h1.55m86.79 0h1.55m6.199 0h1.55m17.05 0h1.55m40.29 0h1.55M93.9 2468.46h1.55m23.25 0h1.55m24.8 0h3.099m27.9 0h1.55m7.749 0h3.099m15.5 0h3.099m4.649 0h1.55m6.199 0h1.55m3.099 0h1.55m13.95 0h1.55m3.099 0h1.55m1.55 0h1.55m4.649 0h1.55m1.55 0h6.199m1.55 0h3.099m4.649 0h1.55m1.55 0h1.55m3.099 0h4.649m44.94 0h1.55m29.45 0h1.55m27.9 0h1.55m17.05 0h1.55m83.69 0h1.55m15.5 0h1.55m3.099 0h1.55m27.9 0h1.55m13.95 0h1.55m18.6 0h1.55m35.64 0h1.55m21.7 0h6.199m9.298 0h1.55m15.5 0h1.55m24.8 0h1.55M97 2482.5h1.55m4.649 0h1.55m21.7 0h1.55m1.55 0h1.55m6.199 0h3.099m17.05 0h1.55m1.55 0h1.55m1.55 0h4.649m3.099 0h3.099m13.95 0h3.099m15.5 0h1.55m12.4 0h1.55m4.649 0h4.649m1.55 0h1.55m20.15 0h1.55m13.95 0h1.55m21.7 0h3.099m3.099 0h1.55m1.55 0h3.099m13.95 0h1.55m74.39 0h1.55m29.45 0h1.55m37.19 0h1.55m17.05 0h1.55m7.749 0h1.55m44.94 0h1.55m27.9 0h1.55m13.95 0h1.55m10.85 0h1.55m24.8 0h1.55m27.9 0h1.55M98.55 2496.54h1.55m17.05 0h1.55m17.05 0h1.55m3.099 0h1.55m9.298 0h1.55m4.649 0h4.649m1.55 0h3.099m20.15 0h1.55m1.55 0h1.55m13.95 0h1.55m4.649 0h3.099m9.298 0h3.099m3.099 0h1.55m6.199 0h1.55m13.95 0h1.55m4.649 0h1.55m35.64 0h1.55m3.099 0h1.55m1.55 0h1.55m15.5 0h1.55m175.1 0h3.099m4.649 0h1.55m7.749 0h1.55m1.55 0h3.099m3.099 0h1.55m7.749 0h1.55m3.099 0h1.55m4.649 0h1.55m12.4 0h1.55m7.749 0h1.55m13.95 0h1.55m21.7 0h1.55m3.099 0h1.55m24.8 0h1.55m18.6 0h3.099m21.7 0h1.55m4.649 0h4.649m3.099 0h1.55M141.9 2510.58h1.55m10.85 0h3.099m17.05 0h1.55m10.85 0h1.55m32.54 0h1.55m3.099 0h1.55m29.45 0h1.55m4.649 0h1.55m13.95 0h1.55m15.5 0h3.099m13.95 0h1.55m23.25 0h6.199m24.8 0h1.55m37.19 0h1.55m116.2 0h1.55m4.649 0h1.55m27.9 0h1.55m20.15 0h3.099m4.649 0h1.55m51.14 0h1.55m37.19 0h3.099"/>
<path stroke="#f04649" d="M100.1 1261.02h1.55m3.099 0h3.099m1.55 0h7.749m6.199 0h1.55m13.95 0h3.099m6.199 0h3.099m18.6 0h3.099m1.55 0h1.55m1.55 0h1.55m3.099 0h1.55m1.55 0h1.55m1.55 0h1.55m4.649 0h1.55m1.55 0h1.55m1.55 0h1.55m3.099 0h4.649m1.55 0h3.099m4.649 0h3.099m3.099 0h4.649m1.55 0h4.649m7.749 0h1.55m9.298 0h7.749m3.099 0h1.55m9.298 0h3.099m1.55 0h1.55m9.298 0h1.55m1.55 0h4.649m1.55 0h1.55m1.55 0h1.55m7.749 0h4.649m6.199 0h1.55m1.55 0h3.099m4.649 0h4.649m1.55 0h1.55m1.55 0h3.099m4.649 0h1.55m6.199 0h3.099m7.749 0h4.649m1.55 0h1.55m15.5 0h3.099m1.55 0h1.55m9.298 0h1.55m10.85 0h1.55m1.55 0h6.199m3.099 0h1.55m3.099 0h3.099m6.199 0h1.55m4.649 0h1.55m1.55 0h1.55m9.298 0h1.55m3.099 0h1.55m10.85 0h4.649m1.55 0h3.099m3.099 0h3.099m4.649 0h1.55m9.298 0h1.55m9.298 0h3.099m4.649 0h1.55m1.55 0h1.55m13.95 0h1.55m12.4 0h1.55m21.7 0h1.55m1.55 0h1.55m6.199 0h1.55m7.749 0h1.55m7.749 0h1.55m1.55 0h6.199m4.649 0h4.649m29.45 0h3.099m9.298 0h1.55m7.749 0h1.55m3.099 0h6.199M93.9 1275.06h6.199m9.298 0h1.55m3.099 0h1.55m7.749 0h1.55m4.649 0h3.099m6.199 0h4.649m1.55 0h1.55m18.6 0h1.55m1.55 0h1.55m3.099 0h3.099m3.099 0h1.55m12.4 0h3.099m12.4 0h3.099m15.5 0h1.55m9.298 0h1.55m1.55 0h1.55m7.749 0h3.099m3.099 0h1.55m4.649 0h3.099m1.55 0h1.55m3.099 0h1.55m6.199 0h10.85m1.55 0h1.55m27.9 0h1.55m4.649 0h1.55m4.649 0h1.55m7.749 0h1.55m1.55 0h4.649m3.099 0h1.55m1.55 0h3.099m1.55 0h1.55m1.55 0h1.55m6.199 0h4.649m6.199 0h1.55m4.649 0h1.55m3.099 0h4.649m1.55 0h4.649m10.85 0h3.099m3.099 0h1.55m10.85 0h1.55m4.649 0h1.55m3.099 0h1.55m1.55 0h1.55m1.55 0h1.55m4.649 0h3.099m1.55 0h1.55m3.099 0h3.099m9.298 0h1.55m3.099 0h1.55m3.099 0h1.55m1.55 0h1.55m1.55 0h1.55m12.4 0h1.55m17.05 0h4.649m4.649 0h1.55m7.749 0h4.649m1.55 0h6.199m1.55 0h1.55m4.649 0h4.649m6.199 0h10.85m7.749 0h1.55m10.85 0h1.55m1.55 0h6.199m1.55 0h1.55m7.749 0h1.55m1.55 0h1.55m4.649 0h1.55m17.05 0h1.55m3.099 0h3.099m3.099 0h3.099m3.099 0h1.55m4.649 0h1.55m4.649 0h1.55m7.749 0h3.099M101.6 1289.1h1.55m15.5 0h1.55m3.099 0h1.55m23.25 0h3.099m4.649 0h3.099m9.298 0h1.55m1.55 0h3.099m3.099 0h1.55m3.099 0h1.55m32.54 0h1.55m10.85 0h3.099m32.54 0h3.099m1.55 0h6.199m4.649 0h1.55m1.55 0h3.099m9.298 0h1.55m7.749 0h1.55m1.55 0h4.649m9.298 0h3.099m4.649 0h1.55m1.55 0h3.099m6.199 0h7.749m4.649 0h1.55m1.55 0h1.55m4.649 0h1.55m1.55 0h4.649m26.35 0h4.649m1.55 0h1.55m1.55 0h1.55m1.55 0h1.55m1.55 0h3.099m4.649 0h3.099m1.55 0h3.099m1.55 0h9.298m10.85 0h1.55m3.099 0h7.749m1.55 0h4.649m1.55 0h1.55m4.649 0h1.55m4.649 0h3.099m10.85 0h1.55m13.95 0h3.099m13.95 0h1.55m12.4 0h1.55m41.84 0h3.099m9.298 0h1.55m9.298 0h4.649m9.298 0h1.55m3.099 0h3.099m1.55 0h1.55m1.55 0h1.55m7.749 0h13.95m1.55 0h3.099m3.099 0h3.099m6.199 0h3.099m3.099 0h1.55m6.199 0h1.55M90.8 1303.14h1.55m23.25 0h1.55m10.85 0h4.649m1.55 0h1.55m9.298 0h1.55m1.55 0h3.099m3.099 0h4.649m1.55 0h4.649m3.099 0h3.099m4.649 0h7.749m1.55 0h1.55m13.95 0h3.099m3.099 0h1.55m27.9 0h3.099m9.298 0h1.55m26.35 0h3.099m15.5 0h3.099m1.55 0h1.55m6.199 0h1.55m6.199 0h3.099m4.649 0h1.55m4.649 0h1.55m3.099 0h3.099m4.649 0h4.649m1.55 0h3.099m1.55 0h1.55m1.55 0h7.749m12.4 0h4.649m3.099 0h4.649m4.649 0h1.55m3.099 0h1.55m10.85 0h1.55m1.55 0h6.199m3.099 0h1.55m4.649 0h6.199m4.649 0h1.55m6.199 0h1.55m6.199 0h3.099m1.55 0h6.199m4.649 0h1.55m4.649 0h1.55m1.55 0h1.55m10.85 0h1.55m6.199 0h1.55m3.099 0h3.099m7.749 0h1.55m3.099 0h3.099m12.4 0h4.649m1.55 0h6.199m1.55 0h1.55m21.7 0h1.55m3.099 0h7.749m10.85 0h4.649m1.55 0h1.55m10.85 0h1.55m9.298 0h3.099m1.55 0h1.55m1.55 0h1.55m4.649 0h1.55m1.55 0h3.099m4.649 0h1.55m1.55 0h1.55m1.55 0h3.099m3.099 0h1.55m1.55 0h3.099m4.649 0h1.55m7.749 0h1.55m6.199 0h4.649m1.55 0h3.099m1.55 0h1.55M95.45 1317.18h3.099m1.55 0h1.55m4.649 0h3.099m4.649 0h1.55m10.85 0h3.099m9.298 0h1.55m3.099 0h1.55m4.649 0h1.55m6.199 0h1.55m6.199 0h3.099m10.85 0h3.099m13.95 0h1.55m3.099 0h1.55m1.55 0h3.099m7.749 0h1.55m6.199 0h3.099m1.55 0h9.298m7.749 0h1.55m12.4 0h1.55m3.099 0h1.55m4.649 0h1.55m26.35 0h1.55m9.298 0h1.55m3.099 0h1.55m23.25 0h1.55m1.55 0h3.099m1.55 0h3.099m1.55 0h4.649m3.099 0h1.55m1.55 0h7.749m3.099 0h1.55m1.55 0h1.55m3.099 0h1.55m3.099 0h1.55m18.6 0h1.55m4.649 0h1.55m7.749 0h3.099m1.55 0h1.55m1.55 0h4.649m3.099 0h1.55m4.649 0h1.55m1.55 0h9.298m3.099 0h4.649m1.55 0h1.55m4.649 0h1.55m9.298 0h1.55m3.099 0h1.55m3.099 0h1.55m7.749 0h1.55m1.55 0h3.099m7.749 0h1.55m3.099 0h3.099m24.8 0h4.649m9.298 0h3.099m3.099 0h1.55m17.05 0h1.55m4.649 0h3.099m26.35 0h1.55m1.55 0h6.199m1.55 0h1.55m18.6 0h1.55m4.649 0h1.55m4.649 0h3.099m12.4 0h1.55m9.298 0h7.749m1.55 0h3.099m1.55 0h1.55M106.3 1331.22h4.649m189.1 0h1.55m195.3 0h1.55m6.199 0h3.099m7.749 0h3.099m26.35 0h4.649m46.49 0h3.099m30.99 0h1.55m7.749 0h1.55M132.6 1345.26h1.55m24.8 0h1.55m32.54 0h1.55m29.45 0h1.55m74.39 0h1.55m7.749 0h1.55m15.5 0h1.55m96.08 0h1.55m66.64 0h1.55m48.04 0h3.099m66.64 0h1.55m24.8 0h1.55m23.25 0h1.55M128 1359.3h6.199m26.35 0h1.55m48.04 0h3.099m6.199 0h1.55m48.04 0h3.099m58.89 0h1.55m167.4 0h1.55m29.45 0h1.55m48.04 0h3.099m15.5 0h1.55m75.94 0h1.55M140.4 1373.34h1.55m60.44 0h1.55m49.59 0h1.55m6.199 0h3.099m34.09 0h3.099m110 0h1.55m32.54 0h1.55M135.7 1387.38h1.55m21.7 0h1.55m17.05 0h3.099m17.05 0h1.55m49.59 0h1.55m35.64 0h1.55m89.89 0h1.55m108.5 0h1.55m116.2 0h1.55m88.34 0h3.099M132.6 1401.42h1.55m37.19 0h1.55m32.54 0h1.55m10.85 0h3.099m34.09 0h1.55m323.9 0h1.55m63.54 0h1.55m41.84 0h1.55m1.55 0h1.55m1.55 0h1.55M154.3 1415.46h1.55m13.95 0h1.55m4.649 0h1.55m48.04 0h1.55m20.15 0h3.099m3.099 0h1.55m10.85 0h1.55m204.6 0h4.649m38.74 0h1.55m120.9 0h4.649M157.4 1429.5h1.55m1.55 0h1.55m23.25 0h1.55m12.4 0h1.55m9.298 0h1.55m86.79 0h1.55m325.4 0h1.55m10.85 0h3.099m21.7 0h1.55M221 1443.54h3.099m99.18 0h1.55m116.2 0h1.55m21.7 0h4.649m61.99 0h1.55m12.4 0h1.55m6.199 0h1.55m44.94 0h1.55m6.199 0h3.099m66.64 0h1.55M129.5 1457.58h1.55m41.84 0h1.55m69.74 0h1.55m6.199 0h3.099m17.05 0h1.55m20.15 0h3.099m82.14 0h1.55m4.649 0h1.55m189.1 0h1.55M166.7 1471.62h1.55m66.64 0h3.099m4.649 0h1.55m12.4 0h1.55m35.64 0h3.099m206.1 0h1.55m116.2 0h1.55M166.7 1485.66h1.55m15.5 0h1.55m23.25 0h1.55m58.89 0h1.55m89.89 0h1.55m103.8 0h1.55m60.44 0h1.55m60.44 0h1.55M225.6 1499.7h3.099m51.14 0h1.55m1.55 0h1.55m21.7 0h3.099m66.64 0h1.55m209.2 0h1.55M117.1 1513.74h1.55m44.94 0h1.55m99.18 0h1.55m13.95 0h1.55m21.7 0h1.55m26.35 0h1.55m94.53 0h1.55m15.5 0h1.55m145.7 0h1.55M128 1527.78h1.55m1.55 0h1.55m46.49 0h1.55m4.649 0h1.55m57.34 0h1.55m40.29 0h1.55m12.4 0h3.099m1.55 0h1.55m48.04 0h1.55m85.24 0h1.55m226.3 0h1.55M135.7 1541.82h3.099m63.54 0h3.099m29.45 0h1.55m15.5 0h1.55m331.6 0h1.55m30.99 0h4.649m49.59 0h1.55m27.9 0h1.55M208.6 1555.86h1.55m60.44 0h1.55m6.199 0h1.55m9.298 0h1.55m12.4 0h1.55m15.5 0h1.55m3.099 0h1.55m75.94 0h1.55m79.04 0h4.649m63.54 0h1.55m75.94 0h1.55M151.2 1569.9h3.099m63.54 0h1.55m10.85 0h1.55m97.63 0h1.55m12.4 0h1.55m49.59 0h1.55m106.9 0h1.55m6.199 0h1.55m60.44 0h1.55m80.59 0h1.55M129.5 1583.94h1.55m111.6 0h1.55m18.6 0h1.55m17.05 0h1.55m15.5 0h1.55m44.94 0h1.55m83.69 0h1.55m69.74 0h1.55M90.8 1597.98h1.55m110 0h1.55m40.29 0h1.55m113.1 0h3.099m69.74 0h1.55m258.8 0h3.099M265.9 1612.02h1.55m399.8 0h1.55M194.6 1626.06h1.55m147.2 0h1.55m21.7 0h1.55m319.2 0h1.55M174.5 1640.1h1.55m68.19 0h1.55m17.05 0h1.55m30.99 0h1.55m66.64 0h1.55m144.1 0h3.099m83.69 0h1.55M221 1654.14h1.55m162.7 0h1.55m257.3 0h6.199M261.3 1668.18h4.649m26.35 0h1.55m210.8 0h1.55m3.099 0h1.55M131.1 1682.22h1.55m40.29 0h1.55m55.79 0h1.55m440.1 0h3.099M92.35 1696.26h1.55m173.6 0h3.099m230.9 0h1.55M658 1710.3h1.55M473.6 1724.34h1.55m159.6 0h3.099M100.1 1738.38h1.55m184.4 0h1.55M97 1752.42h1.55m401.4 0h1.55M698.3 1766.46h1.55M126.4 1780.5h1.55m505.2 0h1.55M98.55 1822.62h3.099m294.5 0h1.55M481.3 1836.66h1.55m51.14 0h1.55m57.34 0h1.55m58.89 0h3.099M95.45 1850.7h1.55m23.25 0h1.55m29.45 0h1.55m74.39 0h3.099m49.59 0h1.55m271.2 0h1.55M315.5 1864.74h1.55M225.6 1878.78h1.55m13.95 0h1.55m238.7 0h1.55M200.8 1892.82h1.55m469.6 0h1.55m17.05 0h1.55m1.55 0h1.55m3.099 0h3.099M169.8 1906.86h1.55m79.04 0h1.55m150.3 0h1.55m58.89 0h1.55m3.099 0h1.55m37.19 0h1.55M114 1920.9h1.55m77.49 0h1.55M132.6 1934.94h1.55m119.3 0h1.55m10.85 0h1.55m34.09 0h1.55m1.55 0h1.55m331.6 0h1.55M149.7 1948.98h1.55m71.29 0h1.55m3.099 0h3.099m20.15 0h1.55m52.69 0h1.55m3.099 0h3.099m80.59 0h1.55m80.59 0h1.55m88.34 0h1.55M169.8 1963.02h3.099m136.4 0h1.55m88.34 0h1.55m88.34 0h3.099m1.55 0h1.55m139.5 0h1.55M107.8 1977.06h1.55m85.24 0h1.55m46.49 0h1.55m29.45 0h1.55m306.8 0h1.55M238 1991.1h3.099m23.25 0h1.55m117.8 0h1.55m41.84 0h3.099M278.3 2005.14h1.55m7.749 0h1.55m175.1 0h1.55m145.7 0h1.55m85.24 0h1.55M148.1 2019.18h1.55m27.9 0h1.55m249.5 0h1.55m175.1 0h1.55m1.55 0h1.55m51.14 0h1.55m6.199 0h1.55M276.8 2033.22h1.55m279 0h1.55m46.49 0h1.55M202.4 2047.26h1.55m379.7 0h1.55m105.4 0h1.55M193.1 2061.3h1.55m133.3 0h1.55m29.45 0h1.55m27.9 0h1.55m144.1 0h1.55M216.3 2075.34h1.55m18.6 0h3.099m29.45 0h1.55m116.2 0h1.55m94.53 0h3.099m161.2 0h1.55m1.55 0h3.099m3.099 0h1.55M197.7 2089.38h1.55m111.6 0h1.55m206.1 0h1.55m102.3 0h1.55M180.7 2103.42h1.55m7.749 0h1.55m26.35 0h1.55m15.5 0h1.55m88.34 0h1.55m340.9 0h1.55m24.8 0h1.55M193.1 2117.46h1.55m117.8 0h1.55m162.7 0h1.55m38.74 0h1.55m144.1 0h3.099M476.7 2131.5h1.55m125.5 0h1.55M107.8 2145.54h1.55m15.5 0h1.55m4.649 0h1.55M171.4 2159.58h1.55m51.14 0h1.55m20.15 0h1.55m29.45 0h1.55m9.298 0h1.55m3.099 0h1.55m51.14 0h1.55m35.64 0h1.55m35.64 0h1.55m144.1 0h1.55m1.55 0h1.55m40.29 0h1.55m7.749 0h1.55m17.05 0h3.099M131.1 2173.62h1.55m4.649 0h1.55m6.199 0h3.099m27.9 0h1.55m9.298 0h1.55m40.29 0h1.55m1.55 0h6.199m1.55 0h1.55m9.298 0h6.199m6.199 0h1.55m4.649 0h1.55m4.649 0h1.55m17.05 0h1.55m7.749 0h1.55m21.7 0h1.55m10.85 0h1.55m92.98 0h1.55m26.35 0h1.55m6.199 0h3.099m13.95 0h1.55m7.749 0h3.099m1.55 0h3.099m37.19 0h3.099m35.64 0h1.55m7.749 0h4.649m49.59 0h1.55m26.35 0h1.55m13.95 0h1.55m15.5 0h1.55M101.6 2187.66h1.55m9.298 0h1.55m27.9 0h1.55m18.6 0h1.55m18.6 0h1.55m17.05 0h1.55m6.199 0h3.099m9.298 0h1.55m1.55 0h1.55m1.55 0h1.55m4.649 0h4.649m3.099 0h1.55m3.099 0h3.099m12.4 0h1.55m1.55 0h6.199m13.95 0h3.099m3.099 0h4.649m34.09 0h1.55m83.69 0h1.55m51.14 0h1.55m7.749 0h4.649m9.298 0h1.55m37.19 0h1.55m52.69 0h1.55m21.7 0h3.099m6.199 0h1.55m6.199 0h1.55m15.5 0h4.649m9.298 0h1.55m29.45 0h3.099M123.3 2201.7h1.55m7.749 0h1.55m10.85 0h3.099m3.099 0h1.55m3.099 0h4.649m1.55 0h1.55m4.649 0h1.55m1.55 0h1.55m3.099 0h1.55m1.55 0h3.099m3.099 0h1.55m10.85 0h1.55m21.7 0h1.55m3.099 0h1.55m1.55 0h1.55m17.05 0h3.099m3.099 0h1.55m3.099 0h1.55m18.6 0h3.099m7.749 0h9.298m3.099 0h4.649m9.298 0h1.55m3.099 0h1.55m1.55 0h1.55m15.5 0h1.55m105.4 0h1.55m10.85 0h1.55m3.099 0h4.649m1.55 0h1.55m4.649 0h9.298m6.199 0h1.55m1.55 0h1.55m1.55 0h3.099m9.298 0h3.099m7.749 0h1.55m3.099 0h3.099m3.099 0h4.649m13.95 0h1.55m9.298 0h1.55m12.4 0h1.55m37.19 0h3.099m10.85 0h1.55m7.749 0h3.099m7.749 0h1.55m12.4 0h1.55m12.4 0h1.55m1.55 0h1.55M97 2215.74h3.099m15.5 0h1.55m3.099 0h1.55m3.099 0h4.649m3.099 0h4.649m4.649 0h1.55m30.99 0h1.55m7.749 0h3.099m15.5 0h1.55m12.4 0h3.099m6.199 0h1.55m15.5 0h1.55m3.099 0h1.55m3.099 0h3.099m3.099 0h3.099m3.099 0h1.55m13.95 0h1.55m13.95 0h1.55m4.649 0h4.649m13.95 0h1.55m1.55 0h1.55m41.84 0h1.55m1.55 0h1.55m4.649 0h1.55m103.8 0h3.099m3.099 0h3.099m9.298 0h1.55m4.649 0h1.55m20.15 0h1.55m18.6 0h1.55m6.199 0h1.55m4.649 0h3.099m4.649 0h1.55m51.14 0h3.099m13.95 0h3.099m15.5 0h1.55M106.3 2229.78h1.55m96.08 0h1.55m12.4 0h1.55m10.85 0h3.099m27.9 0h1.55m26.35 0h1.55m7.749 0h4.649m1.55 0h1.55m103.8 0h1.55m77.49 0h1.55m106.9 0h1.55m12.4 0h1.55m9.298 0h1.55m79.04 0h1.55M155.9 2243.82h1.55m12.4 0h1.55m3.099 0h1.55m34.09 0h1.55m4.649 0h3.099m9.298 0h1.55m3.099 0h1.55m3.099 0h3.099m7.749 0h1.55m1.55 0h1.55m7.749 0h1.55m7.749 0h1.55m24.8 0h1.55m147.2 0h1.55m20.15 0h1.55m23.25 0h1.55m20.15 0h1.55m6.199 0h1.55m15.5 0h1.55m38.74 0h1.55m38.74 0h1.55m29.45 0h1.55M132.6 2257.86h1.55m4.649 0h3.099m9.298 0h1.55m30.99 0h3.099m40.29 0h1.55m4.649 0h1.55m12.4 0h1.55m3.099 0h1.55m7.749 0h1.55m24.8 0h1.55m114.7 0h3.099m1.55 0h3.099m88.34 0h1.55m24.8 0h1.55m24.8 0h1.55M93.9 2271.9h1.55m17.05 0h1.55m12.4 0h1.55m9.298 0h1.55m26.35 0h1.55m4.649 0h1.55m51.14 0h1.55m7.749 0h1.55m7.749 0h3.099m48.04 0h1.55m44.94 0h1.55m43.39 0h1.55m91.44 0h1.55m43.39 0h1.55m139.5 0h1.55m6.199 0h1.55M95.45 2285.94h1.55m10.85 0h1.55m37.19 0h3.099m30.99 0h1.55m13.95 0h1.55m69.74 0h1.55m6.199 0h3.099m10.85 0h1.55m23.25 0h1.55m147.2 0h4.649m27.9 0h1.55m3.099 0h1.55m74.39 0h1.55m7.749 0h3.099m105.4 0h1.55M104.7 2299.98h1.55m4.649 0h1.55m88.34 0h1.55m23.25 0h3.099m32.54 0h1.55m26.35 0h1.55m3.099 0h1.55m1.55 0h1.55m4.649 0h4.649m120.9 0h1.55m18.6 0h1.55m35.64 0h1.55m1.55 0h1.55m3.099 0h1.55m133.3 0h1.55m63.54 0h1.55M107.8 2314.02h1.55m12.4 0h1.55m12.4 0h1.55m85.24 0h1.55m3.099 0h1.55m10.85 0h1.55m12.4 0h1.55m6.199 0h3.099m4.649 0h1.55m49.59 0h1.55m3.099 0h1.55m7.749 0h1.55m18.6 0h3.099m124 0h1.55m15.5 0h1.55m13.95 0h1.55m66.64 0h1.55m52.69 0h3.099m38.74 0h1.55m18.6 0h1.55M135.7 2328.06h1.55m83.69 0h3.099m58.89 0h1.55m4.649 0h1.55m4.649 0h1.55m4.649 0h1.55m1.55 0h1.55m141 0h1.55m58.89 0h1.55m13.95 0h1.55m77.49 0h3.099m54.24 0h1.55m20.15 0h1.55M140.4 2342.1h1.55m92.98 0h3.099m38.74 0h1.55m1.55 0h1.55m1.55 0h1.55m3.099 0h1.55m6.199 0h1.55m29.45 0h1.55m79.04 0h1.55m102.3 0h1.55m30.99 0h1.55m75.94 0h1.55M140.4 2356.14h1.55m15.5 0h1.55m37.19 0h1.55m1.55 0h1.55m49.59 0h1.55m3.099 0h1.55m41.84 0h1.55m12.4 0h1.55m12.4 0h1.55m124 0h1.55m17.05 0h7.749m13.95 0h1.55m6.199 0h1.55m96.08 0h1.55M90.8 2370.18h1.55m7.749 0h1.55m6.199 0h1.55m80.59 0h3.099m29.45 0h1.55m1.55 0h3.099m7.749 0h1.55m40.29 0h1.55m12.4 0h1.55m3.099 0h1.55m6.199 0h1.55m148.8 0h1.55m30.99 0h1.55m24.8 0h3.099m26.35 0h1.55m21.7 0h1.55m32.54 0h4.649m23.25 0h1.55m44.94 0h1.55M210.1 2384.22h1.55m6.199 0h1.55m1.55 0h1.55m26.35 0h4.649m12.4 0h1.55m9.298 0h1.55m6.199 0h1.55m6.199 0h1.55m40.29 0h1.55m34.09 0h1.55m7.749 0h1.55m68.19 0h1.55m35.64 0h1.55m35.64 0h1.55m32.54 0h1.55m38.74 0h1.55m6.199 0h1.55m29.45 0h1.55m24.8 0h1.55M123.3 2398.26h1.55m15.5 0h1.55m32.54 0h1.55m32.54 0h3.099m26.35 0h1.55m3.099 0h1.55m13.95 0h1.55m10.85 0h1.55m18.6 0h1.55m7.749 0h1.55m6.199 0h3.099m35.64 0h1.55m51.14 0h4.649m110 0h1.55m85.24 0h1.55m32.54 0h1.55M131.1 2412.3h1.55m125.5 0h7.749m3.099 0h1.55m17.05 0h1.55m6.199 0h1.55m20.15 0h1.55m198.4 0h3.099m10.85 0h1.55m51.14 0h1.55m23.25 0h1.55m21.7 0h1.55m1.55 0h1.55m44.94 0h1.55m3.099 0h1.55M188.4 2426.34h1.55m7.749 0h1.55m9.298 0h1.55m6.199 0h1.55m48.04 0h1.55m1.55 0h1.55m6.199 0h1.55m221.6 0h3.099m61.99 0h1.55m75.94 0h3.099m32.54 0h1.55M165.2 2440.38h1.55m4.649 0h3.099m3.099 0h1.55m6.199 0h1.55m4.649 0h1.55m10.85 0h3.099m15.5 0h1.55m4.649 0h1.55m1.55 0h1.55m18.6 0h3.099m10.85 0h3.099m3.099 0h3.099m10.85 0h1.55m34.09 0h1.55m240.2 0h1.55m21.7 0h4.649m99.18 0h1.55M98.55 2454.42h1.55m23.25 0h3.099m38.74 0h1.55m82.14 0h1.55m4.649 0h4.649m10.85 0h1.55m3.099 0h1.55m17.05 0h3.099m3.099 0h1.55m3.099 0h3.099m3.099 0h1.55m137.9 0h3.099m23.25 0h1.55m43.39 0h1.55m26.35 0h4.649m18.6 0h1.55m58.89 0h1.55m1.55 0h1.55m35.64 0h1.55m23.25 0h1.55M162.1 2468.46h3.099m3.099 0h3.099m24.8 0h1.55m34.09 0h1.55m57.34 0h1.55m10.85 0h1.55m10.85 0h1.55m3.099 0h1.55m17.05 0h1.55m100.7 0h3.099m110 0h1.55m10.85 0h4.649m3.099 0h3.099m41.84 0h1.55m82.14 0h1.55M117.1 2482.5h1.55m55.79 0h1.55m21.7 0h1.55m23.25 0h1.55m13.95 0h1.55m1.55 0h1.55m9.298 0h1.55m21.7 0h1.55m7.749 0h1.55m4.649 0h1.55m9.298 0h1.55m10.85 0h3.099m195.3 0h1.55m32.54 0h1.55m66.64 0h1.55m38.74 0h1.55m20.15 0h1.55M124.9 2496.54h1.55m44.94 0h1.55m43.39 0h1.55m4.649 0h1.55m10.85 0h1.55m66.64 0h1.55m175.1 0h1.55m3.099 0h1.55m24.8 0h1.55m41.84 0h3.099m18.6 0h1.55m1.55 0h1.55m38.74 0h3.099m1.55 0h1.55m27.9 0h1.55m43.39 0h1.55M90.8 2510.58h1.55m17.05 0h3.099m17.05 0h3.099m7.749 0h1.55m46.49 0h1.55m38.74 0h3.099m3.099 0h1.55m88.34 0h1.55m43.39 0h3.099m61.99 0h1.55m26.35 0h1.55m72.84 0h1.55m108.5 0h1.55m26.35 0h1.55"/>
<path stroke="#ee2a2e" d="M90.8 1261.02h1.55m24.8 0h6.199m1.55 0h3.099m3.099 0h1.55m10.85 0h4.649m3.099 0h1.55m4.649 0h4.649m1.55 0h3.099m6.199 0h1.55m4.649 0h3.099m9.298 0h3.099m1.55 0h1.55m1.55 0h1.55m3.099 0h1.55m4.649 0h1.55m3.099 0h1.55m13.95 0h1.55m6.199 0h1.55m6.199 0h1.55m3.099 0h4.649m7.749 0h1.55m3.099 0h1.55m1.55 0h6.199m6.199 0h4.649m3.099 0h1.55m1.55 0h1.55m4.649 0h1.55m1.55 0h1.55m1.55 0h7.749m6.199 0h4.649m18.6 0h1.55m10.85 0h3.099m4.649 0h1.55m1.55 0h1.55m10.85 0h1.55m17.05 0h1.55m3.099 0h1.55m10.85 0h3.099m1.55 0h1.55m3.099 0h1.55m18.6 0h1.55m17.05 0h1.55m3.099 0h1.55m3.099 0h1.55m1.55 0h3.099m1.55 0h1.55m3.099 0h1.55m4.649 0h1.55m4.649 0h1.55m3.099 0h1.55m1.55 0h1.55m1.55 0h3.099m1.55 0h1.55m4.649 0h6.199m1.55 0h1.55m4.649 0h1.55m3.099 0h1.55m6.199 0h4.649m1.55 0h1.55m3.099 0h1.55m1.55 0h6.199m4.649 0h4.649m1.55 0h9.298m1.55 0h4.649m1.55 0h1.55m1.55 0h6.199m6.199 0h3.099m1.55 0h1.55m3.099 0h3.099m9.298 0h4.649m4.649 0h10.85m4.649 0h4.649m1.55 0h1.55m3.099 0h1.55m6.199 0h4.649m1.55 0h1.55m1.55 0h1.55m3.099 0h3.099m1.55 0h3.099M90.8 1275.06h3.099m7.749 0h7.749m1.55 0h1.55m3.099 0h1.55m3.099 0h3.099m1.55 0h4.649m3.099 0h1.55m1.55 0h3.099m4.649 0h1.55m3.099 0h13.95m1.55 0h1.55m1.55 0h1.55m1.55 0h3.099m4.649 0h1.55m1.55 0h12.4m3.099 0h1.55m3.099 0h7.749m3.099 0h15.5m3.099 0h7.749m1.55 0h1.55m1.55 0h6.199m9.298 0h1.55m1.55 0h1.55m3.099 0h1.55m1.55 0h3.099m1.55 0h6.199m10.85 0h1.55m1.55 0h3.099m1.55 0h10.85m1.55 0h7.749m4.649 0h4.649m1.55 0h1.55m4.649 0h1.55m1.55 0h3.099m9.298 0h3.099m6.199 0h1.55m4.649 0h1.55m9.298 0h4.649m3.099 0h1.55m1.55 0h1.55m9.298 0h1.55m10.85 0h4.649m12.4 0h1.55m7.749 0h1.55m3.099 0h1.55m6.199 0h1.55m1.55 0h1.55m6.199 0h1.55m1.55 0h1.55m4.649 0h3.099m1.55 0h1.55m10.85 0h1.55m1.55 0h1.55m1.55 0h1.55m1.55 0h3.099m1.55 0h3.099m3.099 0h1.55m3.099 0h3.099m1.55 0h1.55m1.55 0h3.099m1.55 0h3.099m4.649 0h4.649m1.55 0h3.099m3.099 0h1.55m4.649 0h1.55m6.199 0h1.55m1.55 0h4.649m4.649 0h1.55m3.099 0h1.55m10.85 0h4.649m1.55 0h1.55m1.55 0h7.749m1.55 0h1.55m12.4 0h7.749m1.55 0h1.55m1.55 0h4.649m1.55 0h4.649m1.55 0h6.199m1.55 0h3.099m1.55 0h3.099m3.099 0h3.099m3.099 0h1.55m6.199 0h1.55m1.55 0h4.649m1.55 0h3.099m1.55 0h3.099m3.099 0h4.649M90.8 1289.1h9.298m3.099 0h15.5m1.55 0h3.099m1.55 0h6.199m3.099 0h3.099m1.55 0h3.099m1.55 0h4.649m3.099 0h1.55m1.55 0h1.55m3.099 0h9.298m1.55 0h1.55m3.099 0h3.099m1.55 0h3.099m1.55 0h1.55m1.55 0h7.749m1.55 0h15.5m1.55 0h3.099m1.55 0h10.85m3.099 0h15.5m1.55 0h6.199m3.099 0h6.199m3.099 0h1.55m6.199 0h4.649m7.749 0h7.749m1.55 0h3.099m6.199 0h1.55m4.649 0h1.55m1.55 0h6.199m3.099 0h4.649m20.15 0h4.649m1.55 0h1.55m3.099 0h3.099m1.55 0h1.55m12.4 0h3.099m1.55 0h3.099m1.55 0h4.649m1.55 0h3.099m4.649 0h1.55m1.55 0h1.55m1.55 0h1.55m1.55 0h1.55m3.099 0h4.649m3.099 0h1.55m3.099 0h1.55m10.85 0h1.55m4.649 0h1.55m3.099 0h1.55m9.298 0h1.55m4.649 0h1.55m1.55 0h4.649m1.55 0h1.55m1.55 0h1.55m3.099 0h1.55m1.55 0h3.099m6.199 0h13.95m3.099 0h6.199m3.099 0h1.55m1.55 0h1.55m1.55 0h9.298m1.55 0h1.55m1.55 0h3.099m4.649 0h24.8m1.55 0h7.749m3.099 0h9.298m3.099 0h6.199m6.199 0h9.298m1.55 0h3.099m3.099 0h1.55m1.55 0h1.55m1.55 0h7.749m13.95 0h1.55m3.099 0h3.099m3.099 0h3.099m1.55 0h1.55m3.099 0h1.55m3.099 0h6.199m1.55 0h4.649m1.55 0h6.199M92.35 1303.14h23.25m1.55 0h1.55m1.55 0h7.749m4.649 0h1.55m58.89 0h1.55m1.55 0h4.649m3.099 0h3.099m1.55 0h10.85m1.55 0h1.55m1.55 0h9.298m1.55 0h1.55m3.099 0h4.649m26.35 0h4.649m46.49 0h1.55m7.749 0h3.099m3.099 0h4.649m9.298 0h1.55m1.55 0h1.55m10.85 0h1.55m4.649 0h3.099m12.4 0h1.55m4.649 0h3.099m4.649 0h1.55m3.099 0h1.55m3.099 0h1.55m6.199 0h1.55m3.099 0h3.099m9.298 0h1.55m4.649 0h1.55m4.649 0h1.55m7.749 0h1.55m6.199 0h4.649m3.099 0h3.099m1.55 0h1.55m1.55 0h1.55m7.749 0h1.55m1.55 0h3.099m1.55 0h1.55m1.55 0h1.55m4.649 0h3.099m3.099 0h1.55m3.099 0h1.55m3.099 0h12.4m4.649 0h1.55m13.95 0h10.85m1.55 0h4.649m1.55 0h3.099m7.749 0h10.85m4.649 0h1.55m1.55 0h4.649m1.55 0h3.099m3.099 0h1.55m1.55 0h6.199m9.298 0h4.649m1.55 0h1.55m3.099 0h4.649m1.55 0h1.55m1.55 0h1.55m4.649 0h1.55m1.55 0h1.55m3.099 0h3.099m3.099 0h7.749m1.55 0h6.199m4.649 0h1.55m3.099 0h1.55m1.55 0h1.55M90.8 1317.18h4.649m3.099 0h1.55m1.55 0h4.649m3.099 0h4.649m1.55 0h7.749m1.55 0h1.55m3.099 0h9.298m1.55 0h3.099m1.55 0h3.099m3.099 0h6.199m1.55 0h6.199m3.099 0h10.85m3.099 0h10.85m1.55 0h1.55m1.55 0h3.099m1.55 0h1.55m3.099 0h7.749m1.55 0h6.199m15.5 0h4.649m4.649 0h10.85m1.55 0h3.099m1.55 0h4.649m3.099 0h24.8m1.55 0h1.55m3.099 0h4.649m1.55 0h3.099m1.55 0h13.95m1.55 0h7.749m1.55 0h1.55m3.099 0h1.55m3.099 0h1.55m6.199 0h1.55m1.55 0h1.55m7.749 0h3.099m1.55 0h1.55m1.55 0h3.099m1.55 0h3.099m4.649 0h6.199m1.55 0h7.749m1.55 0h4.649m1.55 0h4.649m6.199 0h1.55m1.55 0h1.55m4.649 0h3.099m1.55 0h4.649m12.4 0h3.099m4.649 0h1.55m1.55 0h4.649m1.55 0h9.298m1.55 0h3.099m1.55 0h3.099m1.55 0h7.749m1.55 0h1.55m3.099 0h7.749m1.55 0h3.099m3.099 0h9.298m1.55 0h13.95m4.649 0h9.298m3.099 0h3.099m1.55 0h15.5m3.099 0h4.649m3.099 0h7.749m1.55 0h4.649m1.55 0h10.85m1.55 0h1.55m6.199 0h1.55m1.55 0h18.6m1.55 0h4.649m1.55 0h4.649m3.099 0h10.85m3.099 0h3.099m1.55 0h4.649m12.4 0h1.55M98.55 1331.22h1.55m368.8 0h1.55m94.53 0h1.55m41.84 0h3.099m32.54 0h1.55M213.2 1345.26h1.55m17.05 0h1.55m34.09 0h1.55m1.55 0h1.55m52.69 0h1.55m105.4 0h1.55m38.74 0h1.55m52.69 0h1.55m89.89 0h1.55M109.4 1359.3h1.55m30.99 0h1.55m111.6 0h1.55m6.199 0h4.649m23.25 0h1.55m23.25 0h1.55m189.1 0h1.55m60.44 0h1.55m52.69 0h1.55M132.6 1373.34h1.55m20.15 0h1.55m75.94 0h3.099m58.89 0h1.55m60.44 0h1.55m238.7 0h1.55m9.298 0h1.55M290.7 1387.38h3.099m55.79 0h1.55m150.3 0h1.55m68.19 0h1.55m103.8 0h1.55M106.3 1401.42h1.55m12.4 0h3.099m127.1 0h1.55m4.649 0h1.55m429.3 0h1.55m1.55 0h1.55m1.55 0h1.55m3.099 0h6.199M145 1415.46h1.55m52.69 0h1.55m34.09 0h3.099m1.55 0h1.55m60.44 0h3.099m10.85 0h1.55m204.6 0h3.099m44.94 0h1.55m9.298 0h1.55M131.1 1429.5h1.55m20.15 0h1.55m74.39 0h1.55m38.74 0h1.55m37.19 0h3.099m75.94 0h3.099m12.4 0h1.55m175.1 0h1.55m66.64 0h1.55m21.7 0h1.55M131.1 1443.54h1.55m3.099 0h1.55m61.99 0h1.55m23.25 0h3.099m52.69 0h1.55m82.14 0h1.55m136.4 0h1.55m192.2 0h1.55m3.099 0h1.55M317.1 1457.58h1.55m7.749 0h1.55m3.099 0h3.099m35.64 0h1.55m108.5 0h3.099m26.35 0h1.55m7.749 0h4.649m4.649 0h1.55m34.09 0h1.55m15.5 0h1.55m91.44 0h1.55m26.35 0h1.55M92.35 1471.62h1.55m58.89 0h4.649m223.2 0h1.55m111.6 0h3.099m43.39 0h1.55m17.05 0h1.55m75.94 0h1.55M155.9 1485.66h1.55m3.099 0h1.55m1.55 0h1.55m24.8 0h1.55m1.55 0h3.099m7.749 0h3.099m7.749 0h1.55m60.44 0h1.55m260.4 0h1.55m51.14 0h1.55m6.199 0h1.55m88.34 0h1.55M95.45 1499.7h1.55m40.29 0h1.55m38.74 0h1.55m32.54 0h3.099m15.5 0h1.55m6.199 0h1.55m80.59 0h1.55m268.1 0h1.55m110 0h1.55M365.1 1513.74h1.55m116.2 0h1.55m6.199 0h1.55m54.24 0h1.55m40.29 0h1.55m13.95 0h1.55m75.94 0h3.099M146.6 1527.78h1.55m1.55 0h1.55m41.84 0h1.55m52.69 0h1.55m4.649 0h3.099m175.1 0h3.099m60.44 0h1.55m10.85 0h3.099m3.099 0h1.55m69.74 0h1.55m55.79 0h1.55M194.6 1541.82h1.55m21.7 0h3.099m7.749 0h1.55m74.39 0h3.099m20.15 0h1.55m179.8 0h1.55m29.45 0h1.55m66.64 0h1.55M205.5 1555.86h1.55m3.099 0h1.55m4.649 0h3.099m4.649 0h3.099m105.4 0h3.099m10.85 0h1.55m80.59 0h1.55m74.39 0h1.55m37.19 0h1.55m20.15 0h1.55m82.14 0h1.55m27.9 0h1.55m17.05 0h3.099M169.8 1569.9h1.55m1.55 0h1.55m17.05 0h3.099m46.49 0h1.55m6.199 0h1.55m6.199 0h1.55m17.05 0h3.099m18.6 0h1.55m49.59 0h1.55m72.84 0h1.55m24.8 0h1.55m17.05 0h3.099m155 0h1.55m3.099 0h3.099M123.3 1583.94h1.55m9.298 0h1.55m4.649 0h1.55m4.649 0h1.55m46.49 0h1.55m23.25 0h1.55m12.4 0h1.55m30.99 0h1.55m10.85 0h1.55m6.199 0h1.55m7.749 0h1.55m54.24 0h1.55m176.7 0h1.55m142.6 0h1.55M92.35 1597.98h1.55m297.6 0h1.55m181.3 0h1.55m65.09 0h1.55M112.5 1612.02h1.55m131.7 0h1.55m57.34 0h1.55m371.9 0h1.55M183.8 1626.06h1.55m71.29 0h1.55m55.79 0h1.55m103.8 0h1.55m150.3 0h1.55m38.74 0h1.55M140.4 1640.1h1.55m18.6 0h1.55m114.7 0h1.55m21.7 0h1.55m43.39 0h1.55m60.44 0h1.55m199.9 0h1.55M200.8 1654.14h1.55m68.19 0h1.55m4.649 0h1.55m18.6 0h1.55m65.09 0h1.55m108.5 0h1.55m52.69 0h1.55m21.7 0h1.55m46.49 0h1.55m13.95 0h1.55M248.9 1668.18h1.55m193.7 0h3.099m55.79 0h1.55m133.3 0h3.099M362 1696.26h1.55m113.1 0h1.55m201.5 0h1.55M166.7 1710.3h1.55m516.1 0h1.55M276.8 1724.34h1.55m68.19 0h1.55M245.8 1738.38h3.099m60.44 0h1.55m376.6 0h1.55M141.9 1752.42h1.55m80.59 0h1.55m48.04 0h1.55m354.9 0h1.55M211.7 1766.46h1.55M543.3 1822.62h1.55m34.09 0h3.099M97 1836.66h1.55m61.99 0h1.55m29.45 0h1.55M544.9 1850.7h1.55M97 1864.74h1.55m443.2 0h1.55m35.64 0h1.55M532.5 1878.78h1.55m120.9 0h1.55M157.4 1892.82h3.099m52.69 0h1.55m1.55 0h1.55m9.298 0h1.55m1.55 0h1.55m122.4 0h1.55m120.9 0h1.55m29.45 0h1.55m29.45 0h1.55m151.9 0h1.55m7.749 0h1.55M182.2 1906.86h1.55m12.4 0h1.55m20.15 0h1.55m82.14 0h1.55m150.3 0h1.55m240.2 0h1.55M92.35 1920.9h1.55m106.9 0h3.099m49.59 0h1.55m29.45 0h1.55m110 0h1.55m137.9 0h1.55m20.15 0h1.55m77.49 0h1.55M155.9 1934.94h4.649m72.84 0h1.55m1.55 0h1.55m21.7 0h1.55m30.99 0h1.55M301.6 1948.98h3.099m268.1 0h1.55M154.3 1963.02h1.55m110 0h1.55m18.6 0h1.55m68.19 0h1.55m156.5 0h1.55m100.7 0h1.55m13.95 0h1.55m27.9 0h1.55M112.5 1977.06h1.55m15.5 0h1.55m20.15 0h1.55m52.69 0h1.55m48.04 0h1.55m27.9 0h1.55m179.8 0h1.55m10.85 0h1.55m40.29 0h1.55m111.6 0h1.55M117.1 1991.1h1.55m167.4 0h1.55m41.84 0h1.55m3.099 0h1.55m248 0h3.099m72.84 0h1.55m1.55 0h1.55M197.7 2005.14h1.55m35.64 0h1.55m309.9 0h1.55M98.55 2019.18h1.55m89.89 0h1.55m54.24 0h1.55m249.5 0h1.55m6.199 0h1.55m119.3 0h1.55M185.3 2033.22h3.099m27.9 0h1.55m52.69 0h4.649m43.39 0h1.55m210.8 0h3.099m108.5 0h1.55M290.7 2047.26h1.55m34.09 0h3.099m249.5 0h1.55m40.29 0h1.55M90.8 2061.3h1.55m125.5 0h1.55m280.5 0h3.099m136.4 0h1.55m27.9 0h1.55m3.099 0h1.55M177.6 2075.34h1.55m92.98 0h1.55m100.7 0h1.55m198.4 0h1.55m82.14 0h1.55m10.85 0h1.55m20.15 0h1.55M306.2 2089.38h1.55m7.749 0h1.55m80.59 0h1.55m127.1 0h3.099m120.9 0h1.55m10.85 0h1.55M270.6 2103.42h1.55m26.35 0h1.55m41.84 0h1.55m257.3 0h1.55M146.6 2117.46h1.55m66.64 0h1.55m60.44 0h1.55m4.649 0h1.55m404.5 0h1.55m1.55 0h1.55M155.9 2131.5h1.55m416.9 0h1.55m4.649 0h1.55m38.74 0h1.55m13.95 0h1.55m58.89 0h1.55M104.7 2145.54h1.55m330.1 0h1.55m258.8 0h1.55M222.5 2159.58h1.55m17.05 0h1.55m204.6 0h1.55m10.85 0h1.55m7.749 0h4.649m21.7 0h1.55m13.95 0h1.55m44.94 0h1.55M107.8 2173.62h1.55m83.69 0h1.55m4.649 0h1.55m15.5 0h1.55m49.59 0h1.55m13.95 0h1.55m1.55 0h3.099m15.5 0h3.099m3.099 0h1.55m96.08 0h3.099m43.39 0h1.55m48.04 0h1.55m21.7 0h1.55m27.9 0h1.55m15.5 0h3.099m9.298 0h1.55m30.99 0h1.55m7.749 0h1.55M90.8 2187.66h1.55m30.99 0h1.55m40.29 0h1.55m10.85 0h3.099m17.05 0h1.55m4.649 0h1.55m44.94 0h3.099m24.8 0h1.55m7.749 0h1.55m7.749 0h3.099m4.649 0h1.55m66.64 0h3.099m17.05 0h1.55m97.63 0h1.55m168.9 0h1.55m15.5 0h1.55m3.099 0h1.55M104.7 2201.7h1.55m1.55 0h4.649m21.7 0h1.55m13.95 0h1.55m37.19 0h1.55m29.45 0h1.55m9.298 0h1.55m1.55 0h1.55m9.298 0h1.55m9.298 0h1.55m12.4 0h1.55m15.5 0h3.099m179.8 0h1.55m18.6 0h1.55m15.5 0h1.55m21.7 0h1.55m15.5 0h1.55m34.09 0h4.649m4.649 0h3.099m1.55 0h4.649m23.25 0h1.55m57.34 0h1.55m1.55 0h1.55m1.55 0h15.5M93.9 2215.74h1.55m7.749 0h6.199m61.99 0h1.55m24.8 0h1.55m23.25 0h1.55m3.099 0h1.55m15.5 0h1.55m30.99 0h1.55m4.649 0h1.55m32.54 0h1.55m20.15 0h1.55m65.09 0h4.649m35.64 0h1.55m27.9 0h1.55m20.15 0h1.55m40.29 0h1.55m34.09 0h1.55m80.59 0h1.55M177.6 2229.78h1.55m58.89 0h3.099m24.8 0h1.55m10.85 0h1.55m119.3 0h1.55m43.39 0h1.55m4.649 0h1.55m4.649 0h1.55m3.099 0h3.099m1.55 0h4.649m30.99 0h1.55m26.35 0h1.55m21.7 0h1.55m10.85 0h1.55m18.6 0h1.55m15.5 0h1.55m41.84 0h1.55m3.099 0h1.55m27.9 0h1.55M90.8 2243.82h1.55m7.749 0h3.099m3.099 0h1.55m21.7 0h1.55m77.49 0h1.55m63.54 0h1.55m20.15 0h1.55m1.55 0h3.099m178.2 0h1.55m9.298 0h1.55m20.15 0h1.55m61.99 0h1.55m13.95 0h1.55m34.09 0h1.55m60.44 0h1.55M269 2257.86h3.099m97.63 0h1.55m24.8 0h1.55m105.4 0h3.099m3.099 0h3.099m18.6 0h4.649m4.649 0h1.55m68.19 0h3.099m20.15 0h1.55m30.99 0h1.55M131.1 2271.9h1.55m83.69 0h3.099m38.74 0h1.55m40.29 0h3.099m38.74 0h1.55m48.04 0h1.55m261.9 0h1.55m4.649 0h1.55m24.8 0h3.099m1.55 0h1.55M90.8 2285.94h1.55m6.199 0h1.55m44.94 0h1.55m27.9 0h1.55m3.099 0h1.55m27.9 0h1.55m17.05 0h1.55m77.49 0h1.55m7.749 0h1.55m139.5 0h1.55m38.74 0h1.55m24.8 0h3.099m21.7 0h4.649m41.84 0h1.55m37.19 0h3.099m1.55 0h1.55m6.199 0h1.55m37.19 0h1.55M118.7 2299.98h3.099m32.54 0h1.55m235.6 0h1.55m23.25 0h1.55m58.89 0h3.099m68.19 0h6.199m89.89 0h1.55m20.15 0h1.55M129.5 2314.02h1.55m40.29 0h1.55m51.14 0h1.55m91.44 0h1.55m3.099 0h1.55m61.99 0h1.55m60.44 0h1.55m18.6 0h1.55m85.24 0h1.55m10.85 0h1.55m9.298 0h1.55m7.749 0h1.55m13.95 0h1.55m15.5 0h1.55m10.85 0h1.55M166.7 2328.06h3.099m145.7 0h1.55m116.2 0h1.55m260.4 0h1.55M145 2342.1h1.55m463.4 0h1.55m30.99 0h1.55m51.14 0h1.55M117.1 2356.14h1.55m65.09 0h1.55m105.4 0h3.099m313 0h1.55M202.4 2370.18h1.55m46.49 0h3.099m4.649 0h1.55m12.4 0h1.55m77.49 0h1.55m68.19 0h1.55m9.298 0h1.55m30.99 0h1.55m38.74 0h1.55m18.6 0h1.55m24.8 0h3.099m29.45 0h1.55m4.649 0h1.55m57.34 0h1.55m18.6 0h1.55m3.099 0h1.55m18.6 0h3.099M183.8 2384.22h1.55m29.45 0h1.55m13.95 0h1.55m27.9 0h1.55m38.74 0h1.55m113.1 0h1.55m29.45 0h1.55m49.59 0h3.099m3.099 0h6.199m51.14 0h1.55m13.95 0h1.55m17.05 0h1.55m35.64 0h1.55m41.84 0h1.55M149.7 2398.26h1.55m85.24 0h1.55m6.199 0h1.55m26.35 0h1.55m23.25 0h3.099m4.649 0h1.55m9.298 0h1.55m131.7 0h1.55m82.14 0h1.55m32.54 0h1.55m10.85 0h1.55m4.649 0h1.55M117.1 2412.3h1.55m82.14 0h3.099m44.94 0h1.55m48.04 0h3.099m4.649 0h1.55m17.05 0h4.649m77.49 0h1.55m91.44 0h1.55m3.099 0h1.55m18.6 0h1.55m13.95 0h1.55m106.9 0h3.099m41.84 0h1.55M115.6 2426.34h3.099m68.19 0h1.55m26.35 0h1.55m6.199 0h1.55m9.298 0h3.099m63.54 0h1.55m6.199 0h1.55m12.4 0h1.55m41.84 0h1.55m119.3 0h1.55m52.69 0h1.55m24.8 0h1.55m1.55 0h1.55m18.6 0h1.55m15.5 0h1.55m77.49 0h1.55m1.55 0h1.55m1.55 0h1.55M324.8 2440.38h1.55m27.9 0h1.55m137.9 0h1.55m23.25 0h1.55m4.649 0h1.55m29.45 0h1.55m21.7 0h1.55m60.44 0h1.55m23.25 0h1.55m21.7 0h1.55m1.55 0h1.55M196.2 2454.42h1.55m246.4 0h1.55m151.9 0h1.55m15.5 0h1.55m24.8 0h3.099M210.1 2468.46h1.55m15.5 0h1.55m6.199 0h1.55m13.95 0h1.55m32.54 0h1.55m9.298 0h1.55m3.099 0h1.55m12.4 0h1.55m20.15 0h1.55m137.9 0h3.099m103.8 0h1.55m13.95 0h1.55m40.29 0h1.55M151.2 2482.5h1.55m103.8 0h3.099m32.54 0h1.55m23.25 0h3.099m63.54 0h1.55m92.98 0h3.099m85.24 0h1.55m75.94 0h1.55m15.5 0h1.55M290.7 2496.54h1.55m15.5 0h1.55m133.3 0h1.55m164.3 0h1.55m3.099 0h3.099m9.298 0h1.55m46.49 0h1.55m9.298 0h4.649M106.3 2510.58h1.55m190.6 0h1.55m77.49 0h1.55m37.19 0h1.55m4.649 0h1.55m60.44 0h1.55m54.24 0h1.55m4.649 0h1.55m66.64 0h1.55m1.55 0h1.55m72.84 0h1.55m6.199 0h1.55"/>
</g>
<path d="M47.3 1274H3.2V1887H24.9M45.7 1530H24.9V2245H40.4M90.6 1261.0H47.3V1287H59M90.6 1275.1H59V1299H63.6M90.6 1289.1H63.6V1309.6H68M90.6 1303.1H68V1317.2H90.6M45.7 1354.5V1527M45.7 1354.5H48.7M90.6 1331.2H48.7V1357.9H49.4M90.6 1345.3H49.4V1371.9H52.4M90.6 1359.3H52.4V1381.8H55.4M90.6 1373.3H55.4V1391.6H58.4M90.6 1387.4H58.4V1401.4H90.6M49.5 1340V2150M45.7 1440H49.5M90.6 1415.5H53.6V1443.5H90.6M53.6 1429.5H49.5M53.6 1429.5H90.6M90.6 1457.6H54.2V1471.6H90.6M54.2 1464.6H49.5M90.6 1485.7H55.7V1499.7H90.6M55.7 1492.7H49.5M90.6 1513.7H55.4V1527.8H90.6M55.4 1520.8H49.5M90.6 1541.8H57.5V1569.9H90.6M57.5 1555.9H49.5M57.5 1555.9H90.6M46.8 1530V1584M90.6 1583.9H47.0V1610.6H50.5M90.6 1598.0H50.5V1624.7H58.6M90.6 1612.0H58.6V1638.7H62.3M90.6 1626.1H62.3V1652.7H64.0M90.6 1640.1H64.0V1666.8H64.8M90.6 1654.1H64.8V1680.8H67.3M90.6 1668.2H67.3V1694.9H68.0M90.6 1682.2H68.0V1708.9H69.9M90.6 1696.3H69.9V1722.9H71.5M90.6 1710.3H71.5V1737.0H72.0M90.6 1724.3H72.0V1751.0H73.2M90.6 1738.4H73.2V1765.1H74.0M90.6 1752.4H74.0V1779.1H75.8M90.6 1766.5H75.8V1788.9H79.1M90.6 1780.5H79.1V1798.8H83.3M90.6 1794.5H83.3V1808.6H90.6M50.5 1590V2110M54.5 1890V2150M50.5 2000H54.5M90.6 1822.6H64.0V1850.7H90.6M64.0 1836.7H50.5M64.0 1836.7H90.6M90.6 1864.7H61.4V1878.8H90.6M61.4 1871.8H50.5M90.6 1892.8H59.8V1906.9H90.6M59.8 1899.8H50.5M90.6 1934.9H58.0V1949.0H90.6M58.0 1942.0H50.5M90.6 1963.0H59.0V1977.1H90.6M59.0 1970.0H50.5M90.6 1991.1H57.7V2005.1H90.6M57.7 1998.1H50.5M90.6 2019.2H54.7V2033.2H90.6M54.7 2026.2H50.5M90.6 2047.3H60.6V2061.3H90.6M60.6 2054.3H50.5M90.6 2103.4H61.0V2117.5H90.6M61.0 2110.4H50.5M90.6 2131.5H54.7V2145.5H90.6M54.7 2138.5H50.5M90.6 1920.9H50.5M90.6 2075.3H50.5M90.6 2089.4H50.5M40.4 2185.6V2292.8M40.4 2185.6H48.8M40.4 2292.8H44M48.8 2159.6V2230M90.6 2159.6H48.8V2186.3H53.0M90.6 2173.6H53.0V2196.1H55.5M90.6 2187.7H55.5V2205.9H59.0M90.6 2201.7H59.0V2215.7H90.6M90.6 2229.8H51.5V2243.8H90.6M51.5 2236.8H48.8M44 2272V2500M44 2330H47.0M47.0 2272V2505M90.6 2257.9H52.0V2271.9H90.6M52.0 2264.9H47.0M90.6 2285.9H50.0V2314.0H90.6M50.0 2300.0H47.0M50.0 2300.0H90.6M90.6 2328.1H54.0V2356.1H90.6M54.0 2342.1H47.0M54.0 2342.1H90.6M90.6 2370.2H51.0V2384.2H90.6M51.0 2377.2H47.0M90.6 2398.3H52.0V2412.3H90.6M52.0 2405.3H47.0M90.6 2426.3H50.0V2440.4H90.6M50.0 2433.4H47.0M90.6 2454.4H52.0V2468.5H90.6M52.0 2461.4H47.0M90.6 2482.5H51.0V2510.6H90.6M51.0 2496.5H47.0M51.0 2496.5H90.6" fill="none" stroke="#111" stroke-width="1.5"/>
<text x="709.6" y="1225.8" font-size="16.3" font-weight="bold">cluster</text>
<text x="709.6" y="1245.9" font-size="16.3" font-weight="bold">Age</text>
<g font-size="16.2">
<text x="709.8" y="1265.8">SMARCC1</text>
<text x="709.8" y="1279.8">BPTF</text>
<text x="709.8" y="1293.9">RPL3</text>
<text x="709.8" y="1307.9">HNRNPH1</text>
<text x="709.8" y="1322.0">TUBA1A</text>
<text x="709.8" y="1336.0">PTCH1</text>
<text x="709.8" y="1350.0">METTL3</text>
<text x="709.8" y="1364.1">NUP205</text>
<text x="709.8" y="1378.1">LRP4</text>
<text x="709.8" y="1392.2">NOTCH2</text>
<text x="709.8" y="1406.2">NOTCH3</text>
<text x="709.8" y="1420.2">RNF111</text>
<text x="709.8" y="1434.3">PIK3CA</text>
<text x="709.8" y="1448.3">UBE2Z</text>
<text x="709.8" y="1462.4">MTOR</text>
<text x="709.8" y="1476.4">TET3</text>
<text x="709.8" y="1490.4">FGFR2</text>
<text x="709.8" y="1504.5">HDAC6</text>
<text x="709.8" y="1518.5">ATG13</text>
<text x="709.8" y="1532.6">TRERF1</text>
<text x="709.8" y="1546.6">ZNF423</text>
<text x="709.8" y="1560.6">FBLN1</text>
<text x="709.8" y="1574.7">RAB11B</text>
<text x="709.8" y="1588.7">KLHL12</text>
<text x="709.8" y="1602.8">CYTH1</text>
<text x="709.8" y="1616.8">AMOT</text>
<text x="709.8" y="1630.8">LRRC8D</text>
<text x="709.8" y="1644.9">RAPGEF1</text>
<text x="709.8" y="1658.9">PTK7</text>
<text x="709.8" y="1673.0">RAI1</text>
<text x="709.8" y="1687.0">FOSL2</text>
<text x="709.8" y="1701.0">CACNA1G</text>
<text x="709.8" y="1715.1">KLC2</text>
<text x="709.8" y="1729.1">KIRREL3</text>
<text x="709.8" y="1743.2">ADAM11</text>
<text x="709.8" y="1757.2">ABCA2</text>
<text x="709.8" y="1771.2">HSPA12B</text>
<text x="709.8" y="1785.3">FOXJ1</text>
<text x="709.8" y="1799.3">MROH2A</text>
<text x="709.8" y="1813.4">ODF1</text>
<text x="709.8" y="1827.4">PRKCE</text>
<text x="709.8" y="1841.4">CLSTN3</text>
<text x="709.8" y="1855.5">GRM5</text>
<text x="709.8" y="1869.5">THBS2</text>
<text x="709.8" y="1883.6">TRIM71</text>
<text x="709.8" y="1897.6">ARHGEF17</text>
<text x="709.8" y="1911.6">SPEG</text>
<text x="709.8" y="1925.7">ATXN2L</text>
<text x="709.8" y="1939.7">NCOR2</text>
<text x="709.8" y="1953.8">ZBTB2</text>
<text x="709.8" y="1967.8">RBFOX3</text>
<text x="709.8" y="1981.8">TCF20</text>
<text x="709.8" y="1995.9">CAD</text>
<text x="709.8" y="2009.9">PREP</text>
<text x="709.8" y="2024.0">LDB1</text>
<text x="709.8" y="2038.0">ZNF592</text>
<text x="709.8" y="2052.0">CLCN4</text>
<text x="709.8" y="2066.1">NDST3</text>
<text x="709.8" y="2080.1">FMN2</text>
<text x="709.8" y="2094.2">NRXN2</text>
<text x="709.8" y="2108.2">AGPAT3</text>
<text x="709.8" y="2122.2">ARHGAP23</text>
<text x="709.8" y="2136.3">KIF26B</text>
<text x="709.8" y="2150.3">LGI1</text>
<text x="709.8" y="2164.4">ATP2B1</text>
<text x="709.8" y="2178.4">PHF14</text>
<text x="709.8" y="2192.4">STAG2</text>
<text x="709.8" y="2206.5">PTEN</text>
<text x="709.8" y="2220.5">TCERG1</text>
<text x="709.8" y="2234.6">LRP6</text>
<text x="709.8" y="2248.6">LARP1</text>
<text x="709.8" y="2262.6">PPP2R1A</text>
<text x="709.8" y="2276.7">PSMD13</text>
<text x="709.8" y="2290.7">FUT8</text>
<text x="709.8" y="2304.8">PTPRF</text>
<text x="709.8" y="2318.8">FBXO11</text>
<text x="709.8" y="2332.8">KIF1A</text>
<text x="709.8" y="2346.9">ASXL3</text>
<text x="709.8" y="2360.9">CDKL5</text>
<text x="709.8" y="2375.0">PLCG1</text>
<text x="709.8" y="2389.0">ATP6V0B</text>
<text x="709.8" y="2403.0">WSB2</text>
<text x="709.8" y="2417.1">GON4L</text>
<text x="709.8" y="2431.1">ITCH</text>
<text x="709.8" y="2445.2">EP300</text>
<text x="709.8" y="2459.2">SF1</text>
<text x="709.8" y="2473.2">RAD54L2</text>
<text x="709.8" y="2487.3">GSE1</text>
<text x="709.8" y="2501.3">ACAP2</text>
<text x="709.8" y="2515.4">LRP8</text>
</g>
<defs><linearGradient id="gf" x1="0" x2="0" y1="0" y2="1"><stop offset="0" stop-color="#ee2a2e"/><stop offset="0.5" stop-color="#f48c8e"/><stop offset="1" stop-color="#fff"/></linearGradient></defs>
<rect x="810.2" y="1210.2" width="17" height="251.5" fill="url(#gf)"/>
<text x="795.3" y="1201.3" font-size="19.9">High</text>
<text x="803.0" y="1484.7" font-size="19.9">Low</text>
<text x="834.3" y="1216.5" font-size="16.2">1</text>
<text x="833.3" y="1266.5" font-size="16.2">0.8</text>
<text x="833.3" y="1316.8" font-size="16.2">0.6</text>
<text x="833.3" y="1366.8" font-size="16.2">0.4</text>
<text x="833.3" y="1417.2" font-size="16.2">0.2</text>
<text x="834.3" y="1467.2" font-size="16.2">0</text>
<text transform="translate(806,1328) rotate(-90)" font-size="21" text-anchor="middle">expression</text>
<text x="861.7" y="1222.0" font-size="16.1" font-weight="bold">cluster</text>
<rect x="861.5" y="1228.5" width="23.4" height="24.2" fill="#6d6e70"/>
<text x="891.0" y="1245.8" font-size="15.8">NEC</text>
<rect x="861.5" y="1252.5" width="23.4" height="24.2" fill="#b07c2e"/>
<text x="891.0" y="1269.8" font-size="15.8">RGC</text>
<rect x="861.5" y="1276.4" width="23.4" height="24.2" fill="#2b93d3"/>
<text x="891.0" y="1293.7" font-size="15.8">IPC</text>
<rect x="861.5" y="1300.4" width="23.4" height="24.2" fill="#0e7c5c"/>
<text x="891.0" y="1317.7" font-size="15.8">NasN</text>
<rect x="861.5" y="1324.4" width="23.4" height="24.2" fill="#d4c628"/>
<text x="891.0" y="1341.7" font-size="15.8">ExN</text>
<rect x="861.5" y="1348.3" width="23.4" height="24.2" fill="#18609a"/>
<text x="891.0" y="1365.6" font-size="15.8">InN</text>
<rect x="861.5" y="1372.3" width="23.4" height="24.2" fill="#a3502a"/>
<text x="891.0" y="1389.6" font-size="15.8">Astro</text>
<rect x="861.5" y="1396.3" width="23.4" height="24.2" fill="#bf478c"/>
<text x="891.0" y="1413.6" font-size="15.8">OPC</text>
<rect x="861.5" y="1420.3" width="23.4" height="24.2" fill="#4d5156"/>
<text x="891.0" y="1437.6" font-size="15.8">Oligo</text>
<rect x="861.5" y="1444.2" width="23.4" height="24.2" fill="#fbb829"/>
<text x="891.0" y="1461.5" font-size="15.8">Microglia</text>
<rect x="861.5" y="1468.2" width="23.4" height="24.2" fill="#89c9ee"/>
<text x="891.0" y="1485.5" font-size="15.8">Endo</text>
<rect x="861.5" y="1492.2" width="23.4" height="24.2" fill="#6cc5a4"/>
<text x="891.0" y="1509.5" font-size="15.8">Pericyte</text>
<text x="861.7" y="1546.3" font-size="16.1" font-weight="bold">Age</text>
<rect x="861.5" y="1552.4" width="23.4" height="24.2" fill="#e8a025"/>
<text x="891.0" y="1570.4" font-size="15.8">125days</text>
<rect x="861.5" y="1576.4" width="23.4" height="24.2" fill="#5ab4e5"/>
<text x="891.0" y="1594.4" font-size="15.8">16PCW</text>
<rect x="861.5" y="1600.3" width="23.4" height="24.2" fill="#1e9d74"/>
<text x="891.0" y="1618.3" font-size="15.8">19PCW</text>
<rect x="861.5" y="1624.3" width="23.4" height="24.2" fill="#ece43c"/>
<text x="891.0" y="1642.3" font-size="15.8">20PCW</text>
<rect x="861.5" y="1648.3" width="23.4" height="24.2" fill="#1875b8"/>
<text x="891.0" y="1666.3" font-size="15.8">5PCW</text>
<rect x="861.5" y="1672.2" width="23.4" height="24.2" fill="#d5652a"/>
<text x="891.0" y="1690.2" font-size="15.8">6PCW</text>
<rect x="861.5" y="1696.2" width="23.4" height="24.2" fill="#cc7bb0"/>
<text x="891.0" y="1714.2" font-size="15.8">8PCW</text>
<text x="1043.0" y="1250.0" font-size="26.5" font-weight="bold">g</text>
<text x="1523.5" y="1230.1" font-size="24.4" text-anchor="middle">CH risk gene enrichment in prenatal human brain</text>
<rect x="1148.6" y="1438.3" width="51.8" height="55.6" fill="#f07f78"/>
<rect x="1213.5" y="1468.0" width="51.8" height="25.9" fill="#dc9738"/>
<rect x="1278.5" y="1493.2" width="51.8" height="0.7" fill="#e6ecd8"/>
<rect x="1343.4" y="1493.2" width="51.8" height="0.7" fill="#e6ecd8"/>
<rect x="1408.4" y="1459.9" width="51.8" height="34.0" fill="#4bb35b"/>
<rect x="1473.3" y="1486.1" width="51.8" height="7.8" fill="#45b99a"/>
<rect x="1538.2" y="1480.3" width="51.8" height="13.6" fill="#43b9b5"/>
<rect x="1603.2" y="1486.1" width="51.8" height="7.8" fill="#4aaee3"/>
<rect x="1668.1" y="1434.0" width="51.8" height="59.9" fill="#7c9acd"/>
<rect x="1733.1" y="1493.2" width="51.8" height="0.7" fill="#e8e8ee"/>
<rect x="1798.0" y="1388.7" width="51.8" height="105.2" fill="#cc7db4"/>
<rect x="1862.9" y="1440.0" width="51.8" height="53.9" fill="#ee72a8"/>
<path d="M1136.5 1338.0H1927.1" stroke="#000" stroke-width="1.9" stroke-dasharray="9.2 5.8"/>
<path d="M1136.5 1392.2H1927.1" stroke="#000" stroke-width="1.9" stroke-dasharray="9.2 5.8"/>
<rect x="1136.5" y="1246.2" width="790.6" height="254.3" fill="none" stroke="#222" stroke-width="2.1"/>
<path d="M1128.7 1262.0H1136.5" stroke="#222" stroke-width="3.4"/>
<text x="1123.5" y="1270.6" font-size="24" text-anchor="end">3</text>
<path d="M1128.7 1338.0H1136.5" stroke="#222" stroke-width="3.4"/>
<text x="1123.5" y="1346.6" font-size="24" text-anchor="end">2</text>
<path d="M1128.7 1416.1H1136.5" stroke="#222" stroke-width="3.4"/>
<text x="1123.5" y="1424.7" font-size="24" text-anchor="end">1</text>
<path d="M1128.7 1493.9H1136.5" stroke="#222" stroke-width="3.4"/>
<text x="1123.5" y="1502.5" font-size="24" text-anchor="end">0</text>
<rect x="1205" y="1261.1" width="70.6" height="250.6" fill="none" stroke="#8e2a8e" stroke-width="2.6"/>
<text transform="translate(1099.0,1375.0) rotate(-90)" font-size="24.3" text-anchor="middle">−log<tspan font-size="14" dy="4.5">10</tspan><tspan dy="-4.5">(</tspan><tspan font-style="italic">P</tspan>)</text>
<path d="M1174.5 1500.5V1508.0" stroke="#222" stroke-width="2.6"/>
<text transform="translate(1186.0,1529.2) rotate(-45)" font-size="24" text-anchor="end">Astrocyte</text>
<path d="M1239.4 1500.5V1508.0" stroke="#222" stroke-width="2.6"/>
<text transform="translate(1245.9,1529.2) rotate(-45)" font-size="24" text-anchor="end">Choroid</text>
<path d="M1304.4 1500.5V1508.0" stroke="#222" stroke-width="2.6"/>
<text transform="translate(1323.1,1529.2) rotate(-45)" font-size="24" text-anchor="end">Endothelial</text>
<path d="M1369.3 1500.5V1508.0" stroke="#222" stroke-width="2.6"/>
<text transform="translate(1382.5,1529.2) rotate(-45)" font-size="24" text-anchor="end">Glyc</text>
<path d="M1434.3 1500.5V1508.0" stroke="#222" stroke-width="2.6"/>
<text transform="translate(1442.3,1529.2) rotate(-45)" font-size="24" text-anchor="end">IPC</text>
<path d="M1499.2 1500.5V1508.0" stroke="#222" stroke-width="2.6"/>
<text transform="translate(1495.9,1529.2) rotate(-45)" font-size="24" text-anchor="end">MGE</text>
<path d="M1564.1 1500.5V1508.0" stroke="#222" stroke-width="2.6"/>
<text transform="translate(1574.3,1529.2) rotate(-45)" font-size="24" text-anchor="end">Microglia</text>
<path d="M1629.1 1500.5V1508.0" stroke="#222" stroke-width="2.6"/>
<text transform="translate(1638.7,1529.2) rotate(-45)" font-size="24" text-anchor="end">Mural</text>
<path d="M1694.0 1500.5V1508.0" stroke="#222" stroke-width="2.6"/>
<text transform="translate(1708.1,1529.2) rotate(-45)" font-size="24" text-anchor="end">Neuron</text>
<path d="M1759.0 1500.5V1508.0" stroke="#222" stroke-width="2.6"/>
<text transform="translate(1782.2,1529.2) rotate(-45)" font-size="24" text-anchor="end">OPC</text>
<path d="M1823.9 1500.5V1508.0" stroke="#222" stroke-width="2.6"/>
<text transform="translate(1840.9,1529.2) rotate(-45)" font-size="24" text-anchor="end">RGC</text>
<path d="M1888.8 1500.5V1508.0" stroke="#222" stroke-width="2.6"/>
<text transform="translate(1900.1,1529.2) rotate(-45)" font-size="24" text-anchor="end">Unknown</text>
<text x="1048.5" y="1682.4" font-size="26.5" font-weight="bold">h</text>
<text x="1517.0" y="1669.6" font-size="24.4" text-anchor="middle">CH risk gene enrichment in postnatal mouse ventricular wall</text>
<rect x="1147.4" y="1883.5" width="68.6" height="45.2" fill="#f07f7a"/>
<rect x="1234.2" y="1928.0" width="68.6" height="0.7" fill="#ececdc"/>
<rect x="1321.0" y="1928.0" width="68.6" height="0.7" fill="#efe6ec"/>
<rect x="1407.8" y="1868.5" width="68.6" height="60.2" fill="#7fb555"/>
<rect x="1494.6" y="1889.8" width="68.6" height="38.9" fill="#a78bc5"/>
<rect x="1668.2" y="1884.9" width="68.6" height="43.8" fill="#32bcc3"/>
<rect x="1755.0" y="1928.0" width="68.6" height="0.7" fill="#dcefee"/>
<rect x="1841.8" y="1928.0" width="68.6" height="0.7" fill="#dcefee"/>
<path d="M1132.2 1772.6H1922.5" stroke="#000" stroke-width="1.9" stroke-dasharray="9.2 5.8"/>
<path d="M1132.2 1827.3H1922.5" stroke="#000" stroke-width="1.9" stroke-dasharray="9.2 5.8"/>
<rect x="1132.2" y="1683.9" width="790.3" height="255.7" fill="none" stroke="#222" stroke-width="2.1"/>
<path d="M1121.5 1694.8H1132.2" stroke="#222" stroke-width="4.2"/>
<text x="1114.3" y="1705.4" font-size="24" text-anchor="end">3</text>
<path d="M1121.5 1772.6H1132.2" stroke="#222" stroke-width="4.2"/>
<text x="1114.3" y="1780.0" font-size="24" text-anchor="end">2</text>
<path d="M1121.5 1850.9H1132.2" stroke="#222" stroke-width="4.2"/>
<text x="1114.3" y="1858.5" font-size="24" text-anchor="end">1</text>
<path d="M1121.5 1928.7H1132.2" stroke="#222" stroke-width="4.2"/>
<text x="1114.3" y="1936.3" font-size="24" text-anchor="end">0</text>
<rect x="1656.4" y="1696.2" width="90.4" height="249.8" fill="none" stroke="#8e2a8e" stroke-width="2.6"/>
<text transform="translate(1090.0,1812.0) rotate(-90)" font-size="24.3" text-anchor="middle">−log<tspan font-size="14" dy="4.5">10</tspan><tspan dy="-4.5">(</tspan><tspan font-style="italic">P</tspan>)</text>
<path d="M1181.7 1939.6V1947.1" stroke="#222" stroke-width="2.6"/>
<text transform="translate(1210.7,1962.9) rotate(-45)" font-size="24" text-anchor="end">aNSC+TAC+NB</text>
<path d="M1268.5 1939.6V1947.1" stroke="#222" stroke-width="2.6"/>
<text transform="translate(1289.9,1962.9) rotate(-45)" font-size="24" text-anchor="end">Astrocytes</text>
<path d="M1355.3 1939.6V1947.1" stroke="#222" stroke-width="2.6"/>
<text transform="translate(1372.7,1965.6) rotate(-45)" font-size="24" text-anchor="end">OPC</text>
<path d="M1442.1 1939.6V1947.1" stroke="#222" stroke-width="2.6"/>
<text transform="translate(1462.1,1964.6) rotate(-45)" font-size="24" text-anchor="end">COP</text>
<path d="M1528.9 1939.6V1947.1" stroke="#222" stroke-width="2.6"/>
<text transform="translate(1543.9,1962.9) rotate(-45)" font-size="24" text-anchor="end">Oligo</text>
<path d="M1615.7 1939.6V1947.1" stroke="#222" stroke-width="2.6"/>
<text transform="translate(1637.9,1964.3) rotate(-45)" font-size="24" text-anchor="end">Microglia</text>
<path d="M1702.5 1939.6V1947.1" stroke="#222" stroke-width="2.6"/>
<text transform="translate(1731.3,1964.4) rotate(-45)" font-size="24" text-anchor="end">Ependymal</text>
<path d="M1789.3 1939.6V1947.1" stroke="#222" stroke-width="2.6"/>
<text transform="translate(1825.7,1955.0) rotate(-45)" font-size="24" text-anchor="end">Mural Cell +</text>
<text transform="translate(1830.3,1992.6) rotate(-45)" font-size="24" text-anchor="end">Fibroblast</text>
<path d="M1876.1 1939.6V1947.1" stroke="#222" stroke-width="2.6"/>
<text transform="translate(1917.3,1961.6) rotate(-45)" font-size="24" text-anchor="end">Endothelial</text>
<text x="1170.5" y="2124.0" font-size="26.5" font-weight="bold">i</text>
<text x="1494.3" y="2131.9" font-size="24.4" text-anchor="middle">CH risk gene enrichment in prenatal mouse meninges</text>
<rect x="1351.5" y="2400.8" width="94" height="0.8" fill="#f3e6e6"/>
<rect x="1470.8" y="2400.8" width="94" height="0.8" fill="#e2efe6"/>
<rect x="1589.3" y="2400.8" width="94" height="0.8" fill="#e2e8f2"/>
<path d="M1328.7 2246.0H1706.2" stroke="#000" stroke-width="1.9" stroke-dasharray="9.2 5.8"/>
<path d="M1328.7 2300.2H1706.2" stroke="#000" stroke-width="1.9" stroke-dasharray="9.2 5.8"/>
<rect x="1328.7" y="2153.3" width="377.5" height="255.1" fill="none" stroke="#222" stroke-width="2.1"/>
<path d="M1319.0 2168.2H1328.7" stroke="#222" stroke-width="3.8"/>
<text x="1311.0" y="2176.8" font-size="24" text-anchor="end">3</text>
<path d="M1319.0 2246.0H1328.7" stroke="#222" stroke-width="3.8"/>
<text x="1311.0" y="2252.6" font-size="24" text-anchor="end">2</text>
<path d="M1319.0 2323.7H1328.7" stroke="#222" stroke-width="3.8"/>
<text x="1311.0" y="2329.9" font-size="24" text-anchor="end">1</text>
<path d="M1319.0 2401.5H1328.7" stroke="#222" stroke-width="3.8"/>
<text x="1311.0" y="2406.9" font-size="24" text-anchor="end">0</text>
<text transform="translate(1278.0,2281.0) rotate(-90)" font-size="24.3" text-anchor="middle">−log<tspan font-size="14" dy="4.5">10</tspan><tspan dy="-4.5">(</tspan><tspan font-style="italic">P</tspan>)</text>
<path d="M1398.5 2408.4V2415.9" stroke="#222" stroke-width="3.8"/>
<text transform="translate(1410.0,2438.0) rotate(-45)" font-size="24" text-anchor="end">Arachnoid</text>
<path d="M1517.8 2408.4V2415.9" stroke="#222" stroke-width="3.8"/>
<text transform="translate(1527.0,2436.9) rotate(-45)" font-size="24" text-anchor="end">Dural</text>
<path d="M1636.3 2408.4V2415.9" stroke="#222" stroke-width="3.8"/>
<text transform="translate(1645.5,2439.2) rotate(-45)" font-size="24" text-anchor="end">Pia</text>
</svg></body></html>
